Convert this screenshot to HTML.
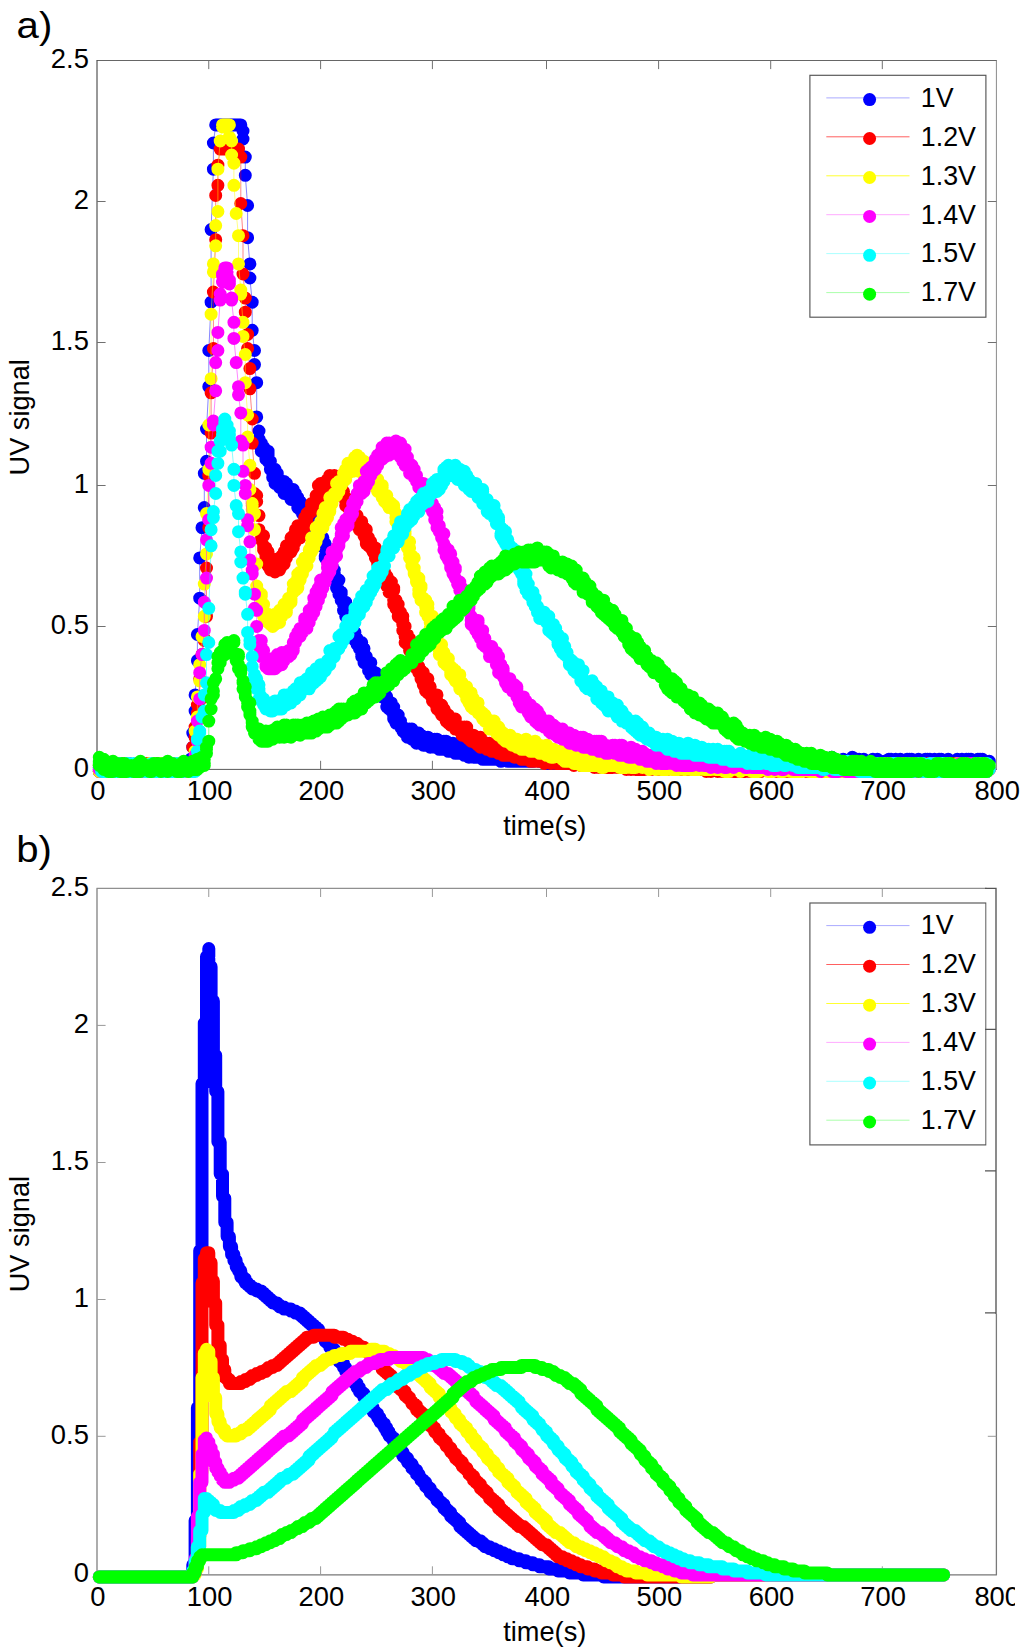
<!DOCTYPE html>
<html><head><meta charset="utf-8"><title>UV signal</title>
<style>html,body{margin:0;padding:0;background:#fff}body{width:1024px;height:1652px;overflow:hidden}svg{display:block}text{font-family:"Liberation Sans", sans-serif}.d{fill:none;stroke-linecap:round;stroke-linejoin:round;stroke-width:13.0}.l{fill:none;stroke-width:0.8;stroke-opacity:.6}</style></head><body>
<svg width="1024" height="1652" viewBox="0 0 1024 1652">
<rect width="1024" height="1652" fill="#fff"/>
<defs><clipPath id="c800"><rect x="0" y="1500" width="1015" height="152"/></clipPath></defs>
<g fill="none" stroke-width="1">
<path d="M96.5 60.5H996.9" stroke="#666"/>
<path d="M996.4 60.5V769.4" stroke="#8a8a8a"/>
<path d="M96.5 769.4H996.9" stroke="#5a5a5a"/>
<path d="M97.0 60.5V769.4" stroke="#333"/>
<path d="M208.75 769.4v-8.6M208.75 60.5v8.6M320.6 769.4v-8.6M320.6 60.5v8.6M432.4 769.4v-8.6M432.4 60.5v8.6M546.5 769.4v-8.6M546.5 60.5v8.6M658.6 769.4v-8.6M658.6 60.5v8.6M770.7 769.4v-8.6M770.7 60.5v8.6M882.3 769.4v-8.6M882.3 60.5v8.6M97.0 626.5h8.6M996.4 626.5h-8.6M97.0 485.5h8.6M996.4 485.5h-8.6M97.0 342.5h8.6M996.4 342.5h-8.6M97.0 201.5h8.6M996.4 201.5h-8.6" stroke="#707070" stroke-width="1"/>
</g>
<polyline class="l" stroke="#0000ff" points="99.3,771.4 99.3,769.4 99.3,767.4 101.6,771.4 101.6,771.4 101.6,763.4 103.8,771.4 103.8,771.4 103.8,763.4 103.8,767.4 106.1,769.4 106.1,769.4 106.1,767.4 106.1,771.4 108.4,771.4 108.4,765.4 108.4,767.4 108.4,769.4 110.7,765.4 110.7,767.4 110.7,763.4 110.7,771.4 113,767.4 113,769.4 113,769.4 113,767.4 115.3,771.4 115.3,765.4 115.3,765.4 115.3,771.4 117.5,769.4 117.5,771.4 117.5,771.4 119.8,765.4 119.8,769.4 119.8,771.4 119.8,767.4 122.1,771.4 122.1,765.4 122.1,771.4 122.1,771.4 124.4,771.4 124.4,769.4 124.4,769.4 124.4,765.4 126.7,767.4 126.7,769.4 126.7,771.4 126.7,771.4 128.9,763.4 128.9,769.4 128.9,767.4 128.9,771.4 131.2,771.4 131.2,765.4 131.2,767.4 131.2,769.4 133.5,769.4 133.5,771.4 133.5,771.4 133.5,771.4 135.8,765.4 135.8,769.4 135.8,771.4 138.1,767.4 138.1,771.4 138.1,771.4 138.1,767.4 140.4,765.4 140.4,771.4 140.4,765.4 140.4,771.4 142.6,771.4 142.6,771.4 142.6,771.4 142.6,767.4 144.9,769.4 144.9,765.4 144.9,771.4 144.9,769.4 147.2,771.4 147.2,763.4 147.2,763.4 147.2,769.4 149.5,769.4 149.5,769.4 149.5,765.4 149.5,771.4 151.8,771.4 151.8,769.4 151.8,771.4 154.1,765.4 154.1,765.4 154.1,767.4 154.1,767.4 156.3,767.4 156.3,765.4 156.3,763.4 156.3,771.4 158.6,767.4 158.6,771.4 158.6,769.4 158.6,765.4 160.9,765.4 160.9,765.4 160.9,771.4 160.9,769.4 163.2,771.4 163.2,763.4 163.2,771.4 163.2,771.4 165.5,769.4 165.5,771.4 165.5,765.4 165.5,767.4 167.7,771.4 167.7,769.4 167.7,771.4 170,767.4 170,771.4 170,771.4 170,771.4 172.3,767.4 172.3,767.4 172.3,769.4 172.3,767.4 174.6,769.4 174.6,771.4 174.6,769.4 174.6,769.4 176.9,763.4 176.9,771.4 176.9,771.4 176.9,767.4 179.2,763.4 179.2,765.4 179.2,767.4 179.2,771.4 181.4,765.4 181.4,767.4 181.4,771.4 181.4,769.4 183.7,771.4 183.7,765.4 183.7,767.4 183.7,765.4 186,765.4 186,771.4 186,765.4 188.3,771.4 188.3,771.4 188.3,767.4 188.3,765.4 190.6,765.4 190.6,761.3 190.6,759.3 190.6,759.3 192.8,747.2 192.8,733.1 195.1,711 195.1,694.9 197.4,660.6 197.4,634.5 199.7,598.2 199.7,557.9 202,527.7 204.3,507.6 204.3,473.3 206.5,461.3 206.5,429 208.8,386.7 208.8,350.5 211.1,302.2 211.1,229.6 213.4,169.2 213.4,143 215.7,124.9 215.7,124.9 215.7,124.9 215.7,124.9 217.9,124.9 217.9,124.9 217.9,124.9 217.9,124.9 220.2,124.9 220.2,124.9 220.2,124.9 222.5,124.9 222.5,124.9 222.5,124.9 222.5,124.9 224.8,124.9 224.8,124.9 224.8,124.9 224.8,124.9 227.1,124.9 227.1,124.9 227.1,124.9 227.1,124.9 229.4,124.9 229.4,124.9 229.4,124.9 229.4,124.9 231.6,124.9 231.6,124.9 231.6,124.9 231.6,124.9 233.9,124.9 233.9,124.9 233.9,124.9 233.9,124.9 236.2,124.9 236.2,124.9 236.2,124.9 238.5,124.9 238.5,124.9 238.5,124.9 238.5,124.9 240.8,124.9 240.8,124.9 240.8,124.9 240.8,124.9 243,131 243,139 245.3,157.1 245.3,175.3 247.6,205.5 247.6,237.7 249.9,263.9 249.9,278 252.2,302.2 252.2,330.3 254.5,350.5 254.5,364.6 256.7,382.7 256.7,416.9 259,431 259,439.1 261.3,443.1 261.3,449.2 261.3,451.2 263.6,451.2 263.6,451.2 263.6,447.2 263.6,449.2 265.9,457.2 265.9,459.2 265.9,457.2 265.9,451.2 268.1,451.2 268.1,461.3 268.1,453.2 268.1,455.2 270.4,465.3 270.4,461.3 270.4,469.3 272.7,473.3 272.7,469.3 272.7,477.4 272.7,471.3 275,471.3 275,469.3 275,479.4 275,483.4 277.3,473.3 277.3,473.3 277.3,473.3 277.3,481.4 279.6,479.4 279.6,485.4 279.6,487.4 279.6,487.4 281.8,481.4 281.8,487.4 281.8,483.4 281.8,487.4 284.1,489.5 284.1,481.4 284.1,493.5 284.1,489.5 286.4,493.5 286.4,483.4 286.4,491.5 286.4,493.5 288.7,495.5 288.7,491.5 288.7,495.5 291,497.5 291,499.5 291,497.5 291,495.5 293.3,495.5 293.3,489.5 293.3,489.5 293.3,491.5 295.5,493.5 295.5,499.5 295.5,499.5 295.5,501.5 297.8,503.6 297.8,507.6 297.8,497.5 297.8,505.6 300.1,509.6 300.1,505.6 300.1,501.5 300.1,507.6 302.4,509.6 302.4,505.6 302.4,513.6 302.4,513.6 304.7,509.6 304.7,511.6 304.7,505.6 306.9,513.6 306.9,509.6 306.9,519.7 306.9,519.7 309.2,515.6 309.2,521.7 309.2,523.7 309.2,523.7 311.5,521.7 311.5,523.7 311.5,521.7 311.5,517.6 313.8,527.7 313.8,529.7 313.8,525.7 313.8,533.8 316.1,531.7 316.1,533.8 316.1,533.8 316.1,537.8 318.4,533.8 318.4,533.8 318.4,531.7 318.4,529.7 320.6,541.8 320.6,537.8 320.6,541.8 320.6,545.8 322.9,537.8 322.9,541.8 322.9,539.8 325.2,543.8 325.2,543.8 325.2,555.9 325.2,557.9 327.5,557.9 327.5,557.9 327.5,553.9 327.5,559.9 329.8,559.9 329.8,557.9 329.8,568 329.8,562 332,572 332,572 332,566 332,568 334.3,574 334.3,576.1 334.3,570 334.3,580.1 336.6,584.1 336.6,584.1 336.6,588.1 336.6,580.1 338.9,590.2 338.9,580.1 338.9,594.2 341.2,594.2 341.2,592.2 341.2,598.2 341.2,600.2 343.5,604.3 343.5,604.3 343.5,610.3 343.5,610.3 345.7,602.2 345.7,614.3 345.7,616.3 345.7,612.3 348,610.3 348,620.4 348,620.4 348,618.4 350.3,618.4 350.3,622.4 350.3,630.4 350.3,632.4 352.6,624.4 352.6,628.4 352.6,626.4 352.6,628.4 354.9,636.5 354.9,640.5 354.9,632.4 354.9,636.5 357.1,640.5 357.1,638.5 357.1,644.5 359.4,646.5 359.4,644.5 359.4,648.6 359.4,646.5 361.7,642.5 361.7,646.5 361.7,654.6 361.7,656.6 364,648.6 364,658.6 364,652.6 364,662.7 366.3,660.6 366.3,660.6 366.3,656.6 366.3,656.6 368.6,668.7 368.6,662.7 368.6,664.7 368.6,670.7 370.8,662.7 370.8,668.7 370.8,662.7 370.8,674.7 373.1,672.7 373.1,674.7 373.1,672.7 375.4,672.7 375.4,676.8 375.4,678.8 375.4,678.8 377.7,680.8 377.7,674.7 377.7,682.8 377.7,682.8 380,686.8 380,688.8 380,678.8 380,690.9 382.2,682.8 382.2,688.8 382.2,684.8 382.2,696.9 384.5,686.8 384.5,690.9 384.5,696.9 384.5,694.9 386.8,696.9 386.8,700.9 386.8,700.9 386.8,707 389.1,709 389.1,702.9 389.1,707 389.1,702.9 391.4,711 391.4,705 391.4,702.9 393.7,707 393.7,707 393.7,717 393.7,719 395.9,719 395.9,719 395.9,721.1 395.9,723.1 398.2,723.1 398.2,715 398.2,723.1 398.2,721.1 400.5,723.1 400.5,721.1 400.5,721.1 400.5,727.1 402.8,727.1 402.8,731.1 402.8,731.1 402.8,731.1 405.1,731.1 405.1,731.1 405.1,729.1 405.1,733.1 407.4,733.1 407.4,729.1 407.4,737.2 409.6,737.2 409.6,737.2 409.6,729.1 409.6,733.1 411.9,733.1 411.9,729.1 411.9,739.2 411.9,731.1 414.2,739.2 414.2,737.2 414.2,735.2 414.2,733.1 416.5,741.2 416.5,739.2 416.5,743.2 416.5,741.2 418.8,733.1 418.8,735.2 418.8,739.2 418.8,737.2 421,735.2 421,743.2 421,735.2 421,741.2 423.3,745.2 423.3,741.2 423.3,741.2 425.6,739.2 425.6,739.2 425.6,745.2 425.6,741.2 427.9,737.2 427.9,741.2 427.9,737.2 427.9,743.2 430.2,739.2 430.2,747.2 430.2,739.2 430.2,745.2 432.5,739.2 432.5,745.2 432.5,743.2 432.5,739.2 434.7,741.2 434.7,743.2 434.7,739.2 434.7,747.2 437,747.2 437,745.2 437,739.2 437,743.2 439.3,747.2 439.3,749.3 439.3,745.2 439.3,745.2 441.6,747.2 441.6,745.2 441.6,749.3 443.9,741.2 443.9,749.3 443.9,749.3 443.9,749.3 446.1,741.2 446.1,749.3 446.1,749.3 446.1,741.2 448.4,749.3 448.4,743.2 448.4,751.3 448.4,743.2 450.7,751.3 450.7,751.3 450.7,745.2 450.7,743.2 453,743.2 453,745.2 453,743.2 453,743.2 455.3,749.3 455.3,753.3 455.3,745.2 455.3,751.3 457.6,751.3 457.6,749.3 457.6,753.3 459.8,753.3 459.8,753.3 459.8,749.3 459.8,747.2 462.1,745.2 462.1,747.2 462.1,745.2 462.1,749.3 464.4,749.3 464.4,751.3 464.4,755.3 464.4,755.3 466.7,749.3 466.7,755.3 466.7,749.3 466.7,753.3 469,755.3 469,753.3 469,753.3 469,757.3 471.2,755.3 471.2,755.3 471.2,755.3 471.2,751.3 473.5,757.3 473.5,755.3 473.5,753.3 473.5,749.3 475.8,757.3 475.8,757.3 475.8,757.3 478.1,757.3 478.1,757.3 478.1,757.3 478.1,757.3 480.4,757.3 480.4,755.3 480.4,753.3 480.4,757.3 482.7,757.3 482.7,759.3 482.7,757.3 482.7,757.3 484.9,755.3 484.9,751.3 484.9,753.3 484.9,757.3 487.2,759.3 487.2,759.3 487.2,757.3 487.2,757.3 489.5,753.3 489.5,759.3 489.5,759.3 489.5,755.3 491.8,755.3 491.8,755.3 491.8,751.3 494.1,759.3 494.1,759.3 494.1,755.3 494.1,755.3 496.4,751.3 496.4,751.3 496.4,755.3 496.4,753.3 498.6,755.3 498.6,759.3 498.6,755.3 498.6,759.3 500.9,759.3 500.9,759.3 500.9,761.3 500.9,753.3 503.2,755.3 503.2,755.3 503.2,759.3 503.2,759.3 505.5,759.3 505.5,757.3 505.5,753.3 505.5,755.3 507.8,753.3 507.8,759.3 507.8,755.3 507.8,761.3 510,757.3 510,761.3 510,757.3 512.3,757.3 512.3,759.3 512.3,759.3 512.3,755.3 514.6,759.3 514.6,759.3 514.6,761.3 514.6,759.3 516.9,755.3 516.9,753.3 516.9,759.3 516.9,753.3 519.2,753.3 519.2,761.3 519.2,761.3 519.2,757.3 521.5,759.3 521.5,753.3 521.5,759.3 521.5,755.3 523.7,757.3 523.7,761.3 523.7,755.3 523.7,759.3 526,761.3 526,761.3 526,759.3 528.3,757.3 528.3,761.3 528.3,755.3 528.3,761.3 530.6,755.3 530.6,761.3 530.6,761.3 530.6,761.3 532.9,759.3 532.9,761.3 532.9,759.3 532.9,755.3 535.1,759.3 535.1,757.3 535.1,759.3 535.1,755.3 537.4,759.3 537.4,757.3 537.4,755.3 537.4,757.3 539.7,759.3 539.7,761.3 539.7,755.3 539.7,757.3 542,755.3 542,761.3 542,759.3 542,755.3 544.3,761.3 544.3,755.3 544.3,759.3 546.6,761.3 546.6,761.3 546.6,763.4 546.6,757.3 548.8,757.3 548.8,763.4 548.8,761.3 548.8,757.3 551.1,761.3 551.1,759.3 551.1,757.3 551.1,759.3 553.4,763.4 553.4,755.3 553.4,757.3 553.4,759.3 555.7,761.3 555.7,759.3 555.7,761.3 555.7,763.4 558,763.4 558,763.4 558,763.4 558,761.3 560.2,759.3 560.2,759.3 560.2,759.3 562.5,757.3 562.5,763.4 562.5,761.3 562.5,763.4 564.8,761.3 564.8,763.4 564.8,763.4 564.8,763.4 567.1,761.3 567.1,757.3 567.1,761.3 567.1,757.3 569.4,763.4 569.4,761.3 569.4,761.3 569.4,763.4 571.7,761.3 571.7,759.3 571.7,757.3 571.7,763.4 573.9,757.3 573.9,759.3 573.9,759.3 573.9,763.4 576.2,757.3 576.2,763.4 576.2,761.3 576.2,761.3 578.5,755.3 578.5,759.3 578.5,755.3 580.8,763.4 580.8,759.3 580.8,759.3 580.8,761.3 583.1,759.3 583.1,761.3 583.1,763.4 583.1,759.3 585.3,763.4 585.3,761.3 585.3,761.3 585.3,763.4 587.6,761.3 587.6,759.3 587.6,763.4 587.6,763.4 589.9,763.4 589.9,759.3 589.9,763.4 589.9,763.4 592.2,761.3 592.2,761.3 592.2,765.4 592.2,755.3 594.5,763.4 594.5,759.3 594.5,763.4 596.8,761.3 596.8,763.4 596.8,763.4 596.8,761.3 599,761.3 599,761.3 599,759.3 599,763.4 601.3,765.4 601.3,763.4 601.3,763.4 601.3,761.3 603.6,761.3 603.6,763.4 603.6,765.4 603.6,761.3 605.9,763.4 605.9,761.3 605.9,759.3 605.9,759.3 608.2,763.4 608.2,763.4 608.2,757.3 608.2,765.4 610.5,759.3 610.5,761.3 610.5,761.3 610.5,763.4 612.7,765.4 612.7,761.3 612.7,765.4 615,757.3 615,759.3 615,763.4 615,761.3 617.3,761.3 617.3,755.3 617.3,765.4 617.3,763.4 619.6,763.4 619.6,759.3 619.6,759.3 619.6,763.4 621.9,765.4 621.9,759.3 621.9,763.4 621.9,765.4 624.1,761.3 624.1,761.3 624.1,763.4 624.1,763.4 626.4,761.3 626.4,763.4 626.4,763.4 626.4,757.3 628.7,761.3 628.7,763.4 628.7,761.3 631,757.3 631,757.3 631,759.3 631,757.3 633.3,759.3 633.3,759.3 633.3,763.4 633.3,765.4 635.6,759.3 635.6,761.3 635.6,757.3 635.6,763.4 637.8,757.3 637.8,763.4 637.8,757.3 637.8,755.3 640.1,765.4 640.1,763.4 640.1,755.3 640.1,757.3 642.4,759.3 642.4,765.4 642.4,765.4 642.4,763.4 644.7,757.3 644.7,759.3 644.7,763.4 644.7,759.3 647,757.3 647,763.4 647,757.3 649.2,763.4 649.2,763.4 649.2,765.4 649.2,765.4 651.5,761.3 651.5,765.4 651.5,761.3 651.5,765.4 653.8,759.3 653.8,765.4 653.8,765.4 653.8,763.4 656.1,761.3 656.1,759.3 656.1,759.3 656.1,759.3 658.4,759.3 658.4,761.3 658.4,763.4 658.4,765.4 660.7,757.3 660.7,763.4 660.7,761.3 660.7,765.4 662.9,763.4 662.9,765.4 662.9,763.4 665.2,759.3 665.2,763.4 665.2,759.3 665.2,765.4 667.5,763.4 667.5,763.4 667.5,761.3 667.5,765.4 669.8,759.3 669.8,757.3 669.8,759.3 669.8,765.4 672.1,761.3 672.1,763.4 672.1,761.3 672.1,765.4 674.3,759.3 674.3,763.4 674.3,757.3 674.3,765.4 676.6,763.4 676.6,763.4 676.6,759.3 676.6,759.3 678.9,765.4 678.9,763.4 678.9,759.3 678.9,763.4 681.2,763.4 681.2,757.3 681.2,759.3 683.5,763.4 683.5,761.3 683.5,757.3 683.5,765.4 685.8,757.3 685.8,757.3 685.8,759.3 685.8,761.3 688,761.3 688,761.3 688,761.3 688,765.4 690.3,761.3 690.3,761.3 690.3,763.4 690.3,761.3 692.6,763.4 692.6,759.3 692.6,759.3 692.6,765.4 694.9,759.3 694.9,763.4 694.9,765.4 694.9,765.4 697.2,763.4 697.2,761.3 697.2,763.4 699.4,765.4 699.4,759.3 699.4,763.4 699.4,757.3 701.7,765.4 701.7,761.3 701.7,763.4 701.7,759.3 704,761.3 704,761.3 704,765.4 704,759.3 706.3,763.4 706.3,759.3 706.3,759.3 706.3,765.4 708.6,765.4 708.6,759.3 708.6,757.3 708.6,757.3 710.9,763.4 710.9,759.3 710.9,765.4 710.9,765.4 713.1,761.3 713.1,761.3 713.1,759.3 715.4,765.4 715.4,763.4 715.4,757.3 715.4,763.4 717.7,763.4 717.7,761.3 717.7,757.3 717.7,765.4 720,761.3 720,763.4 720,763.4 720,765.4 722.3,763.4 722.3,761.3 722.3,763.4 722.3,763.4 724.5,761.3 724.5,759.3 724.5,761.3 724.5,763.4 726.8,757.3 726.8,765.4 726.8,765.4 726.8,757.3 729.1,765.4 729.1,765.4 729.1,763.4 729.1,763.4 731.4,763.4 731.4,759.3 731.4,765.4 733.7,765.4 733.7,765.4 733.7,757.3 733.7,763.4 736,763.4 736,759.3 736,757.3 736,763.4 738.2,759.3 738.2,765.4 738.2,763.4 738.2,761.3 740.5,765.4 740.5,765.4 740.5,765.4 740.5,765.4 742.8,759.3 742.8,759.3 742.8,765.4 742.8,763.4 745.1,761.3 745.1,759.3 745.1,761.3 745.1,761.3 747.4,765.4 747.4,759.3 747.4,759.3 749.7,763.4 749.7,765.4 749.7,765.4 749.7,761.3 751.9,761.3 751.9,765.4 751.9,763.4 751.9,757.3 754.2,765.4 754.2,765.4 754.2,765.4 754.2,763.4 756.5,763.4 756.5,759.3 756.5,765.4 756.5,765.4 758.8,757.3 758.8,765.4 758.8,765.4 758.8,763.4 761.1,765.4 761.1,765.4 761.1,761.3 761.1,761.3 763.3,761.3 763.3,761.3 763.3,761.3 763.3,765.4 765.6,761.3 765.6,761.3 765.6,765.4 767.9,763.4 767.9,765.4 767.9,759.3 767.9,765.4 770.2,765.4 770.2,759.3 770.2,759.3 770.2,759.3 772.5,761.3 772.5,763.4 772.5,763.4 772.5,763.4 774.8,761.3 774.8,757.3 774.8,765.4 774.8,759.3 777,765.4 777,765.4 777,757.3 777,765.4 779.3,763.4 779.3,759.3 779.3,761.3 779.3,763.4 781.6,761.3 781.6,757.3 781.6,757.3 783.9,765.4 783.9,765.4 783.9,765.4 783.9,765.4 786.2,759.3 786.2,759.3 786.2,765.4 786.2,765.4 788.4,765.4 788.4,761.3 788.4,759.3 788.4,763.4 790.7,761.3 790.7,759.3 790.7,759.3 790.7,765.4 793,761.3 793,759.3 793,759.3 793,763.4 795.3,765.4 795.3,763.4 795.3,763.4 795.3,763.4 797.6,759.3 797.6,761.3 797.6,761.3 797.6,761.3 799.9,765.4 799.9,765.4 799.9,763.4 802.1,759.3 802.1,761.3 802.1,759.3 802.1,761.3 804.4,759.3 804.4,757.3 804.4,761.3 804.4,759.3 806.7,757.3 806.7,761.3 806.7,759.3 806.7,765.4 809,767.4 809,759.3 809,765.4 809,765.4 811.3,765.4 811.3,761.3 811.3,767.4 811.3,759.3 813.5,765.4 813.5,761.3 813.5,759.3 813.5,761.3 815.8,763.4 815.8,761.3 815.8,759.3 818.1,761.3 818.1,765.4 818.1,767.4 818.1,759.3 820.4,761.3 820.4,767.4 820.4,763.4 820.4,763.4 822.7,765.4 822.7,759.3 822.7,765.4 822.7,765.4 825,765.4 825,765.4 825,759.3 825,761.3 827.2,767.4 827.2,765.4 827.2,767.4 827.2,761.3 829.5,759.3 829.5,767.4 829.5,763.4 829.5,765.4 831.8,765.4 831.8,761.3 831.8,757.3 831.8,765.4 834.1,763.4 834.1,765.4 834.1,767.4 836.4,763.4 836.4,767.4 836.4,761.3 836.4,761.3 838.6,767.4 838.6,763.4 838.6,765.4 838.6,761.3 840.9,765.4 840.9,761.3 840.9,763.4 840.9,763.4 843.2,765.4 843.2,759.3 843.2,765.4 843.2,761.3 845.5,763.4 845.5,765.4 845.5,761.3 845.5,765.4 847.8,761.3 847.8,765.4 847.8,761.3 847.8,761.3 850.1,759.3 850.1,765.4 850.1,765.4 852.3,757.3 852.3,763.4 852.3,765.4 852.3,761.3 854.6,765.4 854.6,759.3 854.6,761.3 854.6,763.4 856.9,765.4 856.9,761.3 856.9,759.3 856.9,761.3 859.2,759.3 859.2,767.4 859.2,761.3 859.2,759.3 861.5,763.4 861.5,767.4 861.5,763.4 861.5,765.4 863.8,767.4 863.8,759.3 863.8,761.3 863.8,763.4 866,761.3 866,761.3 866,763.4 866,767.4 868.3,765.4 868.3,763.4 868.3,763.4 870.6,765.4 870.6,767.4 870.6,765.4 870.6,767.4 872.9,759.3 872.9,765.4 872.9,765.4 872.9,763.4 875.2,765.4 875.2,763.4 875.2,763.4 875.2,767.4 877.4,759.3 877.4,763.4 877.4,767.4 877.4,759.3 879.7,767.4 879.7,761.3 879.7,763.4 879.7,765.4 882,765.4 882,763.4 882,765.4 882,765.4 884.3,765.4 884.3,765.4 884.3,761.3 886.6,765.4 886.6,767.4 886.6,761.3 886.6,767.4 888.9,763.4 888.9,763.4 888.9,759.3 888.9,767.4 891.1,759.3 891.1,767.4 891.1,767.4 891.1,763.4 893.4,767.4 893.4,763.4 893.4,761.3 893.4,767.4 895.7,761.3 895.7,765.4 895.7,759.3 895.7,767.4 898,767.4 898,763.4 898,765.4 898,765.4 900.3,759.3 900.3,765.4 900.3,767.4 900.3,767.4 902.5,763.4 902.5,761.3 902.5,761.3 904.8,763.4 904.8,765.4 904.8,767.4 904.8,765.4 907.1,765.4 907.1,759.3 907.1,765.4 907.1,767.4 909.4,763.4 909.4,765.4 909.4,767.4 909.4,759.3 911.7,759.3 911.7,765.4 911.7,761.3 911.7,765.4 914,761.3 914,763.4 914,761.3 914,765.4 916.2,767.4 916.2,761.3 916.2,765.4 916.2,765.4 918.5,761.3 918.5,761.3 918.5,759.3 920.8,765.4 920.8,763.4 920.8,767.4 920.8,767.4 923.1,765.4 923.1,765.4 923.1,765.4 923.1,765.4 925.4,759.3 925.4,765.4 925.4,765.4 925.4,759.3 927.6,761.3 927.6,761.3 927.6,759.3 927.6,761.3 929.9,765.4 929.9,759.3 929.9,767.4 929.9,759.3 932.2,765.4 932.2,765.4 932.2,763.4 932.2,765.4 934.5,759.3 934.5,761.3 934.5,761.3 934.5,765.4 936.8,765.4 936.8,767.4 936.8,761.3 939.1,767.4 939.1,765.4 939.1,767.4 939.1,759.3 941.3,759.3 941.3,765.4 941.3,759.3 941.3,767.4 943.6,761.3 943.6,765.4 943.6,765.4 943.6,763.4 945.9,765.4 945.9,765.4 945.9,763.4 945.9,761.3 948.2,759.3 948.2,765.4 948.2,765.4 948.2,767.4 950.5,765.4 950.5,767.4 950.5,765.4 950.5,761.3 952.8,767.4 952.8,763.4 952.8,765.4 955,765.4 955,763.4 955,765.4 955,765.4 957.3,767.4 957.3,763.4 957.3,759.3 957.3,767.4 959.6,767.4 959.6,763.4 959.6,765.4 959.6,765.4 961.9,759.3 961.9,765.4 961.9,759.3 961.9,763.4 964.2,767.4 964.2,765.4 964.2,767.4 964.2,763.4 966.4,759.3 966.4,767.4 966.4,767.4 966.4,767.4 968.7,765.4 968.7,767.4 968.7,759.3 971,761.3 971,759.3 971,763.4 971,761.3 973.3,761.3 973.3,765.4 973.3,763.4 973.3,765.4 975.6,763.4 975.6,761.3 975.6,765.4 975.6,767.4 977.9,759.3 977.9,763.4 977.9,767.4 977.9,765.4 980.1,765.4 980.1,759.3 980.1,763.4 980.1,759.3 982.4,763.4 982.4,759.3 982.4,759.3 982.4,763.4 984.7,761.3 984.7,765.4 984.7,767.4 984.7,763.4 987,767.4 987,763.4 987,763.4 989.3,761.3"/>
<path class="d" stroke="#0000ff" d="M99.3 771.4h0M99.3 769.4h0M99.3 767.4h0M101.6 771.4h0M101.6 771.4h0M101.6 763.4h0M103.8 771.4h0M103.8 771.4h0M103.8 763.4h0M103.8 767.4h0M106.1 769.4h0M106.1 769.4h0M106.1 767.4h0M106.1 771.4h0M108.4 771.4h0M108.4 765.4h0M108.4 767.4h0M108.4 769.4h0M110.7 765.4h0M110.7 767.4h0M110.7 763.4h0M110.7 771.4h0M113 767.4h0M113 769.4h0M113 769.4h0M113 767.4h0M115.3 771.4h0M115.3 765.4h0M115.3 765.4h0M115.3 771.4h0M117.5 769.4h0M117.5 771.4h0M117.5 771.4h0M119.8 765.4h0M119.8 769.4h0M119.8 771.4h0M119.8 767.4h0M122.1 771.4h0M122.1 765.4h0M122.1 771.4h0M122.1 771.4h0M124.4 771.4h0M124.4 769.4h0M124.4 769.4h0M124.4 765.4h0M126.7 767.4h0M126.7 769.4h0M126.7 771.4h0M126.7 771.4h0M128.9 763.4h0M128.9 769.4h0M128.9 767.4h0M128.9 771.4h0M131.2 771.4h0M131.2 765.4h0M131.2 767.4h0M131.2 769.4h0M133.5 769.4h0M133.5 771.4h0M133.5 771.4h0M133.5 771.4h0M135.8 765.4h0M135.8 769.4h0M135.8 771.4h0M138.1 767.4h0M138.1 771.4h0M138.1 771.4h0M138.1 767.4h0M140.4 765.4h0M140.4 771.4h0M140.4 765.4h0M140.4 771.4h0M142.6 771.4h0M142.6 771.4h0M142.6 771.4h0M142.6 767.4h0M144.9 769.4h0M144.9 765.4h0M144.9 771.4h0M144.9 769.4h0M147.2 771.4h0M147.2 763.4h0M147.2 763.4h0M147.2 769.4h0M149.5 769.4h0M149.5 769.4h0M149.5 765.4h0M149.5 771.4h0M151.8 771.4h0M151.8 769.4h0M151.8 771.4h0M154.1 765.4h0M154.1 765.4h0M154.1 767.4h0M154.1 767.4h0M156.3 767.4h0M156.3 765.4h0M156.3 763.4h0M156.3 771.4h0M158.6 767.4h0M158.6 771.4h0M158.6 769.4h0M158.6 765.4h0M160.9 765.4h0M160.9 765.4h0M160.9 771.4h0M160.9 769.4h0M163.2 771.4h0M163.2 763.4h0M163.2 771.4h0M163.2 771.4h0M165.5 769.4h0M165.5 771.4h0M165.5 765.4h0M165.5 767.4h0M167.7 771.4h0M167.7 769.4h0M167.7 771.4h0M170 767.4h0M170 771.4h0M170 771.4h0M170 771.4h0M172.3 767.4h0M172.3 767.4h0M172.3 769.4h0M172.3 767.4h0M174.6 769.4h0M174.6 771.4h0M174.6 769.4h0M174.6 769.4h0M176.9 763.4h0M176.9 771.4h0M176.9 771.4h0M176.9 767.4h0M179.2 763.4h0M179.2 765.4h0M179.2 767.4h0M179.2 771.4h0M181.4 765.4h0M181.4 767.4h0M181.4 771.4h0M181.4 769.4h0M183.7 771.4h0M183.7 765.4h0M183.7 767.4h0M183.7 765.4h0M186 765.4h0M186 771.4h0M186 765.4h0M188.3 771.4h0M188.3 771.4h0M188.3 767.4h0M188.3 765.4h0M190.6 765.4h0M190.6 761.3h0M190.6 759.3h0M190.6 759.3h0M192.8 747.2h0M192.8 733.1h0M195.1 711h0M195.1 694.9h0M197.4 660.6h0M197.4 634.5h0M199.7 598.2h0M199.7 557.9h0M202 527.7h0M204.3 507.6h0M204.3 473.3h0M206.5 461.3h0M206.5 429h0M208.8 386.7h0M208.8 350.5h0M211.1 302.2h0M211.1 229.6h0M213.4 169.2h0M213.4 143h0M215.7 124.9h0M215.7 124.9h0M215.7 124.9h0M215.7 124.9h0M217.9 124.9h0M217.9 124.9h0M217.9 124.9h0M217.9 124.9h0M220.2 124.9h0M220.2 124.9h0M220.2 124.9h0M222.5 124.9h0M222.5 124.9h0M222.5 124.9h0M222.5 124.9h0M224.8 124.9h0M224.8 124.9h0M224.8 124.9h0M224.8 124.9h0M227.1 124.9h0M227.1 124.9h0M227.1 124.9h0M227.1 124.9h0M229.4 124.9h0M229.4 124.9h0M229.4 124.9h0M229.4 124.9h0M231.6 124.9h0M231.6 124.9h0M231.6 124.9h0M231.6 124.9h0M233.9 124.9h0M233.9 124.9h0M233.9 124.9h0M233.9 124.9h0M236.2 124.9h0M236.2 124.9h0M236.2 124.9h0M238.5 124.9h0M238.5 124.9h0M238.5 124.9h0M238.5 124.9h0M240.8 124.9h0M240.8 124.9h0M240.8 124.9h0M240.8 124.9h0M243 131h0M243 139h0M245.3 157.1h0M245.3 175.3h0M247.6 205.5h0M247.6 237.7h0M249.9 263.9h0M249.9 278h0M252.2 302.2h0M252.2 330.3h0M254.5 350.5h0M254.5 364.6h0M256.7 382.7h0M256.7 416.9h0M259 431h0M259 439.1h0M261.3 443.1h0M261.3 449.2h0M261.3 451.2h0M263.6 451.2h0M263.6 451.2h0M263.6 447.2h0M263.6 449.2h0M265.9 457.2h0M265.9 459.2h0M265.9 457.2h0M265.9 451.2h0M268.1 451.2h0M268.1 461.3h0M268.1 453.2h0M268.1 455.2h0M270.4 465.3h0M270.4 461.3h0M270.4 469.3h0M272.7 473.3h0M272.7 469.3h0M272.7 477.4h0M272.7 471.3h0M275 471.3h0M275 469.3h0M275 479.4h0M275 483.4h0M277.3 473.3h0M277.3 473.3h0M277.3 473.3h0M277.3 481.4h0M279.6 479.4h0M279.6 485.4h0M279.6 487.4h0M279.6 487.4h0M281.8 481.4h0M281.8 487.4h0M281.8 483.4h0M281.8 487.4h0M284.1 489.5h0M284.1 481.4h0M284.1 493.5h0M284.1 489.5h0M286.4 493.5h0M286.4 483.4h0M286.4 491.5h0M286.4 493.5h0M288.7 495.5h0M288.7 491.5h0M288.7 495.5h0M291 497.5h0M291 499.5h0M291 497.5h0M291 495.5h0M293.3 495.5h0M293.3 489.5h0M293.3 489.5h0M293.3 491.5h0M295.5 493.5h0M295.5 499.5h0M295.5 499.5h0M295.5 501.5h0M297.8 503.6h0M297.8 507.6h0M297.8 497.5h0M297.8 505.6h0M300.1 509.6h0M300.1 505.6h0M300.1 501.5h0M300.1 507.6h0M302.4 509.6h0M302.4 505.6h0M302.4 513.6h0M302.4 513.6h0M304.7 509.6h0M304.7 511.6h0M304.7 505.6h0M306.9 513.6h0M306.9 509.6h0M306.9 519.7h0M306.9 519.7h0M309.2 515.6h0M309.2 521.7h0M309.2 523.7h0M309.2 523.7h0M311.5 521.7h0M311.5 523.7h0M311.5 521.7h0M311.5 517.6h0M313.8 527.7h0M313.8 529.7h0M313.8 525.7h0M313.8 533.8h0M316.1 531.7h0M316.1 533.8h0M316.1 533.8h0M316.1 537.8h0M318.4 533.8h0M318.4 533.8h0M318.4 531.7h0M318.4 529.7h0M320.6 541.8h0M320.6 537.8h0M320.6 541.8h0M320.6 545.8h0M322.9 537.8h0M322.9 541.8h0M322.9 539.8h0M325.2 543.8h0M325.2 543.8h0M325.2 555.9h0M325.2 557.9h0M327.5 557.9h0M327.5 557.9h0M327.5 553.9h0M327.5 559.9h0M329.8 559.9h0M329.8 557.9h0M329.8 568h0M329.8 562h0M332 572h0M332 572h0M332 566h0M332 568h0M334.3 574h0M334.3 576.1h0M334.3 570h0M334.3 580.1h0M336.6 584.1h0M336.6 584.1h0M336.6 588.1h0M336.6 580.1h0M338.9 590.2h0M338.9 580.1h0M338.9 594.2h0M341.2 594.2h0M341.2 592.2h0M341.2 598.2h0M341.2 600.2h0M343.5 604.3h0M343.5 604.3h0M343.5 610.3h0M343.5 610.3h0M345.7 602.2h0M345.7 614.3h0M345.7 616.3h0M345.7 612.3h0M348 610.3h0M348 620.4h0M348 620.4h0M348 618.4h0M350.3 618.4h0M350.3 622.4h0M350.3 630.4h0M350.3 632.4h0M352.6 624.4h0M352.6 628.4h0M352.6 626.4h0M352.6 628.4h0M354.9 636.5h0M354.9 640.5h0M354.9 632.4h0M354.9 636.5h0M357.1 640.5h0M357.1 638.5h0M357.1 644.5h0M359.4 646.5h0M359.4 644.5h0M359.4 648.6h0M359.4 646.5h0M361.7 642.5h0M361.7 646.5h0M361.7 654.6h0M361.7 656.6h0M364 648.6h0M364 658.6h0M364 652.6h0M364 662.7h0M366.3 660.6h0M366.3 660.6h0M366.3 656.6h0M366.3 656.6h0M368.6 668.7h0M368.6 662.7h0M368.6 664.7h0M368.6 670.7h0M370.8 662.7h0M370.8 668.7h0M370.8 662.7h0M370.8 674.7h0M373.1 672.7h0M373.1 674.7h0M373.1 672.7h0M375.4 672.7h0M375.4 676.8h0M375.4 678.8h0M375.4 678.8h0M377.7 680.8h0M377.7 674.7h0M377.7 682.8h0M377.7 682.8h0M380 686.8h0M380 688.8h0M380 678.8h0M380 690.9h0M382.2 682.8h0M382.2 688.8h0M382.2 684.8h0M382.2 696.9h0M384.5 686.8h0M384.5 690.9h0M384.5 696.9h0M384.5 694.9h0M386.8 696.9h0M386.8 700.9h0M386.8 700.9h0M386.8 707h0M389.1 709h0M389.1 702.9h0M389.1 707h0M389.1 702.9h0M391.4 711h0M391.4 705h0M391.4 702.9h0M393.7 707h0M393.7 707h0M393.7 717h0M393.7 719h0M395.9 719h0M395.9 719h0M395.9 721.1h0M395.9 723.1h0M398.2 723.1h0M398.2 715h0M398.2 723.1h0M398.2 721.1h0M400.5 723.1h0M400.5 721.1h0M400.5 721.1h0M400.5 727.1h0M402.8 727.1h0M402.8 731.1h0M402.8 731.1h0M402.8 731.1h0M405.1 731.1h0M405.1 731.1h0M405.1 729.1h0M405.1 733.1h0M407.4 733.1h0M407.4 729.1h0M407.4 737.2h0M409.6 737.2h0M409.6 737.2h0M409.6 729.1h0M409.6 733.1h0M411.9 733.1h0M411.9 729.1h0M411.9 739.2h0M411.9 731.1h0M414.2 739.2h0M414.2 737.2h0M414.2 735.2h0M414.2 733.1h0M416.5 741.2h0M416.5 739.2h0M416.5 743.2h0M416.5 741.2h0M418.8 733.1h0M418.8 735.2h0M418.8 739.2h0M418.8 737.2h0M421 735.2h0M421 743.2h0M421 735.2h0M421 741.2h0M423.3 745.2h0M423.3 741.2h0M423.3 741.2h0M425.6 739.2h0M425.6 739.2h0M425.6 745.2h0M425.6 741.2h0M427.9 737.2h0M427.9 741.2h0M427.9 737.2h0M427.9 743.2h0M430.2 739.2h0M430.2 747.2h0M430.2 739.2h0M430.2 745.2h0M432.5 739.2h0M432.5 745.2h0M432.5 743.2h0M432.5 739.2h0M434.7 741.2h0M434.7 743.2h0M434.7 739.2h0M434.7 747.2h0M437 747.2h0M437 745.2h0M437 739.2h0M437 743.2h0M439.3 747.2h0M439.3 749.3h0M439.3 745.2h0M439.3 745.2h0M441.6 747.2h0M441.6 745.2h0M441.6 749.3h0M443.9 741.2h0M443.9 749.3h0M443.9 749.3h0M443.9 749.3h0M446.1 741.2h0M446.1 749.3h0M446.1 749.3h0M446.1 741.2h0M448.4 749.3h0M448.4 743.2h0M448.4 751.3h0M448.4 743.2h0M450.7 751.3h0M450.7 751.3h0M450.7 745.2h0M450.7 743.2h0M453 743.2h0M453 745.2h0M453 743.2h0M453 743.2h0M455.3 749.3h0M455.3 753.3h0M455.3 745.2h0M455.3 751.3h0M457.6 751.3h0M457.6 749.3h0M457.6 753.3h0M459.8 753.3h0M459.8 753.3h0M459.8 749.3h0M459.8 747.2h0M462.1 745.2h0M462.1 747.2h0M462.1 745.2h0M462.1 749.3h0M464.4 749.3h0M464.4 751.3h0M464.4 755.3h0M464.4 755.3h0M466.7 749.3h0M466.7 755.3h0M466.7 749.3h0M466.7 753.3h0M469 755.3h0M469 753.3h0M469 753.3h0M469 757.3h0M471.2 755.3h0M471.2 755.3h0M471.2 755.3h0M471.2 751.3h0M473.5 757.3h0M473.5 755.3h0M473.5 753.3h0M473.5 749.3h0M475.8 757.3h0M475.8 757.3h0M475.8 757.3h0M478.1 757.3h0M478.1 757.3h0M478.1 757.3h0M478.1 757.3h0M480.4 757.3h0M480.4 755.3h0M480.4 753.3h0M480.4 757.3h0M482.7 757.3h0M482.7 759.3h0M482.7 757.3h0M482.7 757.3h0M484.9 755.3h0M484.9 751.3h0M484.9 753.3h0M484.9 757.3h0M487.2 759.3h0M487.2 759.3h0M487.2 757.3h0M487.2 757.3h0M489.5 753.3h0M489.5 759.3h0M489.5 759.3h0M489.5 755.3h0M491.8 755.3h0M491.8 755.3h0M491.8 751.3h0M494.1 759.3h0M494.1 759.3h0M494.1 755.3h0M494.1 755.3h0M496.4 751.3h0M496.4 751.3h0M496.4 755.3h0M496.4 753.3h0M498.6 755.3h0M498.6 759.3h0M498.6 755.3h0M498.6 759.3h0M500.9 759.3h0M500.9 759.3h0M500.9 761.3h0M500.9 753.3h0M503.2 755.3h0M503.2 755.3h0M503.2 759.3h0M503.2 759.3h0M505.5 759.3h0M505.5 757.3h0M505.5 753.3h0M505.5 755.3h0M507.8 753.3h0M507.8 759.3h0M507.8 755.3h0M507.8 761.3h0M510 757.3h0M510 761.3h0M510 757.3h0M512.3 757.3h0M512.3 759.3h0M512.3 759.3h0M512.3 755.3h0M514.6 759.3h0M514.6 759.3h0M514.6 761.3h0M514.6 759.3h0M516.9 755.3h0M516.9 753.3h0M516.9 759.3h0M516.9 753.3h0M519.2 753.3h0M519.2 761.3h0M519.2 761.3h0M519.2 757.3h0M521.5 759.3h0M521.5 753.3h0M521.5 759.3h0M521.5 755.3h0M523.7 757.3h0M523.7 761.3h0M523.7 755.3h0M523.7 759.3h0M526 761.3h0M526 761.3h0M526 759.3h0M528.3 757.3h0M528.3 761.3h0M528.3 755.3h0M528.3 761.3h0M530.6 755.3h0M530.6 761.3h0M530.6 761.3h0M530.6 761.3h0M532.9 759.3h0M532.9 761.3h0M532.9 759.3h0M532.9 755.3h0M535.1 759.3h0M535.1 757.3h0M535.1 759.3h0M535.1 755.3h0M537.4 759.3h0M537.4 757.3h0M537.4 755.3h0M537.4 757.3h0M539.7 759.3h0M539.7 761.3h0M539.7 755.3h0M539.7 757.3h0M542 755.3h0M542 761.3h0M542 759.3h0M542 755.3h0M544.3 761.3h0M544.3 755.3h0M544.3 759.3h0M546.6 761.3h0M546.6 761.3h0M546.6 763.4h0M546.6 757.3h0M548.8 757.3h0M548.8 763.4h0M548.8 761.3h0M548.8 757.3h0M551.1 761.3h0M551.1 759.3h0M551.1 757.3h0M551.1 759.3h0M553.4 763.4h0M553.4 755.3h0M553.4 757.3h0M553.4 759.3h0M555.7 761.3h0M555.7 759.3h0M555.7 761.3h0M555.7 763.4h0M558 763.4h0M558 763.4h0M558 763.4h0M558 761.3h0M560.2 759.3h0M560.2 759.3h0M560.2 759.3h0M562.5 757.3h0M562.5 763.4h0M562.5 761.3h0M562.5 763.4h0M564.8 761.3h0M564.8 763.4h0M564.8 763.4h0M564.8 763.4h0M567.1 761.3h0M567.1 757.3h0M567.1 761.3h0M567.1 757.3h0M569.4 763.4h0M569.4 761.3h0M569.4 761.3h0M569.4 763.4h0M571.7 761.3h0M571.7 759.3h0M571.7 757.3h0M571.7 763.4h0M573.9 757.3h0M573.9 759.3h0M573.9 759.3h0M573.9 763.4h0M576.2 757.3h0M576.2 763.4h0M576.2 761.3h0M576.2 761.3h0M578.5 755.3h0M578.5 759.3h0M578.5 755.3h0M580.8 763.4h0M580.8 759.3h0M580.8 759.3h0M580.8 761.3h0M583.1 759.3h0M583.1 761.3h0M583.1 763.4h0M583.1 759.3h0M585.3 763.4h0M585.3 761.3h0M585.3 761.3h0M585.3 763.4h0M587.6 761.3h0M587.6 759.3h0M587.6 763.4h0M587.6 763.4h0M589.9 763.4h0M589.9 759.3h0M589.9 763.4h0M589.9 763.4h0M592.2 761.3h0M592.2 761.3h0M592.2 765.4h0M592.2 755.3h0M594.5 763.4h0M594.5 759.3h0M594.5 763.4h0M596.8 761.3h0M596.8 763.4h0M596.8 763.4h0M596.8 761.3h0M599 761.3h0M599 761.3h0M599 759.3h0M599 763.4h0M601.3 765.4h0M601.3 763.4h0M601.3 763.4h0M601.3 761.3h0M603.6 761.3h0M603.6 763.4h0M603.6 765.4h0M603.6 761.3h0M605.9 763.4h0M605.9 761.3h0M605.9 759.3h0M605.9 759.3h0M608.2 763.4h0M608.2 763.4h0M608.2 757.3h0M608.2 765.4h0M610.5 759.3h0M610.5 761.3h0M610.5 761.3h0M610.5 763.4h0M612.7 765.4h0M612.7 761.3h0M612.7 765.4h0M615 757.3h0M615 759.3h0M615 763.4h0M615 761.3h0M617.3 761.3h0M617.3 755.3h0M617.3 765.4h0M617.3 763.4h0M619.6 763.4h0M619.6 759.3h0M619.6 759.3h0M619.6 763.4h0M621.9 765.4h0M621.9 759.3h0M621.9 763.4h0M621.9 765.4h0M624.1 761.3h0M624.1 761.3h0M624.1 763.4h0M624.1 763.4h0M626.4 761.3h0M626.4 763.4h0M626.4 763.4h0M626.4 757.3h0M628.7 761.3h0M628.7 763.4h0M628.7 761.3h0M631 757.3h0M631 757.3h0M631 759.3h0M631 757.3h0M633.3 759.3h0M633.3 759.3h0M633.3 763.4h0M633.3 765.4h0M635.6 759.3h0M635.6 761.3h0M635.6 757.3h0M635.6 763.4h0M637.8 757.3h0M637.8 763.4h0M637.8 757.3h0M637.8 755.3h0M640.1 765.4h0M640.1 763.4h0M640.1 755.3h0M640.1 757.3h0M642.4 759.3h0M642.4 765.4h0M642.4 765.4h0M642.4 763.4h0M644.7 757.3h0M644.7 759.3h0M644.7 763.4h0M644.7 759.3h0M647 757.3h0M647 763.4h0M647 757.3h0M649.2 763.4h0M649.2 763.4h0M649.2 765.4h0M649.2 765.4h0M651.5 761.3h0M651.5 765.4h0M651.5 761.3h0M651.5 765.4h0M653.8 759.3h0M653.8 765.4h0M653.8 765.4h0M653.8 763.4h0M656.1 761.3h0M656.1 759.3h0M656.1 759.3h0M656.1 759.3h0M658.4 759.3h0M658.4 761.3h0M658.4 763.4h0M658.4 765.4h0M660.7 757.3h0M660.7 763.4h0M660.7 761.3h0M660.7 765.4h0M662.9 763.4h0M662.9 765.4h0M662.9 763.4h0M665.2 759.3h0M665.2 763.4h0M665.2 759.3h0M665.2 765.4h0M667.5 763.4h0M667.5 763.4h0M667.5 761.3h0M667.5 765.4h0M669.8 759.3h0M669.8 757.3h0M669.8 759.3h0M669.8 765.4h0M672.1 761.3h0M672.1 763.4h0M672.1 761.3h0M672.1 765.4h0M674.3 759.3h0M674.3 763.4h0M674.3 757.3h0M674.3 765.4h0M676.6 763.4h0M676.6 763.4h0M676.6 759.3h0M676.6 759.3h0M678.9 765.4h0M678.9 763.4h0M678.9 759.3h0M678.9 763.4h0M681.2 763.4h0M681.2 757.3h0M681.2 759.3h0M683.5 763.4h0M683.5 761.3h0M683.5 757.3h0M683.5 765.4h0M685.8 757.3h0M685.8 757.3h0M685.8 759.3h0M685.8 761.3h0M688 761.3h0M688 761.3h0M688 761.3h0M688 765.4h0M690.3 761.3h0M690.3 761.3h0M690.3 763.4h0M690.3 761.3h0M692.6 763.4h0M692.6 759.3h0M692.6 759.3h0M692.6 765.4h0M694.9 759.3h0M694.9 763.4h0M694.9 765.4h0M694.9 765.4h0M697.2 763.4h0M697.2 761.3h0M697.2 763.4h0M699.4 765.4h0M699.4 759.3h0M699.4 763.4h0M699.4 757.3h0M701.7 765.4h0M701.7 761.3h0M701.7 763.4h0M701.7 759.3h0M704 761.3h0M704 761.3h0M704 765.4h0M704 759.3h0M706.3 763.4h0M706.3 759.3h0M706.3 759.3h0M706.3 765.4h0M708.6 765.4h0M708.6 759.3h0M708.6 757.3h0M708.6 757.3h0M710.9 763.4h0M710.9 759.3h0M710.9 765.4h0M710.9 765.4h0M713.1 761.3h0M713.1 761.3h0M713.1 759.3h0M715.4 765.4h0M715.4 763.4h0M715.4 757.3h0M715.4 763.4h0M717.7 763.4h0M717.7 761.3h0M717.7 757.3h0M717.7 765.4h0M720 761.3h0M720 763.4h0M720 763.4h0M720 765.4h0M722.3 763.4h0M722.3 761.3h0M722.3 763.4h0M722.3 763.4h0M724.5 761.3h0M724.5 759.3h0M724.5 761.3h0M724.5 763.4h0M726.8 757.3h0M726.8 765.4h0M726.8 765.4h0M726.8 757.3h0M729.1 765.4h0M729.1 765.4h0M729.1 763.4h0M729.1 763.4h0M731.4 763.4h0M731.4 759.3h0M731.4 765.4h0M733.7 765.4h0M733.7 765.4h0M733.7 757.3h0M733.7 763.4h0M736 763.4h0M736 759.3h0M736 757.3h0M736 763.4h0M738.2 759.3h0M738.2 765.4h0M738.2 763.4h0M738.2 761.3h0M740.5 765.4h0M740.5 765.4h0M740.5 765.4h0M740.5 765.4h0M742.8 759.3h0M742.8 759.3h0M742.8 765.4h0M742.8 763.4h0M745.1 761.3h0M745.1 759.3h0M745.1 761.3h0M745.1 761.3h0M747.4 765.4h0M747.4 759.3h0M747.4 759.3h0M749.7 763.4h0M749.7 765.4h0M749.7 765.4h0M749.7 761.3h0M751.9 761.3h0M751.9 765.4h0M751.9 763.4h0M751.9 757.3h0M754.2 765.4h0M754.2 765.4h0M754.2 765.4h0M754.2 763.4h0M756.5 763.4h0M756.5 759.3h0M756.5 765.4h0M756.5 765.4h0M758.8 757.3h0M758.8 765.4h0M758.8 765.4h0M758.8 763.4h0M761.1 765.4h0M761.1 765.4h0M761.1 761.3h0M761.1 761.3h0M763.3 761.3h0M763.3 761.3h0M763.3 761.3h0M763.3 765.4h0M765.6 761.3h0M765.6 761.3h0M765.6 765.4h0M767.9 763.4h0M767.9 765.4h0M767.9 759.3h0M767.9 765.4h0M770.2 765.4h0M770.2 759.3h0M770.2 759.3h0M770.2 759.3h0M772.5 761.3h0M772.5 763.4h0M772.5 763.4h0M772.5 763.4h0M774.8 761.3h0M774.8 757.3h0M774.8 765.4h0M774.8 759.3h0M777 765.4h0M777 765.4h0M777 757.3h0M777 765.4h0M779.3 763.4h0M779.3 759.3h0M779.3 761.3h0M779.3 763.4h0M781.6 761.3h0M781.6 757.3h0M781.6 757.3h0M783.9 765.4h0M783.9 765.4h0M783.9 765.4h0M783.9 765.4h0M786.2 759.3h0M786.2 759.3h0M786.2 765.4h0M786.2 765.4h0M788.4 765.4h0M788.4 761.3h0M788.4 759.3h0M788.4 763.4h0M790.7 761.3h0M790.7 759.3h0M790.7 759.3h0M790.7 765.4h0M793 761.3h0M793 759.3h0M793 759.3h0M793 763.4h0M795.3 765.4h0M795.3 763.4h0M795.3 763.4h0M795.3 763.4h0M797.6 759.3h0M797.6 761.3h0M797.6 761.3h0M797.6 761.3h0M799.9 765.4h0M799.9 765.4h0M799.9 763.4h0M802.1 759.3h0M802.1 761.3h0M802.1 759.3h0M802.1 761.3h0M804.4 759.3h0M804.4 757.3h0M804.4 761.3h0M804.4 759.3h0M806.7 757.3h0M806.7 761.3h0M806.7 759.3h0M806.7 765.4h0M809 767.4h0M809 759.3h0M809 765.4h0M809 765.4h0M811.3 765.4h0M811.3 761.3h0M811.3 767.4h0M811.3 759.3h0M813.5 765.4h0M813.5 761.3h0M813.5 759.3h0M813.5 761.3h0M815.8 763.4h0M815.8 761.3h0M815.8 759.3h0M818.1 761.3h0M818.1 765.4h0M818.1 767.4h0M818.1 759.3h0M820.4 761.3h0M820.4 767.4h0M820.4 763.4h0M820.4 763.4h0M822.7 765.4h0M822.7 759.3h0M822.7 765.4h0M822.7 765.4h0M825 765.4h0M825 765.4h0M825 759.3h0M825 761.3h0M827.2 767.4h0M827.2 765.4h0M827.2 767.4h0M827.2 761.3h0M829.5 759.3h0M829.5 767.4h0M829.5 763.4h0M829.5 765.4h0M831.8 765.4h0M831.8 761.3h0M831.8 757.3h0M831.8 765.4h0M834.1 763.4h0M834.1 765.4h0M834.1 767.4h0M836.4 763.4h0M836.4 767.4h0M836.4 761.3h0M836.4 761.3h0M838.6 767.4h0M838.6 763.4h0M838.6 765.4h0M838.6 761.3h0M840.9 765.4h0M840.9 761.3h0M840.9 763.4h0M840.9 763.4h0M843.2 765.4h0M843.2 759.3h0M843.2 765.4h0M843.2 761.3h0M845.5 763.4h0M845.5 765.4h0M845.5 761.3h0M845.5 765.4h0M847.8 761.3h0M847.8 765.4h0M847.8 761.3h0M847.8 761.3h0M850.1 759.3h0M850.1 765.4h0M850.1 765.4h0M852.3 757.3h0M852.3 763.4h0M852.3 765.4h0M852.3 761.3h0M854.6 765.4h0M854.6 759.3h0M854.6 761.3h0M854.6 763.4h0M856.9 765.4h0M856.9 761.3h0M856.9 759.3h0M856.9 761.3h0M859.2 759.3h0M859.2 767.4h0M859.2 761.3h0M859.2 759.3h0M861.5 763.4h0M861.5 767.4h0M861.5 763.4h0M861.5 765.4h0M863.8 767.4h0M863.8 759.3h0M863.8 761.3h0M863.8 763.4h0M866 761.3h0M866 761.3h0M866 763.4h0M866 767.4h0M868.3 765.4h0M868.3 763.4h0M868.3 763.4h0M870.6 765.4h0M870.6 767.4h0M870.6 765.4h0M870.6 767.4h0M872.9 759.3h0M872.9 765.4h0M872.9 765.4h0M872.9 763.4h0M875.2 765.4h0M875.2 763.4h0M875.2 763.4h0M875.2 767.4h0M877.4 759.3h0M877.4 763.4h0M877.4 767.4h0M877.4 759.3h0M879.7 767.4h0M879.7 761.3h0M879.7 763.4h0M879.7 765.4h0M882 765.4h0M882 763.4h0M882 765.4h0M882 765.4h0M884.3 765.4h0M884.3 765.4h0M884.3 761.3h0M886.6 765.4h0M886.6 767.4h0M886.6 761.3h0M886.6 767.4h0M888.9 763.4h0M888.9 763.4h0M888.9 759.3h0M888.9 767.4h0M891.1 759.3h0M891.1 767.4h0M891.1 767.4h0M891.1 763.4h0M893.4 767.4h0M893.4 763.4h0M893.4 761.3h0M893.4 767.4h0M895.7 761.3h0M895.7 765.4h0M895.7 759.3h0M895.7 767.4h0M898 767.4h0M898 763.4h0M898 765.4h0M898 765.4h0M900.3 759.3h0M900.3 765.4h0M900.3 767.4h0M900.3 767.4h0M902.5 763.4h0M902.5 761.3h0M902.5 761.3h0M904.8 763.4h0M904.8 765.4h0M904.8 767.4h0M904.8 765.4h0M907.1 765.4h0M907.1 759.3h0M907.1 765.4h0M907.1 767.4h0M909.4 763.4h0M909.4 765.4h0M909.4 767.4h0M909.4 759.3h0M911.7 759.3h0M911.7 765.4h0M911.7 761.3h0M911.7 765.4h0M914 761.3h0M914 763.4h0M914 761.3h0M914 765.4h0M916.2 767.4h0M916.2 761.3h0M916.2 765.4h0M916.2 765.4h0M918.5 761.3h0M918.5 761.3h0M918.5 759.3h0M920.8 765.4h0M920.8 763.4h0M920.8 767.4h0M920.8 767.4h0M923.1 765.4h0M923.1 765.4h0M923.1 765.4h0M923.1 765.4h0M925.4 759.3h0M925.4 765.4h0M925.4 765.4h0M925.4 759.3h0M927.6 761.3h0M927.6 761.3h0M927.6 759.3h0M927.6 761.3h0M929.9 765.4h0M929.9 759.3h0M929.9 767.4h0M929.9 759.3h0M932.2 765.4h0M932.2 765.4h0M932.2 763.4h0M932.2 765.4h0M934.5 759.3h0M934.5 761.3h0M934.5 761.3h0M934.5 765.4h0M936.8 765.4h0M936.8 767.4h0M936.8 761.3h0M939.1 767.4h0M939.1 765.4h0M939.1 767.4h0M939.1 759.3h0M941.3 759.3h0M941.3 765.4h0M941.3 759.3h0M941.3 767.4h0M943.6 761.3h0M943.6 765.4h0M943.6 765.4h0M943.6 763.4h0M945.9 765.4h0M945.9 765.4h0M945.9 763.4h0M945.9 761.3h0M948.2 759.3h0M948.2 765.4h0M948.2 765.4h0M948.2 767.4h0M950.5 765.4h0M950.5 767.4h0M950.5 765.4h0M950.5 761.3h0M952.8 767.4h0M952.8 763.4h0M952.8 765.4h0M955 765.4h0M955 763.4h0M955 765.4h0M955 765.4h0M957.3 767.4h0M957.3 763.4h0M957.3 759.3h0M957.3 767.4h0M959.6 767.4h0M959.6 763.4h0M959.6 765.4h0M959.6 765.4h0M961.9 759.3h0M961.9 765.4h0M961.9 759.3h0M961.9 763.4h0M964.2 767.4h0M964.2 765.4h0M964.2 767.4h0M964.2 763.4h0M966.4 759.3h0M966.4 767.4h0M966.4 767.4h0M966.4 767.4h0M968.7 765.4h0M968.7 767.4h0M968.7 759.3h0M971 761.3h0M971 759.3h0M971 763.4h0M971 761.3h0M973.3 761.3h0M973.3 765.4h0M973.3 763.4h0M973.3 765.4h0M975.6 763.4h0M975.6 761.3h0M975.6 765.4h0M975.6 767.4h0M977.9 759.3h0M977.9 763.4h0M977.9 767.4h0M977.9 765.4h0M980.1 765.4h0M980.1 759.3h0M980.1 763.4h0M980.1 759.3h0M982.4 763.4h0M982.4 759.3h0M982.4 759.3h0M982.4 763.4h0M984.7 761.3h0M984.7 765.4h0M984.7 767.4h0M984.7 763.4h0M987 767.4h0M987 763.4h0M987 763.4h0M989.3 761.3h0"/>
<polyline class="l" stroke="#ff0000" points="99.3,765.4 99.3,771.4 99.3,765.4 101.6,769.4 101.6,767.4 101.6,769.4 103.8,765.4 103.8,771.4 103.8,771.4 103.8,765.4 106.1,767.4 106.1,767.4 106.1,771.4 106.1,771.4 108.4,767.4 108.4,765.4 108.4,767.4 108.4,767.4 110.7,767.4 110.7,771.4 110.7,769.4 110.7,769.4 113,767.4 113,769.4 113,767.4 113,767.4 115.3,765.4 115.3,765.4 115.3,771.4 115.3,767.4 117.5,769.4 117.5,771.4 117.5,769.4 119.8,765.4 119.8,765.4 119.8,771.4 119.8,771.4 122.1,767.4 122.1,763.4 122.1,771.4 122.1,771.4 124.4,767.4 124.4,767.4 124.4,765.4 124.4,771.4 126.7,769.4 126.7,765.4 126.7,769.4 126.7,769.4 128.9,771.4 128.9,765.4 128.9,769.4 128.9,769.4 131.2,767.4 131.2,765.4 131.2,765.4 131.2,769.4 133.5,767.4 133.5,769.4 133.5,765.4 133.5,765.4 135.8,767.4 135.8,765.4 135.8,769.4 138.1,767.4 138.1,771.4 138.1,767.4 138.1,771.4 140.4,767.4 140.4,771.4 140.4,769.4 140.4,767.4 142.6,767.4 142.6,767.4 142.6,771.4 142.6,767.4 144.9,767.4 144.9,767.4 144.9,769.4 144.9,771.4 147.2,767.4 147.2,771.4 147.2,763.4 147.2,769.4 149.5,771.4 149.5,769.4 149.5,771.4 149.5,765.4 151.8,763.4 151.8,765.4 151.8,767.4 154.1,763.4 154.1,769.4 154.1,769.4 154.1,771.4 156.3,769.4 156.3,763.4 156.3,767.4 156.3,767.4 158.6,769.4 158.6,767.4 158.6,767.4 158.6,769.4 160.9,769.4 160.9,771.4 160.9,769.4 160.9,767.4 163.2,771.4 163.2,771.4 163.2,765.4 163.2,771.4 165.5,771.4 165.5,765.4 165.5,771.4 165.5,771.4 167.7,765.4 167.7,769.4 167.7,765.4 170,765.4 170,771.4 170,771.4 170,765.4 172.3,769.4 172.3,769.4 172.3,763.4 172.3,771.4 174.6,763.4 174.6,767.4 174.6,767.4 174.6,771.4 176.9,767.4 176.9,765.4 176.9,769.4 176.9,771.4 179.2,771.4 179.2,771.4 179.2,769.4 179.2,765.4 181.4,771.4 181.4,769.4 181.4,769.4 181.4,769.4 183.7,769.4 183.7,769.4 183.7,771.4 183.7,765.4 186,769.4 186,769.4 186,763.4 188.3,767.4 188.3,771.4 188.3,763.4 188.3,767.4 190.6,769.4 190.6,771.4 190.6,771.4 190.6,771.4 192.8,769.4 192.8,765.4 192.8,747.2 195.1,737.2 195.1,727.1 197.4,713 197.4,705 199.7,700.9 199.7,678.8 202,654.6 204.3,638.5 204.3,640.5 206.5,616.3 206.5,568 208.8,527.7 208.8,475.4 211.1,433.1 211.1,392.8 213.4,348.5 213.4,292.1 215.7,239.7 215.7,195.4 217.9,185.3 217.9,165.2 220.2,149.1 220.2,149.1 220.2,149.1 222.5,149.1 222.5,149.1 222.5,149.1 222.5,149.1 224.8,149.1 224.8,149.1 224.8,149.1 224.8,149.1 227.1,149.1 227.1,149.1 227.1,149.1 227.1,149.1 229.4,149.1 229.4,149.1 229.4,149.1 229.4,149.1 231.6,149.1 231.6,149.1 231.6,149.1 231.6,149.1 233.9,149.1 233.9,149.1 233.9,149.1 233.9,149.1 236.2,149.1 236.2,149.1 236.2,149.1 238.5,149.1 238.5,149.1 238.5,149.1 240.8,157.1 240.8,203.5 243,235.7 243,274 245.3,298.1 245.3,312.2 247.6,334.4 247.6,348.5 249.9,368.6 249.9,388.8 252.2,419 252.2,443.1 254.5,473.3 254.5,493.5 256.7,495.5 256.7,501.5 259,515.6 259,529.7 261.3,537.8 261.3,537.8 261.3,537.8 261.3,539.8 263.6,535.8 263.6,547.9 263.6,549.9 263.6,545.8 265.9,555.9 265.9,557.9 265.9,547.9 265.9,562 268.1,551.9 268.1,553.9 268.1,566 268.1,559.9 270.4,568 270.4,570 270.4,557.9 272.7,562 272.7,564 272.7,570 272.7,559.9 275,568 275,559.9 275,564 275,572 277.3,562 277.3,559.9 277.3,559.9 277.3,564 279.6,570 279.6,557.9 279.6,566 279.6,568 281.8,566 281.8,566 281.8,555.9 281.8,566 284.1,551.9 284.1,564 284.1,553.9 284.1,559.9 286.4,555.9 286.4,557.9 286.4,545.8 286.4,555.9 288.7,551.9 288.7,547.9 288.7,549.9 291,551.9 291,549.9 291,537.8 291,549.9 293.3,547.9 293.3,535.8 293.3,535.8 293.3,537.8 295.5,539.8 295.5,529.7 295.5,537.8 295.5,541.8 297.8,535.8 297.8,533.8 297.8,533.8 297.8,525.7 300.1,537.8 300.1,525.7 300.1,529.7 300.1,525.7 302.4,529.7 302.4,531.7 302.4,529.7 302.4,529.7 304.7,525.7 304.7,523.7 304.7,517.6 306.9,525.7 306.9,521.7 306.9,519.7 306.9,513.6 309.2,513.6 309.2,513.6 309.2,511.6 309.2,513.6 311.5,505.6 311.5,503.6 311.5,507.6 311.5,511.6 313.8,507.6 313.8,507.6 313.8,507.6 313.8,503.6 316.1,495.5 316.1,501.5 316.1,499.5 316.1,499.5 318.4,499.5 318.4,493.5 318.4,495.5 318.4,485.4 320.6,491.5 320.6,483.4 320.6,485.4 320.6,489.5 322.9,493.5 322.9,491.5 322.9,491.5 325.2,483.4 325.2,489.5 325.2,483.4 325.2,487.4 327.5,483.4 327.5,479.4 327.5,485.4 327.5,487.4 329.8,485.4 329.8,475.4 329.8,481.4 329.8,485.4 332,487.4 332,487.4 332,485.4 332,481.4 334.3,483.4 334.3,479.4 334.3,475.4 334.3,483.4 336.6,487.4 336.6,479.4 336.6,489.5 336.6,481.4 338.9,479.4 338.9,481.4 338.9,491.5 341.2,487.4 341.2,483.4 341.2,491.5 341.2,485.4 343.5,495.5 343.5,493.5 343.5,493.5 343.5,491.5 345.7,499.5 345.7,501.5 345.7,497.5 345.7,505.6 348,505.6 348,503.6 348,499.5 348,507.6 350.3,505.6 350.3,505.6 350.3,505.6 350.3,501.5 352.6,511.6 352.6,511.6 352.6,517.6 352.6,517.6 354.9,519.7 354.9,519.7 354.9,517.6 354.9,521.7 357.1,519.7 357.1,515.6 357.1,525.7 359.4,525.7 359.4,523.7 359.4,529.7 359.4,529.7 361.7,525.7 361.7,529.7 361.7,521.7 361.7,529.7 364,527.7 364,533.8 364,535.8 364,529.7 366.3,533.8 366.3,529.7 366.3,541.8 366.3,543.8 368.6,537.8 368.6,545.8 368.6,545.8 368.6,545.8 370.8,541.8 370.8,547.9 370.8,541.8 370.8,547.9 373.1,551.9 373.1,549.9 373.1,549.9 375.4,555.9 375.4,551.9 375.4,557.9 375.4,547.9 377.7,555.9 377.7,562 377.7,564 377.7,564 380,564 380,562 380,562 380,562 382.2,568 382.2,566 382.2,570 382.2,574 384.5,576.1 384.5,576.1 384.5,572 384.5,582.1 386.8,576.1 386.8,584.1 386.8,586.1 386.8,580.1 389.1,580.1 389.1,582.1 389.1,584.1 389.1,592.2 391.4,582.1 391.4,590.2 391.4,586.1 393.7,588.1 393.7,600.2 393.7,590.2 393.7,604.3 395.9,600.2 395.9,606.3 395.9,608.3 395.9,604.3 398.2,610.3 398.2,604.3 398.2,612.3 398.2,616.3 400.5,618.4 400.5,612.3 400.5,616.3 400.5,614.3 402.8,624.4 402.8,616.3 402.8,630.4 402.8,620.4 405.1,626.4 405.1,636.5 405.1,626.4 405.1,642.5 407.4,634.5 407.4,644.5 407.4,640.5 409.6,638.5 409.6,650.6 409.6,650.6 409.6,642.5 411.9,652.6 411.9,656.6 411.9,658.6 411.9,660.6 414.2,662.7 414.2,660.6 414.2,656.6 414.2,662.7 416.5,668.7 416.5,666.7 416.5,666.7 416.5,668.7 418.8,666.7 418.8,666.7 418.8,666.7 418.8,672.7 421,678.8 421,670.7 421,672.7 421,674.7 423.3,680.8 423.3,672.7 423.3,684.8 425.6,678.8 425.6,682.8 425.6,680.8 425.6,690.9 427.9,678.8 427.9,692.9 427.9,692.9 427.9,690.9 430.2,690.9 430.2,694.9 430.2,694.9 430.2,686.8 432.5,696.9 432.5,696.9 432.5,700.9 432.5,696.9 434.7,696.9 434.7,696.9 434.7,702.9 434.7,702.9 437,700.9 437,694.9 437,700.9 437,709 439.3,709 439.3,709 439.3,707 439.3,711 441.6,705 441.6,713 441.6,715 443.9,709 443.9,709 443.9,715 443.9,715 446.1,717 446.1,719 446.1,713 446.1,721.1 448.4,715 448.4,715 448.4,717 448.4,723.1 450.7,723.1 450.7,719 450.7,721.1 450.7,725.1 453,725.1 453,719 453,725.1 453,721.1 455.3,727.1 455.3,727.1 455.3,719 455.3,729.1 457.6,727.1 457.6,727.1 457.6,725.1 459.8,729.1 459.8,727.1 459.8,731.1 459.8,727.1 462.1,733.1 462.1,733.1 462.1,735.2 462.1,735.2 464.4,729.1 464.4,733.1 464.4,729.1 464.4,727.1 466.7,737.2 466.7,731.1 466.7,727.1 466.7,737.2 469,739.2 469,737.2 469,735.2 469,735.2 471.2,735.2 471.2,739.2 471.2,741.2 471.2,739.2 473.5,739.2 473.5,741.2 473.5,741.2 473.5,735.2 475.8,741.2 475.8,743.2 475.8,739.2 478.1,743.2 478.1,741.2 478.1,743.2 478.1,745.2 480.4,739.2 480.4,741.2 480.4,737.2 480.4,747.2 482.7,743.2 482.7,745.2 482.7,745.2 482.7,741.2 484.9,747.2 484.9,745.2 484.9,747.2 484.9,745.2 487.2,747.2 487.2,749.3 487.2,749.3 487.2,747.2 489.5,745.2 489.5,749.3 489.5,745.2 489.5,743.2 491.8,749.3 491.8,751.3 491.8,751.3 494.1,745.2 494.1,747.2 494.1,751.3 494.1,751.3 496.4,745.2 496.4,747.2 496.4,747.2 496.4,751.3 498.6,743.2 498.6,751.3 498.6,751.3 498.6,753.3 500.9,745.2 500.9,749.3 500.9,749.3 500.9,751.3 503.2,749.3 503.2,751.3 503.2,751.3 503.2,755.3 505.5,747.2 505.5,755.3 505.5,747.2 505.5,747.2 507.8,751.3 507.8,755.3 507.8,755.3 507.8,755.3 510,751.3 510,755.3 510,747.2 512.3,755.3 512.3,755.3 512.3,751.3 512.3,749.3 514.6,753.3 514.6,757.3 514.6,757.3 514.6,751.3 516.9,751.3 516.9,749.3 516.9,755.3 516.9,751.3 519.2,753.3 519.2,755.3 519.2,751.3 519.2,757.3 521.5,759.3 521.5,757.3 521.5,757.3 521.5,751.3 523.7,753.3 523.7,753.3 523.7,751.3 523.7,757.3 526,751.3 526,753.3 526,759.3 528.3,759.3 528.3,759.3 528.3,759.3 528.3,753.3 530.6,759.3 530.6,753.3 530.6,757.3 530.6,761.3 532.9,759.3 532.9,755.3 532.9,759.3 532.9,759.3 535.1,761.3 535.1,759.3 535.1,753.3 535.1,761.3 537.4,755.3 537.4,757.3 537.4,761.3 537.4,755.3 539.7,753.3 539.7,753.3 539.7,759.3 539.7,759.3 542,757.3 542,755.3 542,761.3 542,761.3 544.3,761.3 544.3,763.4 544.3,755.3 546.6,759.3 546.6,759.3 546.6,759.3 546.6,757.3 548.8,757.3 548.8,761.3 548.8,761.3 548.8,761.3 551.1,759.3 551.1,757.3 551.1,763.4 551.1,759.3 553.4,757.3 553.4,759.3 553.4,761.3 553.4,761.3 555.7,761.3 555.7,759.3 555.7,763.4 555.7,757.3 558,759.3 558,763.4 558,755.3 558,761.3 560.2,757.3 560.2,763.4 560.2,761.3 562.5,763.4 562.5,763.4 562.5,763.4 562.5,763.4 564.8,759.3 564.8,761.3 564.8,763.4 564.8,761.3 567.1,763.4 567.1,761.3 567.1,761.3 567.1,761.3 569.4,763.4 569.4,759.3 569.4,757.3 569.4,757.3 571.7,761.3 571.7,757.3 571.7,757.3 571.7,761.3 573.9,765.4 573.9,761.3 573.9,761.3 573.9,759.3 576.2,763.4 576.2,757.3 576.2,763.4 576.2,757.3 578.5,763.4 578.5,763.4 578.5,761.3 580.8,765.4 580.8,763.4 580.8,761.3 580.8,759.3 583.1,757.3 583.1,761.3 583.1,757.3 583.1,765.4 585.3,761.3 585.3,759.3 585.3,765.4 585.3,759.3 587.6,759.3 587.6,763.4 587.6,759.3 587.6,761.3 589.9,765.4 589.9,759.3 589.9,763.4 589.9,761.3 592.2,757.3 592.2,761.3 592.2,761.3 592.2,759.3 594.5,765.4 594.5,767.4 594.5,767.4 596.8,763.4 596.8,759.3 596.8,763.4 596.8,759.3 599,765.4 599,767.4 599,765.4 599,759.3 601.3,759.3 601.3,763.4 601.3,765.4 601.3,761.3 603.6,765.4 603.6,765.4 603.6,761.3 603.6,767.4 605.9,761.3 605.9,759.3 605.9,767.4 605.9,761.3 608.2,767.4 608.2,767.4 608.2,765.4 608.2,759.3 610.5,767.4 610.5,765.4 610.5,765.4 610.5,767.4 612.7,759.3 612.7,767.4 612.7,759.3 615,763.4 615,763.4 615,761.3 615,763.4 617.3,761.3 617.3,761.3 617.3,767.4 617.3,767.4 619.6,765.4 619.6,767.4 619.6,763.4 619.6,759.3 621.9,765.4 621.9,767.4 621.9,767.4 621.9,765.4 624.1,763.4 624.1,761.3 624.1,763.4 624.1,765.4 626.4,761.3 626.4,765.4 626.4,763.4 626.4,769.4 628.7,765.4 628.7,767.4 628.7,767.4 631,767.4 631,765.4 631,769.4 631,763.4 633.3,767.4 633.3,767.4 633.3,761.3 633.3,763.4 635.6,767.4 635.6,769.4 635.6,765.4 635.6,763.4 637.8,765.4 637.8,767.4 637.8,769.4 637.8,767.4 640.1,763.4 640.1,769.4 640.1,761.3 640.1,763.4 642.4,767.4 642.4,769.4 642.4,765.4 642.4,761.3 644.7,769.4 644.7,767.4 644.7,769.4 644.7,763.4 647,761.3 647,765.4 647,767.4 649.2,761.3 649.2,765.4 649.2,761.3 649.2,767.4 651.5,769.4 651.5,769.4 651.5,767.4 651.5,767.4 653.8,763.4 653.8,767.4 653.8,767.4 653.8,761.3 656.1,765.4 656.1,765.4 656.1,763.4 656.1,765.4 658.4,769.4 658.4,761.3 658.4,769.4 658.4,769.4 660.7,765.4 660.7,765.4 660.7,769.4 660.7,765.4 662.9,769.4 662.9,767.4 662.9,761.3 665.2,763.4 665.2,765.4 665.2,763.4 665.2,765.4 667.5,769.4 667.5,763.4 667.5,765.4 667.5,765.4 669.8,761.3 669.8,765.4 669.8,767.4 669.8,767.4 672.1,765.4 672.1,763.4 672.1,763.4 672.1,767.4 674.3,767.4 674.3,769.4 674.3,765.4 674.3,763.4 676.6,769.4 676.6,765.4 676.6,769.4 676.6,763.4 678.9,765.4 678.9,761.3 678.9,769.4 678.9,769.4 681.2,765.4 681.2,769.4 681.2,763.4 683.5,769.4 683.5,769.4 683.5,769.4 683.5,765.4 685.8,769.4 685.8,767.4 685.8,769.4 685.8,763.4 688,769.4 688,769.4 688,765.4 688,767.4 690.3,769.4 690.3,761.3 690.3,767.4 690.3,767.4 692.6,765.4 692.6,767.4 692.6,763.4 692.6,767.4 694.9,769.4 694.9,767.4 694.9,763.4 694.9,769.4 697.2,765.4 697.2,767.4 697.2,765.4 699.4,769.4 699.4,769.4 699.4,765.4 699.4,763.4 701.7,767.4 701.7,769.4 701.7,763.4 701.7,767.4 704,765.4 704,769.4 704,765.4 704,769.4 706.3,763.4 706.3,769.4 706.3,771.4 706.3,769.4 708.6,765.4 708.6,765.4 708.6,763.4 708.6,769.4 710.9,767.4 710.9,771.4 710.9,769.4 710.9,771.4 713.1,765.4 713.1,763.4 713.1,767.4 715.4,767.4 715.4,763.4 715.4,769.4 715.4,767.4 717.7,763.4 717.7,769.4 717.7,765.4 717.7,771.4 720,769.4 720,769.4 720,767.4 720,769.4 722.3,771.4 722.3,767.4 722.3,769.4 722.3,765.4 724.5,771.4 724.5,765.4 724.5,771.4 724.5,767.4 726.8,771.4 726.8,763.4 726.8,767.4 726.8,767.4 729.1,771.4 729.1,765.4 729.1,769.4 729.1,767.4 731.4,765.4 731.4,765.4 731.4,769.4 733.7,771.4 733.7,761.3 733.7,769.4 733.7,771.4 736,767.4 736,763.4 736,771.4 736,771.4 738.2,765.4 738.2,767.4 738.2,769.4 738.2,769.4 740.5,765.4 740.5,771.4 740.5,769.4 740.5,769.4 742.8,765.4 742.8,769.4 742.8,771.4 742.8,765.4 745.1,765.4 745.1,771.4 745.1,765.4 745.1,767.4 747.4,769.4 747.4,767.4 747.4,767.4 749.7,765.4 749.7,763.4 749.7,769.4 749.7,771.4 751.9,769.4 751.9,767.4 751.9,769.4 751.9,769.4 754.2,769.4 754.2,763.4 754.2,765.4 754.2,771.4 756.5,769.4 756.5,769.4 756.5,771.4 756.5,763.4 758.8,769.4 758.8,767.4 758.8,769.4 758.8,771.4 761.1,771.4 761.1,765.4 761.1,767.4 761.1,767.4 763.3,769.4 763.3,769.4 763.3,767.4 763.3,769.4 765.6,767.4 765.6,763.4 765.6,769.4 767.9,763.4 767.9,767.4 767.9,763.4 767.9,763.4 770.2,771.4 770.2,765.4 770.2,769.4 770.2,767.4 772.5,763.4 772.5,767.4 772.5,767.4 772.5,765.4 774.8,769.4 774.8,769.4 774.8,769.4 774.8,767.4 777,765.4 777,771.4 777,767.4 777,767.4 779.3,769.4 779.3,763.4 779.3,769.4 779.3,765.4 781.6,771.4 781.6,769.4 781.6,771.4 783.9,763.4 783.9,765.4 783.9,769.4 783.9,769.4 786.2,771.4 786.2,763.4 786.2,763.4 786.2,763.4 788.4,767.4 788.4,769.4 788.4,769.4 788.4,767.4 790.7,769.4 790.7,771.4 790.7,767.4 790.7,771.4 793,769.4 793,765.4 793,767.4 793,765.4 795.3,765.4 795.3,767.4 795.3,769.4 795.3,765.4 797.6,771.4 797.6,771.4 797.6,769.4 797.6,771.4 799.9,765.4 799.9,769.4 799.9,771.4 802.1,765.4 802.1,763.4 802.1,765.4 802.1,763.4 804.4,765.4 804.4,763.4 804.4,767.4 804.4,765.4 806.7,765.4 806.7,771.4 806.7,769.4 806.7,767.4 809,769.4 809,763.4 809,771.4 809,771.4 811.3,769.4 811.3,769.4 811.3,765.4 811.3,771.4 813.5,765.4 813.5,763.4 813.5,771.4 813.5,763.4 815.8,767.4 815.8,771.4 815.8,765.4 818.1,771.4 818.1,769.4 818.1,769.4 818.1,769.4 820.4,771.4 820.4,769.4 820.4,767.4 820.4,769.4 822.7,767.4 822.7,763.4 822.7,765.4 822.7,771.4 825,765.4 825,765.4 825,763.4 825,769.4 827.2,763.4 827.2,767.4 827.2,769.4 827.2,767.4 829.5,769.4 829.5,765.4 829.5,767.4 829.5,763.4 831.8,769.4 831.8,771.4 831.8,771.4 831.8,769.4 834.1,769.4 834.1,765.4 834.1,767.4 836.4,771.4 836.4,769.4 836.4,767.4 836.4,765.4 838.6,765.4 838.6,767.4 838.6,769.4 838.6,767.4 840.9,769.4 840.9,771.4 840.9,765.4 840.9,767.4 843.2,763.4 843.2,765.4 843.2,769.4 843.2,771.4 845.5,769.4 845.5,769.4 845.5,767.4 845.5,769.4 847.8,771.4 847.8,771.4 847.8,769.4 847.8,767.4 850.1,771.4 850.1,771.4 850.1,769.4 852.3,765.4 852.3,765.4 852.3,769.4 852.3,771.4 854.6,763.4 854.6,763.4 854.6,769.4 854.6,771.4 856.9,767.4 856.9,771.4 856.9,769.4 856.9,769.4 859.2,769.4 859.2,763.4 859.2,769.4 859.2,771.4 861.5,767.4 861.5,763.4 861.5,769.4 861.5,767.4 863.8,769.4 863.8,767.4 863.8,769.4 863.8,769.4 866,763.4 866,765.4 866,765.4 866,767.4 868.3,763.4 868.3,771.4 868.3,769.4 870.6,767.4 870.6,771.4 870.6,763.4 870.6,767.4 872.9,765.4 872.9,763.4 872.9,767.4 872.9,763.4 875.2,769.4 875.2,763.4 875.2,767.4 875.2,765.4 877.4,769.4 877.4,769.4 877.4,767.4 877.4,767.4 879.7,763.4 879.7,769.4 879.7,763.4 879.7,771.4 882,771.4 882,771.4 882,771.4 882,767.4 884.3,771.4 884.3,767.4 884.3,765.4 886.6,763.4 886.6,771.4 886.6,769.4 886.6,769.4 888.9,771.4 888.9,767.4 888.9,769.4 888.9,769.4 891.1,771.4 891.1,771.4 891.1,763.4 891.1,767.4 893.4,769.4 893.4,763.4 893.4,771.4 893.4,769.4 895.7,771.4 895.7,765.4 895.7,763.4 895.7,769.4 898,765.4 898,763.4 898,771.4 898,763.4 900.3,769.4 900.3,765.4 900.3,767.4 900.3,769.4 902.5,767.4 902.5,771.4 902.5,769.4 904.8,769.4 904.8,767.4 904.8,765.4 904.8,765.4 907.1,765.4 907.1,765.4 907.1,769.4 907.1,771.4 909.4,767.4 909.4,771.4 909.4,763.4 909.4,769.4 911.7,769.4 911.7,771.4 911.7,765.4 911.7,765.4 914,771.4 914,765.4 914,771.4 914,767.4 916.2,767.4 916.2,767.4 916.2,771.4 916.2,765.4 918.5,765.4 918.5,765.4 918.5,769.4 920.8,769.4 920.8,767.4 920.8,767.4 920.8,765.4 923.1,769.4 923.1,767.4 923.1,767.4 923.1,767.4 925.4,765.4 925.4,769.4 925.4,771.4 925.4,769.4 927.6,765.4 927.6,763.4 927.6,769.4 927.6,767.4 929.9,767.4 929.9,765.4 929.9,771.4 929.9,767.4 932.2,765.4 932.2,763.4 932.2,769.4 932.2,769.4 934.5,765.4 934.5,763.4 934.5,771.4 934.5,763.4 936.8,771.4 936.8,771.4 936.8,771.4 939.1,771.4 939.1,771.4 939.1,771.4 939.1,769.4 941.3,763.4 941.3,765.4 941.3,771.4 941.3,771.4 943.6,767.4 943.6,767.4 943.6,769.4 943.6,769.4 945.9,765.4 945.9,769.4 945.9,765.4 945.9,771.4 948.2,771.4 948.2,771.4 948.2,767.4 948.2,767.4 950.5,765.4 950.5,763.4 950.5,765.4 950.5,769.4 952.8,771.4 952.8,765.4 952.8,763.4 955,771.4 955,771.4 955,771.4 955,769.4 957.3,767.4 957.3,769.4 957.3,767.4 957.3,765.4 959.6,771.4 959.6,769.4 959.6,763.4 959.6,767.4 961.9,769.4 961.9,767.4 961.9,767.4 961.9,765.4 964.2,765.4 964.2,767.4 964.2,767.4 964.2,767.4 966.4,771.4 966.4,765.4 966.4,771.4 966.4,771.4 968.7,769.4 968.7,767.4 968.7,765.4 971,769.4 971,767.4 971,769.4 971,769.4 973.3,763.4 973.3,767.4 973.3,771.4 973.3,765.4 975.6,769.4 975.6,763.4 975.6,771.4 975.6,763.4 977.9,767.4 977.9,767.4 977.9,769.4 977.9,763.4 980.1,765.4 980.1,767.4 980.1,769.4 980.1,769.4 982.4,769.4 982.4,771.4 982.4,771.4 982.4,767.4 984.7,765.4 984.7,763.4 984.7,771.4 984.7,769.4 987,771.4 987,767.4 987,769.4 989.3,769.4"/>
<path class="d" stroke="#ff0000" d="M99.3 765.4h0M99.3 771.4h0M99.3 765.4h0M101.6 769.4h0M101.6 767.4h0M101.6 769.4h0M103.8 765.4h0M103.8 771.4h0M103.8 771.4h0M103.8 765.4h0M106.1 767.4h0M106.1 767.4h0M106.1 771.4h0M106.1 771.4h0M108.4 767.4h0M108.4 765.4h0M108.4 767.4h0M108.4 767.4h0M110.7 767.4h0M110.7 771.4h0M110.7 769.4h0M110.7 769.4h0M113 767.4h0M113 769.4h0M113 767.4h0M113 767.4h0M115.3 765.4h0M115.3 765.4h0M115.3 771.4h0M115.3 767.4h0M117.5 769.4h0M117.5 771.4h0M117.5 769.4h0M119.8 765.4h0M119.8 765.4h0M119.8 771.4h0M119.8 771.4h0M122.1 767.4h0M122.1 763.4h0M122.1 771.4h0M122.1 771.4h0M124.4 767.4h0M124.4 767.4h0M124.4 765.4h0M124.4 771.4h0M126.7 769.4h0M126.7 765.4h0M126.7 769.4h0M126.7 769.4h0M128.9 771.4h0M128.9 765.4h0M128.9 769.4h0M128.9 769.4h0M131.2 767.4h0M131.2 765.4h0M131.2 765.4h0M131.2 769.4h0M133.5 767.4h0M133.5 769.4h0M133.5 765.4h0M133.5 765.4h0M135.8 767.4h0M135.8 765.4h0M135.8 769.4h0M138.1 767.4h0M138.1 771.4h0M138.1 767.4h0M138.1 771.4h0M140.4 767.4h0M140.4 771.4h0M140.4 769.4h0M140.4 767.4h0M142.6 767.4h0M142.6 767.4h0M142.6 771.4h0M142.6 767.4h0M144.9 767.4h0M144.9 767.4h0M144.9 769.4h0M144.9 771.4h0M147.2 767.4h0M147.2 771.4h0M147.2 763.4h0M147.2 769.4h0M149.5 771.4h0M149.5 769.4h0M149.5 771.4h0M149.5 765.4h0M151.8 763.4h0M151.8 765.4h0M151.8 767.4h0M154.1 763.4h0M154.1 769.4h0M154.1 769.4h0M154.1 771.4h0M156.3 769.4h0M156.3 763.4h0M156.3 767.4h0M156.3 767.4h0M158.6 769.4h0M158.6 767.4h0M158.6 767.4h0M158.6 769.4h0M160.9 769.4h0M160.9 771.4h0M160.9 769.4h0M160.9 767.4h0M163.2 771.4h0M163.2 771.4h0M163.2 765.4h0M163.2 771.4h0M165.5 771.4h0M165.5 765.4h0M165.5 771.4h0M165.5 771.4h0M167.7 765.4h0M167.7 769.4h0M167.7 765.4h0M170 765.4h0M170 771.4h0M170 771.4h0M170 765.4h0M172.3 769.4h0M172.3 769.4h0M172.3 763.4h0M172.3 771.4h0M174.6 763.4h0M174.6 767.4h0M174.6 767.4h0M174.6 771.4h0M176.9 767.4h0M176.9 765.4h0M176.9 769.4h0M176.9 771.4h0M179.2 771.4h0M179.2 771.4h0M179.2 769.4h0M179.2 765.4h0M181.4 771.4h0M181.4 769.4h0M181.4 769.4h0M181.4 769.4h0M183.7 769.4h0M183.7 769.4h0M183.7 771.4h0M183.7 765.4h0M186 769.4h0M186 769.4h0M186 763.4h0M188.3 767.4h0M188.3 771.4h0M188.3 763.4h0M188.3 767.4h0M190.6 769.4h0M190.6 771.4h0M190.6 771.4h0M190.6 771.4h0M192.8 769.4h0M192.8 765.4h0M192.8 747.2h0M195.1 737.2h0M195.1 727.1h0M197.4 713h0M197.4 705h0M199.7 700.9h0M199.7 678.8h0M202 654.6h0M204.3 638.5h0M204.3 640.5h0M206.5 616.3h0M206.5 568h0M208.8 527.7h0M208.8 475.4h0M211.1 433.1h0M211.1 392.8h0M213.4 348.5h0M213.4 292.1h0M215.7 239.7h0M215.7 195.4h0M217.9 185.3h0M217.9 165.2h0M220.2 149.1h0M220.2 149.1h0M220.2 149.1h0M222.5 149.1h0M222.5 149.1h0M222.5 149.1h0M222.5 149.1h0M224.8 149.1h0M224.8 149.1h0M224.8 149.1h0M224.8 149.1h0M227.1 149.1h0M227.1 149.1h0M227.1 149.1h0M227.1 149.1h0M229.4 149.1h0M229.4 149.1h0M229.4 149.1h0M229.4 149.1h0M231.6 149.1h0M231.6 149.1h0M231.6 149.1h0M231.6 149.1h0M233.9 149.1h0M233.9 149.1h0M233.9 149.1h0M233.9 149.1h0M236.2 149.1h0M236.2 149.1h0M236.2 149.1h0M238.5 149.1h0M238.5 149.1h0M238.5 149.1h0M240.8 157.1h0M240.8 203.5h0M243 235.7h0M243 274h0M245.3 298.1h0M245.3 312.2h0M247.6 334.4h0M247.6 348.5h0M249.9 368.6h0M249.9 388.8h0M252.2 419h0M252.2 443.1h0M254.5 473.3h0M254.5 493.5h0M256.7 495.5h0M256.7 501.5h0M259 515.6h0M259 529.7h0M261.3 537.8h0M261.3 537.8h0M261.3 537.8h0M261.3 539.8h0M263.6 535.8h0M263.6 547.9h0M263.6 549.9h0M263.6 545.8h0M265.9 555.9h0M265.9 557.9h0M265.9 547.9h0M265.9 562h0M268.1 551.9h0M268.1 553.9h0M268.1 566h0M268.1 559.9h0M270.4 568h0M270.4 570h0M270.4 557.9h0M272.7 562h0M272.7 564h0M272.7 570h0M272.7 559.9h0M275 568h0M275 559.9h0M275 564h0M275 572h0M277.3 562h0M277.3 559.9h0M277.3 559.9h0M277.3 564h0M279.6 570h0M279.6 557.9h0M279.6 566h0M279.6 568h0M281.8 566h0M281.8 566h0M281.8 555.9h0M281.8 566h0M284.1 551.9h0M284.1 564h0M284.1 553.9h0M284.1 559.9h0M286.4 555.9h0M286.4 557.9h0M286.4 545.8h0M286.4 555.9h0M288.7 551.9h0M288.7 547.9h0M288.7 549.9h0M291 551.9h0M291 549.9h0M291 537.8h0M291 549.9h0M293.3 547.9h0M293.3 535.8h0M293.3 535.8h0M293.3 537.8h0M295.5 539.8h0M295.5 529.7h0M295.5 537.8h0M295.5 541.8h0M297.8 535.8h0M297.8 533.8h0M297.8 533.8h0M297.8 525.7h0M300.1 537.8h0M300.1 525.7h0M300.1 529.7h0M300.1 525.7h0M302.4 529.7h0M302.4 531.7h0M302.4 529.7h0M302.4 529.7h0M304.7 525.7h0M304.7 523.7h0M304.7 517.6h0M306.9 525.7h0M306.9 521.7h0M306.9 519.7h0M306.9 513.6h0M309.2 513.6h0M309.2 513.6h0M309.2 511.6h0M309.2 513.6h0M311.5 505.6h0M311.5 503.6h0M311.5 507.6h0M311.5 511.6h0M313.8 507.6h0M313.8 507.6h0M313.8 507.6h0M313.8 503.6h0M316.1 495.5h0M316.1 501.5h0M316.1 499.5h0M316.1 499.5h0M318.4 499.5h0M318.4 493.5h0M318.4 495.5h0M318.4 485.4h0M320.6 491.5h0M320.6 483.4h0M320.6 485.4h0M320.6 489.5h0M322.9 493.5h0M322.9 491.5h0M322.9 491.5h0M325.2 483.4h0M325.2 489.5h0M325.2 483.4h0M325.2 487.4h0M327.5 483.4h0M327.5 479.4h0M327.5 485.4h0M327.5 487.4h0M329.8 485.4h0M329.8 475.4h0M329.8 481.4h0M329.8 485.4h0M332 487.4h0M332 487.4h0M332 485.4h0M332 481.4h0M334.3 483.4h0M334.3 479.4h0M334.3 475.4h0M334.3 483.4h0M336.6 487.4h0M336.6 479.4h0M336.6 489.5h0M336.6 481.4h0M338.9 479.4h0M338.9 481.4h0M338.9 491.5h0M341.2 487.4h0M341.2 483.4h0M341.2 491.5h0M341.2 485.4h0M343.5 495.5h0M343.5 493.5h0M343.5 493.5h0M343.5 491.5h0M345.7 499.5h0M345.7 501.5h0M345.7 497.5h0M345.7 505.6h0M348 505.6h0M348 503.6h0M348 499.5h0M348 507.6h0M350.3 505.6h0M350.3 505.6h0M350.3 505.6h0M350.3 501.5h0M352.6 511.6h0M352.6 511.6h0M352.6 517.6h0M352.6 517.6h0M354.9 519.7h0M354.9 519.7h0M354.9 517.6h0M354.9 521.7h0M357.1 519.7h0M357.1 515.6h0M357.1 525.7h0M359.4 525.7h0M359.4 523.7h0M359.4 529.7h0M359.4 529.7h0M361.7 525.7h0M361.7 529.7h0M361.7 521.7h0M361.7 529.7h0M364 527.7h0M364 533.8h0M364 535.8h0M364 529.7h0M366.3 533.8h0M366.3 529.7h0M366.3 541.8h0M366.3 543.8h0M368.6 537.8h0M368.6 545.8h0M368.6 545.8h0M368.6 545.8h0M370.8 541.8h0M370.8 547.9h0M370.8 541.8h0M370.8 547.9h0M373.1 551.9h0M373.1 549.9h0M373.1 549.9h0M375.4 555.9h0M375.4 551.9h0M375.4 557.9h0M375.4 547.9h0M377.7 555.9h0M377.7 562h0M377.7 564h0M377.7 564h0M380 564h0M380 562h0M380 562h0M380 562h0M382.2 568h0M382.2 566h0M382.2 570h0M382.2 574h0M384.5 576.1h0M384.5 576.1h0M384.5 572h0M384.5 582.1h0M386.8 576.1h0M386.8 584.1h0M386.8 586.1h0M386.8 580.1h0M389.1 580.1h0M389.1 582.1h0M389.1 584.1h0M389.1 592.2h0M391.4 582.1h0M391.4 590.2h0M391.4 586.1h0M393.7 588.1h0M393.7 600.2h0M393.7 590.2h0M393.7 604.3h0M395.9 600.2h0M395.9 606.3h0M395.9 608.3h0M395.9 604.3h0M398.2 610.3h0M398.2 604.3h0M398.2 612.3h0M398.2 616.3h0M400.5 618.4h0M400.5 612.3h0M400.5 616.3h0M400.5 614.3h0M402.8 624.4h0M402.8 616.3h0M402.8 630.4h0M402.8 620.4h0M405.1 626.4h0M405.1 636.5h0M405.1 626.4h0M405.1 642.5h0M407.4 634.5h0M407.4 644.5h0M407.4 640.5h0M409.6 638.5h0M409.6 650.6h0M409.6 650.6h0M409.6 642.5h0M411.9 652.6h0M411.9 656.6h0M411.9 658.6h0M411.9 660.6h0M414.2 662.7h0M414.2 660.6h0M414.2 656.6h0M414.2 662.7h0M416.5 668.7h0M416.5 666.7h0M416.5 666.7h0M416.5 668.7h0M418.8 666.7h0M418.8 666.7h0M418.8 666.7h0M418.8 672.7h0M421 678.8h0M421 670.7h0M421 672.7h0M421 674.7h0M423.3 680.8h0M423.3 672.7h0M423.3 684.8h0M425.6 678.8h0M425.6 682.8h0M425.6 680.8h0M425.6 690.9h0M427.9 678.8h0M427.9 692.9h0M427.9 692.9h0M427.9 690.9h0M430.2 690.9h0M430.2 694.9h0M430.2 694.9h0M430.2 686.8h0M432.5 696.9h0M432.5 696.9h0M432.5 700.9h0M432.5 696.9h0M434.7 696.9h0M434.7 696.9h0M434.7 702.9h0M434.7 702.9h0M437 700.9h0M437 694.9h0M437 700.9h0M437 709h0M439.3 709h0M439.3 709h0M439.3 707h0M439.3 711h0M441.6 705h0M441.6 713h0M441.6 715h0M443.9 709h0M443.9 709h0M443.9 715h0M443.9 715h0M446.1 717h0M446.1 719h0M446.1 713h0M446.1 721.1h0M448.4 715h0M448.4 715h0M448.4 717h0M448.4 723.1h0M450.7 723.1h0M450.7 719h0M450.7 721.1h0M450.7 725.1h0M453 725.1h0M453 719h0M453 725.1h0M453 721.1h0M455.3 727.1h0M455.3 727.1h0M455.3 719h0M455.3 729.1h0M457.6 727.1h0M457.6 727.1h0M457.6 725.1h0M459.8 729.1h0M459.8 727.1h0M459.8 731.1h0M459.8 727.1h0M462.1 733.1h0M462.1 733.1h0M462.1 735.2h0M462.1 735.2h0M464.4 729.1h0M464.4 733.1h0M464.4 729.1h0M464.4 727.1h0M466.7 737.2h0M466.7 731.1h0M466.7 727.1h0M466.7 737.2h0M469 739.2h0M469 737.2h0M469 735.2h0M469 735.2h0M471.2 735.2h0M471.2 739.2h0M471.2 741.2h0M471.2 739.2h0M473.5 739.2h0M473.5 741.2h0M473.5 741.2h0M473.5 735.2h0M475.8 741.2h0M475.8 743.2h0M475.8 739.2h0M478.1 743.2h0M478.1 741.2h0M478.1 743.2h0M478.1 745.2h0M480.4 739.2h0M480.4 741.2h0M480.4 737.2h0M480.4 747.2h0M482.7 743.2h0M482.7 745.2h0M482.7 745.2h0M482.7 741.2h0M484.9 747.2h0M484.9 745.2h0M484.9 747.2h0M484.9 745.2h0M487.2 747.2h0M487.2 749.3h0M487.2 749.3h0M487.2 747.2h0M489.5 745.2h0M489.5 749.3h0M489.5 745.2h0M489.5 743.2h0M491.8 749.3h0M491.8 751.3h0M491.8 751.3h0M494.1 745.2h0M494.1 747.2h0M494.1 751.3h0M494.1 751.3h0M496.4 745.2h0M496.4 747.2h0M496.4 747.2h0M496.4 751.3h0M498.6 743.2h0M498.6 751.3h0M498.6 751.3h0M498.6 753.3h0M500.9 745.2h0M500.9 749.3h0M500.9 749.3h0M500.9 751.3h0M503.2 749.3h0M503.2 751.3h0M503.2 751.3h0M503.2 755.3h0M505.5 747.2h0M505.5 755.3h0M505.5 747.2h0M505.5 747.2h0M507.8 751.3h0M507.8 755.3h0M507.8 755.3h0M507.8 755.3h0M510 751.3h0M510 755.3h0M510 747.2h0M512.3 755.3h0M512.3 755.3h0M512.3 751.3h0M512.3 749.3h0M514.6 753.3h0M514.6 757.3h0M514.6 757.3h0M514.6 751.3h0M516.9 751.3h0M516.9 749.3h0M516.9 755.3h0M516.9 751.3h0M519.2 753.3h0M519.2 755.3h0M519.2 751.3h0M519.2 757.3h0M521.5 759.3h0M521.5 757.3h0M521.5 757.3h0M521.5 751.3h0M523.7 753.3h0M523.7 753.3h0M523.7 751.3h0M523.7 757.3h0M526 751.3h0M526 753.3h0M526 759.3h0M528.3 759.3h0M528.3 759.3h0M528.3 759.3h0M528.3 753.3h0M530.6 759.3h0M530.6 753.3h0M530.6 757.3h0M530.6 761.3h0M532.9 759.3h0M532.9 755.3h0M532.9 759.3h0M532.9 759.3h0M535.1 761.3h0M535.1 759.3h0M535.1 753.3h0M535.1 761.3h0M537.4 755.3h0M537.4 757.3h0M537.4 761.3h0M537.4 755.3h0M539.7 753.3h0M539.7 753.3h0M539.7 759.3h0M539.7 759.3h0M542 757.3h0M542 755.3h0M542 761.3h0M542 761.3h0M544.3 761.3h0M544.3 763.4h0M544.3 755.3h0M546.6 759.3h0M546.6 759.3h0M546.6 759.3h0M546.6 757.3h0M548.8 757.3h0M548.8 761.3h0M548.8 761.3h0M548.8 761.3h0M551.1 759.3h0M551.1 757.3h0M551.1 763.4h0M551.1 759.3h0M553.4 757.3h0M553.4 759.3h0M553.4 761.3h0M553.4 761.3h0M555.7 761.3h0M555.7 759.3h0M555.7 763.4h0M555.7 757.3h0M558 759.3h0M558 763.4h0M558 755.3h0M558 761.3h0M560.2 757.3h0M560.2 763.4h0M560.2 761.3h0M562.5 763.4h0M562.5 763.4h0M562.5 763.4h0M562.5 763.4h0M564.8 759.3h0M564.8 761.3h0M564.8 763.4h0M564.8 761.3h0M567.1 763.4h0M567.1 761.3h0M567.1 761.3h0M567.1 761.3h0M569.4 763.4h0M569.4 759.3h0M569.4 757.3h0M569.4 757.3h0M571.7 761.3h0M571.7 757.3h0M571.7 757.3h0M571.7 761.3h0M573.9 765.4h0M573.9 761.3h0M573.9 761.3h0M573.9 759.3h0M576.2 763.4h0M576.2 757.3h0M576.2 763.4h0M576.2 757.3h0M578.5 763.4h0M578.5 763.4h0M578.5 761.3h0M580.8 765.4h0M580.8 763.4h0M580.8 761.3h0M580.8 759.3h0M583.1 757.3h0M583.1 761.3h0M583.1 757.3h0M583.1 765.4h0M585.3 761.3h0M585.3 759.3h0M585.3 765.4h0M585.3 759.3h0M587.6 759.3h0M587.6 763.4h0M587.6 759.3h0M587.6 761.3h0M589.9 765.4h0M589.9 759.3h0M589.9 763.4h0M589.9 761.3h0M592.2 757.3h0M592.2 761.3h0M592.2 761.3h0M592.2 759.3h0M594.5 765.4h0M594.5 767.4h0M594.5 767.4h0M596.8 763.4h0M596.8 759.3h0M596.8 763.4h0M596.8 759.3h0M599 765.4h0M599 767.4h0M599 765.4h0M599 759.3h0M601.3 759.3h0M601.3 763.4h0M601.3 765.4h0M601.3 761.3h0M603.6 765.4h0M603.6 765.4h0M603.6 761.3h0M603.6 767.4h0M605.9 761.3h0M605.9 759.3h0M605.9 767.4h0M605.9 761.3h0M608.2 767.4h0M608.2 767.4h0M608.2 765.4h0M608.2 759.3h0M610.5 767.4h0M610.5 765.4h0M610.5 765.4h0M610.5 767.4h0M612.7 759.3h0M612.7 767.4h0M612.7 759.3h0M615 763.4h0M615 763.4h0M615 761.3h0M615 763.4h0M617.3 761.3h0M617.3 761.3h0M617.3 767.4h0M617.3 767.4h0M619.6 765.4h0M619.6 767.4h0M619.6 763.4h0M619.6 759.3h0M621.9 765.4h0M621.9 767.4h0M621.9 767.4h0M621.9 765.4h0M624.1 763.4h0M624.1 761.3h0M624.1 763.4h0M624.1 765.4h0M626.4 761.3h0M626.4 765.4h0M626.4 763.4h0M626.4 769.4h0M628.7 765.4h0M628.7 767.4h0M628.7 767.4h0M631 767.4h0M631 765.4h0M631 769.4h0M631 763.4h0M633.3 767.4h0M633.3 767.4h0M633.3 761.3h0M633.3 763.4h0M635.6 767.4h0M635.6 769.4h0M635.6 765.4h0M635.6 763.4h0M637.8 765.4h0M637.8 767.4h0M637.8 769.4h0M637.8 767.4h0M640.1 763.4h0M640.1 769.4h0M640.1 761.3h0M640.1 763.4h0M642.4 767.4h0M642.4 769.4h0M642.4 765.4h0M642.4 761.3h0M644.7 769.4h0M644.7 767.4h0M644.7 769.4h0M644.7 763.4h0M647 761.3h0M647 765.4h0M647 767.4h0M649.2 761.3h0M649.2 765.4h0M649.2 761.3h0M649.2 767.4h0M651.5 769.4h0M651.5 769.4h0M651.5 767.4h0M651.5 767.4h0M653.8 763.4h0M653.8 767.4h0M653.8 767.4h0M653.8 761.3h0M656.1 765.4h0M656.1 765.4h0M656.1 763.4h0M656.1 765.4h0M658.4 769.4h0M658.4 761.3h0M658.4 769.4h0M658.4 769.4h0M660.7 765.4h0M660.7 765.4h0M660.7 769.4h0M660.7 765.4h0M662.9 769.4h0M662.9 767.4h0M662.9 761.3h0M665.2 763.4h0M665.2 765.4h0M665.2 763.4h0M665.2 765.4h0M667.5 769.4h0M667.5 763.4h0M667.5 765.4h0M667.5 765.4h0M669.8 761.3h0M669.8 765.4h0M669.8 767.4h0M669.8 767.4h0M672.1 765.4h0M672.1 763.4h0M672.1 763.4h0M672.1 767.4h0M674.3 767.4h0M674.3 769.4h0M674.3 765.4h0M674.3 763.4h0M676.6 769.4h0M676.6 765.4h0M676.6 769.4h0M676.6 763.4h0M678.9 765.4h0M678.9 761.3h0M678.9 769.4h0M678.9 769.4h0M681.2 765.4h0M681.2 769.4h0M681.2 763.4h0M683.5 769.4h0M683.5 769.4h0M683.5 769.4h0M683.5 765.4h0M685.8 769.4h0M685.8 767.4h0M685.8 769.4h0M685.8 763.4h0M688 769.4h0M688 769.4h0M688 765.4h0M688 767.4h0M690.3 769.4h0M690.3 761.3h0M690.3 767.4h0M690.3 767.4h0M692.6 765.4h0M692.6 767.4h0M692.6 763.4h0M692.6 767.4h0M694.9 769.4h0M694.9 767.4h0M694.9 763.4h0M694.9 769.4h0M697.2 765.4h0M697.2 767.4h0M697.2 765.4h0M699.4 769.4h0M699.4 769.4h0M699.4 765.4h0M699.4 763.4h0M701.7 767.4h0M701.7 769.4h0M701.7 763.4h0M701.7 767.4h0M704 765.4h0M704 769.4h0M704 765.4h0M704 769.4h0M706.3 763.4h0M706.3 769.4h0M706.3 771.4h0M706.3 769.4h0M708.6 765.4h0M708.6 765.4h0M708.6 763.4h0M708.6 769.4h0M710.9 767.4h0M710.9 771.4h0M710.9 769.4h0M710.9 771.4h0M713.1 765.4h0M713.1 763.4h0M713.1 767.4h0M715.4 767.4h0M715.4 763.4h0M715.4 769.4h0M715.4 767.4h0M717.7 763.4h0M717.7 769.4h0M717.7 765.4h0M717.7 771.4h0M720 769.4h0M720 769.4h0M720 767.4h0M720 769.4h0M722.3 771.4h0M722.3 767.4h0M722.3 769.4h0M722.3 765.4h0M724.5 771.4h0M724.5 765.4h0M724.5 771.4h0M724.5 767.4h0M726.8 771.4h0M726.8 763.4h0M726.8 767.4h0M726.8 767.4h0M729.1 771.4h0M729.1 765.4h0M729.1 769.4h0M729.1 767.4h0M731.4 765.4h0M731.4 765.4h0M731.4 769.4h0M733.7 771.4h0M733.7 761.3h0M733.7 769.4h0M733.7 771.4h0M736 767.4h0M736 763.4h0M736 771.4h0M736 771.4h0M738.2 765.4h0M738.2 767.4h0M738.2 769.4h0M738.2 769.4h0M740.5 765.4h0M740.5 771.4h0M740.5 769.4h0M740.5 769.4h0M742.8 765.4h0M742.8 769.4h0M742.8 771.4h0M742.8 765.4h0M745.1 765.4h0M745.1 771.4h0M745.1 765.4h0M745.1 767.4h0M747.4 769.4h0M747.4 767.4h0M747.4 767.4h0M749.7 765.4h0M749.7 763.4h0M749.7 769.4h0M749.7 771.4h0M751.9 769.4h0M751.9 767.4h0M751.9 769.4h0M751.9 769.4h0M754.2 769.4h0M754.2 763.4h0M754.2 765.4h0M754.2 771.4h0M756.5 769.4h0M756.5 769.4h0M756.5 771.4h0M756.5 763.4h0M758.8 769.4h0M758.8 767.4h0M758.8 769.4h0M758.8 771.4h0M761.1 771.4h0M761.1 765.4h0M761.1 767.4h0M761.1 767.4h0M763.3 769.4h0M763.3 769.4h0M763.3 767.4h0M763.3 769.4h0M765.6 767.4h0M765.6 763.4h0M765.6 769.4h0M767.9 763.4h0M767.9 767.4h0M767.9 763.4h0M767.9 763.4h0M770.2 771.4h0M770.2 765.4h0M770.2 769.4h0M770.2 767.4h0M772.5 763.4h0M772.5 767.4h0M772.5 767.4h0M772.5 765.4h0M774.8 769.4h0M774.8 769.4h0M774.8 769.4h0M774.8 767.4h0M777 765.4h0M777 771.4h0M777 767.4h0M777 767.4h0M779.3 769.4h0M779.3 763.4h0M779.3 769.4h0M779.3 765.4h0M781.6 771.4h0M781.6 769.4h0M781.6 771.4h0M783.9 763.4h0M783.9 765.4h0M783.9 769.4h0M783.9 769.4h0M786.2 771.4h0M786.2 763.4h0M786.2 763.4h0M786.2 763.4h0M788.4 767.4h0M788.4 769.4h0M788.4 769.4h0M788.4 767.4h0M790.7 769.4h0M790.7 771.4h0M790.7 767.4h0M790.7 771.4h0M793 769.4h0M793 765.4h0M793 767.4h0M793 765.4h0M795.3 765.4h0M795.3 767.4h0M795.3 769.4h0M795.3 765.4h0M797.6 771.4h0M797.6 771.4h0M797.6 769.4h0M797.6 771.4h0M799.9 765.4h0M799.9 769.4h0M799.9 771.4h0M802.1 765.4h0M802.1 763.4h0M802.1 765.4h0M802.1 763.4h0M804.4 765.4h0M804.4 763.4h0M804.4 767.4h0M804.4 765.4h0M806.7 765.4h0M806.7 771.4h0M806.7 769.4h0M806.7 767.4h0M809 769.4h0M809 763.4h0M809 771.4h0M809 771.4h0M811.3 769.4h0M811.3 769.4h0M811.3 765.4h0M811.3 771.4h0M813.5 765.4h0M813.5 763.4h0M813.5 771.4h0M813.5 763.4h0M815.8 767.4h0M815.8 771.4h0M815.8 765.4h0M818.1 771.4h0M818.1 769.4h0M818.1 769.4h0M818.1 769.4h0M820.4 771.4h0M820.4 769.4h0M820.4 767.4h0M820.4 769.4h0M822.7 767.4h0M822.7 763.4h0M822.7 765.4h0M822.7 771.4h0M825 765.4h0M825 765.4h0M825 763.4h0M825 769.4h0M827.2 763.4h0M827.2 767.4h0M827.2 769.4h0M827.2 767.4h0M829.5 769.4h0M829.5 765.4h0M829.5 767.4h0M829.5 763.4h0M831.8 769.4h0M831.8 771.4h0M831.8 771.4h0M831.8 769.4h0M834.1 769.4h0M834.1 765.4h0M834.1 767.4h0M836.4 771.4h0M836.4 769.4h0M836.4 767.4h0M836.4 765.4h0M838.6 765.4h0M838.6 767.4h0M838.6 769.4h0M838.6 767.4h0M840.9 769.4h0M840.9 771.4h0M840.9 765.4h0M840.9 767.4h0M843.2 763.4h0M843.2 765.4h0M843.2 769.4h0M843.2 771.4h0M845.5 769.4h0M845.5 769.4h0M845.5 767.4h0M845.5 769.4h0M847.8 771.4h0M847.8 771.4h0M847.8 769.4h0M847.8 767.4h0M850.1 771.4h0M850.1 771.4h0M850.1 769.4h0M852.3 765.4h0M852.3 765.4h0M852.3 769.4h0M852.3 771.4h0M854.6 763.4h0M854.6 763.4h0M854.6 769.4h0M854.6 771.4h0M856.9 767.4h0M856.9 771.4h0M856.9 769.4h0M856.9 769.4h0M859.2 769.4h0M859.2 763.4h0M859.2 769.4h0M859.2 771.4h0M861.5 767.4h0M861.5 763.4h0M861.5 769.4h0M861.5 767.4h0M863.8 769.4h0M863.8 767.4h0M863.8 769.4h0M863.8 769.4h0M866 763.4h0M866 765.4h0M866 765.4h0M866 767.4h0M868.3 763.4h0M868.3 771.4h0M868.3 769.4h0M870.6 767.4h0M870.6 771.4h0M870.6 763.4h0M870.6 767.4h0M872.9 765.4h0M872.9 763.4h0M872.9 767.4h0M872.9 763.4h0M875.2 769.4h0M875.2 763.4h0M875.2 767.4h0M875.2 765.4h0M877.4 769.4h0M877.4 769.4h0M877.4 767.4h0M877.4 767.4h0M879.7 763.4h0M879.7 769.4h0M879.7 763.4h0M879.7 771.4h0M882 771.4h0M882 771.4h0M882 771.4h0M882 767.4h0M884.3 771.4h0M884.3 767.4h0M884.3 765.4h0M886.6 763.4h0M886.6 771.4h0M886.6 769.4h0M886.6 769.4h0M888.9 771.4h0M888.9 767.4h0M888.9 769.4h0M888.9 769.4h0M891.1 771.4h0M891.1 771.4h0M891.1 763.4h0M891.1 767.4h0M893.4 769.4h0M893.4 763.4h0M893.4 771.4h0M893.4 769.4h0M895.7 771.4h0M895.7 765.4h0M895.7 763.4h0M895.7 769.4h0M898 765.4h0M898 763.4h0M898 771.4h0M898 763.4h0M900.3 769.4h0M900.3 765.4h0M900.3 767.4h0M900.3 769.4h0M902.5 767.4h0M902.5 771.4h0M902.5 769.4h0M904.8 769.4h0M904.8 767.4h0M904.8 765.4h0M904.8 765.4h0M907.1 765.4h0M907.1 765.4h0M907.1 769.4h0M907.1 771.4h0M909.4 767.4h0M909.4 771.4h0M909.4 763.4h0M909.4 769.4h0M911.7 769.4h0M911.7 771.4h0M911.7 765.4h0M911.7 765.4h0M914 771.4h0M914 765.4h0M914 771.4h0M914 767.4h0M916.2 767.4h0M916.2 767.4h0M916.2 771.4h0M916.2 765.4h0M918.5 765.4h0M918.5 765.4h0M918.5 769.4h0M920.8 769.4h0M920.8 767.4h0M920.8 767.4h0M920.8 765.4h0M923.1 769.4h0M923.1 767.4h0M923.1 767.4h0M923.1 767.4h0M925.4 765.4h0M925.4 769.4h0M925.4 771.4h0M925.4 769.4h0M927.6 765.4h0M927.6 763.4h0M927.6 769.4h0M927.6 767.4h0M929.9 767.4h0M929.9 765.4h0M929.9 771.4h0M929.9 767.4h0M932.2 765.4h0M932.2 763.4h0M932.2 769.4h0M932.2 769.4h0M934.5 765.4h0M934.5 763.4h0M934.5 771.4h0M934.5 763.4h0M936.8 771.4h0M936.8 771.4h0M936.8 771.4h0M939.1 771.4h0M939.1 771.4h0M939.1 771.4h0M939.1 769.4h0M941.3 763.4h0M941.3 765.4h0M941.3 771.4h0M941.3 771.4h0M943.6 767.4h0M943.6 767.4h0M943.6 769.4h0M943.6 769.4h0M945.9 765.4h0M945.9 769.4h0M945.9 765.4h0M945.9 771.4h0M948.2 771.4h0M948.2 771.4h0M948.2 767.4h0M948.2 767.4h0M950.5 765.4h0M950.5 763.4h0M950.5 765.4h0M950.5 769.4h0M952.8 771.4h0M952.8 765.4h0M952.8 763.4h0M955 771.4h0M955 771.4h0M955 771.4h0M955 769.4h0M957.3 767.4h0M957.3 769.4h0M957.3 767.4h0M957.3 765.4h0M959.6 771.4h0M959.6 769.4h0M959.6 763.4h0M959.6 767.4h0M961.9 769.4h0M961.9 767.4h0M961.9 767.4h0M961.9 765.4h0M964.2 765.4h0M964.2 767.4h0M964.2 767.4h0M964.2 767.4h0M966.4 771.4h0M966.4 765.4h0M966.4 771.4h0M966.4 771.4h0M968.7 769.4h0M968.7 767.4h0M968.7 765.4h0M971 769.4h0M971 767.4h0M971 769.4h0M971 769.4h0M973.3 763.4h0M973.3 767.4h0M973.3 771.4h0M973.3 765.4h0M975.6 769.4h0M975.6 763.4h0M975.6 771.4h0M975.6 763.4h0M977.9 767.4h0M977.9 767.4h0M977.9 769.4h0M977.9 763.4h0M980.1 765.4h0M980.1 767.4h0M980.1 769.4h0M980.1 769.4h0M982.4 769.4h0M982.4 771.4h0M982.4 771.4h0M982.4 767.4h0M984.7 765.4h0M984.7 763.4h0M984.7 771.4h0M984.7 769.4h0M987 771.4h0M987 767.4h0M987 769.4h0M989.3 769.4h0"/>
<polyline class="l" stroke="#ffff00" points="99.3,771.4 99.3,765.4 99.3,763.4 101.6,771.4 101.6,769.4 101.6,765.4 103.8,765.4 103.8,769.4 103.8,771.4 103.8,765.4 106.1,767.4 106.1,769.4 106.1,763.4 106.1,767.4 108.4,767.4 108.4,767.4 108.4,771.4 108.4,763.4 110.7,763.4 110.7,771.4 110.7,765.4 110.7,767.4 113,769.4 113,767.4 113,771.4 113,769.4 115.3,769.4 115.3,767.4 115.3,769.4 115.3,771.4 117.5,771.4 117.5,769.4 117.5,769.4 119.8,765.4 119.8,765.4 119.8,763.4 119.8,763.4 122.1,769.4 122.1,767.4 122.1,767.4 122.1,769.4 124.4,771.4 124.4,771.4 124.4,765.4 124.4,765.4 126.7,769.4 126.7,771.4 126.7,767.4 126.7,765.4 128.9,771.4 128.9,767.4 128.9,771.4 128.9,771.4 131.2,769.4 131.2,771.4 131.2,765.4 131.2,771.4 133.5,769.4 133.5,767.4 133.5,765.4 133.5,767.4 135.8,771.4 135.8,765.4 135.8,763.4 138.1,771.4 138.1,763.4 138.1,767.4 138.1,767.4 140.4,769.4 140.4,771.4 140.4,767.4 140.4,765.4 142.6,771.4 142.6,767.4 142.6,767.4 142.6,763.4 144.9,771.4 144.9,769.4 144.9,771.4 144.9,769.4 147.2,765.4 147.2,771.4 147.2,769.4 147.2,765.4 149.5,765.4 149.5,763.4 149.5,771.4 149.5,771.4 151.8,771.4 151.8,769.4 151.8,767.4 154.1,771.4 154.1,767.4 154.1,771.4 154.1,763.4 156.3,767.4 156.3,771.4 156.3,765.4 156.3,769.4 158.6,765.4 158.6,769.4 158.6,765.4 158.6,771.4 160.9,763.4 160.9,771.4 160.9,769.4 160.9,771.4 163.2,763.4 163.2,771.4 163.2,771.4 163.2,769.4 165.5,771.4 165.5,763.4 165.5,765.4 165.5,769.4 167.7,769.4 167.7,771.4 167.7,771.4 170,769.4 170,767.4 170,765.4 170,771.4 172.3,765.4 172.3,767.4 172.3,771.4 172.3,771.4 174.6,771.4 174.6,763.4 174.6,771.4 174.6,771.4 176.9,767.4 176.9,771.4 176.9,763.4 176.9,767.4 179.2,765.4 179.2,767.4 179.2,767.4 179.2,769.4 181.4,769.4 181.4,765.4 181.4,771.4 181.4,771.4 183.7,765.4 183.7,769.4 183.7,767.4 183.7,769.4 186,765.4 186,765.4 186,771.4 188.3,765.4 188.3,769.4 188.3,767.4 188.3,769.4 190.6,765.4 190.6,769.4 190.6,765.4 190.6,763.4 192.8,767.4 192.8,765.4 192.8,763.4 192.8,767.4 195.1,751.3 195.1,731.1 197.4,717 197.4,696.9 199.7,680.8 199.7,664.7 202,636.5 204.3,616.3 204.3,584.1 206.5,553.9 206.5,513.6 208.8,469.3 208.8,425 211.1,378.7 211.1,314.2 213.4,271.9 213.4,263.9 215.7,245.8 215.7,225.6 217.9,211.5 217.9,169.2 220.2,141 220.2,141 222.5,124.9 222.5,126.9 222.5,124.9 224.8,124.9 224.8,124.9 224.8,124.9 224.8,124.9 227.1,124.9 227.1,124.9 227.1,124.9 227.1,124.9 229.4,124.9 229.4,124.9 229.4,137 231.6,141 231.6,155.1 233.9,163.2 233.9,185.3 236.2,213.5 238.5,235.7 238.5,263.9 240.8,290.1 240.8,294.1 243,322.3 243,336.4 245.3,354.5 245.3,382.7 247.6,414.9 247.6,437.1 249.9,465.3 249.9,489.5 252.2,503.6 252.2,505.6 252.2,509.6 252.2,515.6 254.5,513.6 254.5,529.7 256.7,564 256.7,586.1 259,592.2 259,596.2 259,596.2 261.3,596.2 261.3,604.3 261.3,594.2 261.3,606.3 263.6,610.3 263.6,604.3 263.6,614.3 263.6,616.3 265.9,614.3 265.9,614.3 265.9,618.4 265.9,618.4 268.1,620.4 268.1,620.4 268.1,614.3 268.1,622.4 270.4,618.4 270.4,624.4 270.4,624.4 272.7,622.4 272.7,626.4 272.7,622.4 272.7,618.4 275,622.4 275,624.4 275,622.4 275,614.3 277.3,622.4 277.3,622.4 277.3,616.3 277.3,622.4 279.6,610.3 279.6,622.4 279.6,622.4 279.6,618.4 281.8,616.3 281.8,614.3 281.8,616.3 281.8,610.3 284.1,606.3 284.1,612.3 284.1,606.3 284.1,604.3 286.4,612.3 286.4,610.3 286.4,610.3 286.4,608.3 288.7,598.2 288.7,604.3 288.7,604.3 291,600.2 291,602.2 291,602.2 291,598.2 293.3,590.2 293.3,590.2 293.3,584.1 293.3,592.2 295.5,582.1 295.5,590.2 295.5,588.1 295.5,582.1 297.8,586.1 297.8,588.1 297.8,578.1 297.8,574 300.1,580.1 300.1,578.1 300.1,578.1 300.1,572 302.4,572 302.4,574 302.4,562 302.4,572 304.7,559.9 304.7,557.9 304.7,568 306.9,566 306.9,557.9 306.9,557.9 306.9,559.9 309.2,555.9 309.2,557.9 309.2,553.9 309.2,549.9 311.5,543.8 311.5,549.9 311.5,551.9 311.5,537.8 313.8,541.8 313.8,547.9 313.8,545.8 313.8,541.8 316.1,541.8 316.1,539.8 316.1,539.8 316.1,527.7 318.4,527.7 318.4,529.7 318.4,535.8 318.4,525.7 320.6,529.7 320.6,521.7 320.6,529.7 320.6,527.7 322.9,527.7 322.9,517.6 322.9,513.6 325.2,515.6 325.2,519.7 325.2,521.7 325.2,507.6 327.5,517.6 327.5,507.6 327.5,511.6 327.5,511.6 329.8,509.6 329.8,511.6 329.8,509.6 329.8,497.5 332,503.6 332,499.5 332,503.6 332,499.5 334.3,493.5 334.3,495.5 334.3,497.5 334.3,495.5 336.6,483.4 336.6,495.5 336.6,491.5 336.6,493.5 338.9,491.5 338.9,491.5 338.9,481.4 341.2,485.4 341.2,483.4 341.2,485.4 341.2,481.4 343.5,481.4 343.5,473.3 343.5,481.4 343.5,481.4 345.7,479.4 345.7,475.4 345.7,473.3 345.7,469.3 348,463.3 348,463.3 348,473.3 348,471.3 350.3,469.3 350.3,463.3 350.3,467.3 350.3,471.3 352.6,471.3 352.6,469.3 352.6,463.3 352.6,469.3 354.9,465.3 354.9,467.3 354.9,457.2 354.9,461.3 357.1,455.2 357.1,465.3 357.1,465.3 359.4,457.2 359.4,467.3 359.4,465.3 359.4,471.3 361.7,471.3 361.7,469.3 361.7,471.3 361.7,469.3 364,461.3 364,473.3 364,475.4 364,469.3 366.3,473.3 366.3,477.4 366.3,467.3 366.3,465.3 368.6,469.3 368.6,469.3 368.6,471.3 368.6,467.3 370.8,479.4 370.8,471.3 370.8,473.3 370.8,471.3 373.1,473.3 373.1,479.4 373.1,477.4 375.4,485.4 375.4,483.4 375.4,487.4 375.4,485.4 377.7,479.4 377.7,487.4 377.7,479.4 377.7,491.5 380,485.4 380,491.5 380,487.4 380,485.4 382.2,485.4 382.2,487.4 382.2,497.5 382.2,491.5 384.5,497.5 384.5,495.5 384.5,501.5 384.5,497.5 386.8,495.5 386.8,503.6 386.8,499.5 386.8,495.5 389.1,501.5 389.1,505.6 389.1,507.6 389.1,505.6 391.4,507.6 391.4,503.6 391.4,505.6 393.7,505.6 393.7,505.6 393.7,507.6 393.7,509.6 395.9,517.6 395.9,513.6 395.9,517.6 395.9,521.7 398.2,517.6 398.2,523.7 398.2,517.6 398.2,521.7 400.5,527.7 400.5,525.7 400.5,525.7 400.5,531.7 402.8,521.7 402.8,523.7 402.8,537.8 402.8,531.7 405.1,537.8 405.1,533.8 405.1,531.7 405.1,541.8 407.4,541.8 407.4,547.9 407.4,545.8 409.6,541.8 409.6,553.9 409.6,557.9 409.6,547.9 411.9,562 411.9,555.9 411.9,559.9 411.9,566 414.2,557.9 414.2,572 414.2,574 414.2,568 416.5,580.1 416.5,580.1 416.5,582.1 416.5,582.1 418.8,580.1 418.8,578.1 418.8,590.2 418.8,594.2 421,588.1 421,586.1 421,600.2 421,596.2 423.3,598.2 423.3,600.2 423.3,600.2 425.6,606.3 425.6,600.2 425.6,612.3 425.6,602.2 427.9,604.3 427.9,608.3 427.9,616.3 427.9,608.3 430.2,622.4 430.2,620.4 430.2,622.4 430.2,628.4 432.5,616.3 432.5,630.4 432.5,630.4 432.5,636.5 434.7,636.5 434.7,628.4 434.7,632.4 434.7,640.5 437,636.5 437,644.5 437,640.5 437,638.5 439.3,650.6 439.3,650.6 439.3,650.6 439.3,654.6 441.6,644.5 441.6,648.6 441.6,652.6 443.9,652.6 443.9,652.6 443.9,660.6 443.9,662.7 446.1,664.7 446.1,664.7 446.1,664.7 446.1,658.6 448.4,666.7 448.4,666.7 448.4,662.7 448.4,658.6 450.7,672.7 450.7,666.7 450.7,670.7 450.7,674.7 453,674.7 453,668.7 453,676.8 453,674.7 455.3,676.8 455.3,680.8 455.3,670.7 455.3,672.7 457.6,674.7 457.6,680.8 457.6,682.8 459.8,680.8 459.8,674.7 459.8,684.8 459.8,688.8 462.1,686.8 462.1,686.8 462.1,686.8 462.1,682.8 464.4,688.8 464.4,686.8 464.4,692.9 464.4,692.9 466.7,686.8 466.7,696.9 466.7,698.9 466.7,696.9 469,700.9 469,702.9 469,698.9 469,698.9 471.2,692.9 471.2,707 471.2,707 471.2,700.9 473.5,698.9 473.5,709 473.5,709 473.5,705 475.8,705 475.8,702.9 475.8,707 478.1,702.9 478.1,713 478.1,709 478.1,711 480.4,715 480.4,711 480.4,711 480.4,715 482.7,713 482.7,719 482.7,713 482.7,719 484.9,717 484.9,719 484.9,721.1 484.9,715 487.2,719 487.2,721.1 487.2,719 487.2,721.1 489.5,725.1 489.5,727.1 489.5,723.1 489.5,729.1 491.8,721.1 491.8,723.1 491.8,725.1 494.1,729.1 494.1,721.1 494.1,725.1 494.1,723.1 496.4,727.1 496.4,729.1 496.4,731.1 496.4,733.1 498.6,727.1 498.6,729.1 498.6,735.2 498.6,735.2 500.9,733.1 500.9,731.1 500.9,731.1 500.9,735.2 503.2,737.2 503.2,733.1 503.2,739.2 503.2,739.2 505.5,739.2 505.5,737.2 505.5,741.2 505.5,741.2 507.8,737.2 507.8,741.2 507.8,741.2 507.8,741.2 510,743.2 510,735.2 510,735.2 512.3,739.2 512.3,745.2 512.3,739.2 512.3,739.2 514.6,745.2 514.6,745.2 514.6,741.2 514.6,741.2 516.9,745.2 516.9,745.2 516.9,739.2 516.9,747.2 519.2,745.2 519.2,745.2 519.2,743.2 519.2,747.2 521.5,743.2 521.5,747.2 521.5,745.2 521.5,749.3 523.7,747.2 523.7,743.2 523.7,749.3 523.7,749.3 526,739.2 526,747.2 526,749.3 528.3,747.2 528.3,749.3 528.3,743.2 528.3,741.2 530.6,743.2 530.6,745.2 530.6,747.2 530.6,751.3 532.9,745.2 532.9,749.3 532.9,749.3 532.9,747.2 535.1,751.3 535.1,741.2 535.1,747.2 535.1,745.2 537.4,751.3 537.4,751.3 537.4,751.3 537.4,751.3 539.7,749.3 539.7,747.2 539.7,745.2 539.7,753.3 542,749.3 542,747.2 542,751.3 542,753.3 544.3,753.3 544.3,753.3 544.3,753.3 546.6,753.3 546.6,745.2 546.6,749.3 546.6,755.3 548.8,749.3 548.8,751.3 548.8,749.3 548.8,755.3 551.1,753.3 551.1,753.3 551.1,753.3 551.1,757.3 553.4,749.3 553.4,757.3 553.4,755.3 553.4,753.3 555.7,755.3 555.7,755.3 555.7,753.3 555.7,755.3 558,753.3 558,753.3 558,751.3 558,755.3 560.2,757.3 560.2,751.3 560.2,751.3 562.5,753.3 562.5,759.3 562.5,753.3 562.5,755.3 564.8,757.3 564.8,761.3 564.8,761.3 564.8,753.3 567.1,759.3 567.1,759.3 567.1,759.3 567.1,759.3 569.4,759.3 569.4,761.3 569.4,755.3 569.4,759.3 571.7,761.3 571.7,761.3 571.7,757.3 571.7,757.3 573.9,757.3 573.9,759.3 573.9,761.3 573.9,763.4 576.2,761.3 576.2,763.4 576.2,763.4 576.2,761.3 578.5,763.4 578.5,763.4 578.5,763.4 580.8,761.3 580.8,757.3 580.8,755.3 580.8,765.4 583.1,761.3 583.1,765.4 583.1,759.3 583.1,761.3 585.3,761.3 585.3,763.4 585.3,763.4 585.3,765.4 587.6,761.3 587.6,759.3 587.6,765.4 587.6,757.3 589.9,765.4 589.9,757.3 589.9,757.3 589.9,763.4 592.2,759.3 592.2,761.3 592.2,765.4 592.2,761.3 594.5,763.4 594.5,765.4 594.5,759.3 596.8,765.4 596.8,757.3 596.8,765.4 596.8,765.4 599,759.3 599,759.3 599,763.4 599,761.3 601.3,759.3 601.3,765.4 601.3,765.4 601.3,767.4 603.6,761.3 603.6,761.3 603.6,767.4 603.6,761.3 605.9,765.4 605.9,763.4 605.9,763.4 605.9,763.4 608.2,763.4 608.2,765.4 608.2,761.3 608.2,765.4 610.5,759.3 610.5,765.4 610.5,761.3 610.5,763.4 612.7,765.4 612.7,765.4 612.7,763.4 615,765.4 615,763.4 615,765.4 615,761.3 617.3,765.4 617.3,761.3 617.3,765.4 617.3,761.3 619.6,761.3 619.6,767.4 619.6,759.3 619.6,761.3 621.9,763.4 621.9,767.4 621.9,761.3 621.9,763.4 624.1,767.4 624.1,763.4 624.1,767.4 624.1,763.4 626.4,767.4 626.4,767.4 626.4,767.4 626.4,765.4 628.7,763.4 628.7,763.4 628.7,765.4 631,767.4 631,767.4 631,765.4 631,761.3 633.3,759.3 633.3,761.3 633.3,767.4 633.3,767.4 635.6,765.4 635.6,765.4 635.6,767.4 635.6,767.4 637.8,761.3 637.8,759.3 637.8,765.4 637.8,761.3 640.1,763.4 640.1,763.4 640.1,765.4 640.1,761.3 642.4,767.4 642.4,767.4 642.4,763.4 642.4,767.4 644.7,761.3 644.7,761.3 644.7,763.4 644.7,761.3 647,763.4 647,767.4 647,767.4 649.2,769.4 649.2,767.4 649.2,763.4 649.2,763.4 651.5,763.4 651.5,767.4 651.5,761.3 651.5,765.4 653.8,767.4 653.8,761.3 653.8,763.4 653.8,763.4 656.1,765.4 656.1,769.4 656.1,765.4 656.1,763.4 658.4,763.4 658.4,767.4 658.4,765.4 658.4,763.4 660.7,761.3 660.7,767.4 660.7,765.4 660.7,769.4 662.9,769.4 662.9,767.4 662.9,769.4 665.2,767.4 665.2,761.3 665.2,767.4 665.2,769.4 667.5,769.4 667.5,765.4 667.5,767.4 667.5,765.4 669.8,767.4 669.8,765.4 669.8,767.4 669.8,767.4 672.1,769.4 672.1,767.4 672.1,763.4 672.1,767.4 674.3,763.4 674.3,769.4 674.3,765.4 674.3,763.4 676.6,769.4 676.6,767.4 676.6,769.4 676.6,767.4 678.9,761.3 678.9,765.4 678.9,769.4 678.9,761.3 681.2,765.4 681.2,763.4 681.2,763.4 683.5,761.3 683.5,763.4 683.5,769.4 683.5,763.4 685.8,765.4 685.8,767.4 685.8,763.4 685.8,769.4 688,767.4 688,763.4 688,767.4 688,767.4 690.3,769.4 690.3,769.4 690.3,769.4 690.3,761.3 692.6,767.4 692.6,769.4 692.6,763.4 692.6,765.4 694.9,769.4 694.9,765.4 694.9,769.4 694.9,767.4 697.2,767.4 697.2,769.4 697.2,765.4 699.4,769.4 699.4,769.4 699.4,765.4 699.4,767.4 701.7,765.4 701.7,767.4 701.7,767.4 701.7,765.4 704,769.4 704,769.4 704,763.4 704,765.4 706.3,769.4 706.3,765.4 706.3,763.4 706.3,763.4 708.6,765.4 708.6,767.4 708.6,765.4 708.6,769.4 710.9,767.4 710.9,763.4 710.9,769.4 710.9,769.4 713.1,767.4 713.1,763.4 713.1,763.4 715.4,761.3 715.4,761.3 715.4,769.4 715.4,767.4 717.7,767.4 717.7,765.4 717.7,769.4 717.7,769.4 720,769.4 720,767.4 720,769.4 720,769.4 722.3,769.4 722.3,765.4 722.3,769.4 722.3,769.4 724.5,763.4 724.5,769.4 724.5,769.4 724.5,771.4 726.8,767.4 726.8,769.4 726.8,767.4 726.8,769.4 729.1,767.4 729.1,769.4 729.1,771.4 729.1,763.4 731.4,765.4 731.4,769.4 731.4,769.4 733.7,765.4 733.7,767.4 733.7,767.4 733.7,763.4 736,769.4 736,763.4 736,769.4 736,763.4 738.2,763.4 738.2,769.4 738.2,767.4 738.2,763.4 740.5,763.4 740.5,771.4 740.5,767.4 740.5,771.4 742.8,763.4 742.8,769.4 742.8,769.4 742.8,769.4 745.1,765.4 745.1,769.4 745.1,769.4 745.1,763.4 747.4,769.4 747.4,763.4 747.4,763.4 749.7,769.4 749.7,769.4 749.7,763.4 749.7,767.4 751.9,769.4 751.9,771.4 751.9,769.4 751.9,771.4 754.2,767.4 754.2,769.4 754.2,769.4 754.2,769.4 756.5,765.4 756.5,763.4 756.5,771.4 756.5,767.4 758.8,771.4 758.8,771.4 758.8,763.4 758.8,769.4 761.1,767.4 761.1,763.4 761.1,767.4 761.1,769.4 763.3,765.4 763.3,765.4 763.3,767.4 763.3,769.4 765.6,765.4 765.6,769.4 765.6,769.4 767.9,769.4 767.9,763.4 767.9,771.4 767.9,771.4 770.2,769.4 770.2,771.4 770.2,769.4 770.2,763.4 772.5,763.4 772.5,771.4 772.5,769.4 772.5,769.4 774.8,763.4 774.8,769.4 774.8,765.4 774.8,767.4 777,765.4 777,769.4 777,763.4 777,763.4 779.3,769.4 779.3,763.4 779.3,765.4 779.3,771.4 781.6,769.4 781.6,771.4 781.6,763.4 783.9,771.4 783.9,765.4 783.9,769.4 783.9,763.4 786.2,765.4 786.2,765.4 786.2,769.4 786.2,765.4 788.4,767.4 788.4,769.4 788.4,763.4 788.4,763.4 790.7,767.4 790.7,763.4 790.7,769.4 790.7,771.4 793,769.4 793,767.4 793,763.4 793,765.4 795.3,771.4 795.3,765.4 795.3,765.4 795.3,767.4 797.6,769.4 797.6,769.4 797.6,771.4 797.6,771.4 799.9,769.4 799.9,769.4 799.9,767.4 802.1,769.4 802.1,765.4 802.1,771.4 802.1,771.4 804.4,763.4 804.4,767.4 804.4,767.4 804.4,769.4 806.7,769.4 806.7,769.4 806.7,767.4 806.7,765.4 809,771.4 809,763.4 809,771.4 809,769.4 811.3,765.4 811.3,771.4 811.3,767.4 811.3,767.4 813.5,767.4 813.5,765.4 813.5,771.4 813.5,771.4 815.8,763.4 815.8,763.4 815.8,771.4 818.1,767.4 818.1,771.4 818.1,763.4 818.1,763.4 820.4,767.4 820.4,769.4 820.4,767.4 820.4,767.4 822.7,765.4 822.7,765.4 822.7,765.4 822.7,765.4 825,771.4 825,771.4 825,767.4 825,767.4 827.2,763.4 827.2,771.4 827.2,769.4 827.2,765.4 829.5,769.4 829.5,771.4 829.5,769.4 829.5,763.4 831.8,765.4 831.8,765.4 831.8,771.4 831.8,765.4 834.1,771.4 834.1,771.4 834.1,767.4 836.4,767.4 836.4,769.4 836.4,763.4 836.4,769.4 838.6,769.4 838.6,771.4 838.6,765.4 838.6,765.4 840.9,765.4 840.9,767.4 840.9,771.4 840.9,769.4 843.2,771.4 843.2,769.4 843.2,771.4 843.2,767.4 845.5,771.4 845.5,767.4 845.5,763.4 845.5,771.4 847.8,769.4 847.8,771.4 847.8,771.4 847.8,767.4 850.1,767.4 850.1,767.4 850.1,763.4 852.3,767.4 852.3,767.4 852.3,763.4 852.3,765.4 854.6,767.4 854.6,767.4 854.6,769.4 854.6,769.4 856.9,769.4 856.9,767.4 856.9,771.4 856.9,767.4 859.2,769.4 859.2,769.4 859.2,769.4 859.2,765.4 861.5,771.4 861.5,763.4 861.5,771.4 861.5,767.4 863.8,771.4 863.8,767.4 863.8,765.4 863.8,769.4 866,769.4 866,763.4 866,767.4 866,769.4 868.3,771.4 868.3,765.4 868.3,767.4 870.6,769.4 870.6,769.4 870.6,771.4 870.6,765.4 872.9,763.4 872.9,765.4 872.9,767.4 872.9,771.4 875.2,763.4 875.2,767.4 875.2,763.4 875.2,765.4 877.4,765.4 877.4,765.4 877.4,765.4 877.4,767.4 879.7,769.4 879.7,771.4 879.7,763.4 879.7,765.4 882,771.4 882,771.4 882,765.4 882,771.4 884.3,767.4 884.3,767.4 884.3,769.4 886.6,763.4 886.6,767.4 886.6,763.4 886.6,767.4 888.9,767.4 888.9,771.4 888.9,765.4 888.9,771.4 891.1,769.4 891.1,767.4 891.1,767.4 891.1,763.4 893.4,763.4 893.4,763.4 893.4,765.4 893.4,769.4 895.7,765.4 895.7,771.4 895.7,769.4 895.7,763.4 898,767.4 898,763.4 898,771.4 898,767.4 900.3,771.4 900.3,767.4 900.3,763.4 900.3,769.4 902.5,771.4 902.5,769.4 902.5,771.4 904.8,769.4 904.8,765.4 904.8,763.4 904.8,769.4 907.1,771.4 907.1,771.4 907.1,769.4 907.1,771.4 909.4,771.4 909.4,765.4 909.4,769.4 909.4,771.4 911.7,771.4 911.7,765.4 911.7,769.4 911.7,769.4 914,767.4 914,767.4 914,769.4 914,767.4 916.2,769.4 916.2,769.4 916.2,767.4 916.2,771.4 918.5,769.4 918.5,769.4 918.5,769.4 920.8,769.4 920.8,767.4 920.8,765.4 920.8,765.4 923.1,767.4 923.1,771.4 923.1,771.4 923.1,767.4 925.4,771.4 925.4,767.4 925.4,771.4 925.4,765.4 927.6,771.4 927.6,769.4 927.6,771.4 927.6,771.4 929.9,769.4 929.9,767.4 929.9,765.4 929.9,771.4 932.2,765.4 932.2,771.4 932.2,769.4 932.2,763.4 934.5,769.4 934.5,771.4 934.5,769.4 934.5,765.4 936.8,765.4 936.8,771.4 936.8,767.4 939.1,769.4 939.1,771.4 939.1,769.4 939.1,769.4 941.3,765.4 941.3,771.4 941.3,769.4 941.3,769.4 943.6,769.4 943.6,769.4 943.6,763.4 943.6,767.4 945.9,769.4 945.9,769.4 945.9,769.4 945.9,763.4 948.2,767.4 948.2,763.4 948.2,771.4 948.2,767.4 950.5,765.4 950.5,765.4 950.5,771.4 950.5,769.4 952.8,765.4 952.8,767.4 952.8,771.4 955,769.4 955,769.4 955,771.4 955,769.4 957.3,769.4 957.3,763.4 957.3,767.4 957.3,767.4 959.6,771.4 959.6,771.4 959.6,769.4 959.6,767.4 961.9,771.4 961.9,767.4 961.9,771.4 961.9,769.4 964.2,767.4 964.2,769.4 964.2,769.4 964.2,767.4 966.4,771.4 966.4,767.4 966.4,763.4 966.4,765.4 968.7,769.4 968.7,767.4 968.7,771.4 971,765.4 971,765.4 971,771.4 971,769.4 973.3,767.4 973.3,767.4 973.3,767.4 973.3,765.4 975.6,765.4 975.6,769.4 975.6,771.4 975.6,765.4 977.9,771.4 977.9,767.4 977.9,767.4 977.9,765.4 980.1,767.4 980.1,767.4 980.1,763.4 980.1,765.4 982.4,769.4 982.4,763.4 982.4,767.4 982.4,769.4 984.7,769.4 984.7,769.4 984.7,769.4 984.7,765.4 987,769.4 987,767.4 987,769.4 989.3,769.4"/>
<path class="d" stroke="#ffff00" d="M99.3 771.4h0M99.3 765.4h0M99.3 763.4h0M101.6 771.4h0M101.6 769.4h0M101.6 765.4h0M103.8 765.4h0M103.8 769.4h0M103.8 771.4h0M103.8 765.4h0M106.1 767.4h0M106.1 769.4h0M106.1 763.4h0M106.1 767.4h0M108.4 767.4h0M108.4 767.4h0M108.4 771.4h0M108.4 763.4h0M110.7 763.4h0M110.7 771.4h0M110.7 765.4h0M110.7 767.4h0M113 769.4h0M113 767.4h0M113 771.4h0M113 769.4h0M115.3 769.4h0M115.3 767.4h0M115.3 769.4h0M115.3 771.4h0M117.5 771.4h0M117.5 769.4h0M117.5 769.4h0M119.8 765.4h0M119.8 765.4h0M119.8 763.4h0M119.8 763.4h0M122.1 769.4h0M122.1 767.4h0M122.1 767.4h0M122.1 769.4h0M124.4 771.4h0M124.4 771.4h0M124.4 765.4h0M124.4 765.4h0M126.7 769.4h0M126.7 771.4h0M126.7 767.4h0M126.7 765.4h0M128.9 771.4h0M128.9 767.4h0M128.9 771.4h0M128.9 771.4h0M131.2 769.4h0M131.2 771.4h0M131.2 765.4h0M131.2 771.4h0M133.5 769.4h0M133.5 767.4h0M133.5 765.4h0M133.5 767.4h0M135.8 771.4h0M135.8 765.4h0M135.8 763.4h0M138.1 771.4h0M138.1 763.4h0M138.1 767.4h0M138.1 767.4h0M140.4 769.4h0M140.4 771.4h0M140.4 767.4h0M140.4 765.4h0M142.6 771.4h0M142.6 767.4h0M142.6 767.4h0M142.6 763.4h0M144.9 771.4h0M144.9 769.4h0M144.9 771.4h0M144.9 769.4h0M147.2 765.4h0M147.2 771.4h0M147.2 769.4h0M147.2 765.4h0M149.5 765.4h0M149.5 763.4h0M149.5 771.4h0M149.5 771.4h0M151.8 771.4h0M151.8 769.4h0M151.8 767.4h0M154.1 771.4h0M154.1 767.4h0M154.1 771.4h0M154.1 763.4h0M156.3 767.4h0M156.3 771.4h0M156.3 765.4h0M156.3 769.4h0M158.6 765.4h0M158.6 769.4h0M158.6 765.4h0M158.6 771.4h0M160.9 763.4h0M160.9 771.4h0M160.9 769.4h0M160.9 771.4h0M163.2 763.4h0M163.2 771.4h0M163.2 771.4h0M163.2 769.4h0M165.5 771.4h0M165.5 763.4h0M165.5 765.4h0M165.5 769.4h0M167.7 769.4h0M167.7 771.4h0M167.7 771.4h0M170 769.4h0M170 767.4h0M170 765.4h0M170 771.4h0M172.3 765.4h0M172.3 767.4h0M172.3 771.4h0M172.3 771.4h0M174.6 771.4h0M174.6 763.4h0M174.6 771.4h0M174.6 771.4h0M176.9 767.4h0M176.9 771.4h0M176.9 763.4h0M176.9 767.4h0M179.2 765.4h0M179.2 767.4h0M179.2 767.4h0M179.2 769.4h0M181.4 769.4h0M181.4 765.4h0M181.4 771.4h0M181.4 771.4h0M183.7 765.4h0M183.7 769.4h0M183.7 767.4h0M183.7 769.4h0M186 765.4h0M186 765.4h0M186 771.4h0M188.3 765.4h0M188.3 769.4h0M188.3 767.4h0M188.3 769.4h0M190.6 765.4h0M190.6 769.4h0M190.6 765.4h0M190.6 763.4h0M192.8 767.4h0M192.8 765.4h0M192.8 763.4h0M192.8 767.4h0M195.1 751.3h0M195.1 731.1h0M197.4 717h0M197.4 696.9h0M199.7 680.8h0M199.7 664.7h0M202 636.5h0M204.3 616.3h0M204.3 584.1h0M206.5 553.9h0M206.5 513.6h0M208.8 469.3h0M208.8 425h0M211.1 378.7h0M211.1 314.2h0M213.4 271.9h0M213.4 263.9h0M215.7 245.8h0M215.7 225.6h0M217.9 211.5h0M217.9 169.2h0M220.2 141h0M220.2 141h0M222.5 124.9h0M222.5 126.9h0M222.5 124.9h0M224.8 124.9h0M224.8 124.9h0M224.8 124.9h0M224.8 124.9h0M227.1 124.9h0M227.1 124.9h0M227.1 124.9h0M227.1 124.9h0M229.4 124.9h0M229.4 124.9h0M229.4 137h0M231.6 141h0M231.6 155.1h0M233.9 163.2h0M233.9 185.3h0M236.2 213.5h0M238.5 235.7h0M238.5 263.9h0M240.8 290.1h0M240.8 294.1h0M243 322.3h0M243 336.4h0M245.3 354.5h0M245.3 382.7h0M247.6 414.9h0M247.6 437.1h0M249.9 465.3h0M249.9 489.5h0M252.2 503.6h0M252.2 505.6h0M252.2 509.6h0M252.2 515.6h0M254.5 513.6h0M254.5 529.7h0M256.7 564h0M256.7 586.1h0M259 592.2h0M259 596.2h0M259 596.2h0M261.3 596.2h0M261.3 604.3h0M261.3 594.2h0M261.3 606.3h0M263.6 610.3h0M263.6 604.3h0M263.6 614.3h0M263.6 616.3h0M265.9 614.3h0M265.9 614.3h0M265.9 618.4h0M265.9 618.4h0M268.1 620.4h0M268.1 620.4h0M268.1 614.3h0M268.1 622.4h0M270.4 618.4h0M270.4 624.4h0M270.4 624.4h0M272.7 622.4h0M272.7 626.4h0M272.7 622.4h0M272.7 618.4h0M275 622.4h0M275 624.4h0M275 622.4h0M275 614.3h0M277.3 622.4h0M277.3 622.4h0M277.3 616.3h0M277.3 622.4h0M279.6 610.3h0M279.6 622.4h0M279.6 622.4h0M279.6 618.4h0M281.8 616.3h0M281.8 614.3h0M281.8 616.3h0M281.8 610.3h0M284.1 606.3h0M284.1 612.3h0M284.1 606.3h0M284.1 604.3h0M286.4 612.3h0M286.4 610.3h0M286.4 610.3h0M286.4 608.3h0M288.7 598.2h0M288.7 604.3h0M288.7 604.3h0M291 600.2h0M291 602.2h0M291 602.2h0M291 598.2h0M293.3 590.2h0M293.3 590.2h0M293.3 584.1h0M293.3 592.2h0M295.5 582.1h0M295.5 590.2h0M295.5 588.1h0M295.5 582.1h0M297.8 586.1h0M297.8 588.1h0M297.8 578.1h0M297.8 574h0M300.1 580.1h0M300.1 578.1h0M300.1 578.1h0M300.1 572h0M302.4 572h0M302.4 574h0M302.4 562h0M302.4 572h0M304.7 559.9h0M304.7 557.9h0M304.7 568h0M306.9 566h0M306.9 557.9h0M306.9 557.9h0M306.9 559.9h0M309.2 555.9h0M309.2 557.9h0M309.2 553.9h0M309.2 549.9h0M311.5 543.8h0M311.5 549.9h0M311.5 551.9h0M311.5 537.8h0M313.8 541.8h0M313.8 547.9h0M313.8 545.8h0M313.8 541.8h0M316.1 541.8h0M316.1 539.8h0M316.1 539.8h0M316.1 527.7h0M318.4 527.7h0M318.4 529.7h0M318.4 535.8h0M318.4 525.7h0M320.6 529.7h0M320.6 521.7h0M320.6 529.7h0M320.6 527.7h0M322.9 527.7h0M322.9 517.6h0M322.9 513.6h0M325.2 515.6h0M325.2 519.7h0M325.2 521.7h0M325.2 507.6h0M327.5 517.6h0M327.5 507.6h0M327.5 511.6h0M327.5 511.6h0M329.8 509.6h0M329.8 511.6h0M329.8 509.6h0M329.8 497.5h0M332 503.6h0M332 499.5h0M332 503.6h0M332 499.5h0M334.3 493.5h0M334.3 495.5h0M334.3 497.5h0M334.3 495.5h0M336.6 483.4h0M336.6 495.5h0M336.6 491.5h0M336.6 493.5h0M338.9 491.5h0M338.9 491.5h0M338.9 481.4h0M341.2 485.4h0M341.2 483.4h0M341.2 485.4h0M341.2 481.4h0M343.5 481.4h0M343.5 473.3h0M343.5 481.4h0M343.5 481.4h0M345.7 479.4h0M345.7 475.4h0M345.7 473.3h0M345.7 469.3h0M348 463.3h0M348 463.3h0M348 473.3h0M348 471.3h0M350.3 469.3h0M350.3 463.3h0M350.3 467.3h0M350.3 471.3h0M352.6 471.3h0M352.6 469.3h0M352.6 463.3h0M352.6 469.3h0M354.9 465.3h0M354.9 467.3h0M354.9 457.2h0M354.9 461.3h0M357.1 455.2h0M357.1 465.3h0M357.1 465.3h0M359.4 457.2h0M359.4 467.3h0M359.4 465.3h0M359.4 471.3h0M361.7 471.3h0M361.7 469.3h0M361.7 471.3h0M361.7 469.3h0M364 461.3h0M364 473.3h0M364 475.4h0M364 469.3h0M366.3 473.3h0M366.3 477.4h0M366.3 467.3h0M366.3 465.3h0M368.6 469.3h0M368.6 469.3h0M368.6 471.3h0M368.6 467.3h0M370.8 479.4h0M370.8 471.3h0M370.8 473.3h0M370.8 471.3h0M373.1 473.3h0M373.1 479.4h0M373.1 477.4h0M375.4 485.4h0M375.4 483.4h0M375.4 487.4h0M375.4 485.4h0M377.7 479.4h0M377.7 487.4h0M377.7 479.4h0M377.7 491.5h0M380 485.4h0M380 491.5h0M380 487.4h0M380 485.4h0M382.2 485.4h0M382.2 487.4h0M382.2 497.5h0M382.2 491.5h0M384.5 497.5h0M384.5 495.5h0M384.5 501.5h0M384.5 497.5h0M386.8 495.5h0M386.8 503.6h0M386.8 499.5h0M386.8 495.5h0M389.1 501.5h0M389.1 505.6h0M389.1 507.6h0M389.1 505.6h0M391.4 507.6h0M391.4 503.6h0M391.4 505.6h0M393.7 505.6h0M393.7 505.6h0M393.7 507.6h0M393.7 509.6h0M395.9 517.6h0M395.9 513.6h0M395.9 517.6h0M395.9 521.7h0M398.2 517.6h0M398.2 523.7h0M398.2 517.6h0M398.2 521.7h0M400.5 527.7h0M400.5 525.7h0M400.5 525.7h0M400.5 531.7h0M402.8 521.7h0M402.8 523.7h0M402.8 537.8h0M402.8 531.7h0M405.1 537.8h0M405.1 533.8h0M405.1 531.7h0M405.1 541.8h0M407.4 541.8h0M407.4 547.9h0M407.4 545.8h0M409.6 541.8h0M409.6 553.9h0M409.6 557.9h0M409.6 547.9h0M411.9 562h0M411.9 555.9h0M411.9 559.9h0M411.9 566h0M414.2 557.9h0M414.2 572h0M414.2 574h0M414.2 568h0M416.5 580.1h0M416.5 580.1h0M416.5 582.1h0M416.5 582.1h0M418.8 580.1h0M418.8 578.1h0M418.8 590.2h0M418.8 594.2h0M421 588.1h0M421 586.1h0M421 600.2h0M421 596.2h0M423.3 598.2h0M423.3 600.2h0M423.3 600.2h0M425.6 606.3h0M425.6 600.2h0M425.6 612.3h0M425.6 602.2h0M427.9 604.3h0M427.9 608.3h0M427.9 616.3h0M427.9 608.3h0M430.2 622.4h0M430.2 620.4h0M430.2 622.4h0M430.2 628.4h0M432.5 616.3h0M432.5 630.4h0M432.5 630.4h0M432.5 636.5h0M434.7 636.5h0M434.7 628.4h0M434.7 632.4h0M434.7 640.5h0M437 636.5h0M437 644.5h0M437 640.5h0M437 638.5h0M439.3 650.6h0M439.3 650.6h0M439.3 650.6h0M439.3 654.6h0M441.6 644.5h0M441.6 648.6h0M441.6 652.6h0M443.9 652.6h0M443.9 652.6h0M443.9 660.6h0M443.9 662.7h0M446.1 664.7h0M446.1 664.7h0M446.1 664.7h0M446.1 658.6h0M448.4 666.7h0M448.4 666.7h0M448.4 662.7h0M448.4 658.6h0M450.7 672.7h0M450.7 666.7h0M450.7 670.7h0M450.7 674.7h0M453 674.7h0M453 668.7h0M453 676.8h0M453 674.7h0M455.3 676.8h0M455.3 680.8h0M455.3 670.7h0M455.3 672.7h0M457.6 674.7h0M457.6 680.8h0M457.6 682.8h0M459.8 680.8h0M459.8 674.7h0M459.8 684.8h0M459.8 688.8h0M462.1 686.8h0M462.1 686.8h0M462.1 686.8h0M462.1 682.8h0M464.4 688.8h0M464.4 686.8h0M464.4 692.9h0M464.4 692.9h0M466.7 686.8h0M466.7 696.9h0M466.7 698.9h0M466.7 696.9h0M469 700.9h0M469 702.9h0M469 698.9h0M469 698.9h0M471.2 692.9h0M471.2 707h0M471.2 707h0M471.2 700.9h0M473.5 698.9h0M473.5 709h0M473.5 709h0M473.5 705h0M475.8 705h0M475.8 702.9h0M475.8 707h0M478.1 702.9h0M478.1 713h0M478.1 709h0M478.1 711h0M480.4 715h0M480.4 711h0M480.4 711h0M480.4 715h0M482.7 713h0M482.7 719h0M482.7 713h0M482.7 719h0M484.9 717h0M484.9 719h0M484.9 721.1h0M484.9 715h0M487.2 719h0M487.2 721.1h0M487.2 719h0M487.2 721.1h0M489.5 725.1h0M489.5 727.1h0M489.5 723.1h0M489.5 729.1h0M491.8 721.1h0M491.8 723.1h0M491.8 725.1h0M494.1 729.1h0M494.1 721.1h0M494.1 725.1h0M494.1 723.1h0M496.4 727.1h0M496.4 729.1h0M496.4 731.1h0M496.4 733.1h0M498.6 727.1h0M498.6 729.1h0M498.6 735.2h0M498.6 735.2h0M500.9 733.1h0M500.9 731.1h0M500.9 731.1h0M500.9 735.2h0M503.2 737.2h0M503.2 733.1h0M503.2 739.2h0M503.2 739.2h0M505.5 739.2h0M505.5 737.2h0M505.5 741.2h0M505.5 741.2h0M507.8 737.2h0M507.8 741.2h0M507.8 741.2h0M507.8 741.2h0M510 743.2h0M510 735.2h0M510 735.2h0M512.3 739.2h0M512.3 745.2h0M512.3 739.2h0M512.3 739.2h0M514.6 745.2h0M514.6 745.2h0M514.6 741.2h0M514.6 741.2h0M516.9 745.2h0M516.9 745.2h0M516.9 739.2h0M516.9 747.2h0M519.2 745.2h0M519.2 745.2h0M519.2 743.2h0M519.2 747.2h0M521.5 743.2h0M521.5 747.2h0M521.5 745.2h0M521.5 749.3h0M523.7 747.2h0M523.7 743.2h0M523.7 749.3h0M523.7 749.3h0M526 739.2h0M526 747.2h0M526 749.3h0M528.3 747.2h0M528.3 749.3h0M528.3 743.2h0M528.3 741.2h0M530.6 743.2h0M530.6 745.2h0M530.6 747.2h0M530.6 751.3h0M532.9 745.2h0M532.9 749.3h0M532.9 749.3h0M532.9 747.2h0M535.1 751.3h0M535.1 741.2h0M535.1 747.2h0M535.1 745.2h0M537.4 751.3h0M537.4 751.3h0M537.4 751.3h0M537.4 751.3h0M539.7 749.3h0M539.7 747.2h0M539.7 745.2h0M539.7 753.3h0M542 749.3h0M542 747.2h0M542 751.3h0M542 753.3h0M544.3 753.3h0M544.3 753.3h0M544.3 753.3h0M546.6 753.3h0M546.6 745.2h0M546.6 749.3h0M546.6 755.3h0M548.8 749.3h0M548.8 751.3h0M548.8 749.3h0M548.8 755.3h0M551.1 753.3h0M551.1 753.3h0M551.1 753.3h0M551.1 757.3h0M553.4 749.3h0M553.4 757.3h0M553.4 755.3h0M553.4 753.3h0M555.7 755.3h0M555.7 755.3h0M555.7 753.3h0M555.7 755.3h0M558 753.3h0M558 753.3h0M558 751.3h0M558 755.3h0M560.2 757.3h0M560.2 751.3h0M560.2 751.3h0M562.5 753.3h0M562.5 759.3h0M562.5 753.3h0M562.5 755.3h0M564.8 757.3h0M564.8 761.3h0M564.8 761.3h0M564.8 753.3h0M567.1 759.3h0M567.1 759.3h0M567.1 759.3h0M567.1 759.3h0M569.4 759.3h0M569.4 761.3h0M569.4 755.3h0M569.4 759.3h0M571.7 761.3h0M571.7 761.3h0M571.7 757.3h0M571.7 757.3h0M573.9 757.3h0M573.9 759.3h0M573.9 761.3h0M573.9 763.4h0M576.2 761.3h0M576.2 763.4h0M576.2 763.4h0M576.2 761.3h0M578.5 763.4h0M578.5 763.4h0M578.5 763.4h0M580.8 761.3h0M580.8 757.3h0M580.8 755.3h0M580.8 765.4h0M583.1 761.3h0M583.1 765.4h0M583.1 759.3h0M583.1 761.3h0M585.3 761.3h0M585.3 763.4h0M585.3 763.4h0M585.3 765.4h0M587.6 761.3h0M587.6 759.3h0M587.6 765.4h0M587.6 757.3h0M589.9 765.4h0M589.9 757.3h0M589.9 757.3h0M589.9 763.4h0M592.2 759.3h0M592.2 761.3h0M592.2 765.4h0M592.2 761.3h0M594.5 763.4h0M594.5 765.4h0M594.5 759.3h0M596.8 765.4h0M596.8 757.3h0M596.8 765.4h0M596.8 765.4h0M599 759.3h0M599 759.3h0M599 763.4h0M599 761.3h0M601.3 759.3h0M601.3 765.4h0M601.3 765.4h0M601.3 767.4h0M603.6 761.3h0M603.6 761.3h0M603.6 767.4h0M603.6 761.3h0M605.9 765.4h0M605.9 763.4h0M605.9 763.4h0M605.9 763.4h0M608.2 763.4h0M608.2 765.4h0M608.2 761.3h0M608.2 765.4h0M610.5 759.3h0M610.5 765.4h0M610.5 761.3h0M610.5 763.4h0M612.7 765.4h0M612.7 765.4h0M612.7 763.4h0M615 765.4h0M615 763.4h0M615 765.4h0M615 761.3h0M617.3 765.4h0M617.3 761.3h0M617.3 765.4h0M617.3 761.3h0M619.6 761.3h0M619.6 767.4h0M619.6 759.3h0M619.6 761.3h0M621.9 763.4h0M621.9 767.4h0M621.9 761.3h0M621.9 763.4h0M624.1 767.4h0M624.1 763.4h0M624.1 767.4h0M624.1 763.4h0M626.4 767.4h0M626.4 767.4h0M626.4 767.4h0M626.4 765.4h0M628.7 763.4h0M628.7 763.4h0M628.7 765.4h0M631 767.4h0M631 767.4h0M631 765.4h0M631 761.3h0M633.3 759.3h0M633.3 761.3h0M633.3 767.4h0M633.3 767.4h0M635.6 765.4h0M635.6 765.4h0M635.6 767.4h0M635.6 767.4h0M637.8 761.3h0M637.8 759.3h0M637.8 765.4h0M637.8 761.3h0M640.1 763.4h0M640.1 763.4h0M640.1 765.4h0M640.1 761.3h0M642.4 767.4h0M642.4 767.4h0M642.4 763.4h0M642.4 767.4h0M644.7 761.3h0M644.7 761.3h0M644.7 763.4h0M644.7 761.3h0M647 763.4h0M647 767.4h0M647 767.4h0M649.2 769.4h0M649.2 767.4h0M649.2 763.4h0M649.2 763.4h0M651.5 763.4h0M651.5 767.4h0M651.5 761.3h0M651.5 765.4h0M653.8 767.4h0M653.8 761.3h0M653.8 763.4h0M653.8 763.4h0M656.1 765.4h0M656.1 769.4h0M656.1 765.4h0M656.1 763.4h0M658.4 763.4h0M658.4 767.4h0M658.4 765.4h0M658.4 763.4h0M660.7 761.3h0M660.7 767.4h0M660.7 765.4h0M660.7 769.4h0M662.9 769.4h0M662.9 767.4h0M662.9 769.4h0M665.2 767.4h0M665.2 761.3h0M665.2 767.4h0M665.2 769.4h0M667.5 769.4h0M667.5 765.4h0M667.5 767.4h0M667.5 765.4h0M669.8 767.4h0M669.8 765.4h0M669.8 767.4h0M669.8 767.4h0M672.1 769.4h0M672.1 767.4h0M672.1 763.4h0M672.1 767.4h0M674.3 763.4h0M674.3 769.4h0M674.3 765.4h0M674.3 763.4h0M676.6 769.4h0M676.6 767.4h0M676.6 769.4h0M676.6 767.4h0M678.9 761.3h0M678.9 765.4h0M678.9 769.4h0M678.9 761.3h0M681.2 765.4h0M681.2 763.4h0M681.2 763.4h0M683.5 761.3h0M683.5 763.4h0M683.5 769.4h0M683.5 763.4h0M685.8 765.4h0M685.8 767.4h0M685.8 763.4h0M685.8 769.4h0M688 767.4h0M688 763.4h0M688 767.4h0M688 767.4h0M690.3 769.4h0M690.3 769.4h0M690.3 769.4h0M690.3 761.3h0M692.6 767.4h0M692.6 769.4h0M692.6 763.4h0M692.6 765.4h0M694.9 769.4h0M694.9 765.4h0M694.9 769.4h0M694.9 767.4h0M697.2 767.4h0M697.2 769.4h0M697.2 765.4h0M699.4 769.4h0M699.4 769.4h0M699.4 765.4h0M699.4 767.4h0M701.7 765.4h0M701.7 767.4h0M701.7 767.4h0M701.7 765.4h0M704 769.4h0M704 769.4h0M704 763.4h0M704 765.4h0M706.3 769.4h0M706.3 765.4h0M706.3 763.4h0M706.3 763.4h0M708.6 765.4h0M708.6 767.4h0M708.6 765.4h0M708.6 769.4h0M710.9 767.4h0M710.9 763.4h0M710.9 769.4h0M710.9 769.4h0M713.1 767.4h0M713.1 763.4h0M713.1 763.4h0M715.4 761.3h0M715.4 761.3h0M715.4 769.4h0M715.4 767.4h0M717.7 767.4h0M717.7 765.4h0M717.7 769.4h0M717.7 769.4h0M720 769.4h0M720 767.4h0M720 769.4h0M720 769.4h0M722.3 769.4h0M722.3 765.4h0M722.3 769.4h0M722.3 769.4h0M724.5 763.4h0M724.5 769.4h0M724.5 769.4h0M724.5 771.4h0M726.8 767.4h0M726.8 769.4h0M726.8 767.4h0M726.8 769.4h0M729.1 767.4h0M729.1 769.4h0M729.1 771.4h0M729.1 763.4h0M731.4 765.4h0M731.4 769.4h0M731.4 769.4h0M733.7 765.4h0M733.7 767.4h0M733.7 767.4h0M733.7 763.4h0M736 769.4h0M736 763.4h0M736 769.4h0M736 763.4h0M738.2 763.4h0M738.2 769.4h0M738.2 767.4h0M738.2 763.4h0M740.5 763.4h0M740.5 771.4h0M740.5 767.4h0M740.5 771.4h0M742.8 763.4h0M742.8 769.4h0M742.8 769.4h0M742.8 769.4h0M745.1 765.4h0M745.1 769.4h0M745.1 769.4h0M745.1 763.4h0M747.4 769.4h0M747.4 763.4h0M747.4 763.4h0M749.7 769.4h0M749.7 769.4h0M749.7 763.4h0M749.7 767.4h0M751.9 769.4h0M751.9 771.4h0M751.9 769.4h0M751.9 771.4h0M754.2 767.4h0M754.2 769.4h0M754.2 769.4h0M754.2 769.4h0M756.5 765.4h0M756.5 763.4h0M756.5 771.4h0M756.5 767.4h0M758.8 771.4h0M758.8 771.4h0M758.8 763.4h0M758.8 769.4h0M761.1 767.4h0M761.1 763.4h0M761.1 767.4h0M761.1 769.4h0M763.3 765.4h0M763.3 765.4h0M763.3 767.4h0M763.3 769.4h0M765.6 765.4h0M765.6 769.4h0M765.6 769.4h0M767.9 769.4h0M767.9 763.4h0M767.9 771.4h0M767.9 771.4h0M770.2 769.4h0M770.2 771.4h0M770.2 769.4h0M770.2 763.4h0M772.5 763.4h0M772.5 771.4h0M772.5 769.4h0M772.5 769.4h0M774.8 763.4h0M774.8 769.4h0M774.8 765.4h0M774.8 767.4h0M777 765.4h0M777 769.4h0M777 763.4h0M777 763.4h0M779.3 769.4h0M779.3 763.4h0M779.3 765.4h0M779.3 771.4h0M781.6 769.4h0M781.6 771.4h0M781.6 763.4h0M783.9 771.4h0M783.9 765.4h0M783.9 769.4h0M783.9 763.4h0M786.2 765.4h0M786.2 765.4h0M786.2 769.4h0M786.2 765.4h0M788.4 767.4h0M788.4 769.4h0M788.4 763.4h0M788.4 763.4h0M790.7 767.4h0M790.7 763.4h0M790.7 769.4h0M790.7 771.4h0M793 769.4h0M793 767.4h0M793 763.4h0M793 765.4h0M795.3 771.4h0M795.3 765.4h0M795.3 765.4h0M795.3 767.4h0M797.6 769.4h0M797.6 769.4h0M797.6 771.4h0M797.6 771.4h0M799.9 769.4h0M799.9 769.4h0M799.9 767.4h0M802.1 769.4h0M802.1 765.4h0M802.1 771.4h0M802.1 771.4h0M804.4 763.4h0M804.4 767.4h0M804.4 767.4h0M804.4 769.4h0M806.7 769.4h0M806.7 769.4h0M806.7 767.4h0M806.7 765.4h0M809 771.4h0M809 763.4h0M809 771.4h0M809 769.4h0M811.3 765.4h0M811.3 771.4h0M811.3 767.4h0M811.3 767.4h0M813.5 767.4h0M813.5 765.4h0M813.5 771.4h0M813.5 771.4h0M815.8 763.4h0M815.8 763.4h0M815.8 771.4h0M818.1 767.4h0M818.1 771.4h0M818.1 763.4h0M818.1 763.4h0M820.4 767.4h0M820.4 769.4h0M820.4 767.4h0M820.4 767.4h0M822.7 765.4h0M822.7 765.4h0M822.7 765.4h0M822.7 765.4h0M825 771.4h0M825 771.4h0M825 767.4h0M825 767.4h0M827.2 763.4h0M827.2 771.4h0M827.2 769.4h0M827.2 765.4h0M829.5 769.4h0M829.5 771.4h0M829.5 769.4h0M829.5 763.4h0M831.8 765.4h0M831.8 765.4h0M831.8 771.4h0M831.8 765.4h0M834.1 771.4h0M834.1 771.4h0M834.1 767.4h0M836.4 767.4h0M836.4 769.4h0M836.4 763.4h0M836.4 769.4h0M838.6 769.4h0M838.6 771.4h0M838.6 765.4h0M838.6 765.4h0M840.9 765.4h0M840.9 767.4h0M840.9 771.4h0M840.9 769.4h0M843.2 771.4h0M843.2 769.4h0M843.2 771.4h0M843.2 767.4h0M845.5 771.4h0M845.5 767.4h0M845.5 763.4h0M845.5 771.4h0M847.8 769.4h0M847.8 771.4h0M847.8 771.4h0M847.8 767.4h0M850.1 767.4h0M850.1 767.4h0M850.1 763.4h0M852.3 767.4h0M852.3 767.4h0M852.3 763.4h0M852.3 765.4h0M854.6 767.4h0M854.6 767.4h0M854.6 769.4h0M854.6 769.4h0M856.9 769.4h0M856.9 767.4h0M856.9 771.4h0M856.9 767.4h0M859.2 769.4h0M859.2 769.4h0M859.2 769.4h0M859.2 765.4h0M861.5 771.4h0M861.5 763.4h0M861.5 771.4h0M861.5 767.4h0M863.8 771.4h0M863.8 767.4h0M863.8 765.4h0M863.8 769.4h0M866 769.4h0M866 763.4h0M866 767.4h0M866 769.4h0M868.3 771.4h0M868.3 765.4h0M868.3 767.4h0M870.6 769.4h0M870.6 769.4h0M870.6 771.4h0M870.6 765.4h0M872.9 763.4h0M872.9 765.4h0M872.9 767.4h0M872.9 771.4h0M875.2 763.4h0M875.2 767.4h0M875.2 763.4h0M875.2 765.4h0M877.4 765.4h0M877.4 765.4h0M877.4 765.4h0M877.4 767.4h0M879.7 769.4h0M879.7 771.4h0M879.7 763.4h0M879.7 765.4h0M882 771.4h0M882 771.4h0M882 765.4h0M882 771.4h0M884.3 767.4h0M884.3 767.4h0M884.3 769.4h0M886.6 763.4h0M886.6 767.4h0M886.6 763.4h0M886.6 767.4h0M888.9 767.4h0M888.9 771.4h0M888.9 765.4h0M888.9 771.4h0M891.1 769.4h0M891.1 767.4h0M891.1 767.4h0M891.1 763.4h0M893.4 763.4h0M893.4 763.4h0M893.4 765.4h0M893.4 769.4h0M895.7 765.4h0M895.7 771.4h0M895.7 769.4h0M895.7 763.4h0M898 767.4h0M898 763.4h0M898 771.4h0M898 767.4h0M900.3 771.4h0M900.3 767.4h0M900.3 763.4h0M900.3 769.4h0M902.5 771.4h0M902.5 769.4h0M902.5 771.4h0M904.8 769.4h0M904.8 765.4h0M904.8 763.4h0M904.8 769.4h0M907.1 771.4h0M907.1 771.4h0M907.1 769.4h0M907.1 771.4h0M909.4 771.4h0M909.4 765.4h0M909.4 769.4h0M909.4 771.4h0M911.7 771.4h0M911.7 765.4h0M911.7 769.4h0M911.7 769.4h0M914 767.4h0M914 767.4h0M914 769.4h0M914 767.4h0M916.2 769.4h0M916.2 769.4h0M916.2 767.4h0M916.2 771.4h0M918.5 769.4h0M918.5 769.4h0M918.5 769.4h0M920.8 769.4h0M920.8 767.4h0M920.8 765.4h0M920.8 765.4h0M923.1 767.4h0M923.1 771.4h0M923.1 771.4h0M923.1 767.4h0M925.4 771.4h0M925.4 767.4h0M925.4 771.4h0M925.4 765.4h0M927.6 771.4h0M927.6 769.4h0M927.6 771.4h0M927.6 771.4h0M929.9 769.4h0M929.9 767.4h0M929.9 765.4h0M929.9 771.4h0M932.2 765.4h0M932.2 771.4h0M932.2 769.4h0M932.2 763.4h0M934.5 769.4h0M934.5 771.4h0M934.5 769.4h0M934.5 765.4h0M936.8 765.4h0M936.8 771.4h0M936.8 767.4h0M939.1 769.4h0M939.1 771.4h0M939.1 769.4h0M939.1 769.4h0M941.3 765.4h0M941.3 771.4h0M941.3 769.4h0M941.3 769.4h0M943.6 769.4h0M943.6 769.4h0M943.6 763.4h0M943.6 767.4h0M945.9 769.4h0M945.9 769.4h0M945.9 769.4h0M945.9 763.4h0M948.2 767.4h0M948.2 763.4h0M948.2 771.4h0M948.2 767.4h0M950.5 765.4h0M950.5 765.4h0M950.5 771.4h0M950.5 769.4h0M952.8 765.4h0M952.8 767.4h0M952.8 771.4h0M955 769.4h0M955 769.4h0M955 771.4h0M955 769.4h0M957.3 769.4h0M957.3 763.4h0M957.3 767.4h0M957.3 767.4h0M959.6 771.4h0M959.6 771.4h0M959.6 769.4h0M959.6 767.4h0M961.9 771.4h0M961.9 767.4h0M961.9 771.4h0M961.9 769.4h0M964.2 767.4h0M964.2 769.4h0M964.2 769.4h0M964.2 767.4h0M966.4 771.4h0M966.4 767.4h0M966.4 763.4h0M966.4 765.4h0M968.7 769.4h0M968.7 767.4h0M968.7 771.4h0M971 765.4h0M971 765.4h0M971 771.4h0M971 769.4h0M973.3 767.4h0M973.3 767.4h0M973.3 767.4h0M973.3 765.4h0M975.6 765.4h0M975.6 769.4h0M975.6 771.4h0M975.6 765.4h0M977.9 771.4h0M977.9 767.4h0M977.9 767.4h0M977.9 765.4h0M980.1 767.4h0M980.1 767.4h0M980.1 763.4h0M980.1 765.4h0M982.4 769.4h0M982.4 763.4h0M982.4 767.4h0M982.4 769.4h0M984.7 769.4h0M984.7 769.4h0M984.7 769.4h0M984.7 765.4h0M987 769.4h0M987 767.4h0M987 769.4h0M989.3 769.4h0"/>
<polyline class="l" stroke="#ff00ff" points="99.3,769.4 99.3,769.4 99.3,767.4 101.6,771.4 101.6,769.4 101.6,765.4 103.8,771.4 103.8,769.4 103.8,765.4 103.8,767.4 106.1,765.4 106.1,771.4 106.1,767.4 106.1,769.4 108.4,771.4 108.4,765.4 108.4,771.4 108.4,767.4 110.7,765.4 110.7,765.4 110.7,771.4 110.7,765.4 113,771.4 113,767.4 113,771.4 113,765.4 115.3,771.4 115.3,767.4 115.3,767.4 115.3,771.4 117.5,767.4 117.5,767.4 117.5,765.4 119.8,763.4 119.8,771.4 119.8,769.4 119.8,769.4 122.1,767.4 122.1,771.4 122.1,767.4 122.1,771.4 124.4,771.4 124.4,765.4 124.4,767.4 124.4,765.4 126.7,767.4 126.7,765.4 126.7,769.4 126.7,771.4 128.9,763.4 128.9,771.4 128.9,765.4 128.9,771.4 131.2,769.4 131.2,771.4 131.2,767.4 131.2,771.4 133.5,771.4 133.5,769.4 133.5,765.4 133.5,769.4 135.8,771.4 135.8,763.4 135.8,771.4 138.1,769.4 138.1,767.4 138.1,771.4 138.1,767.4 140.4,769.4 140.4,765.4 140.4,771.4 140.4,765.4 142.6,765.4 142.6,771.4 142.6,771.4 142.6,765.4 144.9,769.4 144.9,769.4 144.9,767.4 144.9,767.4 147.2,765.4 147.2,767.4 147.2,767.4 147.2,769.4 149.5,769.4 149.5,765.4 149.5,765.4 149.5,767.4 151.8,767.4 151.8,771.4 151.8,769.4 154.1,771.4 154.1,769.4 154.1,771.4 154.1,771.4 156.3,771.4 156.3,769.4 156.3,767.4 156.3,771.4 158.6,767.4 158.6,765.4 158.6,771.4 158.6,771.4 160.9,771.4 160.9,767.4 160.9,769.4 160.9,771.4 163.2,771.4 163.2,769.4 163.2,771.4 163.2,765.4 165.5,771.4 165.5,765.4 165.5,771.4 165.5,769.4 167.7,763.4 167.7,771.4 167.7,771.4 170,765.4 170,765.4 170,769.4 170,771.4 172.3,771.4 172.3,769.4 172.3,763.4 172.3,771.4 174.6,767.4 174.6,767.4 174.6,765.4 174.6,767.4 176.9,769.4 176.9,769.4 176.9,769.4 176.9,767.4 179.2,769.4 179.2,771.4 179.2,765.4 179.2,769.4 181.4,767.4 181.4,769.4 181.4,769.4 181.4,763.4 183.7,771.4 183.7,767.4 183.7,771.4 183.7,763.4 186,765.4 186,765.4 186,765.4 188.3,769.4 188.3,769.4 188.3,763.4 188.3,769.4 190.6,763.4 190.6,765.4 190.6,769.4 190.6,769.4 192.8,769.4 192.8,771.4 192.8,769.4 192.8,769.4 195.1,767.4 195.1,761.3 195.1,755.3 197.4,741.2 197.4,721.1 199.7,698.9 199.7,672.7 202,654.6 204.3,630.4 204.3,602.2 206.5,578.1 206.5,539.8 208.8,519.7 208.8,485.4 211.1,463.3 211.1,447.2 213.4,425 213.4,421 215.7,390.8 215.7,362.6 217.9,350.5 217.9,332.4 220.2,300.1 220.2,294.1 222.5,276 222.5,282 222.5,274 224.8,280 224.8,271.9 224.8,267.9 224.8,269.9 227.1,271.9 227.1,267.9 227.1,276 227.1,271.9 229.4,280 229.4,284 229.4,284 229.4,282 231.6,298.1 231.6,300.1 233.9,322.3 233.9,338.4 236.2,362.6 238.5,386.7 238.5,394.8 240.8,412.9 240.8,441.1 243,445.1 243,471.3 245.3,485.4 245.3,493.5 247.6,519.7 247.6,525.7 249.9,541.8 249.9,559.9 252.2,570 252.2,574 254.5,594.2 254.5,608.3 256.7,610.3 256.7,626.4 259,640.5 259,644.5 259,646.5 261.3,650.6 261.3,640.5 261.3,646.5 261.3,656.6 263.6,654.6 263.6,656.6 263.6,650.6 263.6,650.6 265.9,664.7 265.9,664.7 265.9,660.6 265.9,666.7 268.1,664.7 268.1,660.6 268.1,662.7 268.1,668.7 270.4,666.7 270.4,664.7 270.4,668.7 272.7,658.6 272.7,668.7 272.7,658.6 272.7,668.7 275,664.7 275,658.6 275,662.7 275,668.7 277.3,666.7 277.3,664.7 277.3,662.7 277.3,654.6 279.6,664.7 279.6,664.7 279.6,660.6 279.6,664.7 281.8,654.6 281.8,664.7 281.8,654.6 281.8,652.6 284.1,660.6 284.1,652.6 284.1,652.6 284.1,652.6 286.4,652.6 286.4,654.6 286.4,656.6 286.4,654.6 288.7,656.6 288.7,650.6 288.7,650.6 291,654.6 291,654.6 291,650.6 291,652.6 293.3,650.6 293.3,642.5 293.3,648.6 293.3,650.6 295.5,636.5 295.5,636.5 295.5,638.5 295.5,642.5 297.8,632.4 297.8,632.4 297.8,636.5 297.8,634.5 300.1,634.5 300.1,636.5 300.1,628.4 300.1,628.4 302.4,628.4 302.4,628.4 302.4,630.4 302.4,632.4 304.7,620.4 304.7,626.4 304.7,618.4 306.9,628.4 306.9,628.4 306.9,618.4 306.9,618.4 309.2,622.4 309.2,618.4 309.2,610.3 309.2,614.3 311.5,614.3 311.5,616.3 311.5,616.3 311.5,612.3 313.8,612.3 313.8,604.3 313.8,598.2 313.8,598.2 316.1,606.3 316.1,604.3 316.1,598.2 316.1,592.2 318.4,600.2 318.4,598.2 318.4,594.2 318.4,588.1 320.6,592.2 320.6,594.2 320.6,584.1 320.6,580.1 322.9,582.1 322.9,588.1 322.9,584.1 325.2,580.1 325.2,578.1 325.2,582.1 325.2,578.1 327.5,576.1 327.5,574 327.5,564 327.5,568 329.8,568 329.8,572 329.8,570 329.8,559.9 332,562 332,559.9 332,566 332,551.9 334.3,557.9 334.3,555.9 334.3,553.9 334.3,551.9 336.6,547.9 336.6,555.9 336.6,555.9 336.6,549.9 338.9,543.8 338.9,541.8 338.9,545.8 341.2,537.8 341.2,535.8 341.2,533.8 341.2,527.7 343.5,535.8 343.5,529.7 343.5,523.7 343.5,531.7 345.7,519.7 345.7,527.7 345.7,521.7 345.7,527.7 348,525.7 348,525.7 348,517.6 348,523.7 350.3,517.6 350.3,511.6 350.3,517.6 350.3,515.6 352.6,503.6 352.6,513.6 352.6,507.6 352.6,507.6 354.9,499.5 354.9,501.5 354.9,503.6 354.9,505.6 357.1,495.5 357.1,501.5 357.1,493.5 359.4,493.5 359.4,493.5 359.4,485.4 359.4,489.5 361.7,489.5 361.7,487.4 361.7,493.5 361.7,489.5 364,491.5 364,489.5 364,489.5 364,481.4 366.3,483.4 366.3,485.4 366.3,481.4 366.3,471.3 368.6,481.4 368.6,479.4 368.6,469.3 368.6,477.4 370.8,469.3 370.8,475.4 370.8,475.4 370.8,467.3 373.1,465.3 373.1,471.3 373.1,467.3 375.4,469.3 375.4,459.2 375.4,467.3 375.4,461.3 377.7,455.2 377.7,465.3 377.7,457.2 377.7,459.2 380,453.2 380,453.2 380,457.2 380,457.2 382.2,453.2 382.2,453.2 382.2,459.2 382.2,447.2 384.5,455.2 384.5,457.2 384.5,455.2 384.5,455.2 386.8,453.2 386.8,455.2 386.8,453.2 386.8,443.1 389.1,443.1 389.1,455.2 389.1,453.2 389.1,453.2 391.4,453.2 391.4,453.2 391.4,449.2 393.7,451.2 393.7,453.2 393.7,449.2 393.7,449.2 395.9,441.1 395.9,443.1 395.9,447.2 395.9,449.2 398.2,453.2 398.2,447.2 398.2,443.1 398.2,443.1 400.5,443.1 400.5,449.2 400.5,455.2 400.5,457.2 402.8,457.2 402.8,457.2 402.8,461.3 402.8,459.2 405.1,449.2 405.1,455.2 405.1,457.2 405.1,465.3 407.4,463.3 407.4,463.3 407.4,457.2 409.6,463.3 409.6,469.3 409.6,471.3 409.6,473.3 411.9,471.3 411.9,469.3 411.9,473.3 411.9,465.3 414.2,469.3 414.2,473.3 414.2,477.4 414.2,473.3 416.5,475.4 416.5,475.4 416.5,481.4 416.5,481.4 418.8,483.4 418.8,485.4 418.8,485.4 418.8,487.4 421,487.4 421,485.4 421,487.4 421,483.4 423.3,491.5 423.3,485.4 423.3,483.4 425.6,491.5 425.6,487.4 425.6,497.5 425.6,497.5 427.9,499.5 427.9,497.5 427.9,499.5 427.9,499.5 430.2,503.6 430.2,507.6 430.2,499.5 430.2,497.5 432.5,509.6 432.5,503.6 432.5,511.6 432.5,507.6 434.7,511.6 434.7,509.6 434.7,507.6 434.7,519.7 437,511.6 437,523.7 437,517.6 437,527.7 439.3,527.7 439.3,527.7 439.3,531.7 439.3,525.7 441.6,537.8 441.6,535.8 441.6,535.8 443.9,533.8 443.9,533.8 443.9,543.8 443.9,549.9 446.1,551.9 446.1,547.9 446.1,555.9 446.1,547.9 448.4,549.9 448.4,553.9 448.4,549.9 448.4,559.9 450.7,553.9 450.7,566 450.7,568 450.7,566 453,562 453,574 453,566 453,574 455.3,568 455.3,570 455.3,570 455.3,578.1 457.6,584.1 457.6,584.1 457.6,584.1 459.8,582.1 459.8,588.1 459.8,588.1 459.8,590.2 462.1,588.1 462.1,596.2 462.1,594.2 462.1,588.1 464.4,600.2 464.4,598.2 464.4,596.2 464.4,600.2 466.7,604.3 466.7,610.3 466.7,602.2 466.7,602.2 469,606.3 469,608.3 469,608.3 469,608.3 471.2,616.3 471.2,620.4 471.2,620.4 471.2,624.4 473.5,626.4 473.5,620.4 473.5,620.4 473.5,622.4 475.8,624.4 475.8,630.4 475.8,630.4 478.1,620.4 478.1,622.4 478.1,634.5 478.1,634.5 480.4,636.5 480.4,636.5 480.4,636.5 480.4,638.5 482.7,630.4 482.7,642.5 482.7,640.5 482.7,644.5 484.9,642.5 484.9,638.5 484.9,646.5 484.9,642.5 487.2,644.5 487.2,644.5 487.2,646.5 487.2,646.5 489.5,652.6 489.5,652.6 489.5,646.5 489.5,656.6 491.8,648.6 491.8,646.5 491.8,654.6 494.1,658.6 494.1,658.6 494.1,658.6 494.1,656.6 496.4,652.6 496.4,662.7 496.4,664.7 496.4,664.7 498.6,656.6 498.6,668.7 498.6,668.7 498.6,672.7 500.9,666.7 500.9,668.7 500.9,664.7 500.9,668.7 503.2,668.7 503.2,670.7 503.2,674.7 503.2,676.8 505.5,680.8 505.5,678.8 505.5,682.8 505.5,682.8 507.8,680.8 507.8,680.8 507.8,682.8 507.8,686.8 510,678.8 510,686.8 510,686.8 512.3,688.8 512.3,690.9 512.3,684.8 512.3,688.8 514.6,688.8 514.6,684.8 514.6,684.8 514.6,690.9 516.9,686.8 516.9,692.9 516.9,688.8 516.9,696.9 519.2,698.9 519.2,696.9 519.2,702.9 519.2,700.9 521.5,702.9 521.5,700.9 521.5,707 521.5,702.9 523.7,702.9 523.7,696.9 523.7,696.9 523.7,702.9 526,707 526,702.9 526,700.9 528.3,705 528.3,713 528.3,709 528.3,711 530.6,705 530.6,709 530.6,705 530.6,717 532.9,711 532.9,717 532.9,715 532.9,711 535.1,709 535.1,719 535.1,711 535.1,721.1 537.4,721.1 537.4,721.1 537.4,711 537.4,723.1 539.7,715 539.7,721.1 539.7,719 539.7,725.1 542,723.1 542,721.1 542,725.1 542,721.1 544.3,727.1 544.3,727.1 544.3,723.1 546.6,727.1 546.6,721.1 546.6,725.1 546.6,721.1 548.8,723.1 548.8,725.1 548.8,721.1 548.8,731.1 551.1,727.1 551.1,733.1 551.1,727.1 551.1,725.1 553.4,725.1 553.4,729.1 553.4,725.1 553.4,733.1 555.7,733.1 555.7,729.1 555.7,727.1 555.7,735.2 558,733.1 558,733.1 558,737.2 558,737.2 560.2,729.1 560.2,729.1 560.2,733.1 562.5,737.2 562.5,729.1 562.5,737.2 562.5,739.2 564.8,733.1 564.8,733.1 564.8,735.2 564.8,737.2 567.1,739.2 567.1,739.2 567.1,737.2 567.1,739.2 569.4,735.2 569.4,733.1 569.4,735.2 569.4,743.2 571.7,737.2 571.7,743.2 571.7,741.2 571.7,741.2 573.9,739.2 573.9,743.2 573.9,743.2 573.9,735.2 576.2,745.2 576.2,743.2 576.2,741.2 576.2,745.2 578.5,743.2 578.5,741.2 578.5,743.2 580.8,741.2 580.8,737.2 580.8,745.2 580.8,741.2 583.1,747.2 583.1,743.2 583.1,741.2 583.1,737.2 585.3,743.2 585.3,741.2 585.3,743.2 585.3,747.2 587.6,747.2 587.6,743.2 587.6,739.2 587.6,747.2 589.9,741.2 589.9,743.2 589.9,747.2 589.9,743.2 592.2,749.3 592.2,747.2 592.2,747.2 592.2,745.2 594.5,749.3 594.5,749.3 594.5,741.2 596.8,747.2 596.8,741.2 596.8,741.2 596.8,749.3 599,749.3 599,741.2 599,751.3 599,741.2 601.3,741.2 601.3,745.2 601.3,749.3 601.3,747.2 603.6,751.3 603.6,749.3 603.6,751.3 603.6,749.3 605.9,747.2 605.9,753.3 605.9,745.2 605.9,753.3 608.2,751.3 608.2,751.3 608.2,753.3 608.2,747.2 610.5,747.2 610.5,749.3 610.5,751.3 610.5,749.3 612.7,751.3 612.7,749.3 612.7,745.2 615,747.2 615,751.3 615,745.2 615,753.3 617.3,749.3 617.3,749.3 617.3,751.3 617.3,747.2 619.6,745.2 619.6,755.3 619.6,755.3 619.6,753.3 621.9,755.3 621.9,745.2 621.9,753.3 621.9,755.3 624.1,751.3 624.1,747.2 624.1,747.2 624.1,747.2 626.4,755.3 626.4,755.3 626.4,755.3 626.4,751.3 628.7,755.3 628.7,751.3 628.7,757.3 631,751.3 631,757.3 631,747.2 631,755.3 633.3,753.3 633.3,751.3 633.3,753.3 633.3,757.3 635.6,749.3 635.6,751.3 635.6,751.3 635.6,755.3 637.8,757.3 637.8,753.3 637.8,757.3 637.8,751.3 640.1,757.3 640.1,753.3 640.1,755.3 640.1,759.3 642.4,755.3 642.4,751.3 642.4,759.3 642.4,757.3 644.7,755.3 644.7,753.3 644.7,759.3 644.7,753.3 647,755.3 647,761.3 647,755.3 649.2,759.3 649.2,761.3 649.2,761.3 649.2,759.3 651.5,755.3 651.5,761.3 651.5,757.3 651.5,755.3 653.8,759.3 653.8,755.3 653.8,757.3 653.8,759.3 656.1,753.3 656.1,759.3 656.1,763.4 656.1,761.3 658.4,755.3 658.4,755.3 658.4,761.3 658.4,761.3 660.7,763.4 660.7,757.3 660.7,755.3 660.7,755.3 662.9,761.3 662.9,755.3 662.9,763.4 665.2,763.4 665.2,759.3 665.2,761.3 665.2,761.3 667.5,763.4 667.5,763.4 667.5,761.3 667.5,761.3 669.8,759.3 669.8,759.3 669.8,761.3 669.8,761.3 672.1,763.4 672.1,763.4 672.1,763.4 672.1,761.3 674.3,755.3 674.3,759.3 674.3,757.3 674.3,757.3 676.6,757.3 676.6,757.3 676.6,765.4 676.6,763.4 678.9,763.4 678.9,759.3 678.9,761.3 678.9,757.3 681.2,761.3 681.2,765.4 681.2,763.4 683.5,763.4 683.5,765.4 683.5,761.3 683.5,765.4 685.8,765.4 685.8,765.4 685.8,765.4 685.8,759.3 688,763.4 688,757.3 688,765.4 688,765.4 690.3,765.4 690.3,765.4 690.3,765.4 690.3,763.4 692.6,765.4 692.6,765.4 692.6,763.4 692.6,765.4 694.9,759.3 694.9,761.3 694.9,763.4 694.9,763.4 697.2,763.4 697.2,757.3 697.2,763.4 699.4,763.4 699.4,765.4 699.4,763.4 699.4,765.4 701.7,759.3 701.7,761.3 701.7,761.3 701.7,761.3 704,765.4 704,761.3 704,765.4 704,761.3 706.3,765.4 706.3,765.4 706.3,765.4 706.3,763.4 708.6,765.4 708.6,765.4 708.6,763.4 708.6,757.3 710.9,761.3 710.9,763.4 710.9,761.3 710.9,767.4 713.1,765.4 713.1,765.4 713.1,761.3 715.4,765.4 715.4,759.3 715.4,765.4 715.4,759.3 717.7,759.3 717.7,763.4 717.7,767.4 717.7,767.4 720,765.4 720,761.3 720,763.4 720,759.3 722.3,759.3 722.3,765.4 722.3,757.3 722.3,763.4 724.5,767.4 724.5,767.4 724.5,765.4 724.5,765.4 726.8,767.4 726.8,759.3 726.8,765.4 726.8,761.3 729.1,765.4 729.1,765.4 729.1,765.4 729.1,761.3 731.4,765.4 731.4,765.4 731.4,761.3 733.7,763.4 733.7,767.4 733.7,765.4 733.7,767.4 736,761.3 736,765.4 736,761.3 736,763.4 738.2,761.3 738.2,761.3 738.2,765.4 738.2,765.4 740.5,765.4 740.5,763.4 740.5,759.3 740.5,765.4 742.8,761.3 742.8,765.4 742.8,763.4 742.8,761.3 745.1,767.4 745.1,761.3 745.1,761.3 745.1,759.3 747.4,761.3 747.4,765.4 747.4,767.4 749.7,765.4 749.7,761.3 749.7,763.4 749.7,765.4 751.9,767.4 751.9,767.4 751.9,763.4 751.9,761.3 754.2,763.4 754.2,765.4 754.2,767.4 754.2,767.4 756.5,763.4 756.5,767.4 756.5,765.4 756.5,767.4 758.8,765.4 758.8,765.4 758.8,767.4 758.8,761.3 761.1,761.3 761.1,767.4 761.1,763.4 761.1,761.3 763.3,765.4 763.3,763.4 763.3,767.4 763.3,767.4 765.6,767.4 765.6,763.4 765.6,767.4 767.9,761.3 767.9,769.4 767.9,765.4 767.9,765.4 770.2,761.3 770.2,763.4 770.2,763.4 770.2,765.4 772.5,767.4 772.5,763.4 772.5,763.4 772.5,763.4 774.8,765.4 774.8,767.4 774.8,769.4 774.8,763.4 777,767.4 777,761.3 777,767.4 777,765.4 779.3,767.4 779.3,765.4 779.3,761.3 779.3,767.4 781.6,767.4 781.6,767.4 781.6,769.4 783.9,769.4 783.9,761.3 783.9,767.4 783.9,763.4 786.2,763.4 786.2,765.4 786.2,767.4 786.2,765.4 788.4,761.3 788.4,767.4 788.4,761.3 788.4,763.4 790.7,763.4 790.7,765.4 790.7,761.3 790.7,767.4 793,761.3 793,769.4 793,765.4 793,769.4 795.3,767.4 795.3,765.4 795.3,765.4 795.3,765.4 797.6,769.4 797.6,769.4 797.6,769.4 797.6,765.4 799.9,769.4 799.9,761.3 799.9,765.4 802.1,769.4 802.1,765.4 802.1,769.4 802.1,765.4 804.4,769.4 804.4,765.4 804.4,769.4 804.4,767.4 806.7,765.4 806.7,769.4 806.7,769.4 806.7,769.4 809,763.4 809,761.3 809,765.4 809,769.4 811.3,765.4 811.3,769.4 811.3,769.4 811.3,765.4 813.5,763.4 813.5,767.4 813.5,767.4 813.5,761.3 815.8,769.4 815.8,763.4 815.8,763.4 818.1,763.4 818.1,767.4 818.1,763.4 818.1,767.4 820.4,769.4 820.4,767.4 820.4,769.4 820.4,771.4 822.7,767.4 822.7,767.4 822.7,769.4 822.7,765.4 825,769.4 825,769.4 825,767.4 825,765.4 827.2,767.4 827.2,763.4 827.2,765.4 827.2,767.4 829.5,763.4 829.5,769.4 829.5,767.4 829.5,765.4 831.8,771.4 831.8,769.4 831.8,763.4 831.8,769.4 834.1,763.4 834.1,771.4 834.1,769.4 836.4,769.4 836.4,771.4 836.4,765.4 836.4,769.4 838.6,767.4 838.6,771.4 838.6,767.4 838.6,767.4 840.9,767.4 840.9,765.4 840.9,769.4 840.9,765.4 843.2,765.4 843.2,769.4 843.2,769.4 843.2,767.4 845.5,769.4 845.5,771.4 845.5,767.4 845.5,765.4 847.8,771.4 847.8,767.4 847.8,767.4 847.8,767.4 850.1,763.4 850.1,771.4 850.1,771.4 852.3,771.4 852.3,767.4 852.3,763.4 852.3,767.4 854.6,771.4 854.6,767.4 854.6,771.4 854.6,771.4 856.9,769.4 856.9,765.4 856.9,765.4 856.9,763.4 859.2,767.4 859.2,771.4 859.2,769.4 859.2,771.4 861.5,769.4 861.5,767.4 861.5,767.4 861.5,763.4 863.8,769.4 863.8,771.4 863.8,765.4 863.8,771.4 866,769.4 866,771.4 866,765.4 866,763.4 868.3,771.4 868.3,767.4 868.3,771.4 870.6,767.4 870.6,771.4 870.6,769.4 870.6,767.4 872.9,769.4 872.9,765.4 872.9,771.4 872.9,771.4 875.2,771.4 875.2,769.4 875.2,765.4 875.2,763.4 877.4,763.4 877.4,771.4 877.4,771.4 877.4,769.4 879.7,767.4 879.7,765.4 879.7,767.4 879.7,771.4 882,767.4 882,767.4 882,769.4 882,767.4 884.3,771.4 884.3,769.4 884.3,767.4 886.6,769.4 886.6,769.4 886.6,771.4 886.6,765.4 888.9,767.4 888.9,765.4 888.9,767.4 888.9,771.4 891.1,771.4 891.1,771.4 891.1,769.4 891.1,771.4 893.4,769.4 893.4,763.4 893.4,771.4 893.4,771.4 895.7,765.4 895.7,765.4 895.7,769.4 895.7,771.4 898,769.4 898,767.4 898,769.4 898,769.4 900.3,769.4 900.3,763.4 900.3,767.4 900.3,769.4 902.5,769.4 902.5,771.4 902.5,765.4 904.8,771.4 904.8,771.4 904.8,769.4 904.8,767.4 907.1,767.4 907.1,771.4 907.1,767.4 907.1,765.4 909.4,765.4 909.4,771.4 909.4,771.4 909.4,769.4 911.7,771.4 911.7,763.4 911.7,767.4 911.7,769.4 914,765.4 914,767.4 914,771.4 914,771.4 916.2,771.4 916.2,763.4 916.2,767.4 916.2,771.4 918.5,765.4 918.5,769.4 918.5,763.4 920.8,767.4 920.8,771.4 920.8,769.4 920.8,767.4 923.1,769.4 923.1,767.4 923.1,771.4 923.1,771.4 925.4,771.4 925.4,767.4 925.4,771.4 925.4,765.4 927.6,765.4 927.6,771.4 927.6,771.4 927.6,767.4 929.9,767.4 929.9,765.4 929.9,769.4 929.9,771.4 932.2,765.4 932.2,767.4 932.2,763.4 932.2,769.4 934.5,771.4 934.5,771.4 934.5,765.4 934.5,769.4 936.8,771.4 936.8,771.4 936.8,767.4 939.1,769.4 939.1,765.4 939.1,767.4 939.1,771.4 941.3,767.4 941.3,769.4 941.3,767.4 941.3,771.4 943.6,769.4 943.6,771.4 943.6,771.4 943.6,769.4 945.9,767.4 945.9,767.4 945.9,771.4 945.9,769.4 948.2,769.4 948.2,771.4 948.2,767.4 948.2,769.4 950.5,771.4 950.5,767.4 950.5,771.4 950.5,769.4 952.8,765.4 952.8,771.4 952.8,767.4 955,767.4 955,771.4 955,771.4 955,769.4 957.3,771.4 957.3,769.4 957.3,771.4 957.3,769.4 959.6,763.4 959.6,771.4 959.6,767.4 959.6,769.4 961.9,765.4 961.9,765.4 961.9,769.4 961.9,771.4 964.2,763.4 964.2,765.4 964.2,765.4 964.2,771.4 966.4,769.4 966.4,769.4 966.4,771.4 966.4,771.4 968.7,769.4 968.7,771.4 968.7,763.4 971,765.4 971,767.4 971,767.4 971,763.4 973.3,769.4 973.3,765.4 973.3,771.4 973.3,769.4 975.6,771.4 975.6,771.4 975.6,765.4 975.6,767.4 977.9,769.4 977.9,771.4 977.9,765.4 977.9,769.4 980.1,765.4 980.1,767.4 980.1,767.4 980.1,767.4 982.4,763.4 982.4,771.4 982.4,765.4 982.4,767.4 984.7,767.4 984.7,763.4 984.7,771.4 984.7,771.4 987,767.4 987,765.4 987,771.4 989.3,769.4"/>
<path class="d" stroke="#ff00ff" d="M99.3 769.4h0M99.3 769.4h0M99.3 767.4h0M101.6 771.4h0M101.6 769.4h0M101.6 765.4h0M103.8 771.4h0M103.8 769.4h0M103.8 765.4h0M103.8 767.4h0M106.1 765.4h0M106.1 771.4h0M106.1 767.4h0M106.1 769.4h0M108.4 771.4h0M108.4 765.4h0M108.4 771.4h0M108.4 767.4h0M110.7 765.4h0M110.7 765.4h0M110.7 771.4h0M110.7 765.4h0M113 771.4h0M113 767.4h0M113 771.4h0M113 765.4h0M115.3 771.4h0M115.3 767.4h0M115.3 767.4h0M115.3 771.4h0M117.5 767.4h0M117.5 767.4h0M117.5 765.4h0M119.8 763.4h0M119.8 771.4h0M119.8 769.4h0M119.8 769.4h0M122.1 767.4h0M122.1 771.4h0M122.1 767.4h0M122.1 771.4h0M124.4 771.4h0M124.4 765.4h0M124.4 767.4h0M124.4 765.4h0M126.7 767.4h0M126.7 765.4h0M126.7 769.4h0M126.7 771.4h0M128.9 763.4h0M128.9 771.4h0M128.9 765.4h0M128.9 771.4h0M131.2 769.4h0M131.2 771.4h0M131.2 767.4h0M131.2 771.4h0M133.5 771.4h0M133.5 769.4h0M133.5 765.4h0M133.5 769.4h0M135.8 771.4h0M135.8 763.4h0M135.8 771.4h0M138.1 769.4h0M138.1 767.4h0M138.1 771.4h0M138.1 767.4h0M140.4 769.4h0M140.4 765.4h0M140.4 771.4h0M140.4 765.4h0M142.6 765.4h0M142.6 771.4h0M142.6 771.4h0M142.6 765.4h0M144.9 769.4h0M144.9 769.4h0M144.9 767.4h0M144.9 767.4h0M147.2 765.4h0M147.2 767.4h0M147.2 767.4h0M147.2 769.4h0M149.5 769.4h0M149.5 765.4h0M149.5 765.4h0M149.5 767.4h0M151.8 767.4h0M151.8 771.4h0M151.8 769.4h0M154.1 771.4h0M154.1 769.4h0M154.1 771.4h0M154.1 771.4h0M156.3 771.4h0M156.3 769.4h0M156.3 767.4h0M156.3 771.4h0M158.6 767.4h0M158.6 765.4h0M158.6 771.4h0M158.6 771.4h0M160.9 771.4h0M160.9 767.4h0M160.9 769.4h0M160.9 771.4h0M163.2 771.4h0M163.2 769.4h0M163.2 771.4h0M163.2 765.4h0M165.5 771.4h0M165.5 765.4h0M165.5 771.4h0M165.5 769.4h0M167.7 763.4h0M167.7 771.4h0M167.7 771.4h0M170 765.4h0M170 765.4h0M170 769.4h0M170 771.4h0M172.3 771.4h0M172.3 769.4h0M172.3 763.4h0M172.3 771.4h0M174.6 767.4h0M174.6 767.4h0M174.6 765.4h0M174.6 767.4h0M176.9 769.4h0M176.9 769.4h0M176.9 769.4h0M176.9 767.4h0M179.2 769.4h0M179.2 771.4h0M179.2 765.4h0M179.2 769.4h0M181.4 767.4h0M181.4 769.4h0M181.4 769.4h0M181.4 763.4h0M183.7 771.4h0M183.7 767.4h0M183.7 771.4h0M183.7 763.4h0M186 765.4h0M186 765.4h0M186 765.4h0M188.3 769.4h0M188.3 769.4h0M188.3 763.4h0M188.3 769.4h0M190.6 763.4h0M190.6 765.4h0M190.6 769.4h0M190.6 769.4h0M192.8 769.4h0M192.8 771.4h0M192.8 769.4h0M192.8 769.4h0M195.1 767.4h0M195.1 761.3h0M195.1 755.3h0M197.4 741.2h0M197.4 721.1h0M199.7 698.9h0M199.7 672.7h0M202 654.6h0M204.3 630.4h0M204.3 602.2h0M206.5 578.1h0M206.5 539.8h0M208.8 519.7h0M208.8 485.4h0M211.1 463.3h0M211.1 447.2h0M213.4 425h0M213.4 421h0M215.7 390.8h0M215.7 362.6h0M217.9 350.5h0M217.9 332.4h0M220.2 300.1h0M220.2 294.1h0M222.5 276h0M222.5 282h0M222.5 274h0M224.8 280h0M224.8 271.9h0M224.8 267.9h0M224.8 269.9h0M227.1 271.9h0M227.1 267.9h0M227.1 276h0M227.1 271.9h0M229.4 280h0M229.4 284h0M229.4 284h0M229.4 282h0M231.6 298.1h0M231.6 300.1h0M233.9 322.3h0M233.9 338.4h0M236.2 362.6h0M238.5 386.7h0M238.5 394.8h0M240.8 412.9h0M240.8 441.1h0M243 445.1h0M243 471.3h0M245.3 485.4h0M245.3 493.5h0M247.6 519.7h0M247.6 525.7h0M249.9 541.8h0M249.9 559.9h0M252.2 570h0M252.2 574h0M254.5 594.2h0M254.5 608.3h0M256.7 610.3h0M256.7 626.4h0M259 640.5h0M259 644.5h0M259 646.5h0M261.3 650.6h0M261.3 640.5h0M261.3 646.5h0M261.3 656.6h0M263.6 654.6h0M263.6 656.6h0M263.6 650.6h0M263.6 650.6h0M265.9 664.7h0M265.9 664.7h0M265.9 660.6h0M265.9 666.7h0M268.1 664.7h0M268.1 660.6h0M268.1 662.7h0M268.1 668.7h0M270.4 666.7h0M270.4 664.7h0M270.4 668.7h0M272.7 658.6h0M272.7 668.7h0M272.7 658.6h0M272.7 668.7h0M275 664.7h0M275 658.6h0M275 662.7h0M275 668.7h0M277.3 666.7h0M277.3 664.7h0M277.3 662.7h0M277.3 654.6h0M279.6 664.7h0M279.6 664.7h0M279.6 660.6h0M279.6 664.7h0M281.8 654.6h0M281.8 664.7h0M281.8 654.6h0M281.8 652.6h0M284.1 660.6h0M284.1 652.6h0M284.1 652.6h0M284.1 652.6h0M286.4 652.6h0M286.4 654.6h0M286.4 656.6h0M286.4 654.6h0M288.7 656.6h0M288.7 650.6h0M288.7 650.6h0M291 654.6h0M291 654.6h0M291 650.6h0M291 652.6h0M293.3 650.6h0M293.3 642.5h0M293.3 648.6h0M293.3 650.6h0M295.5 636.5h0M295.5 636.5h0M295.5 638.5h0M295.5 642.5h0M297.8 632.4h0M297.8 632.4h0M297.8 636.5h0M297.8 634.5h0M300.1 634.5h0M300.1 636.5h0M300.1 628.4h0M300.1 628.4h0M302.4 628.4h0M302.4 628.4h0M302.4 630.4h0M302.4 632.4h0M304.7 620.4h0M304.7 626.4h0M304.7 618.4h0M306.9 628.4h0M306.9 628.4h0M306.9 618.4h0M306.9 618.4h0M309.2 622.4h0M309.2 618.4h0M309.2 610.3h0M309.2 614.3h0M311.5 614.3h0M311.5 616.3h0M311.5 616.3h0M311.5 612.3h0M313.8 612.3h0M313.8 604.3h0M313.8 598.2h0M313.8 598.2h0M316.1 606.3h0M316.1 604.3h0M316.1 598.2h0M316.1 592.2h0M318.4 600.2h0M318.4 598.2h0M318.4 594.2h0M318.4 588.1h0M320.6 592.2h0M320.6 594.2h0M320.6 584.1h0M320.6 580.1h0M322.9 582.1h0M322.9 588.1h0M322.9 584.1h0M325.2 580.1h0M325.2 578.1h0M325.2 582.1h0M325.2 578.1h0M327.5 576.1h0M327.5 574h0M327.5 564h0M327.5 568h0M329.8 568h0M329.8 572h0M329.8 570h0M329.8 559.9h0M332 562h0M332 559.9h0M332 566h0M332 551.9h0M334.3 557.9h0M334.3 555.9h0M334.3 553.9h0M334.3 551.9h0M336.6 547.9h0M336.6 555.9h0M336.6 555.9h0M336.6 549.9h0M338.9 543.8h0M338.9 541.8h0M338.9 545.8h0M341.2 537.8h0M341.2 535.8h0M341.2 533.8h0M341.2 527.7h0M343.5 535.8h0M343.5 529.7h0M343.5 523.7h0M343.5 531.7h0M345.7 519.7h0M345.7 527.7h0M345.7 521.7h0M345.7 527.7h0M348 525.7h0M348 525.7h0M348 517.6h0M348 523.7h0M350.3 517.6h0M350.3 511.6h0M350.3 517.6h0M350.3 515.6h0M352.6 503.6h0M352.6 513.6h0M352.6 507.6h0M352.6 507.6h0M354.9 499.5h0M354.9 501.5h0M354.9 503.6h0M354.9 505.6h0M357.1 495.5h0M357.1 501.5h0M357.1 493.5h0M359.4 493.5h0M359.4 493.5h0M359.4 485.4h0M359.4 489.5h0M361.7 489.5h0M361.7 487.4h0M361.7 493.5h0M361.7 489.5h0M364 491.5h0M364 489.5h0M364 489.5h0M364 481.4h0M366.3 483.4h0M366.3 485.4h0M366.3 481.4h0M366.3 471.3h0M368.6 481.4h0M368.6 479.4h0M368.6 469.3h0M368.6 477.4h0M370.8 469.3h0M370.8 475.4h0M370.8 475.4h0M370.8 467.3h0M373.1 465.3h0M373.1 471.3h0M373.1 467.3h0M375.4 469.3h0M375.4 459.2h0M375.4 467.3h0M375.4 461.3h0M377.7 455.2h0M377.7 465.3h0M377.7 457.2h0M377.7 459.2h0M380 453.2h0M380 453.2h0M380 457.2h0M380 457.2h0M382.2 453.2h0M382.2 453.2h0M382.2 459.2h0M382.2 447.2h0M384.5 455.2h0M384.5 457.2h0M384.5 455.2h0M384.5 455.2h0M386.8 453.2h0M386.8 455.2h0M386.8 453.2h0M386.8 443.1h0M389.1 443.1h0M389.1 455.2h0M389.1 453.2h0M389.1 453.2h0M391.4 453.2h0M391.4 453.2h0M391.4 449.2h0M393.7 451.2h0M393.7 453.2h0M393.7 449.2h0M393.7 449.2h0M395.9 441.1h0M395.9 443.1h0M395.9 447.2h0M395.9 449.2h0M398.2 453.2h0M398.2 447.2h0M398.2 443.1h0M398.2 443.1h0M400.5 443.1h0M400.5 449.2h0M400.5 455.2h0M400.5 457.2h0M402.8 457.2h0M402.8 457.2h0M402.8 461.3h0M402.8 459.2h0M405.1 449.2h0M405.1 455.2h0M405.1 457.2h0M405.1 465.3h0M407.4 463.3h0M407.4 463.3h0M407.4 457.2h0M409.6 463.3h0M409.6 469.3h0M409.6 471.3h0M409.6 473.3h0M411.9 471.3h0M411.9 469.3h0M411.9 473.3h0M411.9 465.3h0M414.2 469.3h0M414.2 473.3h0M414.2 477.4h0M414.2 473.3h0M416.5 475.4h0M416.5 475.4h0M416.5 481.4h0M416.5 481.4h0M418.8 483.4h0M418.8 485.4h0M418.8 485.4h0M418.8 487.4h0M421 487.4h0M421 485.4h0M421 487.4h0M421 483.4h0M423.3 491.5h0M423.3 485.4h0M423.3 483.4h0M425.6 491.5h0M425.6 487.4h0M425.6 497.5h0M425.6 497.5h0M427.9 499.5h0M427.9 497.5h0M427.9 499.5h0M427.9 499.5h0M430.2 503.6h0M430.2 507.6h0M430.2 499.5h0M430.2 497.5h0M432.5 509.6h0M432.5 503.6h0M432.5 511.6h0M432.5 507.6h0M434.7 511.6h0M434.7 509.6h0M434.7 507.6h0M434.7 519.7h0M437 511.6h0M437 523.7h0M437 517.6h0M437 527.7h0M439.3 527.7h0M439.3 527.7h0M439.3 531.7h0M439.3 525.7h0M441.6 537.8h0M441.6 535.8h0M441.6 535.8h0M443.9 533.8h0M443.9 533.8h0M443.9 543.8h0M443.9 549.9h0M446.1 551.9h0M446.1 547.9h0M446.1 555.9h0M446.1 547.9h0M448.4 549.9h0M448.4 553.9h0M448.4 549.9h0M448.4 559.9h0M450.7 553.9h0M450.7 566h0M450.7 568h0M450.7 566h0M453 562h0M453 574h0M453 566h0M453 574h0M455.3 568h0M455.3 570h0M455.3 570h0M455.3 578.1h0M457.6 584.1h0M457.6 584.1h0M457.6 584.1h0M459.8 582.1h0M459.8 588.1h0M459.8 588.1h0M459.8 590.2h0M462.1 588.1h0M462.1 596.2h0M462.1 594.2h0M462.1 588.1h0M464.4 600.2h0M464.4 598.2h0M464.4 596.2h0M464.4 600.2h0M466.7 604.3h0M466.7 610.3h0M466.7 602.2h0M466.7 602.2h0M469 606.3h0M469 608.3h0M469 608.3h0M469 608.3h0M471.2 616.3h0M471.2 620.4h0M471.2 620.4h0M471.2 624.4h0M473.5 626.4h0M473.5 620.4h0M473.5 620.4h0M473.5 622.4h0M475.8 624.4h0M475.8 630.4h0M475.8 630.4h0M478.1 620.4h0M478.1 622.4h0M478.1 634.5h0M478.1 634.5h0M480.4 636.5h0M480.4 636.5h0M480.4 636.5h0M480.4 638.5h0M482.7 630.4h0M482.7 642.5h0M482.7 640.5h0M482.7 644.5h0M484.9 642.5h0M484.9 638.5h0M484.9 646.5h0M484.9 642.5h0M487.2 644.5h0M487.2 644.5h0M487.2 646.5h0M487.2 646.5h0M489.5 652.6h0M489.5 652.6h0M489.5 646.5h0M489.5 656.6h0M491.8 648.6h0M491.8 646.5h0M491.8 654.6h0M494.1 658.6h0M494.1 658.6h0M494.1 658.6h0M494.1 656.6h0M496.4 652.6h0M496.4 662.7h0M496.4 664.7h0M496.4 664.7h0M498.6 656.6h0M498.6 668.7h0M498.6 668.7h0M498.6 672.7h0M500.9 666.7h0M500.9 668.7h0M500.9 664.7h0M500.9 668.7h0M503.2 668.7h0M503.2 670.7h0M503.2 674.7h0M503.2 676.8h0M505.5 680.8h0M505.5 678.8h0M505.5 682.8h0M505.5 682.8h0M507.8 680.8h0M507.8 680.8h0M507.8 682.8h0M507.8 686.8h0M510 678.8h0M510 686.8h0M510 686.8h0M512.3 688.8h0M512.3 690.9h0M512.3 684.8h0M512.3 688.8h0M514.6 688.8h0M514.6 684.8h0M514.6 684.8h0M514.6 690.9h0M516.9 686.8h0M516.9 692.9h0M516.9 688.8h0M516.9 696.9h0M519.2 698.9h0M519.2 696.9h0M519.2 702.9h0M519.2 700.9h0M521.5 702.9h0M521.5 700.9h0M521.5 707h0M521.5 702.9h0M523.7 702.9h0M523.7 696.9h0M523.7 696.9h0M523.7 702.9h0M526 707h0M526 702.9h0M526 700.9h0M528.3 705h0M528.3 713h0M528.3 709h0M528.3 711h0M530.6 705h0M530.6 709h0M530.6 705h0M530.6 717h0M532.9 711h0M532.9 717h0M532.9 715h0M532.9 711h0M535.1 709h0M535.1 719h0M535.1 711h0M535.1 721.1h0M537.4 721.1h0M537.4 721.1h0M537.4 711h0M537.4 723.1h0M539.7 715h0M539.7 721.1h0M539.7 719h0M539.7 725.1h0M542 723.1h0M542 721.1h0M542 725.1h0M542 721.1h0M544.3 727.1h0M544.3 727.1h0M544.3 723.1h0M546.6 727.1h0M546.6 721.1h0M546.6 725.1h0M546.6 721.1h0M548.8 723.1h0M548.8 725.1h0M548.8 721.1h0M548.8 731.1h0M551.1 727.1h0M551.1 733.1h0M551.1 727.1h0M551.1 725.1h0M553.4 725.1h0M553.4 729.1h0M553.4 725.1h0M553.4 733.1h0M555.7 733.1h0M555.7 729.1h0M555.7 727.1h0M555.7 735.2h0M558 733.1h0M558 733.1h0M558 737.2h0M558 737.2h0M560.2 729.1h0M560.2 729.1h0M560.2 733.1h0M562.5 737.2h0M562.5 729.1h0M562.5 737.2h0M562.5 739.2h0M564.8 733.1h0M564.8 733.1h0M564.8 735.2h0M564.8 737.2h0M567.1 739.2h0M567.1 739.2h0M567.1 737.2h0M567.1 739.2h0M569.4 735.2h0M569.4 733.1h0M569.4 735.2h0M569.4 743.2h0M571.7 737.2h0M571.7 743.2h0M571.7 741.2h0M571.7 741.2h0M573.9 739.2h0M573.9 743.2h0M573.9 743.2h0M573.9 735.2h0M576.2 745.2h0M576.2 743.2h0M576.2 741.2h0M576.2 745.2h0M578.5 743.2h0M578.5 741.2h0M578.5 743.2h0M580.8 741.2h0M580.8 737.2h0M580.8 745.2h0M580.8 741.2h0M583.1 747.2h0M583.1 743.2h0M583.1 741.2h0M583.1 737.2h0M585.3 743.2h0M585.3 741.2h0M585.3 743.2h0M585.3 747.2h0M587.6 747.2h0M587.6 743.2h0M587.6 739.2h0M587.6 747.2h0M589.9 741.2h0M589.9 743.2h0M589.9 747.2h0M589.9 743.2h0M592.2 749.3h0M592.2 747.2h0M592.2 747.2h0M592.2 745.2h0M594.5 749.3h0M594.5 749.3h0M594.5 741.2h0M596.8 747.2h0M596.8 741.2h0M596.8 741.2h0M596.8 749.3h0M599 749.3h0M599 741.2h0M599 751.3h0M599 741.2h0M601.3 741.2h0M601.3 745.2h0M601.3 749.3h0M601.3 747.2h0M603.6 751.3h0M603.6 749.3h0M603.6 751.3h0M603.6 749.3h0M605.9 747.2h0M605.9 753.3h0M605.9 745.2h0M605.9 753.3h0M608.2 751.3h0M608.2 751.3h0M608.2 753.3h0M608.2 747.2h0M610.5 747.2h0M610.5 749.3h0M610.5 751.3h0M610.5 749.3h0M612.7 751.3h0M612.7 749.3h0M612.7 745.2h0M615 747.2h0M615 751.3h0M615 745.2h0M615 753.3h0M617.3 749.3h0M617.3 749.3h0M617.3 751.3h0M617.3 747.2h0M619.6 745.2h0M619.6 755.3h0M619.6 755.3h0M619.6 753.3h0M621.9 755.3h0M621.9 745.2h0M621.9 753.3h0M621.9 755.3h0M624.1 751.3h0M624.1 747.2h0M624.1 747.2h0M624.1 747.2h0M626.4 755.3h0M626.4 755.3h0M626.4 755.3h0M626.4 751.3h0M628.7 755.3h0M628.7 751.3h0M628.7 757.3h0M631 751.3h0M631 757.3h0M631 747.2h0M631 755.3h0M633.3 753.3h0M633.3 751.3h0M633.3 753.3h0M633.3 757.3h0M635.6 749.3h0M635.6 751.3h0M635.6 751.3h0M635.6 755.3h0M637.8 757.3h0M637.8 753.3h0M637.8 757.3h0M637.8 751.3h0M640.1 757.3h0M640.1 753.3h0M640.1 755.3h0M640.1 759.3h0M642.4 755.3h0M642.4 751.3h0M642.4 759.3h0M642.4 757.3h0M644.7 755.3h0M644.7 753.3h0M644.7 759.3h0M644.7 753.3h0M647 755.3h0M647 761.3h0M647 755.3h0M649.2 759.3h0M649.2 761.3h0M649.2 761.3h0M649.2 759.3h0M651.5 755.3h0M651.5 761.3h0M651.5 757.3h0M651.5 755.3h0M653.8 759.3h0M653.8 755.3h0M653.8 757.3h0M653.8 759.3h0M656.1 753.3h0M656.1 759.3h0M656.1 763.4h0M656.1 761.3h0M658.4 755.3h0M658.4 755.3h0M658.4 761.3h0M658.4 761.3h0M660.7 763.4h0M660.7 757.3h0M660.7 755.3h0M660.7 755.3h0M662.9 761.3h0M662.9 755.3h0M662.9 763.4h0M665.2 763.4h0M665.2 759.3h0M665.2 761.3h0M665.2 761.3h0M667.5 763.4h0M667.5 763.4h0M667.5 761.3h0M667.5 761.3h0M669.8 759.3h0M669.8 759.3h0M669.8 761.3h0M669.8 761.3h0M672.1 763.4h0M672.1 763.4h0M672.1 763.4h0M672.1 761.3h0M674.3 755.3h0M674.3 759.3h0M674.3 757.3h0M674.3 757.3h0M676.6 757.3h0M676.6 757.3h0M676.6 765.4h0M676.6 763.4h0M678.9 763.4h0M678.9 759.3h0M678.9 761.3h0M678.9 757.3h0M681.2 761.3h0M681.2 765.4h0M681.2 763.4h0M683.5 763.4h0M683.5 765.4h0M683.5 761.3h0M683.5 765.4h0M685.8 765.4h0M685.8 765.4h0M685.8 765.4h0M685.8 759.3h0M688 763.4h0M688 757.3h0M688 765.4h0M688 765.4h0M690.3 765.4h0M690.3 765.4h0M690.3 765.4h0M690.3 763.4h0M692.6 765.4h0M692.6 765.4h0M692.6 763.4h0M692.6 765.4h0M694.9 759.3h0M694.9 761.3h0M694.9 763.4h0M694.9 763.4h0M697.2 763.4h0M697.2 757.3h0M697.2 763.4h0M699.4 763.4h0M699.4 765.4h0M699.4 763.4h0M699.4 765.4h0M701.7 759.3h0M701.7 761.3h0M701.7 761.3h0M701.7 761.3h0M704 765.4h0M704 761.3h0M704 765.4h0M704 761.3h0M706.3 765.4h0M706.3 765.4h0M706.3 765.4h0M706.3 763.4h0M708.6 765.4h0M708.6 765.4h0M708.6 763.4h0M708.6 757.3h0M710.9 761.3h0M710.9 763.4h0M710.9 761.3h0M710.9 767.4h0M713.1 765.4h0M713.1 765.4h0M713.1 761.3h0M715.4 765.4h0M715.4 759.3h0M715.4 765.4h0M715.4 759.3h0M717.7 759.3h0M717.7 763.4h0M717.7 767.4h0M717.7 767.4h0M720 765.4h0M720 761.3h0M720 763.4h0M720 759.3h0M722.3 759.3h0M722.3 765.4h0M722.3 757.3h0M722.3 763.4h0M724.5 767.4h0M724.5 767.4h0M724.5 765.4h0M724.5 765.4h0M726.8 767.4h0M726.8 759.3h0M726.8 765.4h0M726.8 761.3h0M729.1 765.4h0M729.1 765.4h0M729.1 765.4h0M729.1 761.3h0M731.4 765.4h0M731.4 765.4h0M731.4 761.3h0M733.7 763.4h0M733.7 767.4h0M733.7 765.4h0M733.7 767.4h0M736 761.3h0M736 765.4h0M736 761.3h0M736 763.4h0M738.2 761.3h0M738.2 761.3h0M738.2 765.4h0M738.2 765.4h0M740.5 765.4h0M740.5 763.4h0M740.5 759.3h0M740.5 765.4h0M742.8 761.3h0M742.8 765.4h0M742.8 763.4h0M742.8 761.3h0M745.1 767.4h0M745.1 761.3h0M745.1 761.3h0M745.1 759.3h0M747.4 761.3h0M747.4 765.4h0M747.4 767.4h0M749.7 765.4h0M749.7 761.3h0M749.7 763.4h0M749.7 765.4h0M751.9 767.4h0M751.9 767.4h0M751.9 763.4h0M751.9 761.3h0M754.2 763.4h0M754.2 765.4h0M754.2 767.4h0M754.2 767.4h0M756.5 763.4h0M756.5 767.4h0M756.5 765.4h0M756.5 767.4h0M758.8 765.4h0M758.8 765.4h0M758.8 767.4h0M758.8 761.3h0M761.1 761.3h0M761.1 767.4h0M761.1 763.4h0M761.1 761.3h0M763.3 765.4h0M763.3 763.4h0M763.3 767.4h0M763.3 767.4h0M765.6 767.4h0M765.6 763.4h0M765.6 767.4h0M767.9 761.3h0M767.9 769.4h0M767.9 765.4h0M767.9 765.4h0M770.2 761.3h0M770.2 763.4h0M770.2 763.4h0M770.2 765.4h0M772.5 767.4h0M772.5 763.4h0M772.5 763.4h0M772.5 763.4h0M774.8 765.4h0M774.8 767.4h0M774.8 769.4h0M774.8 763.4h0M777 767.4h0M777 761.3h0M777 767.4h0M777 765.4h0M779.3 767.4h0M779.3 765.4h0M779.3 761.3h0M779.3 767.4h0M781.6 767.4h0M781.6 767.4h0M781.6 769.4h0M783.9 769.4h0M783.9 761.3h0M783.9 767.4h0M783.9 763.4h0M786.2 763.4h0M786.2 765.4h0M786.2 767.4h0M786.2 765.4h0M788.4 761.3h0M788.4 767.4h0M788.4 761.3h0M788.4 763.4h0M790.7 763.4h0M790.7 765.4h0M790.7 761.3h0M790.7 767.4h0M793 761.3h0M793 769.4h0M793 765.4h0M793 769.4h0M795.3 767.4h0M795.3 765.4h0M795.3 765.4h0M795.3 765.4h0M797.6 769.4h0M797.6 769.4h0M797.6 769.4h0M797.6 765.4h0M799.9 769.4h0M799.9 761.3h0M799.9 765.4h0M802.1 769.4h0M802.1 765.4h0M802.1 769.4h0M802.1 765.4h0M804.4 769.4h0M804.4 765.4h0M804.4 769.4h0M804.4 767.4h0M806.7 765.4h0M806.7 769.4h0M806.7 769.4h0M806.7 769.4h0M809 763.4h0M809 761.3h0M809 765.4h0M809 769.4h0M811.3 765.4h0M811.3 769.4h0M811.3 769.4h0M811.3 765.4h0M813.5 763.4h0M813.5 767.4h0M813.5 767.4h0M813.5 761.3h0M815.8 769.4h0M815.8 763.4h0M815.8 763.4h0M818.1 763.4h0M818.1 767.4h0M818.1 763.4h0M818.1 767.4h0M820.4 769.4h0M820.4 767.4h0M820.4 769.4h0M820.4 771.4h0M822.7 767.4h0M822.7 767.4h0M822.7 769.4h0M822.7 765.4h0M825 769.4h0M825 769.4h0M825 767.4h0M825 765.4h0M827.2 767.4h0M827.2 763.4h0M827.2 765.4h0M827.2 767.4h0M829.5 763.4h0M829.5 769.4h0M829.5 767.4h0M829.5 765.4h0M831.8 771.4h0M831.8 769.4h0M831.8 763.4h0M831.8 769.4h0M834.1 763.4h0M834.1 771.4h0M834.1 769.4h0M836.4 769.4h0M836.4 771.4h0M836.4 765.4h0M836.4 769.4h0M838.6 767.4h0M838.6 771.4h0M838.6 767.4h0M838.6 767.4h0M840.9 767.4h0M840.9 765.4h0M840.9 769.4h0M840.9 765.4h0M843.2 765.4h0M843.2 769.4h0M843.2 769.4h0M843.2 767.4h0M845.5 769.4h0M845.5 771.4h0M845.5 767.4h0M845.5 765.4h0M847.8 771.4h0M847.8 767.4h0M847.8 767.4h0M847.8 767.4h0M850.1 763.4h0M850.1 771.4h0M850.1 771.4h0M852.3 771.4h0M852.3 767.4h0M852.3 763.4h0M852.3 767.4h0M854.6 771.4h0M854.6 767.4h0M854.6 771.4h0M854.6 771.4h0M856.9 769.4h0M856.9 765.4h0M856.9 765.4h0M856.9 763.4h0M859.2 767.4h0M859.2 771.4h0M859.2 769.4h0M859.2 771.4h0M861.5 769.4h0M861.5 767.4h0M861.5 767.4h0M861.5 763.4h0M863.8 769.4h0M863.8 771.4h0M863.8 765.4h0M863.8 771.4h0M866 769.4h0M866 771.4h0M866 765.4h0M866 763.4h0M868.3 771.4h0M868.3 767.4h0M868.3 771.4h0M870.6 767.4h0M870.6 771.4h0M870.6 769.4h0M870.6 767.4h0M872.9 769.4h0M872.9 765.4h0M872.9 771.4h0M872.9 771.4h0M875.2 771.4h0M875.2 769.4h0M875.2 765.4h0M875.2 763.4h0M877.4 763.4h0M877.4 771.4h0M877.4 771.4h0M877.4 769.4h0M879.7 767.4h0M879.7 765.4h0M879.7 767.4h0M879.7 771.4h0M882 767.4h0M882 767.4h0M882 769.4h0M882 767.4h0M884.3 771.4h0M884.3 769.4h0M884.3 767.4h0M886.6 769.4h0M886.6 769.4h0M886.6 771.4h0M886.6 765.4h0M888.9 767.4h0M888.9 765.4h0M888.9 767.4h0M888.9 771.4h0M891.1 771.4h0M891.1 771.4h0M891.1 769.4h0M891.1 771.4h0M893.4 769.4h0M893.4 763.4h0M893.4 771.4h0M893.4 771.4h0M895.7 765.4h0M895.7 765.4h0M895.7 769.4h0M895.7 771.4h0M898 769.4h0M898 767.4h0M898 769.4h0M898 769.4h0M900.3 769.4h0M900.3 763.4h0M900.3 767.4h0M900.3 769.4h0M902.5 769.4h0M902.5 771.4h0M902.5 765.4h0M904.8 771.4h0M904.8 771.4h0M904.8 769.4h0M904.8 767.4h0M907.1 767.4h0M907.1 771.4h0M907.1 767.4h0M907.1 765.4h0M909.4 765.4h0M909.4 771.4h0M909.4 771.4h0M909.4 769.4h0M911.7 771.4h0M911.7 763.4h0M911.7 767.4h0M911.7 769.4h0M914 765.4h0M914 767.4h0M914 771.4h0M914 771.4h0M916.2 771.4h0M916.2 763.4h0M916.2 767.4h0M916.2 771.4h0M918.5 765.4h0M918.5 769.4h0M918.5 763.4h0M920.8 767.4h0M920.8 771.4h0M920.8 769.4h0M920.8 767.4h0M923.1 769.4h0M923.1 767.4h0M923.1 771.4h0M923.1 771.4h0M925.4 771.4h0M925.4 767.4h0M925.4 771.4h0M925.4 765.4h0M927.6 765.4h0M927.6 771.4h0M927.6 771.4h0M927.6 767.4h0M929.9 767.4h0M929.9 765.4h0M929.9 769.4h0M929.9 771.4h0M932.2 765.4h0M932.2 767.4h0M932.2 763.4h0M932.2 769.4h0M934.5 771.4h0M934.5 771.4h0M934.5 765.4h0M934.5 769.4h0M936.8 771.4h0M936.8 771.4h0M936.8 767.4h0M939.1 769.4h0M939.1 765.4h0M939.1 767.4h0M939.1 771.4h0M941.3 767.4h0M941.3 769.4h0M941.3 767.4h0M941.3 771.4h0M943.6 769.4h0M943.6 771.4h0M943.6 771.4h0M943.6 769.4h0M945.9 767.4h0M945.9 767.4h0M945.9 771.4h0M945.9 769.4h0M948.2 769.4h0M948.2 771.4h0M948.2 767.4h0M948.2 769.4h0M950.5 771.4h0M950.5 767.4h0M950.5 771.4h0M950.5 769.4h0M952.8 765.4h0M952.8 771.4h0M952.8 767.4h0M955 767.4h0M955 771.4h0M955 771.4h0M955 769.4h0M957.3 771.4h0M957.3 769.4h0M957.3 771.4h0M957.3 769.4h0M959.6 763.4h0M959.6 771.4h0M959.6 767.4h0M959.6 769.4h0M961.9 765.4h0M961.9 765.4h0M961.9 769.4h0M961.9 771.4h0M964.2 763.4h0M964.2 765.4h0M964.2 765.4h0M964.2 771.4h0M966.4 769.4h0M966.4 769.4h0M966.4 771.4h0M966.4 771.4h0M968.7 769.4h0M968.7 771.4h0M968.7 763.4h0M971 765.4h0M971 767.4h0M971 767.4h0M971 763.4h0M973.3 769.4h0M973.3 765.4h0M973.3 771.4h0M973.3 769.4h0M975.6 771.4h0M975.6 771.4h0M975.6 765.4h0M975.6 767.4h0M977.9 769.4h0M977.9 771.4h0M977.9 765.4h0M977.9 769.4h0M980.1 765.4h0M980.1 767.4h0M980.1 767.4h0M980.1 767.4h0M982.4 763.4h0M982.4 771.4h0M982.4 765.4h0M982.4 767.4h0M984.7 767.4h0M984.7 763.4h0M984.7 771.4h0M984.7 771.4h0M987 767.4h0M987 765.4h0M987 771.4h0M989.3 769.4h0"/>
<polyline class="l" stroke="#00ffff" points="99.3,765.4 99.3,763.4 99.3,763.4 101.6,771.4 101.6,769.4 101.6,769.4 103.8,769.4 103.8,765.4 103.8,769.4 103.8,771.4 106.1,767.4 106.1,765.4 106.1,767.4 106.1,763.4 108.4,763.4 108.4,765.4 108.4,765.4 108.4,771.4 110.7,767.4 110.7,771.4 110.7,771.4 110.7,767.4 113,767.4 113,765.4 113,765.4 113,771.4 115.3,769.4 115.3,765.4 115.3,771.4 115.3,765.4 117.5,771.4 117.5,769.4 117.5,771.4 119.8,771.4 119.8,765.4 119.8,763.4 119.8,769.4 122.1,771.4 122.1,769.4 122.1,765.4 122.1,771.4 124.4,765.4 124.4,769.4 124.4,771.4 124.4,765.4 126.7,771.4 126.7,763.4 126.7,769.4 126.7,763.4 128.9,767.4 128.9,765.4 128.9,769.4 128.9,763.4 131.2,767.4 131.2,769.4 131.2,771.4 131.2,771.4 133.5,765.4 133.5,763.4 133.5,771.4 133.5,769.4 135.8,769.4 135.8,771.4 135.8,771.4 138.1,765.4 138.1,765.4 138.1,765.4 138.1,771.4 140.4,765.4 140.4,763.4 140.4,765.4 140.4,769.4 142.6,769.4 142.6,769.4 142.6,763.4 142.6,769.4 144.9,769.4 144.9,771.4 144.9,769.4 144.9,771.4 147.2,769.4 147.2,769.4 147.2,771.4 147.2,771.4 149.5,767.4 149.5,771.4 149.5,767.4 149.5,767.4 151.8,765.4 151.8,771.4 151.8,763.4 154.1,765.4 154.1,769.4 154.1,769.4 154.1,771.4 156.3,767.4 156.3,771.4 156.3,769.4 156.3,771.4 158.6,767.4 158.6,767.4 158.6,767.4 158.6,765.4 160.9,767.4 160.9,769.4 160.9,771.4 160.9,769.4 163.2,769.4 163.2,769.4 163.2,771.4 163.2,771.4 165.5,765.4 165.5,763.4 165.5,767.4 165.5,767.4 167.7,771.4 167.7,769.4 167.7,763.4 170,763.4 170,771.4 170,765.4 170,771.4 172.3,763.4 172.3,771.4 172.3,765.4 172.3,763.4 174.6,771.4 174.6,771.4 174.6,769.4 174.6,769.4 176.9,763.4 176.9,771.4 176.9,771.4 176.9,765.4 179.2,767.4 179.2,769.4 179.2,767.4 179.2,765.4 181.4,771.4 181.4,771.4 181.4,763.4 181.4,769.4 183.7,771.4 183.7,765.4 183.7,767.4 183.7,771.4 186,769.4 186,767.4 186,765.4 188.3,767.4 188.3,767.4 188.3,765.4 188.3,769.4 190.6,765.4 190.6,767.4 190.6,771.4 190.6,767.4 192.8,765.4 192.8,763.4 192.8,769.4 192.8,771.4 195.1,767.4 195.1,771.4 195.1,767.4 195.1,761.3 197.4,751.3 197.4,739.2 199.7,731.1 199.7,733.1 199.7,731.1 202,717 204.3,711 204.3,694.9 206.5,682.8 206.5,654.6 208.8,642.5 208.8,608.3 211.1,545.8 211.1,529.7 213.4,517.6 213.4,511.6 215.7,493.5 215.7,475.4 217.9,463.3 217.9,451.2 220.2,451.2 220.2,441.1 222.5,435.1 222.5,439.1 222.5,431 222.5,429 224.8,433.1 224.8,423 224.8,419 224.8,419 227.1,431 227.1,431 227.1,429 227.1,425 229.4,435.1 229.4,435.1 229.4,431 229.4,439.1 231.6,445.1 231.6,445.1 233.9,469.3 233.9,485.4 236.2,505.6 238.5,513.6 238.5,531.7 240.8,551.9 240.8,562 243,578.1 243,578.1 245.3,592.2 245.3,594.2 247.6,614.3 247.6,632.4 249.9,640.5 249.9,644.5 252.2,656.6 252.2,666.7 254.5,676.8 254.5,678.8 254.5,674.7 256.7,682.8 256.7,678.8 256.7,684.8 256.7,688.8 259,684.8 259,688.8 259,690.9 259,698.9 261.3,696.9 261.3,696.9 261.3,698.9 261.3,700.9 263.6,705 263.6,700.9 263.6,698.9 263.6,702.9 265.9,707 265.9,709 265.9,707 265.9,709 268.1,709 268.1,709 268.1,709 268.1,707 270.4,702.9 270.4,711 270.4,707 272.7,711 272.7,711 272.7,702.9 272.7,705 275,705 275,702.9 275,700.9 275,700.9 277.3,702.9 277.3,700.9 277.3,709 277.3,707 279.6,709 279.6,709 279.6,707 279.6,707 281.8,702.9 281.8,705 281.8,709 281.8,705 284.1,705 284.1,698.9 284.1,700.9 284.1,694.9 286.4,694.9 286.4,700.9 286.4,705 286.4,700.9 288.7,702.9 288.7,698.9 288.7,694.9 291,694.9 291,698.9 291,700.9 291,702.9 293.3,690.9 293.3,690.9 293.3,694.9 293.3,690.9 295.5,698.9 295.5,692.9 295.5,696.9 295.5,688.8 297.8,694.9 297.8,692.9 297.8,694.9 297.8,692.9 300.1,686.8 300.1,682.8 300.1,694.9 300.1,684.8 302.4,682.8 302.4,688.8 302.4,686.8 302.4,682.8 304.7,686.8 304.7,686.8 304.7,680.8 306.9,686.8 306.9,680.8 306.9,678.8 306.9,686.8 309.2,678.8 309.2,688.8 309.2,682.8 309.2,680.8 311.5,676.8 311.5,684.8 311.5,672.7 311.5,676.8 313.8,672.7 313.8,682.8 313.8,678.8 313.8,678.8 316.1,670.7 316.1,672.7 316.1,680.8 316.1,668.7 318.4,676.8 318.4,674.7 318.4,678.8 318.4,672.7 320.6,666.7 320.6,672.7 320.6,676.8 320.6,664.7 322.9,670.7 322.9,672.7 322.9,664.7 325.2,670.7 325.2,664.7 325.2,666.7 325.2,668.7 327.5,664.7 327.5,666.7 327.5,662.7 327.5,660.6 329.8,660.6 329.8,664.7 329.8,658.6 329.8,650.6 332,650.6 332,656.6 332,650.6 332,658.6 334.3,650.6 334.3,656.6 334.3,656.6 334.3,648.6 336.6,650.6 336.6,648.6 336.6,650.6 336.6,648.6 338.9,648.6 338.9,636.5 338.9,646.5 341.2,634.5 341.2,644.5 341.2,642.5 341.2,634.5 343.5,634.5 343.5,640.5 343.5,636.5 343.5,638.5 345.7,634.5 345.7,634.5 345.7,630.4 345.7,626.4 348,634.5 348,624.4 348,620.4 348,628.4 350.3,622.4 350.3,624.4 350.3,626.4 350.3,622.4 352.6,626.4 352.6,618.4 352.6,618.4 352.6,620.4 354.9,622.4 354.9,608.3 354.9,612.3 354.9,618.4 357.1,608.3 357.1,616.3 357.1,612.3 359.4,614.3 359.4,602.2 359.4,606.3 359.4,604.3 361.7,608.3 361.7,608.3 361.7,608.3 361.7,596.2 364,606.3 364,600.2 364,604.3 364,604.3 366.3,602.2 366.3,600.2 366.3,600.2 366.3,590.2 368.6,592.2 368.6,596.2 368.6,596.2 368.6,590.2 370.8,584.1 370.8,592.2 370.8,586.1 370.8,590.2 373.1,576.1 373.1,588.1 373.1,586.1 375.4,580.1 375.4,584.1 375.4,574 375.4,574 377.7,574 377.7,568 377.7,576.1 377.7,578.1 380,576.1 380,574 380,574 380,570 382.2,572 382.2,572 382.2,566 382.2,568 384.5,557.9 384.5,566 384.5,566 384.5,557.9 386.8,553.9 386.8,551.9 386.8,549.9 386.8,555.9 389.1,555.9 389.1,555.9 389.1,543.8 389.1,547.9 391.4,541.8 391.4,541.8 391.4,543.8 393.7,541.8 393.7,547.9 393.7,535.8 393.7,535.8 395.9,541.8 395.9,541.8 395.9,539.8 395.9,537.8 398.2,541.8 398.2,527.7 398.2,537.8 398.2,537.8 400.5,531.7 400.5,535.8 400.5,521.7 400.5,523.7 402.8,525.7 402.8,533.8 402.8,521.7 402.8,529.7 405.1,523.7 405.1,527.7 405.1,519.7 405.1,519.7 407.4,523.7 407.4,523.7 407.4,513.6 409.6,511.6 409.6,521.7 409.6,509.6 409.6,515.6 411.9,517.6 411.9,515.6 411.9,519.7 411.9,513.6 414.2,511.6 414.2,511.6 414.2,515.6 414.2,505.6 416.5,509.6 416.5,511.6 416.5,501.5 416.5,505.6 418.8,511.6 418.8,505.6 418.8,499.5 418.8,501.5 421,505.6 421,497.5 421,501.5 421,505.6 423.3,503.6 423.3,493.5 423.3,501.5 425.6,497.5 425.6,501.5 425.6,499.5 425.6,499.5 427.9,501.5 427.9,499.5 427.9,499.5 427.9,491.5 430.2,495.5 430.2,493.5 430.2,491.5 430.2,491.5 432.5,485.4 432.5,485.4 432.5,483.4 432.5,491.5 434.7,481.4 434.7,481.4 434.7,485.4 434.7,483.4 437,491.5 437,479.4 437,489.5 437,481.4 439.3,489.5 439.3,479.4 439.3,483.4 439.3,483.4 441.6,485.4 441.6,481.4 441.6,483.4 443.9,481.4 443.9,469.3 443.9,479.4 443.9,471.3 446.1,477.4 446.1,469.3 446.1,471.3 446.1,467.3 448.4,469.3 448.4,471.3 448.4,465.3 448.4,469.3 450.7,467.3 450.7,469.3 450.7,473.3 450.7,475.4 453,475.4 453,467.3 453,475.4 453,475.4 455.3,465.3 455.3,471.3 455.3,475.4 455.3,471.3 457.6,475.4 457.6,479.4 457.6,469.3 459.8,479.4 459.8,469.3 459.8,477.4 459.8,475.4 462.1,477.4 462.1,477.4 462.1,473.3 462.1,481.4 464.4,471.3 464.4,479.4 464.4,475.4 464.4,485.4 466.7,485.4 466.7,485.4 466.7,475.4 466.7,485.4 469,479.4 469,481.4 469,489.5 469,485.4 471.2,489.5 471.2,487.4 471.2,491.5 471.2,485.4 473.5,489.5 473.5,487.4 473.5,489.5 473.5,489.5 475.8,491.5 475.8,493.5 475.8,483.4 478.1,491.5 478.1,497.5 478.1,495.5 478.1,489.5 480.4,493.5 480.4,495.5 480.4,495.5 480.4,493.5 482.7,489.5 482.7,503.6 482.7,491.5 482.7,499.5 484.9,499.5 484.9,501.5 484.9,503.6 484.9,503.6 487.2,499.5 487.2,505.6 487.2,501.5 487.2,511.6 489.5,511.6 489.5,511.6 489.5,511.6 489.5,513.6 491.8,511.6 491.8,509.6 491.8,507.6 494.1,505.6 494.1,513.6 494.1,509.6 494.1,517.6 496.4,515.6 496.4,513.6 496.4,517.6 496.4,523.7 498.6,517.6 498.6,519.7 498.6,517.6 498.6,521.7 500.9,527.7 500.9,533.8 500.9,535.8 500.9,535.8 503.2,529.7 503.2,537.8 503.2,531.7 503.2,539.8 505.5,541.8 505.5,531.7 505.5,543.8 505.5,535.8 507.8,539.8 507.8,545.8 507.8,547.9 507.8,543.8 510,549.9 510,545.8 510,545.8 512.3,553.9 512.3,553.9 512.3,547.9 512.3,555.9 514.6,549.9 514.6,549.9 514.6,549.9 514.6,549.9 516.9,559.9 516.9,551.9 516.9,566 516.9,566 519.2,562 519.2,570 519.2,566 519.2,570 521.5,566 521.5,572 521.5,574 521.5,572 523.7,566 523.7,580.1 523.7,582.1 523.7,584.1 526,574 526,580.1 526,590.2 528.3,590.2 528.3,584.1 528.3,594.2 528.3,592.2 530.6,596.2 530.6,596.2 530.6,596.2 530.6,596.2 532.9,592.2 532.9,600.2 532.9,592.2 532.9,602.2 535.1,604.3 535.1,606.3 535.1,606.3 535.1,598.2 537.4,606.3 537.4,612.3 537.4,612.3 537.4,608.3 539.7,610.3 539.7,612.3 539.7,610.3 539.7,618.4 542,618.4 542,618.4 542,618.4 542,612.3 544.3,612.3 544.3,618.4 544.3,614.3 546.6,616.3 546.6,622.4 546.6,620.4 546.6,618.4 548.8,616.3 548.8,620.4 548.8,626.4 548.8,630.4 551.1,630.4 551.1,628.4 551.1,632.4 551.1,626.4 553.4,634.5 553.4,632.4 553.4,634.5 553.4,624.4 555.7,636.5 555.7,632.4 555.7,628.4 555.7,634.5 558,634.5 558,634.5 558,642.5 558,644.5 560.2,646.5 560.2,648.6 560.2,648.6 562.5,638.5 562.5,638.5 562.5,642.5 562.5,652.6 564.8,654.6 564.8,646.5 564.8,650.6 564.8,650.6 567.1,654.6 567.1,652.6 567.1,652.6 567.1,656.6 569.4,658.6 569.4,660.6 569.4,664.7 569.4,662.7 571.7,662.7 571.7,666.7 571.7,660.6 571.7,660.6 573.9,666.7 573.9,662.7 573.9,666.7 573.9,670.7 576.2,672.7 576.2,672.7 576.2,664.7 576.2,664.7 578.5,664.7 578.5,668.7 578.5,670.7 580.8,678.8 580.8,678.8 580.8,670.7 580.8,680.8 583.1,680.8 583.1,670.7 583.1,678.8 583.1,682.8 585.3,682.8 585.3,682.8 585.3,680.8 585.3,686.8 587.6,682.8 587.6,684.8 587.6,688.8 587.6,684.8 589.9,682.8 589.9,688.8 589.9,688.8 589.9,688.8 592.2,680.8 592.2,682.8 592.2,690.9 592.2,686.8 594.5,684.8 594.5,688.8 594.5,688.8 596.8,696.9 596.8,688.8 596.8,698.9 596.8,686.8 599,698.9 599,698.9 599,696.9 599,698.9 601.3,700.9 601.3,700.9 601.3,690.9 601.3,702.9 603.6,705 603.6,702.9 603.6,700.9 603.6,705 605.9,698.9 605.9,702.9 605.9,698.9 605.9,707 608.2,709 608.2,705 608.2,696.9 608.2,711 610.5,702.9 610.5,707 610.5,705 610.5,709 612.7,702.9 612.7,709 612.7,711 615,711 615,709 615,713 615,713 617.3,705 617.3,715 617.3,711 617.3,717 619.6,717 619.6,711 619.6,717 619.6,715 621.9,719 621.9,711 621.9,713 621.9,721.1 624.1,719 624.1,721.1 624.1,715 624.1,717 626.4,721.1 626.4,719 626.4,717 626.4,723.1 628.7,723.1 628.7,723.1 628.7,721.1 631,727.1 631,725.1 631,727.1 631,727.1 633.3,727.1 633.3,727.1 633.3,723.1 633.3,729.1 635.6,723.1 635.6,723.1 635.6,721.1 635.6,731.1 637.8,733.1 637.8,723.1 637.8,733.1 637.8,733.1 640.1,733.1 640.1,729.1 640.1,727.1 640.1,735.2 642.4,733.1 642.4,733.1 642.4,727.1 642.4,731.1 644.7,733.1 644.7,735.2 644.7,735.2 644.7,737.2 647,733.1 647,739.2 647,735.2 649.2,733.1 649.2,737.2 649.2,737.2 649.2,735.2 651.5,741.2 651.5,741.2 651.5,741.2 651.5,741.2 653.8,739.2 653.8,741.2 653.8,741.2 653.8,737.2 656.1,737.2 656.1,737.2 656.1,739.2 656.1,745.2 658.4,743.2 658.4,743.2 658.4,741.2 658.4,743.2 660.7,741.2 660.7,739.2 660.7,743.2 660.7,745.2 662.9,739.2 662.9,739.2 662.9,745.2 665.2,741.2 665.2,747.2 665.2,743.2 665.2,743.2 667.5,739.2 667.5,743.2 667.5,749.3 667.5,745.2 669.8,741.2 669.8,749.3 669.8,745.2 669.8,747.2 672.1,747.2 672.1,741.2 672.1,743.2 672.1,749.3 674.3,745.2 674.3,749.3 674.3,747.2 674.3,751.3 676.6,745.2 676.6,751.3 676.6,751.3 676.6,751.3 678.9,745.2 678.9,747.2 678.9,747.2 678.9,743.2 681.2,747.2 681.2,753.3 681.2,753.3 683.5,753.3 683.5,753.3 683.5,753.3 683.5,751.3 685.8,751.3 685.8,749.3 685.8,751.3 685.8,747.2 688,751.3 688,743.2 688,747.2 688,753.3 690.3,751.3 690.3,753.3 690.3,747.2 690.3,753.3 692.6,747.2 692.6,749.3 692.6,747.2 692.6,753.3 694.9,745.2 694.9,755.3 694.9,749.3 694.9,755.3 697.2,747.2 697.2,753.3 697.2,751.3 699.4,753.3 699.4,751.3 699.4,753.3 699.4,755.3 701.7,755.3 701.7,747.2 701.7,753.3 701.7,753.3 704,749.3 704,751.3 704,749.3 704,749.3 706.3,749.3 706.3,749.3 706.3,751.3 706.3,751.3 708.6,749.3 708.6,757.3 708.6,755.3 708.6,753.3 710.9,751.3 710.9,757.3 710.9,753.3 710.9,755.3 713.1,757.3 713.1,757.3 713.1,749.3 715.4,757.3 715.4,757.3 715.4,755.3 715.4,757.3 717.7,757.3 717.7,749.3 717.7,755.3 717.7,755.3 720,755.3 720,751.3 720,753.3 720,753.3 722.3,757.3 722.3,755.3 722.3,759.3 722.3,759.3 724.5,755.3 724.5,751.3 724.5,757.3 724.5,759.3 726.8,753.3 726.8,757.3 726.8,757.3 726.8,751.3 729.1,757.3 729.1,751.3 729.1,751.3 729.1,759.3 731.4,755.3 731.4,757.3 731.4,761.3 733.7,755.3 733.7,759.3 733.7,757.3 733.7,761.3 736,761.3 736,755.3 736,757.3 736,761.3 738.2,757.3 738.2,757.3 738.2,757.3 738.2,757.3 740.5,761.3 740.5,753.3 740.5,761.3 740.5,761.3 742.8,757.3 742.8,755.3 742.8,755.3 742.8,759.3 745.1,761.3 745.1,757.3 745.1,761.3 745.1,757.3 747.4,763.4 747.4,763.4 747.4,759.3 749.7,759.3 749.7,761.3 749.7,761.3 749.7,755.3 751.9,759.3 751.9,761.3 751.9,763.4 751.9,757.3 754.2,755.3 754.2,757.3 754.2,763.4 754.2,763.4 756.5,759.3 756.5,763.4 756.5,757.3 756.5,763.4 758.8,761.3 758.8,763.4 758.8,763.4 758.8,763.4 761.1,763.4 761.1,759.3 761.1,761.3 761.1,757.3 763.3,761.3 763.3,761.3 763.3,759.3 763.3,761.3 765.6,763.4 765.6,759.3 765.6,757.3 767.9,757.3 767.9,763.4 767.9,761.3 767.9,761.3 770.2,757.3 770.2,763.4 770.2,763.4 770.2,759.3 772.5,757.3 772.5,759.3 772.5,765.4 772.5,763.4 774.8,763.4 774.8,759.3 774.8,763.4 774.8,765.4 777,765.4 777,757.3 777,757.3 777,761.3 779.3,761.3 779.3,761.3 779.3,763.4 779.3,763.4 781.6,763.4 781.6,763.4 781.6,761.3 783.9,763.4 783.9,763.4 783.9,765.4 783.9,759.3 786.2,761.3 786.2,759.3 786.2,765.4 786.2,763.4 788.4,761.3 788.4,761.3 788.4,763.4 788.4,763.4 790.7,757.3 790.7,763.4 790.7,757.3 790.7,763.4 793,765.4 793,765.4 793,761.3 793,763.4 795.3,761.3 795.3,761.3 795.3,763.4 795.3,761.3 797.6,765.4 797.6,765.4 797.6,761.3 797.6,767.4 799.9,767.4 799.9,767.4 799.9,765.4 802.1,767.4 802.1,767.4 802.1,761.3 802.1,767.4 804.4,765.4 804.4,763.4 804.4,759.3 804.4,765.4 806.7,767.4 806.7,761.3 806.7,767.4 806.7,761.3 809,767.4 809,767.4 809,761.3 809,763.4 811.3,767.4 811.3,767.4 811.3,761.3 811.3,767.4 813.5,761.3 813.5,767.4 813.5,765.4 813.5,767.4 815.8,765.4 815.8,767.4 815.8,767.4 818.1,765.4 818.1,763.4 818.1,765.4 818.1,765.4 820.4,765.4 820.4,765.4 820.4,767.4 820.4,765.4 822.7,767.4 822.7,767.4 822.7,767.4 822.7,769.4 825,767.4 825,767.4 825,769.4 825,759.3 827.2,761.3 827.2,763.4 827.2,767.4 827.2,765.4 829.5,767.4 829.5,759.3 829.5,763.4 829.5,767.4 831.8,765.4 831.8,767.4 831.8,761.3 831.8,765.4 834.1,769.4 834.1,769.4 834.1,763.4 836.4,767.4 836.4,767.4 836.4,765.4 836.4,767.4 838.6,763.4 838.6,763.4 838.6,769.4 838.6,765.4 840.9,761.3 840.9,765.4 840.9,769.4 840.9,767.4 843.2,763.4 843.2,763.4 843.2,769.4 843.2,767.4 845.5,767.4 845.5,763.4 845.5,769.4 845.5,769.4 847.8,761.3 847.8,769.4 847.8,769.4 847.8,763.4 850.1,763.4 850.1,765.4 850.1,769.4 852.3,769.4 852.3,769.4 852.3,769.4 852.3,769.4 854.6,767.4 854.6,767.4 854.6,769.4 854.6,769.4 856.9,769.4 856.9,769.4 856.9,769.4 856.9,769.4 859.2,769.4 859.2,769.4 859.2,769.4 859.2,771.4 861.5,767.4 861.5,771.4 861.5,765.4 861.5,763.4 863.8,769.4 863.8,769.4 863.8,765.4 863.8,767.4 866,771.4 866,763.4 866,771.4 866,767.4 868.3,769.4 868.3,765.4 868.3,771.4 870.6,767.4 870.6,767.4 870.6,769.4 870.6,767.4 872.9,769.4 872.9,769.4 872.9,767.4 872.9,771.4 875.2,771.4 875.2,767.4 875.2,767.4 875.2,767.4 877.4,767.4 877.4,767.4 877.4,769.4 877.4,763.4 879.7,769.4 879.7,769.4 879.7,769.4 879.7,771.4 882,763.4 882,765.4 882,763.4 882,769.4 884.3,765.4 884.3,765.4 884.3,771.4 886.6,767.4 886.6,771.4 886.6,765.4 886.6,769.4 888.9,765.4 888.9,767.4 888.9,767.4 888.9,769.4 891.1,765.4 891.1,771.4 891.1,771.4 891.1,769.4 893.4,767.4 893.4,765.4 893.4,771.4 893.4,763.4 895.7,771.4 895.7,763.4 895.7,767.4 895.7,763.4 898,771.4 898,767.4 898,769.4 898,771.4 900.3,765.4 900.3,769.4 900.3,765.4 900.3,765.4 902.5,771.4 902.5,769.4 902.5,769.4 904.8,765.4 904.8,765.4 904.8,765.4 904.8,771.4 907.1,767.4 907.1,771.4 907.1,763.4 907.1,763.4 909.4,769.4 909.4,769.4 909.4,771.4 909.4,767.4 911.7,767.4 911.7,765.4 911.7,771.4 911.7,767.4 914,767.4 914,765.4 914,771.4 914,769.4 916.2,769.4 916.2,767.4 916.2,767.4 916.2,769.4 918.5,763.4 918.5,767.4 918.5,769.4 920.8,763.4 920.8,769.4 920.8,765.4 920.8,765.4 923.1,771.4 923.1,769.4 923.1,771.4 923.1,763.4 925.4,769.4 925.4,765.4 925.4,767.4 925.4,765.4 927.6,771.4 927.6,769.4 927.6,765.4 927.6,767.4 929.9,763.4 929.9,765.4 929.9,767.4 929.9,767.4 932.2,771.4 932.2,771.4 932.2,767.4 932.2,767.4 934.5,765.4 934.5,771.4 934.5,771.4 934.5,763.4 936.8,769.4 936.8,769.4 936.8,767.4 939.1,771.4 939.1,771.4 939.1,763.4 939.1,771.4 941.3,763.4 941.3,763.4 941.3,771.4 941.3,769.4 943.6,769.4 943.6,767.4 943.6,763.4 943.6,769.4 945.9,771.4 945.9,763.4 945.9,765.4 945.9,769.4 948.2,765.4 948.2,769.4 948.2,771.4 948.2,769.4 950.5,765.4 950.5,769.4 950.5,767.4 950.5,771.4 952.8,765.4 952.8,771.4 952.8,769.4 955,765.4 955,771.4 955,769.4 955,765.4 957.3,767.4 957.3,771.4 957.3,771.4 957.3,765.4 959.6,771.4 959.6,771.4 959.6,771.4 959.6,771.4 961.9,767.4 961.9,769.4 961.9,771.4 961.9,767.4 964.2,767.4 964.2,767.4 964.2,767.4 964.2,767.4 966.4,771.4 966.4,771.4 966.4,769.4 966.4,771.4 968.7,769.4 968.7,765.4 968.7,771.4 971,767.4 971,767.4 971,765.4 971,769.4 973.3,767.4 973.3,765.4 973.3,767.4 973.3,771.4 975.6,763.4 975.6,769.4 975.6,771.4 975.6,765.4 977.9,767.4 977.9,769.4 977.9,765.4 977.9,769.4 980.1,767.4 980.1,765.4 980.1,771.4 980.1,765.4 982.4,763.4 982.4,765.4 982.4,763.4 982.4,769.4 984.7,771.4 984.7,769.4 984.7,771.4 984.7,767.4 987,771.4 987,765.4 987,763.4 989.3,769.4"/>
<path class="d" stroke="#00ffff" d="M99.3 765.4h0M99.3 763.4h0M99.3 763.4h0M101.6 771.4h0M101.6 769.4h0M101.6 769.4h0M103.8 769.4h0M103.8 765.4h0M103.8 769.4h0M103.8 771.4h0M106.1 767.4h0M106.1 765.4h0M106.1 767.4h0M106.1 763.4h0M108.4 763.4h0M108.4 765.4h0M108.4 765.4h0M108.4 771.4h0M110.7 767.4h0M110.7 771.4h0M110.7 771.4h0M110.7 767.4h0M113 767.4h0M113 765.4h0M113 765.4h0M113 771.4h0M115.3 769.4h0M115.3 765.4h0M115.3 771.4h0M115.3 765.4h0M117.5 771.4h0M117.5 769.4h0M117.5 771.4h0M119.8 771.4h0M119.8 765.4h0M119.8 763.4h0M119.8 769.4h0M122.1 771.4h0M122.1 769.4h0M122.1 765.4h0M122.1 771.4h0M124.4 765.4h0M124.4 769.4h0M124.4 771.4h0M124.4 765.4h0M126.7 771.4h0M126.7 763.4h0M126.7 769.4h0M126.7 763.4h0M128.9 767.4h0M128.9 765.4h0M128.9 769.4h0M128.9 763.4h0M131.2 767.4h0M131.2 769.4h0M131.2 771.4h0M131.2 771.4h0M133.5 765.4h0M133.5 763.4h0M133.5 771.4h0M133.5 769.4h0M135.8 769.4h0M135.8 771.4h0M135.8 771.4h0M138.1 765.4h0M138.1 765.4h0M138.1 765.4h0M138.1 771.4h0M140.4 765.4h0M140.4 763.4h0M140.4 765.4h0M140.4 769.4h0M142.6 769.4h0M142.6 769.4h0M142.6 763.4h0M142.6 769.4h0M144.9 769.4h0M144.9 771.4h0M144.9 769.4h0M144.9 771.4h0M147.2 769.4h0M147.2 769.4h0M147.2 771.4h0M147.2 771.4h0M149.5 767.4h0M149.5 771.4h0M149.5 767.4h0M149.5 767.4h0M151.8 765.4h0M151.8 771.4h0M151.8 763.4h0M154.1 765.4h0M154.1 769.4h0M154.1 769.4h0M154.1 771.4h0M156.3 767.4h0M156.3 771.4h0M156.3 769.4h0M156.3 771.4h0M158.6 767.4h0M158.6 767.4h0M158.6 767.4h0M158.6 765.4h0M160.9 767.4h0M160.9 769.4h0M160.9 771.4h0M160.9 769.4h0M163.2 769.4h0M163.2 769.4h0M163.2 771.4h0M163.2 771.4h0M165.5 765.4h0M165.5 763.4h0M165.5 767.4h0M165.5 767.4h0M167.7 771.4h0M167.7 769.4h0M167.7 763.4h0M170 763.4h0M170 771.4h0M170 765.4h0M170 771.4h0M172.3 763.4h0M172.3 771.4h0M172.3 765.4h0M172.3 763.4h0M174.6 771.4h0M174.6 771.4h0M174.6 769.4h0M174.6 769.4h0M176.9 763.4h0M176.9 771.4h0M176.9 771.4h0M176.9 765.4h0M179.2 767.4h0M179.2 769.4h0M179.2 767.4h0M179.2 765.4h0M181.4 771.4h0M181.4 771.4h0M181.4 763.4h0M181.4 769.4h0M183.7 771.4h0M183.7 765.4h0M183.7 767.4h0M183.7 771.4h0M186 769.4h0M186 767.4h0M186 765.4h0M188.3 767.4h0M188.3 767.4h0M188.3 765.4h0M188.3 769.4h0M190.6 765.4h0M190.6 767.4h0M190.6 771.4h0M190.6 767.4h0M192.8 765.4h0M192.8 763.4h0M192.8 769.4h0M192.8 771.4h0M195.1 767.4h0M195.1 771.4h0M195.1 767.4h0M195.1 761.3h0M197.4 751.3h0M197.4 739.2h0M199.7 731.1h0M199.7 733.1h0M199.7 731.1h0M202 717h0M204.3 711h0M204.3 694.9h0M206.5 682.8h0M206.5 654.6h0M208.8 642.5h0M208.8 608.3h0M211.1 545.8h0M211.1 529.7h0M213.4 517.6h0M213.4 511.6h0M215.7 493.5h0M215.7 475.4h0M217.9 463.3h0M217.9 451.2h0M220.2 451.2h0M220.2 441.1h0M222.5 435.1h0M222.5 439.1h0M222.5 431h0M222.5 429h0M224.8 433.1h0M224.8 423h0M224.8 419h0M224.8 419h0M227.1 431h0M227.1 431h0M227.1 429h0M227.1 425h0M229.4 435.1h0M229.4 435.1h0M229.4 431h0M229.4 439.1h0M231.6 445.1h0M231.6 445.1h0M233.9 469.3h0M233.9 485.4h0M236.2 505.6h0M238.5 513.6h0M238.5 531.7h0M240.8 551.9h0M240.8 562h0M243 578.1h0M243 578.1h0M245.3 592.2h0M245.3 594.2h0M247.6 614.3h0M247.6 632.4h0M249.9 640.5h0M249.9 644.5h0M252.2 656.6h0M252.2 666.7h0M254.5 676.8h0M254.5 678.8h0M254.5 674.7h0M256.7 682.8h0M256.7 678.8h0M256.7 684.8h0M256.7 688.8h0M259 684.8h0M259 688.8h0M259 690.9h0M259 698.9h0M261.3 696.9h0M261.3 696.9h0M261.3 698.9h0M261.3 700.9h0M263.6 705h0M263.6 700.9h0M263.6 698.9h0M263.6 702.9h0M265.9 707h0M265.9 709h0M265.9 707h0M265.9 709h0M268.1 709h0M268.1 709h0M268.1 709h0M268.1 707h0M270.4 702.9h0M270.4 711h0M270.4 707h0M272.7 711h0M272.7 711h0M272.7 702.9h0M272.7 705h0M275 705h0M275 702.9h0M275 700.9h0M275 700.9h0M277.3 702.9h0M277.3 700.9h0M277.3 709h0M277.3 707h0M279.6 709h0M279.6 709h0M279.6 707h0M279.6 707h0M281.8 702.9h0M281.8 705h0M281.8 709h0M281.8 705h0M284.1 705h0M284.1 698.9h0M284.1 700.9h0M284.1 694.9h0M286.4 694.9h0M286.4 700.9h0M286.4 705h0M286.4 700.9h0M288.7 702.9h0M288.7 698.9h0M288.7 694.9h0M291 694.9h0M291 698.9h0M291 700.9h0M291 702.9h0M293.3 690.9h0M293.3 690.9h0M293.3 694.9h0M293.3 690.9h0M295.5 698.9h0M295.5 692.9h0M295.5 696.9h0M295.5 688.8h0M297.8 694.9h0M297.8 692.9h0M297.8 694.9h0M297.8 692.9h0M300.1 686.8h0M300.1 682.8h0M300.1 694.9h0M300.1 684.8h0M302.4 682.8h0M302.4 688.8h0M302.4 686.8h0M302.4 682.8h0M304.7 686.8h0M304.7 686.8h0M304.7 680.8h0M306.9 686.8h0M306.9 680.8h0M306.9 678.8h0M306.9 686.8h0M309.2 678.8h0M309.2 688.8h0M309.2 682.8h0M309.2 680.8h0M311.5 676.8h0M311.5 684.8h0M311.5 672.7h0M311.5 676.8h0M313.8 672.7h0M313.8 682.8h0M313.8 678.8h0M313.8 678.8h0M316.1 670.7h0M316.1 672.7h0M316.1 680.8h0M316.1 668.7h0M318.4 676.8h0M318.4 674.7h0M318.4 678.8h0M318.4 672.7h0M320.6 666.7h0M320.6 672.7h0M320.6 676.8h0M320.6 664.7h0M322.9 670.7h0M322.9 672.7h0M322.9 664.7h0M325.2 670.7h0M325.2 664.7h0M325.2 666.7h0M325.2 668.7h0M327.5 664.7h0M327.5 666.7h0M327.5 662.7h0M327.5 660.6h0M329.8 660.6h0M329.8 664.7h0M329.8 658.6h0M329.8 650.6h0M332 650.6h0M332 656.6h0M332 650.6h0M332 658.6h0M334.3 650.6h0M334.3 656.6h0M334.3 656.6h0M334.3 648.6h0M336.6 650.6h0M336.6 648.6h0M336.6 650.6h0M336.6 648.6h0M338.9 648.6h0M338.9 636.5h0M338.9 646.5h0M341.2 634.5h0M341.2 644.5h0M341.2 642.5h0M341.2 634.5h0M343.5 634.5h0M343.5 640.5h0M343.5 636.5h0M343.5 638.5h0M345.7 634.5h0M345.7 634.5h0M345.7 630.4h0M345.7 626.4h0M348 634.5h0M348 624.4h0M348 620.4h0M348 628.4h0M350.3 622.4h0M350.3 624.4h0M350.3 626.4h0M350.3 622.4h0M352.6 626.4h0M352.6 618.4h0M352.6 618.4h0M352.6 620.4h0M354.9 622.4h0M354.9 608.3h0M354.9 612.3h0M354.9 618.4h0M357.1 608.3h0M357.1 616.3h0M357.1 612.3h0M359.4 614.3h0M359.4 602.2h0M359.4 606.3h0M359.4 604.3h0M361.7 608.3h0M361.7 608.3h0M361.7 608.3h0M361.7 596.2h0M364 606.3h0M364 600.2h0M364 604.3h0M364 604.3h0M366.3 602.2h0M366.3 600.2h0M366.3 600.2h0M366.3 590.2h0M368.6 592.2h0M368.6 596.2h0M368.6 596.2h0M368.6 590.2h0M370.8 584.1h0M370.8 592.2h0M370.8 586.1h0M370.8 590.2h0M373.1 576.1h0M373.1 588.1h0M373.1 586.1h0M375.4 580.1h0M375.4 584.1h0M375.4 574h0M375.4 574h0M377.7 574h0M377.7 568h0M377.7 576.1h0M377.7 578.1h0M380 576.1h0M380 574h0M380 574h0M380 570h0M382.2 572h0M382.2 572h0M382.2 566h0M382.2 568h0M384.5 557.9h0M384.5 566h0M384.5 566h0M384.5 557.9h0M386.8 553.9h0M386.8 551.9h0M386.8 549.9h0M386.8 555.9h0M389.1 555.9h0M389.1 555.9h0M389.1 543.8h0M389.1 547.9h0M391.4 541.8h0M391.4 541.8h0M391.4 543.8h0M393.7 541.8h0M393.7 547.9h0M393.7 535.8h0M393.7 535.8h0M395.9 541.8h0M395.9 541.8h0M395.9 539.8h0M395.9 537.8h0M398.2 541.8h0M398.2 527.7h0M398.2 537.8h0M398.2 537.8h0M400.5 531.7h0M400.5 535.8h0M400.5 521.7h0M400.5 523.7h0M402.8 525.7h0M402.8 533.8h0M402.8 521.7h0M402.8 529.7h0M405.1 523.7h0M405.1 527.7h0M405.1 519.7h0M405.1 519.7h0M407.4 523.7h0M407.4 523.7h0M407.4 513.6h0M409.6 511.6h0M409.6 521.7h0M409.6 509.6h0M409.6 515.6h0M411.9 517.6h0M411.9 515.6h0M411.9 519.7h0M411.9 513.6h0M414.2 511.6h0M414.2 511.6h0M414.2 515.6h0M414.2 505.6h0M416.5 509.6h0M416.5 511.6h0M416.5 501.5h0M416.5 505.6h0M418.8 511.6h0M418.8 505.6h0M418.8 499.5h0M418.8 501.5h0M421 505.6h0M421 497.5h0M421 501.5h0M421 505.6h0M423.3 503.6h0M423.3 493.5h0M423.3 501.5h0M425.6 497.5h0M425.6 501.5h0M425.6 499.5h0M425.6 499.5h0M427.9 501.5h0M427.9 499.5h0M427.9 499.5h0M427.9 491.5h0M430.2 495.5h0M430.2 493.5h0M430.2 491.5h0M430.2 491.5h0M432.5 485.4h0M432.5 485.4h0M432.5 483.4h0M432.5 491.5h0M434.7 481.4h0M434.7 481.4h0M434.7 485.4h0M434.7 483.4h0M437 491.5h0M437 479.4h0M437 489.5h0M437 481.4h0M439.3 489.5h0M439.3 479.4h0M439.3 483.4h0M439.3 483.4h0M441.6 485.4h0M441.6 481.4h0M441.6 483.4h0M443.9 481.4h0M443.9 469.3h0M443.9 479.4h0M443.9 471.3h0M446.1 477.4h0M446.1 469.3h0M446.1 471.3h0M446.1 467.3h0M448.4 469.3h0M448.4 471.3h0M448.4 465.3h0M448.4 469.3h0M450.7 467.3h0M450.7 469.3h0M450.7 473.3h0M450.7 475.4h0M453 475.4h0M453 467.3h0M453 475.4h0M453 475.4h0M455.3 465.3h0M455.3 471.3h0M455.3 475.4h0M455.3 471.3h0M457.6 475.4h0M457.6 479.4h0M457.6 469.3h0M459.8 479.4h0M459.8 469.3h0M459.8 477.4h0M459.8 475.4h0M462.1 477.4h0M462.1 477.4h0M462.1 473.3h0M462.1 481.4h0M464.4 471.3h0M464.4 479.4h0M464.4 475.4h0M464.4 485.4h0M466.7 485.4h0M466.7 485.4h0M466.7 475.4h0M466.7 485.4h0M469 479.4h0M469 481.4h0M469 489.5h0M469 485.4h0M471.2 489.5h0M471.2 487.4h0M471.2 491.5h0M471.2 485.4h0M473.5 489.5h0M473.5 487.4h0M473.5 489.5h0M473.5 489.5h0M475.8 491.5h0M475.8 493.5h0M475.8 483.4h0M478.1 491.5h0M478.1 497.5h0M478.1 495.5h0M478.1 489.5h0M480.4 493.5h0M480.4 495.5h0M480.4 495.5h0M480.4 493.5h0M482.7 489.5h0M482.7 503.6h0M482.7 491.5h0M482.7 499.5h0M484.9 499.5h0M484.9 501.5h0M484.9 503.6h0M484.9 503.6h0M487.2 499.5h0M487.2 505.6h0M487.2 501.5h0M487.2 511.6h0M489.5 511.6h0M489.5 511.6h0M489.5 511.6h0M489.5 513.6h0M491.8 511.6h0M491.8 509.6h0M491.8 507.6h0M494.1 505.6h0M494.1 513.6h0M494.1 509.6h0M494.1 517.6h0M496.4 515.6h0M496.4 513.6h0M496.4 517.6h0M496.4 523.7h0M498.6 517.6h0M498.6 519.7h0M498.6 517.6h0M498.6 521.7h0M500.9 527.7h0M500.9 533.8h0M500.9 535.8h0M500.9 535.8h0M503.2 529.7h0M503.2 537.8h0M503.2 531.7h0M503.2 539.8h0M505.5 541.8h0M505.5 531.7h0M505.5 543.8h0M505.5 535.8h0M507.8 539.8h0M507.8 545.8h0M507.8 547.9h0M507.8 543.8h0M510 549.9h0M510 545.8h0M510 545.8h0M512.3 553.9h0M512.3 553.9h0M512.3 547.9h0M512.3 555.9h0M514.6 549.9h0M514.6 549.9h0M514.6 549.9h0M514.6 549.9h0M516.9 559.9h0M516.9 551.9h0M516.9 566h0M516.9 566h0M519.2 562h0M519.2 570h0M519.2 566h0M519.2 570h0M521.5 566h0M521.5 572h0M521.5 574h0M521.5 572h0M523.7 566h0M523.7 580.1h0M523.7 582.1h0M523.7 584.1h0M526 574h0M526 580.1h0M526 590.2h0M528.3 590.2h0M528.3 584.1h0M528.3 594.2h0M528.3 592.2h0M530.6 596.2h0M530.6 596.2h0M530.6 596.2h0M530.6 596.2h0M532.9 592.2h0M532.9 600.2h0M532.9 592.2h0M532.9 602.2h0M535.1 604.3h0M535.1 606.3h0M535.1 606.3h0M535.1 598.2h0M537.4 606.3h0M537.4 612.3h0M537.4 612.3h0M537.4 608.3h0M539.7 610.3h0M539.7 612.3h0M539.7 610.3h0M539.7 618.4h0M542 618.4h0M542 618.4h0M542 618.4h0M542 612.3h0M544.3 612.3h0M544.3 618.4h0M544.3 614.3h0M546.6 616.3h0M546.6 622.4h0M546.6 620.4h0M546.6 618.4h0M548.8 616.3h0M548.8 620.4h0M548.8 626.4h0M548.8 630.4h0M551.1 630.4h0M551.1 628.4h0M551.1 632.4h0M551.1 626.4h0M553.4 634.5h0M553.4 632.4h0M553.4 634.5h0M553.4 624.4h0M555.7 636.5h0M555.7 632.4h0M555.7 628.4h0M555.7 634.5h0M558 634.5h0M558 634.5h0M558 642.5h0M558 644.5h0M560.2 646.5h0M560.2 648.6h0M560.2 648.6h0M562.5 638.5h0M562.5 638.5h0M562.5 642.5h0M562.5 652.6h0M564.8 654.6h0M564.8 646.5h0M564.8 650.6h0M564.8 650.6h0M567.1 654.6h0M567.1 652.6h0M567.1 652.6h0M567.1 656.6h0M569.4 658.6h0M569.4 660.6h0M569.4 664.7h0M569.4 662.7h0M571.7 662.7h0M571.7 666.7h0M571.7 660.6h0M571.7 660.6h0M573.9 666.7h0M573.9 662.7h0M573.9 666.7h0M573.9 670.7h0M576.2 672.7h0M576.2 672.7h0M576.2 664.7h0M576.2 664.7h0M578.5 664.7h0M578.5 668.7h0M578.5 670.7h0M580.8 678.8h0M580.8 678.8h0M580.8 670.7h0M580.8 680.8h0M583.1 680.8h0M583.1 670.7h0M583.1 678.8h0M583.1 682.8h0M585.3 682.8h0M585.3 682.8h0M585.3 680.8h0M585.3 686.8h0M587.6 682.8h0M587.6 684.8h0M587.6 688.8h0M587.6 684.8h0M589.9 682.8h0M589.9 688.8h0M589.9 688.8h0M589.9 688.8h0M592.2 680.8h0M592.2 682.8h0M592.2 690.9h0M592.2 686.8h0M594.5 684.8h0M594.5 688.8h0M594.5 688.8h0M596.8 696.9h0M596.8 688.8h0M596.8 698.9h0M596.8 686.8h0M599 698.9h0M599 698.9h0M599 696.9h0M599 698.9h0M601.3 700.9h0M601.3 700.9h0M601.3 690.9h0M601.3 702.9h0M603.6 705h0M603.6 702.9h0M603.6 700.9h0M603.6 705h0M605.9 698.9h0M605.9 702.9h0M605.9 698.9h0M605.9 707h0M608.2 709h0M608.2 705h0M608.2 696.9h0M608.2 711h0M610.5 702.9h0M610.5 707h0M610.5 705h0M610.5 709h0M612.7 702.9h0M612.7 709h0M612.7 711h0M615 711h0M615 709h0M615 713h0M615 713h0M617.3 705h0M617.3 715h0M617.3 711h0M617.3 717h0M619.6 717h0M619.6 711h0M619.6 717h0M619.6 715h0M621.9 719h0M621.9 711h0M621.9 713h0M621.9 721.1h0M624.1 719h0M624.1 721.1h0M624.1 715h0M624.1 717h0M626.4 721.1h0M626.4 719h0M626.4 717h0M626.4 723.1h0M628.7 723.1h0M628.7 723.1h0M628.7 721.1h0M631 727.1h0M631 725.1h0M631 727.1h0M631 727.1h0M633.3 727.1h0M633.3 727.1h0M633.3 723.1h0M633.3 729.1h0M635.6 723.1h0M635.6 723.1h0M635.6 721.1h0M635.6 731.1h0M637.8 733.1h0M637.8 723.1h0M637.8 733.1h0M637.8 733.1h0M640.1 733.1h0M640.1 729.1h0M640.1 727.1h0M640.1 735.2h0M642.4 733.1h0M642.4 733.1h0M642.4 727.1h0M642.4 731.1h0M644.7 733.1h0M644.7 735.2h0M644.7 735.2h0M644.7 737.2h0M647 733.1h0M647 739.2h0M647 735.2h0M649.2 733.1h0M649.2 737.2h0M649.2 737.2h0M649.2 735.2h0M651.5 741.2h0M651.5 741.2h0M651.5 741.2h0M651.5 741.2h0M653.8 739.2h0M653.8 741.2h0M653.8 741.2h0M653.8 737.2h0M656.1 737.2h0M656.1 737.2h0M656.1 739.2h0M656.1 745.2h0M658.4 743.2h0M658.4 743.2h0M658.4 741.2h0M658.4 743.2h0M660.7 741.2h0M660.7 739.2h0M660.7 743.2h0M660.7 745.2h0M662.9 739.2h0M662.9 739.2h0M662.9 745.2h0M665.2 741.2h0M665.2 747.2h0M665.2 743.2h0M665.2 743.2h0M667.5 739.2h0M667.5 743.2h0M667.5 749.3h0M667.5 745.2h0M669.8 741.2h0M669.8 749.3h0M669.8 745.2h0M669.8 747.2h0M672.1 747.2h0M672.1 741.2h0M672.1 743.2h0M672.1 749.3h0M674.3 745.2h0M674.3 749.3h0M674.3 747.2h0M674.3 751.3h0M676.6 745.2h0M676.6 751.3h0M676.6 751.3h0M676.6 751.3h0M678.9 745.2h0M678.9 747.2h0M678.9 747.2h0M678.9 743.2h0M681.2 747.2h0M681.2 753.3h0M681.2 753.3h0M683.5 753.3h0M683.5 753.3h0M683.5 753.3h0M683.5 751.3h0M685.8 751.3h0M685.8 749.3h0M685.8 751.3h0M685.8 747.2h0M688 751.3h0M688 743.2h0M688 747.2h0M688 753.3h0M690.3 751.3h0M690.3 753.3h0M690.3 747.2h0M690.3 753.3h0M692.6 747.2h0M692.6 749.3h0M692.6 747.2h0M692.6 753.3h0M694.9 745.2h0M694.9 755.3h0M694.9 749.3h0M694.9 755.3h0M697.2 747.2h0M697.2 753.3h0M697.2 751.3h0M699.4 753.3h0M699.4 751.3h0M699.4 753.3h0M699.4 755.3h0M701.7 755.3h0M701.7 747.2h0M701.7 753.3h0M701.7 753.3h0M704 749.3h0M704 751.3h0M704 749.3h0M704 749.3h0M706.3 749.3h0M706.3 749.3h0M706.3 751.3h0M706.3 751.3h0M708.6 749.3h0M708.6 757.3h0M708.6 755.3h0M708.6 753.3h0M710.9 751.3h0M710.9 757.3h0M710.9 753.3h0M710.9 755.3h0M713.1 757.3h0M713.1 757.3h0M713.1 749.3h0M715.4 757.3h0M715.4 757.3h0M715.4 755.3h0M715.4 757.3h0M717.7 757.3h0M717.7 749.3h0M717.7 755.3h0M717.7 755.3h0M720 755.3h0M720 751.3h0M720 753.3h0M720 753.3h0M722.3 757.3h0M722.3 755.3h0M722.3 759.3h0M722.3 759.3h0M724.5 755.3h0M724.5 751.3h0M724.5 757.3h0M724.5 759.3h0M726.8 753.3h0M726.8 757.3h0M726.8 757.3h0M726.8 751.3h0M729.1 757.3h0M729.1 751.3h0M729.1 751.3h0M729.1 759.3h0M731.4 755.3h0M731.4 757.3h0M731.4 761.3h0M733.7 755.3h0M733.7 759.3h0M733.7 757.3h0M733.7 761.3h0M736 761.3h0M736 755.3h0M736 757.3h0M736 761.3h0M738.2 757.3h0M738.2 757.3h0M738.2 757.3h0M738.2 757.3h0M740.5 761.3h0M740.5 753.3h0M740.5 761.3h0M740.5 761.3h0M742.8 757.3h0M742.8 755.3h0M742.8 755.3h0M742.8 759.3h0M745.1 761.3h0M745.1 757.3h0M745.1 761.3h0M745.1 757.3h0M747.4 763.4h0M747.4 763.4h0M747.4 759.3h0M749.7 759.3h0M749.7 761.3h0M749.7 761.3h0M749.7 755.3h0M751.9 759.3h0M751.9 761.3h0M751.9 763.4h0M751.9 757.3h0M754.2 755.3h0M754.2 757.3h0M754.2 763.4h0M754.2 763.4h0M756.5 759.3h0M756.5 763.4h0M756.5 757.3h0M756.5 763.4h0M758.8 761.3h0M758.8 763.4h0M758.8 763.4h0M758.8 763.4h0M761.1 763.4h0M761.1 759.3h0M761.1 761.3h0M761.1 757.3h0M763.3 761.3h0M763.3 761.3h0M763.3 759.3h0M763.3 761.3h0M765.6 763.4h0M765.6 759.3h0M765.6 757.3h0M767.9 757.3h0M767.9 763.4h0M767.9 761.3h0M767.9 761.3h0M770.2 757.3h0M770.2 763.4h0M770.2 763.4h0M770.2 759.3h0M772.5 757.3h0M772.5 759.3h0M772.5 765.4h0M772.5 763.4h0M774.8 763.4h0M774.8 759.3h0M774.8 763.4h0M774.8 765.4h0M777 765.4h0M777 757.3h0M777 757.3h0M777 761.3h0M779.3 761.3h0M779.3 761.3h0M779.3 763.4h0M779.3 763.4h0M781.6 763.4h0M781.6 763.4h0M781.6 761.3h0M783.9 763.4h0M783.9 763.4h0M783.9 765.4h0M783.9 759.3h0M786.2 761.3h0M786.2 759.3h0M786.2 765.4h0M786.2 763.4h0M788.4 761.3h0M788.4 761.3h0M788.4 763.4h0M788.4 763.4h0M790.7 757.3h0M790.7 763.4h0M790.7 757.3h0M790.7 763.4h0M793 765.4h0M793 765.4h0M793 761.3h0M793 763.4h0M795.3 761.3h0M795.3 761.3h0M795.3 763.4h0M795.3 761.3h0M797.6 765.4h0M797.6 765.4h0M797.6 761.3h0M797.6 767.4h0M799.9 767.4h0M799.9 767.4h0M799.9 765.4h0M802.1 767.4h0M802.1 767.4h0M802.1 761.3h0M802.1 767.4h0M804.4 765.4h0M804.4 763.4h0M804.4 759.3h0M804.4 765.4h0M806.7 767.4h0M806.7 761.3h0M806.7 767.4h0M806.7 761.3h0M809 767.4h0M809 767.4h0M809 761.3h0M809 763.4h0M811.3 767.4h0M811.3 767.4h0M811.3 761.3h0M811.3 767.4h0M813.5 761.3h0M813.5 767.4h0M813.5 765.4h0M813.5 767.4h0M815.8 765.4h0M815.8 767.4h0M815.8 767.4h0M818.1 765.4h0M818.1 763.4h0M818.1 765.4h0M818.1 765.4h0M820.4 765.4h0M820.4 765.4h0M820.4 767.4h0M820.4 765.4h0M822.7 767.4h0M822.7 767.4h0M822.7 767.4h0M822.7 769.4h0M825 767.4h0M825 767.4h0M825 769.4h0M825 759.3h0M827.2 761.3h0M827.2 763.4h0M827.2 767.4h0M827.2 765.4h0M829.5 767.4h0M829.5 759.3h0M829.5 763.4h0M829.5 767.4h0M831.8 765.4h0M831.8 767.4h0M831.8 761.3h0M831.8 765.4h0M834.1 769.4h0M834.1 769.4h0M834.1 763.4h0M836.4 767.4h0M836.4 767.4h0M836.4 765.4h0M836.4 767.4h0M838.6 763.4h0M838.6 763.4h0M838.6 769.4h0M838.6 765.4h0M840.9 761.3h0M840.9 765.4h0M840.9 769.4h0M840.9 767.4h0M843.2 763.4h0M843.2 763.4h0M843.2 769.4h0M843.2 767.4h0M845.5 767.4h0M845.5 763.4h0M845.5 769.4h0M845.5 769.4h0M847.8 761.3h0M847.8 769.4h0M847.8 769.4h0M847.8 763.4h0M850.1 763.4h0M850.1 765.4h0M850.1 769.4h0M852.3 769.4h0M852.3 769.4h0M852.3 769.4h0M852.3 769.4h0M854.6 767.4h0M854.6 767.4h0M854.6 769.4h0M854.6 769.4h0M856.9 769.4h0M856.9 769.4h0M856.9 769.4h0M856.9 769.4h0M859.2 769.4h0M859.2 769.4h0M859.2 769.4h0M859.2 771.4h0M861.5 767.4h0M861.5 771.4h0M861.5 765.4h0M861.5 763.4h0M863.8 769.4h0M863.8 769.4h0M863.8 765.4h0M863.8 767.4h0M866 771.4h0M866 763.4h0M866 771.4h0M866 767.4h0M868.3 769.4h0M868.3 765.4h0M868.3 771.4h0M870.6 767.4h0M870.6 767.4h0M870.6 769.4h0M870.6 767.4h0M872.9 769.4h0M872.9 769.4h0M872.9 767.4h0M872.9 771.4h0M875.2 771.4h0M875.2 767.4h0M875.2 767.4h0M875.2 767.4h0M877.4 767.4h0M877.4 767.4h0M877.4 769.4h0M877.4 763.4h0M879.7 769.4h0M879.7 769.4h0M879.7 769.4h0M879.7 771.4h0M882 763.4h0M882 765.4h0M882 763.4h0M882 769.4h0M884.3 765.4h0M884.3 765.4h0M884.3 771.4h0M886.6 767.4h0M886.6 771.4h0M886.6 765.4h0M886.6 769.4h0M888.9 765.4h0M888.9 767.4h0M888.9 767.4h0M888.9 769.4h0M891.1 765.4h0M891.1 771.4h0M891.1 771.4h0M891.1 769.4h0M893.4 767.4h0M893.4 765.4h0M893.4 771.4h0M893.4 763.4h0M895.7 771.4h0M895.7 763.4h0M895.7 767.4h0M895.7 763.4h0M898 771.4h0M898 767.4h0M898 769.4h0M898 771.4h0M900.3 765.4h0M900.3 769.4h0M900.3 765.4h0M900.3 765.4h0M902.5 771.4h0M902.5 769.4h0M902.5 769.4h0M904.8 765.4h0M904.8 765.4h0M904.8 765.4h0M904.8 771.4h0M907.1 767.4h0M907.1 771.4h0M907.1 763.4h0M907.1 763.4h0M909.4 769.4h0M909.4 769.4h0M909.4 771.4h0M909.4 767.4h0M911.7 767.4h0M911.7 765.4h0M911.7 771.4h0M911.7 767.4h0M914 767.4h0M914 765.4h0M914 771.4h0M914 769.4h0M916.2 769.4h0M916.2 767.4h0M916.2 767.4h0M916.2 769.4h0M918.5 763.4h0M918.5 767.4h0M918.5 769.4h0M920.8 763.4h0M920.8 769.4h0M920.8 765.4h0M920.8 765.4h0M923.1 771.4h0M923.1 769.4h0M923.1 771.4h0M923.1 763.4h0M925.4 769.4h0M925.4 765.4h0M925.4 767.4h0M925.4 765.4h0M927.6 771.4h0M927.6 769.4h0M927.6 765.4h0M927.6 767.4h0M929.9 763.4h0M929.9 765.4h0M929.9 767.4h0M929.9 767.4h0M932.2 771.4h0M932.2 771.4h0M932.2 767.4h0M932.2 767.4h0M934.5 765.4h0M934.5 771.4h0M934.5 771.4h0M934.5 763.4h0M936.8 769.4h0M936.8 769.4h0M936.8 767.4h0M939.1 771.4h0M939.1 771.4h0M939.1 763.4h0M939.1 771.4h0M941.3 763.4h0M941.3 763.4h0M941.3 771.4h0M941.3 769.4h0M943.6 769.4h0M943.6 767.4h0M943.6 763.4h0M943.6 769.4h0M945.9 771.4h0M945.9 763.4h0M945.9 765.4h0M945.9 769.4h0M948.2 765.4h0M948.2 769.4h0M948.2 771.4h0M948.2 769.4h0M950.5 765.4h0M950.5 769.4h0M950.5 767.4h0M950.5 771.4h0M952.8 765.4h0M952.8 771.4h0M952.8 769.4h0M955 765.4h0M955 771.4h0M955 769.4h0M955 765.4h0M957.3 767.4h0M957.3 771.4h0M957.3 771.4h0M957.3 765.4h0M959.6 771.4h0M959.6 771.4h0M959.6 771.4h0M959.6 771.4h0M961.9 767.4h0M961.9 769.4h0M961.9 771.4h0M961.9 767.4h0M964.2 767.4h0M964.2 767.4h0M964.2 767.4h0M964.2 767.4h0M966.4 771.4h0M966.4 771.4h0M966.4 769.4h0M966.4 771.4h0M968.7 769.4h0M968.7 765.4h0M968.7 771.4h0M971 767.4h0M971 767.4h0M971 765.4h0M971 769.4h0M973.3 767.4h0M973.3 765.4h0M973.3 767.4h0M973.3 771.4h0M975.6 763.4h0M975.6 769.4h0M975.6 771.4h0M975.6 765.4h0M977.9 767.4h0M977.9 769.4h0M977.9 765.4h0M977.9 769.4h0M980.1 767.4h0M980.1 765.4h0M980.1 771.4h0M980.1 765.4h0M982.4 763.4h0M982.4 765.4h0M982.4 763.4h0M982.4 769.4h0M984.7 771.4h0M984.7 769.4h0M984.7 771.4h0M984.7 767.4h0M987 771.4h0M987 765.4h0M987 763.4h0M989.3 769.4h0"/>
<polyline class="l" stroke="#00ff00" points="99.3,761.3 99.3,765.4 99.3,757.3 101.6,759.3 101.6,763.4 101.6,765.4 103.8,769.4 103.8,759.3 103.8,769.4 103.8,761.3 106.1,767.4 106.1,761.3 106.1,767.4 106.1,769.4 108.4,765.4 108.4,765.4 108.4,767.4 108.4,771.4 110.7,769.4 110.7,769.4 110.7,769.4 110.7,765.4 113,761.3 113,767.4 113,767.4 113,771.4 115.3,769.4 115.3,763.4 115.3,763.4 115.3,769.4 117.5,765.4 117.5,763.4 117.5,763.4 119.8,767.4 119.8,769.4 119.8,771.4 119.8,769.4 122.1,771.4 122.1,767.4 122.1,769.4 122.1,763.4 124.4,769.4 124.4,771.4 124.4,763.4 124.4,767.4 126.7,767.4 126.7,765.4 126.7,771.4 126.7,771.4 128.9,769.4 128.9,767.4 128.9,767.4 128.9,765.4 131.2,767.4 131.2,767.4 131.2,765.4 131.2,767.4 133.5,771.4 133.5,767.4 133.5,769.4 133.5,769.4 135.8,769.4 135.8,765.4 135.8,769.4 138.1,771.4 138.1,765.4 138.1,765.4 138.1,763.4 140.4,769.4 140.4,771.4 140.4,767.4 140.4,761.3 142.6,769.4 142.6,769.4 142.6,763.4 142.6,765.4 144.9,767.4 144.9,765.4 144.9,769.4 144.9,767.4 147.2,769.4 147.2,767.4 147.2,765.4 147.2,767.4 149.5,765.4 149.5,771.4 149.5,767.4 149.5,771.4 151.8,769.4 151.8,771.4 151.8,769.4 154.1,763.4 154.1,763.4 154.1,769.4 154.1,767.4 156.3,769.4 156.3,769.4 156.3,767.4 156.3,763.4 158.6,763.4 158.6,763.4 158.6,763.4 158.6,763.4 160.9,771.4 160.9,771.4 160.9,769.4 160.9,771.4 163.2,769.4 163.2,769.4 163.2,767.4 163.2,763.4 165.5,765.4 165.5,765.4 165.5,767.4 165.5,763.4 167.7,765.4 167.7,761.3 167.7,771.4 170,769.4 170,765.4 170,769.4 170,769.4 172.3,769.4 172.3,763.4 172.3,769.4 172.3,765.4 174.6,769.4 174.6,767.4 174.6,767.4 174.6,769.4 176.9,767.4 176.9,771.4 176.9,767.4 176.9,765.4 179.2,769.4 179.2,769.4 179.2,769.4 179.2,771.4 181.4,767.4 181.4,767.4 181.4,763.4 181.4,771.4 183.7,769.4 183.7,761.3 183.7,767.4 183.7,767.4 186,767.4 186,767.4 186,765.4 188.3,771.4 188.3,767.4 188.3,771.4 188.3,771.4 190.6,769.4 190.6,769.4 190.6,769.4 190.6,767.4 192.8,763.4 192.8,761.3 192.8,767.4 192.8,769.4 195.1,767.4 195.1,767.4 195.1,763.4 195.1,761.3 197.4,769.4 197.4,769.4 197.4,763.4 197.4,759.3 199.7,767.4 199.7,763.4 199.7,767.4 199.7,761.3 202,765.4 202,759.3 202,757.3 204.3,765.4 204.3,763.4 204.3,757.3 204.3,759.3 206.5,753.3 206.5,749.3 206.5,747.2 208.8,741.2 208.8,721.1 211.1,709 211.1,698.9 213.4,690.9 213.4,694.9 213.4,690.9 213.4,682.8 215.7,678.8 215.7,678.8 217.9,668.7 217.9,668.7 217.9,656.6 217.9,662.7 220.2,662.7 220.2,652.6 220.2,656.6 222.5,650.6 222.5,656.6 222.5,650.6 222.5,652.6 224.8,654.6 224.8,646.5 224.8,644.5 224.8,646.5 227.1,648.6 227.1,642.5 227.1,650.6 227.1,650.6 229.4,648.6 229.4,642.5 229.4,644.5 229.4,648.6 231.6,644.5 231.6,650.6 231.6,650.6 231.6,644.5 233.9,640.5 233.9,642.5 233.9,654.6 233.9,652.6 236.2,658.6 236.2,660.6 236.2,660.6 238.5,654.6 238.5,656.6 238.5,664.7 238.5,668.7 240.8,670.7 240.8,672.7 240.8,668.7 243,680.8 243,688.8 243,682.8 245.3,694.9 245.3,686.8 245.3,696.9 245.3,692.9 247.6,700.9 247.6,700.9 247.6,702.9 247.6,707 249.9,702.9 249.9,711 249.9,715 249.9,713 252.2,721.1 252.2,723.1 252.2,723.1 252.2,727.1 254.5,731.1 254.5,729.1 254.5,733.1 256.7,733.1 256.7,729.1 256.7,729.1 256.7,729.1 259,739.2 259,731.1 259,729.1 259,737.2 261.3,737.2 261.3,737.2 261.3,741.2 261.3,735.2 263.6,739.2 263.6,739.2 263.6,737.2 263.6,733.1 265.9,741.2 265.9,737.2 265.9,731.1 265.9,731.1 268.1,739.2 268.1,739.2 268.1,741.2 268.1,733.1 270.4,739.2 270.4,735.2 270.4,731.1 272.7,733.1 272.7,731.1 272.7,733.1 272.7,739.2 275,737.2 275,729.1 275,737.2 275,735.2 277.3,735.2 277.3,731.1 277.3,727.1 277.3,729.1 279.6,737.2 279.6,737.2 279.6,733.1 279.6,737.2 281.8,735.2 281.8,731.1 281.8,733.1 281.8,735.2 284.1,733.1 284.1,725.1 284.1,729.1 284.1,737.2 286.4,733.1 286.4,729.1 286.4,725.1 286.4,735.2 288.7,729.1 288.7,729.1 288.7,735.2 291,737.2 291,735.2 291,735.2 291,729.1 293.3,735.2 293.3,729.1 293.3,731.1 293.3,725.1 295.5,733.1 295.5,727.1 295.5,725.1 295.5,731.1 297.8,733.1 297.8,731.1 297.8,727.1 297.8,725.1 300.1,729.1 300.1,733.1 300.1,735.2 300.1,727.1 302.4,727.1 302.4,733.1 302.4,733.1 302.4,725.1 304.7,731.1 304.7,733.1 304.7,727.1 306.9,723.1 306.9,729.1 306.9,733.1 306.9,733.1 309.2,731.1 309.2,723.1 309.2,731.1 309.2,731.1 311.5,733.1 311.5,731.1 311.5,723.1 311.5,731.1 313.8,725.1 313.8,721.1 313.8,731.1 313.8,731.1 316.1,729.1 316.1,731.1 316.1,731.1 316.1,721.1 318.4,719 318.4,727.1 318.4,721.1 318.4,729.1 320.6,727.1 320.6,723.1 320.6,727.1 320.6,723.1 322.9,723.1 322.9,717 322.9,721.1 325.2,727.1 325.2,723.1 325.2,725.1 325.2,723.1 327.5,723.1 327.5,723.1 327.5,727.1 327.5,727.1 329.8,725.1 329.8,715 329.8,715 329.8,719 332,715 332,717 332,719 332,723.1 334.3,723.1 334.3,723.1 334.3,713 334.3,721.1 336.6,711 336.6,723.1 336.6,717 336.6,711 338.9,721.1 338.9,709 338.9,713 341.2,719 341.2,709 341.2,711 341.2,717 343.5,709 343.5,717 343.5,709 343.5,709 345.7,711 345.7,713 345.7,715 345.7,715 348,713 348,715 348,711 348,709 350.3,707 350.3,711 350.3,711 350.3,707 352.6,711 352.6,713 352.6,702.9 352.6,713 354.9,713 354.9,711 354.9,700.9 354.9,702.9 357.1,711 357.1,705 357.1,700.9 359.4,698.9 359.4,705 359.4,698.9 359.4,707 361.7,709 361.7,707 361.7,705 361.7,707 364,694.9 364,692.9 364,694.9 364,700.9 366.3,700.9 366.3,702.9 366.3,698.9 366.3,702.9 368.6,694.9 368.6,700.9 368.6,692.9 368.6,700.9 370.8,698.9 370.8,690.9 370.8,690.9 370.8,692.9 373.1,692.9 373.1,684.8 373.1,690.9 375.4,694.9 375.4,696.9 375.4,692.9 375.4,682.8 377.7,694.9 377.7,682.8 377.7,684.8 377.7,692.9 380,692.9 380,692.9 380,686.8 380,690.9 382.2,682.8 382.2,684.8 382.2,686.8 382.2,682.8 384.5,680.8 384.5,680.8 384.5,686.8 384.5,684.8 386.8,684.8 386.8,678.8 386.8,672.7 386.8,680.8 389.1,684.8 389.1,680.8 389.1,680.8 389.1,678.8 391.4,668.7 391.4,668.7 391.4,674.7 393.7,670.7 393.7,680.8 393.7,672.7 393.7,672.7 395.9,666.7 395.9,672.7 395.9,672.7 395.9,664.7 398.2,674.7 398.2,662.7 398.2,666.7 398.2,662.7 400.5,662.7 400.5,668.7 400.5,660.6 400.5,662.7 402.8,664.7 402.8,670.7 402.8,664.7 402.8,664.7 405.1,668.7 405.1,666.7 405.1,662.7 405.1,666.7 407.4,664.7 407.4,662.7 407.4,664.7 409.6,662.7 409.6,660.6 409.6,662.7 409.6,662.7 411.9,658.6 411.9,654.6 411.9,662.7 411.9,658.6 414.2,658.6 414.2,654.6 414.2,658.6 414.2,658.6 416.5,644.5 416.5,652.6 416.5,650.6 416.5,656.6 418.8,656.6 418.8,654.6 418.8,654.6 418.8,650.6 421,652.6 421,640.5 421,652.6 421,652.6 423.3,650.6 423.3,650.6 423.3,644.5 425.6,646.5 425.6,646.5 425.6,634.5 425.6,638.5 427.9,646.5 427.9,646.5 427.9,634.5 427.9,634.5 430.2,644.5 430.2,632.4 430.2,636.5 430.2,632.4 432.5,632.4 432.5,638.5 432.5,628.4 432.5,640.5 434.7,626.4 434.7,638.5 434.7,630.4 434.7,632.4 437,630.4 437,624.4 437,626.4 437,630.4 439.3,626.4 439.3,630.4 439.3,632.4 439.3,632.4 441.6,630.4 441.6,620.4 441.6,626.4 443.9,622.4 443.9,626.4 443.9,618.4 443.9,622.4 446.1,626.4 446.1,628.4 446.1,618.4 446.1,626.4 448.4,616.3 448.4,624.4 448.4,614.3 448.4,616.3 450.7,622.4 450.7,618.4 450.7,616.3 450.7,622.4 453,620.4 453,620.4 453,620.4 453,606.3 455.3,618.4 455.3,612.3 455.3,618.4 455.3,616.3 457.6,606.3 457.6,616.3 457.6,616.3 459.8,604.3 459.8,610.3 459.8,610.3 459.8,600.2 462.1,610.3 462.1,602.2 462.1,608.3 462.1,606.3 464.4,600.2 464.4,606.3 464.4,608.3 464.4,606.3 466.7,596.2 466.7,604.3 466.7,598.2 466.7,598.2 469,594.2 469,600.2 469,596.2 469,600.2 471.2,600.2 471.2,600.2 471.2,590.2 471.2,600.2 473.5,596.2 473.5,590.2 473.5,596.2 473.5,592.2 475.8,586.1 475.8,586.1 475.8,592.2 478.1,582.1 478.1,582.1 478.1,582.1 478.1,590.2 480.4,588.1 480.4,576.1 480.4,582.1 480.4,586.1 482.7,584.1 482.7,584.1 482.7,580.1 482.7,584.1 484.9,572 484.9,580.1 484.9,580.1 484.9,584.1 487.2,582.1 487.2,582.1 487.2,578.1 487.2,582.1 489.5,578.1 489.5,570 489.5,574 489.5,568 491.8,576.1 491.8,572 491.8,566 494.1,574 494.1,572 494.1,572 494.1,570 496.4,574 496.4,566 496.4,574 496.4,574 498.6,574 498.6,572 498.6,568 498.6,564 500.9,568 500.9,572 500.9,572 500.9,562 503.2,568 503.2,570 503.2,562 503.2,559.9 505.5,555.9 505.5,557.9 505.5,570 505.5,559.9 507.8,562 507.8,564 507.8,568 507.8,566 510,557.9 510,564 510,559.9 512.3,559.9 512.3,555.9 512.3,555.9 512.3,562 514.6,564 514.6,559.9 514.6,562 514.6,553.9 516.9,557.9 516.9,557.9 516.9,553.9 516.9,553.9 519.2,557.9 519.2,551.9 519.2,553.9 519.2,553.9 521.5,562 521.5,553.9 521.5,557.9 521.5,557.9 523.7,553.9 523.7,551.9 523.7,551.9 523.7,562 526,551.9 526,562 526,557.9 528.3,549.9 528.3,562 528.3,555.9 528.3,559.9 530.6,562 530.6,551.9 530.6,551.9 530.6,549.9 532.9,562 532.9,562 532.9,562 532.9,562 535.1,557.9 535.1,551.9 535.1,551.9 535.1,562 537.4,559.9 537.4,559.9 537.4,547.9 537.4,559.9 539.7,551.9 539.7,559.9 539.7,559.9 539.7,553.9 542,555.9 542,555.9 542,559.9 542,551.9 544.3,551.9 544.3,559.9 544.3,555.9 546.6,559.9 546.6,562 546.6,551.9 546.6,559.9 548.8,566 548.8,562 548.8,564 548.8,553.9 551.1,564 551.1,562 551.1,564 551.1,568 553.4,555.9 553.4,559.9 553.4,555.9 553.4,557.9 555.7,562 555.7,564 555.7,562 555.7,566 558,562 558,570 558,564 558,562 560.2,570 560.2,570 560.2,568 562.5,562 562.5,570 562.5,572 562.5,564 564.8,564 564.8,572 564.8,572 564.8,570 567.1,574 567.1,574 567.1,564 567.1,570 569.4,574 569.4,574 569.4,574 569.4,574 571.7,566 571.7,568 571.7,578.1 571.7,572 573.9,576.1 573.9,580.1 573.9,582.1 573.9,576.1 576.2,570 576.2,584.1 576.2,572 576.2,574 578.5,582.1 578.5,578.1 578.5,578.1 580.8,580.1 580.8,580.1 580.8,578.1 580.8,578.1 583.1,588.1 583.1,586.1 583.1,578.1 583.1,592.2 585.3,586.1 585.3,584.1 585.3,582.1 585.3,588.1 587.6,590.2 587.6,592.2 587.6,594.2 587.6,594.2 589.9,590.2 589.9,588.1 589.9,586.1 589.9,588.1 592.2,600.2 592.2,600.2 592.2,602.2 592.2,592.2 594.5,598.2 594.5,602.2 594.5,598.2 596.8,596.2 596.8,598.2 596.8,606.3 596.8,602.2 599,608.3 599,606.3 599,604.3 599,602.2 601.3,610.3 601.3,604.3 601.3,610.3 601.3,612.3 603.6,600.2 603.6,608.3 603.6,608.3 603.6,614.3 605.9,606.3 605.9,616.3 605.9,616.3 605.9,606.3 608.2,608.3 608.2,614.3 608.2,618.4 608.2,614.3 610.5,618.4 610.5,618.4 610.5,620.4 610.5,610.3 612.7,612.3 612.7,610.3 612.7,622.4 615,620.4 615,618.4 615,614.3 615,626.4 617.3,626.4 617.3,628.4 617.3,628.4 617.3,628.4 619.6,628.4 619.6,626.4 619.6,622.4 619.6,622.4 621.9,620.4 621.9,624.4 621.9,632.4 621.9,620.4 624.1,632.4 624.1,636.5 624.1,626.4 624.1,626.4 626.4,634.5 626.4,638.5 626.4,638.5 626.4,628.4 628.7,642.5 628.7,634.5 628.7,644.5 631,638.5 631,636.5 631,640.5 631,648.6 633.3,648.6 633.3,644.5 633.3,640.5 633.3,650.6 635.6,648.6 635.6,638.5 635.6,652.6 635.6,640.5 637.8,652.6 637.8,654.6 637.8,644.5 637.8,642.5 640.1,648.6 640.1,658.6 640.1,658.6 640.1,646.5 642.4,654.6 642.4,650.6 642.4,650.6 642.4,656.6 644.7,660.6 644.7,660.6 644.7,652.6 644.7,650.6 647,664.7 647,658.6 647,656.6 649.2,666.7 649.2,662.7 649.2,660.6 649.2,666.7 651.5,666.7 651.5,668.7 651.5,662.7 651.5,660.6 653.8,666.7 653.8,672.7 653.8,664.7 653.8,670.7 656.1,662.7 656.1,670.7 656.1,668.7 656.1,670.7 658.4,664.7 658.4,668.7 658.4,672.7 658.4,672.7 660.7,672.7 660.7,670.7 660.7,668.7 660.7,676.8 662.9,676.8 662.9,672.7 662.9,670.7 665.2,672.7 665.2,674.7 665.2,678.8 665.2,684.8 667.5,686.8 667.5,686.8 667.5,678.8 667.5,688.8 669.8,686.8 669.8,682.8 669.8,686.8 669.8,690.9 672.1,678.8 672.1,680.8 672.1,692.9 672.1,686.8 674.3,680.8 674.3,692.9 674.3,690.9 674.3,692.9 676.6,682.8 676.6,696.9 676.6,696.9 676.6,692.9 678.9,692.9 678.9,694.9 678.9,692.9 678.9,696.9 681.2,690.9 681.2,696.9 681.2,688.8 683.5,700.9 683.5,694.9 683.5,700.9 683.5,696.9 685.8,698.9 685.8,702.9 685.8,702.9 685.8,700.9 688,698.9 688,694.9 688,700.9 688,696.9 690.3,702.9 690.3,702.9 690.3,709 690.3,702.9 692.6,696.9 692.6,709 692.6,700.9 692.6,705 694.9,711 694.9,711 694.9,709 694.9,713 697.2,713 697.2,711 697.2,702.9 699.4,713 699.4,702.9 699.4,715 699.4,713 701.7,705 701.7,713 701.7,707 701.7,711 704,711 704,709 704,709 704,717 706.3,713 706.3,709 706.3,717 706.3,719 708.6,709 708.6,715 708.6,713 708.6,715 710.9,721.1 710.9,711 710.9,721.1 710.9,713 713.1,719 713.1,721.1 713.1,723.1 715.4,713 715.4,715 715.4,723.1 715.4,713 717.7,723.1 717.7,713 717.7,719 717.7,721.1 720,719 720,717 720,723.1 720,717 722.3,717 722.3,725.1 722.3,721.1 722.3,723.1 724.5,723.1 724.5,723.1 724.5,729.1 724.5,721.1 726.8,723.1 726.8,731.1 726.8,727.1 726.8,731.1 729.1,729.1 729.1,725.1 729.1,733.1 729.1,725.1 731.4,731.1 731.4,733.1 731.4,733.1 733.7,723.1 733.7,731.1 733.7,733.1 733.7,727.1 736,735.2 736,725.1 736,733.1 736,737.2 738.2,733.1 738.2,729.1 738.2,733.1 738.2,739.2 740.5,737.2 740.5,739.2 740.5,739.2 740.5,733.1 742.8,733.1 742.8,739.2 742.8,737.2 742.8,735.2 745.1,741.2 745.1,737.2 745.1,741.2 745.1,741.2 747.4,735.2 747.4,741.2 747.4,737.2 749.7,737.2 749.7,735.2 749.7,743.2 749.7,741.2 751.9,743.2 751.9,737.2 751.9,741.2 751.9,739.2 754.2,735.2 754.2,739.2 754.2,745.2 754.2,743.2 756.5,737.2 756.5,743.2 756.5,741.2 756.5,743.2 758.8,741.2 758.8,739.2 758.8,741.2 758.8,739.2 761.1,745.2 761.1,739.2 761.1,747.2 761.1,743.2 763.3,739.2 763.3,741.2 763.3,747.2 763.3,739.2 765.6,745.2 765.6,747.2 765.6,737.2 767.9,745.2 767.9,747.2 767.9,741.2 767.9,743.2 770.2,749.3 770.2,749.3 770.2,739.2 770.2,739.2 772.5,741.2 772.5,741.2 772.5,749.3 772.5,741.2 774.8,749.3 774.8,747.2 774.8,749.3 774.8,749.3 777,751.3 777,741.2 777,751.3 777,741.2 779.3,751.3 779.3,751.3 779.3,751.3 779.3,743.2 781.6,751.3 781.6,747.2 781.6,747.2 783.9,747.2 783.9,753.3 783.9,745.2 783.9,753.3 786.2,745.2 786.2,755.3 786.2,755.3 786.2,755.3 788.4,753.3 788.4,747.2 788.4,753.3 788.4,755.3 790.7,751.3 790.7,753.3 790.7,755.3 790.7,751.3 793,753.3 793,757.3 793,755.3 793,755.3 795.3,757.3 795.3,757.3 795.3,755.3 795.3,749.3 797.6,757.3 797.6,751.3 797.6,759.3 797.6,755.3 799.9,759.3 799.9,755.3 799.9,759.3 802.1,755.3 802.1,753.3 802.1,759.3 802.1,753.3 804.4,759.3 804.4,757.3 804.4,761.3 804.4,759.3 806.7,753.3 806.7,761.3 806.7,759.3 806.7,761.3 809,757.3 809,761.3 809,757.3 809,757.3 811.3,753.3 811.3,763.4 811.3,757.3 811.3,759.3 813.5,763.4 813.5,759.3 813.5,755.3 813.5,757.3 815.8,761.3 815.8,759.3 815.8,763.4 818.1,757.3 818.1,759.3 818.1,763.4 818.1,759.3 820.4,755.3 820.4,761.3 820.4,757.3 820.4,763.4 822.7,765.4 822.7,759.3 822.7,759.3 822.7,761.3 825,757.3 825,765.4 825,763.4 825,765.4 827.2,759.3 827.2,765.4 827.2,765.4 827.2,759.3 829.5,763.4 829.5,761.3 829.5,759.3 829.5,761.3 831.8,757.3 831.8,759.3 831.8,759.3 831.8,767.4 834.1,767.4 834.1,759.3 834.1,765.4 836.4,761.3 836.4,759.3 836.4,761.3 836.4,765.4 838.6,763.4 838.6,763.4 838.6,763.4 838.6,767.4 840.9,767.4 840.9,765.4 840.9,763.4 840.9,767.4 843.2,767.4 843.2,769.4 843.2,761.3 843.2,761.3 845.5,767.4 845.5,767.4 845.5,769.4 845.5,763.4 847.8,765.4 847.8,767.4 847.8,763.4 847.8,763.4 850.1,769.4 850.1,769.4 850.1,765.4 852.3,767.4 852.3,761.3 852.3,769.4 852.3,767.4 854.6,769.4 854.6,763.4 854.6,761.3 854.6,765.4 856.9,761.3 856.9,765.4 856.9,769.4 856.9,767.4 859.2,763.4 859.2,769.4 859.2,769.4 859.2,765.4 861.5,763.4 861.5,761.3 861.5,765.4 861.5,769.4 863.8,769.4 863.8,763.4 863.8,769.4 863.8,765.4 866,769.4 866,767.4 866,765.4 866,765.4 868.3,763.4 868.3,765.4 868.3,765.4 870.6,761.3 870.6,765.4 870.6,769.4 870.6,765.4 872.9,767.4 872.9,769.4 872.9,765.4 872.9,765.4 875.2,771.4 875.2,763.4 875.2,771.4 875.2,765.4 877.4,769.4 877.4,767.4 877.4,767.4 877.4,769.4 879.7,765.4 879.7,763.4 879.7,767.4 879.7,771.4 882,767.4 882,763.4 882,769.4 882,771.4 884.3,769.4 884.3,769.4 884.3,767.4 886.6,771.4 886.6,763.4 886.6,763.4 886.6,771.4 888.9,763.4 888.9,771.4 888.9,771.4 888.9,765.4 891.1,771.4 891.1,765.4 891.1,769.4 891.1,769.4 893.4,769.4 893.4,771.4 893.4,771.4 893.4,769.4 895.7,769.4 895.7,771.4 895.7,771.4 895.7,771.4 898,765.4 898,763.4 898,763.4 898,771.4 900.3,769.4 900.3,763.4 900.3,771.4 900.3,763.4 902.5,771.4 902.5,769.4 902.5,769.4 904.8,765.4 904.8,763.4 904.8,767.4 904.8,763.4 907.1,763.4 907.1,765.4 907.1,769.4 907.1,771.4 909.4,765.4 909.4,771.4 909.4,769.4 909.4,767.4 911.7,771.4 911.7,767.4 911.7,763.4 911.7,767.4 914,763.4 914,765.4 914,769.4 914,769.4 916.2,767.4 916.2,769.4 916.2,763.4 916.2,763.4 918.5,771.4 918.5,771.4 918.5,767.4 920.8,767.4 920.8,765.4 920.8,769.4 920.8,763.4 923.1,769.4 923.1,765.4 923.1,765.4 923.1,765.4 925.4,767.4 925.4,767.4 925.4,765.4 925.4,769.4 927.6,769.4 927.6,771.4 927.6,771.4 927.6,765.4 929.9,767.4 929.9,771.4 929.9,769.4 929.9,767.4 932.2,769.4 932.2,769.4 932.2,769.4 932.2,769.4 934.5,771.4 934.5,769.4 934.5,765.4 934.5,765.4 936.8,763.4 936.8,765.4 936.8,763.4 939.1,763.4 939.1,763.4 939.1,769.4 939.1,765.4 941.3,767.4 941.3,769.4 941.3,769.4 941.3,769.4 943.6,767.4 943.6,765.4 943.6,769.4 943.6,771.4 945.9,769.4 945.9,769.4 945.9,769.4 945.9,763.4 948.2,763.4 948.2,771.4 948.2,769.4 948.2,771.4 950.5,763.4 950.5,763.4 950.5,767.4 950.5,771.4 952.8,771.4 952.8,769.4 952.8,767.4 955,771.4 955,767.4 955,771.4 955,765.4 957.3,771.4 957.3,765.4 957.3,765.4 957.3,771.4 959.6,771.4 959.6,769.4 959.6,771.4 959.6,769.4 961.9,765.4 961.9,763.4 961.9,769.4 961.9,771.4 964.2,771.4 964.2,771.4 964.2,771.4 964.2,763.4 966.4,763.4 966.4,769.4 966.4,763.4 966.4,763.4 968.7,771.4 968.7,771.4 968.7,765.4 971,771.4 971,769.4 971,769.4 971,769.4 973.3,771.4 973.3,771.4 973.3,767.4 973.3,767.4 975.6,769.4 975.6,769.4 975.6,769.4 975.6,763.4 977.9,771.4 977.9,771.4 977.9,763.4 977.9,771.4 980.1,769.4 980.1,769.4 980.1,765.4 980.1,765.4 982.4,763.4 982.4,771.4 982.4,765.4 982.4,771.4 984.7,763.4 984.7,765.4 984.7,763.4 984.7,769.4 987,771.4 987,771.4 987,771.4 989.3,765.4"/>
<path class="d" stroke="#00ff00" d="M99.3 761.3h0M99.3 765.4h0M99.3 757.3h0M101.6 759.3h0M101.6 763.4h0M101.6 765.4h0M103.8 769.4h0M103.8 759.3h0M103.8 769.4h0M103.8 761.3h0M106.1 767.4h0M106.1 761.3h0M106.1 767.4h0M106.1 769.4h0M108.4 765.4h0M108.4 765.4h0M108.4 767.4h0M108.4 771.4h0M110.7 769.4h0M110.7 769.4h0M110.7 769.4h0M110.7 765.4h0M113 761.3h0M113 767.4h0M113 767.4h0M113 771.4h0M115.3 769.4h0M115.3 763.4h0M115.3 763.4h0M115.3 769.4h0M117.5 765.4h0M117.5 763.4h0M117.5 763.4h0M119.8 767.4h0M119.8 769.4h0M119.8 771.4h0M119.8 769.4h0M122.1 771.4h0M122.1 767.4h0M122.1 769.4h0M122.1 763.4h0M124.4 769.4h0M124.4 771.4h0M124.4 763.4h0M124.4 767.4h0M126.7 767.4h0M126.7 765.4h0M126.7 771.4h0M126.7 771.4h0M128.9 769.4h0M128.9 767.4h0M128.9 767.4h0M128.9 765.4h0M131.2 767.4h0M131.2 767.4h0M131.2 765.4h0M131.2 767.4h0M133.5 771.4h0M133.5 767.4h0M133.5 769.4h0M133.5 769.4h0M135.8 769.4h0M135.8 765.4h0M135.8 769.4h0M138.1 771.4h0M138.1 765.4h0M138.1 765.4h0M138.1 763.4h0M140.4 769.4h0M140.4 771.4h0M140.4 767.4h0M140.4 761.3h0M142.6 769.4h0M142.6 769.4h0M142.6 763.4h0M142.6 765.4h0M144.9 767.4h0M144.9 765.4h0M144.9 769.4h0M144.9 767.4h0M147.2 769.4h0M147.2 767.4h0M147.2 765.4h0M147.2 767.4h0M149.5 765.4h0M149.5 771.4h0M149.5 767.4h0M149.5 771.4h0M151.8 769.4h0M151.8 771.4h0M151.8 769.4h0M154.1 763.4h0M154.1 763.4h0M154.1 769.4h0M154.1 767.4h0M156.3 769.4h0M156.3 769.4h0M156.3 767.4h0M156.3 763.4h0M158.6 763.4h0M158.6 763.4h0M158.6 763.4h0M158.6 763.4h0M160.9 771.4h0M160.9 771.4h0M160.9 769.4h0M160.9 771.4h0M163.2 769.4h0M163.2 769.4h0M163.2 767.4h0M163.2 763.4h0M165.5 765.4h0M165.5 765.4h0M165.5 767.4h0M165.5 763.4h0M167.7 765.4h0M167.7 761.3h0M167.7 771.4h0M170 769.4h0M170 765.4h0M170 769.4h0M170 769.4h0M172.3 769.4h0M172.3 763.4h0M172.3 769.4h0M172.3 765.4h0M174.6 769.4h0M174.6 767.4h0M174.6 767.4h0M174.6 769.4h0M176.9 767.4h0M176.9 771.4h0M176.9 767.4h0M176.9 765.4h0M179.2 769.4h0M179.2 769.4h0M179.2 769.4h0M179.2 771.4h0M181.4 767.4h0M181.4 767.4h0M181.4 763.4h0M181.4 771.4h0M183.7 769.4h0M183.7 761.3h0M183.7 767.4h0M183.7 767.4h0M186 767.4h0M186 767.4h0M186 765.4h0M188.3 771.4h0M188.3 767.4h0M188.3 771.4h0M188.3 771.4h0M190.6 769.4h0M190.6 769.4h0M190.6 769.4h0M190.6 767.4h0M192.8 763.4h0M192.8 761.3h0M192.8 767.4h0M192.8 769.4h0M195.1 767.4h0M195.1 767.4h0M195.1 763.4h0M195.1 761.3h0M197.4 769.4h0M197.4 769.4h0M197.4 763.4h0M197.4 759.3h0M199.7 767.4h0M199.7 763.4h0M199.7 767.4h0M199.7 761.3h0M202 765.4h0M202 759.3h0M202 757.3h0M204.3 765.4h0M204.3 763.4h0M204.3 757.3h0M204.3 759.3h0M206.5 753.3h0M206.5 749.3h0M206.5 747.2h0M208.8 741.2h0M208.8 721.1h0M211.1 709h0M211.1 698.9h0M213.4 690.9h0M213.4 694.9h0M213.4 690.9h0M213.4 682.8h0M215.7 678.8h0M215.7 678.8h0M217.9 668.7h0M217.9 668.7h0M217.9 656.6h0M217.9 662.7h0M220.2 662.7h0M220.2 652.6h0M220.2 656.6h0M222.5 650.6h0M222.5 656.6h0M222.5 650.6h0M222.5 652.6h0M224.8 654.6h0M224.8 646.5h0M224.8 644.5h0M224.8 646.5h0M227.1 648.6h0M227.1 642.5h0M227.1 650.6h0M227.1 650.6h0M229.4 648.6h0M229.4 642.5h0M229.4 644.5h0M229.4 648.6h0M231.6 644.5h0M231.6 650.6h0M231.6 650.6h0M231.6 644.5h0M233.9 640.5h0M233.9 642.5h0M233.9 654.6h0M233.9 652.6h0M236.2 658.6h0M236.2 660.6h0M236.2 660.6h0M238.5 654.6h0M238.5 656.6h0M238.5 664.7h0M238.5 668.7h0M240.8 670.7h0M240.8 672.7h0M240.8 668.7h0M243 680.8h0M243 688.8h0M243 682.8h0M245.3 694.9h0M245.3 686.8h0M245.3 696.9h0M245.3 692.9h0M247.6 700.9h0M247.6 700.9h0M247.6 702.9h0M247.6 707h0M249.9 702.9h0M249.9 711h0M249.9 715h0M249.9 713h0M252.2 721.1h0M252.2 723.1h0M252.2 723.1h0M252.2 727.1h0M254.5 731.1h0M254.5 729.1h0M254.5 733.1h0M256.7 733.1h0M256.7 729.1h0M256.7 729.1h0M256.7 729.1h0M259 739.2h0M259 731.1h0M259 729.1h0M259 737.2h0M261.3 737.2h0M261.3 737.2h0M261.3 741.2h0M261.3 735.2h0M263.6 739.2h0M263.6 739.2h0M263.6 737.2h0M263.6 733.1h0M265.9 741.2h0M265.9 737.2h0M265.9 731.1h0M265.9 731.1h0M268.1 739.2h0M268.1 739.2h0M268.1 741.2h0M268.1 733.1h0M270.4 739.2h0M270.4 735.2h0M270.4 731.1h0M272.7 733.1h0M272.7 731.1h0M272.7 733.1h0M272.7 739.2h0M275 737.2h0M275 729.1h0M275 737.2h0M275 735.2h0M277.3 735.2h0M277.3 731.1h0M277.3 727.1h0M277.3 729.1h0M279.6 737.2h0M279.6 737.2h0M279.6 733.1h0M279.6 737.2h0M281.8 735.2h0M281.8 731.1h0M281.8 733.1h0M281.8 735.2h0M284.1 733.1h0M284.1 725.1h0M284.1 729.1h0M284.1 737.2h0M286.4 733.1h0M286.4 729.1h0M286.4 725.1h0M286.4 735.2h0M288.7 729.1h0M288.7 729.1h0M288.7 735.2h0M291 737.2h0M291 735.2h0M291 735.2h0M291 729.1h0M293.3 735.2h0M293.3 729.1h0M293.3 731.1h0M293.3 725.1h0M295.5 733.1h0M295.5 727.1h0M295.5 725.1h0M295.5 731.1h0M297.8 733.1h0M297.8 731.1h0M297.8 727.1h0M297.8 725.1h0M300.1 729.1h0M300.1 733.1h0M300.1 735.2h0M300.1 727.1h0M302.4 727.1h0M302.4 733.1h0M302.4 733.1h0M302.4 725.1h0M304.7 731.1h0M304.7 733.1h0M304.7 727.1h0M306.9 723.1h0M306.9 729.1h0M306.9 733.1h0M306.9 733.1h0M309.2 731.1h0M309.2 723.1h0M309.2 731.1h0M309.2 731.1h0M311.5 733.1h0M311.5 731.1h0M311.5 723.1h0M311.5 731.1h0M313.8 725.1h0M313.8 721.1h0M313.8 731.1h0M313.8 731.1h0M316.1 729.1h0M316.1 731.1h0M316.1 731.1h0M316.1 721.1h0M318.4 719h0M318.4 727.1h0M318.4 721.1h0M318.4 729.1h0M320.6 727.1h0M320.6 723.1h0M320.6 727.1h0M320.6 723.1h0M322.9 723.1h0M322.9 717h0M322.9 721.1h0M325.2 727.1h0M325.2 723.1h0M325.2 725.1h0M325.2 723.1h0M327.5 723.1h0M327.5 723.1h0M327.5 727.1h0M327.5 727.1h0M329.8 725.1h0M329.8 715h0M329.8 715h0M329.8 719h0M332 715h0M332 717h0M332 719h0M332 723.1h0M334.3 723.1h0M334.3 723.1h0M334.3 713h0M334.3 721.1h0M336.6 711h0M336.6 723.1h0M336.6 717h0M336.6 711h0M338.9 721.1h0M338.9 709h0M338.9 713h0M341.2 719h0M341.2 709h0M341.2 711h0M341.2 717h0M343.5 709h0M343.5 717h0M343.5 709h0M343.5 709h0M345.7 711h0M345.7 713h0M345.7 715h0M345.7 715h0M348 713h0M348 715h0M348 711h0M348 709h0M350.3 707h0M350.3 711h0M350.3 711h0M350.3 707h0M352.6 711h0M352.6 713h0M352.6 702.9h0M352.6 713h0M354.9 713h0M354.9 711h0M354.9 700.9h0M354.9 702.9h0M357.1 711h0M357.1 705h0M357.1 700.9h0M359.4 698.9h0M359.4 705h0M359.4 698.9h0M359.4 707h0M361.7 709h0M361.7 707h0M361.7 705h0M361.7 707h0M364 694.9h0M364 692.9h0M364 694.9h0M364 700.9h0M366.3 700.9h0M366.3 702.9h0M366.3 698.9h0M366.3 702.9h0M368.6 694.9h0M368.6 700.9h0M368.6 692.9h0M368.6 700.9h0M370.8 698.9h0M370.8 690.9h0M370.8 690.9h0M370.8 692.9h0M373.1 692.9h0M373.1 684.8h0M373.1 690.9h0M375.4 694.9h0M375.4 696.9h0M375.4 692.9h0M375.4 682.8h0M377.7 694.9h0M377.7 682.8h0M377.7 684.8h0M377.7 692.9h0M380 692.9h0M380 692.9h0M380 686.8h0M380 690.9h0M382.2 682.8h0M382.2 684.8h0M382.2 686.8h0M382.2 682.8h0M384.5 680.8h0M384.5 680.8h0M384.5 686.8h0M384.5 684.8h0M386.8 684.8h0M386.8 678.8h0M386.8 672.7h0M386.8 680.8h0M389.1 684.8h0M389.1 680.8h0M389.1 680.8h0M389.1 678.8h0M391.4 668.7h0M391.4 668.7h0M391.4 674.7h0M393.7 670.7h0M393.7 680.8h0M393.7 672.7h0M393.7 672.7h0M395.9 666.7h0M395.9 672.7h0M395.9 672.7h0M395.9 664.7h0M398.2 674.7h0M398.2 662.7h0M398.2 666.7h0M398.2 662.7h0M400.5 662.7h0M400.5 668.7h0M400.5 660.6h0M400.5 662.7h0M402.8 664.7h0M402.8 670.7h0M402.8 664.7h0M402.8 664.7h0M405.1 668.7h0M405.1 666.7h0M405.1 662.7h0M405.1 666.7h0M407.4 664.7h0M407.4 662.7h0M407.4 664.7h0M409.6 662.7h0M409.6 660.6h0M409.6 662.7h0M409.6 662.7h0M411.9 658.6h0M411.9 654.6h0M411.9 662.7h0M411.9 658.6h0M414.2 658.6h0M414.2 654.6h0M414.2 658.6h0M414.2 658.6h0M416.5 644.5h0M416.5 652.6h0M416.5 650.6h0M416.5 656.6h0M418.8 656.6h0M418.8 654.6h0M418.8 654.6h0M418.8 650.6h0M421 652.6h0M421 640.5h0M421 652.6h0M421 652.6h0M423.3 650.6h0M423.3 650.6h0M423.3 644.5h0M425.6 646.5h0M425.6 646.5h0M425.6 634.5h0M425.6 638.5h0M427.9 646.5h0M427.9 646.5h0M427.9 634.5h0M427.9 634.5h0M430.2 644.5h0M430.2 632.4h0M430.2 636.5h0M430.2 632.4h0M432.5 632.4h0M432.5 638.5h0M432.5 628.4h0M432.5 640.5h0M434.7 626.4h0M434.7 638.5h0M434.7 630.4h0M434.7 632.4h0M437 630.4h0M437 624.4h0M437 626.4h0M437 630.4h0M439.3 626.4h0M439.3 630.4h0M439.3 632.4h0M439.3 632.4h0M441.6 630.4h0M441.6 620.4h0M441.6 626.4h0M443.9 622.4h0M443.9 626.4h0M443.9 618.4h0M443.9 622.4h0M446.1 626.4h0M446.1 628.4h0M446.1 618.4h0M446.1 626.4h0M448.4 616.3h0M448.4 624.4h0M448.4 614.3h0M448.4 616.3h0M450.7 622.4h0M450.7 618.4h0M450.7 616.3h0M450.7 622.4h0M453 620.4h0M453 620.4h0M453 620.4h0M453 606.3h0M455.3 618.4h0M455.3 612.3h0M455.3 618.4h0M455.3 616.3h0M457.6 606.3h0M457.6 616.3h0M457.6 616.3h0M459.8 604.3h0M459.8 610.3h0M459.8 610.3h0M459.8 600.2h0M462.1 610.3h0M462.1 602.2h0M462.1 608.3h0M462.1 606.3h0M464.4 600.2h0M464.4 606.3h0M464.4 608.3h0M464.4 606.3h0M466.7 596.2h0M466.7 604.3h0M466.7 598.2h0M466.7 598.2h0M469 594.2h0M469 600.2h0M469 596.2h0M469 600.2h0M471.2 600.2h0M471.2 600.2h0M471.2 590.2h0M471.2 600.2h0M473.5 596.2h0M473.5 590.2h0M473.5 596.2h0M473.5 592.2h0M475.8 586.1h0M475.8 586.1h0M475.8 592.2h0M478.1 582.1h0M478.1 582.1h0M478.1 582.1h0M478.1 590.2h0M480.4 588.1h0M480.4 576.1h0M480.4 582.1h0M480.4 586.1h0M482.7 584.1h0M482.7 584.1h0M482.7 580.1h0M482.7 584.1h0M484.9 572h0M484.9 580.1h0M484.9 580.1h0M484.9 584.1h0M487.2 582.1h0M487.2 582.1h0M487.2 578.1h0M487.2 582.1h0M489.5 578.1h0M489.5 570h0M489.5 574h0M489.5 568h0M491.8 576.1h0M491.8 572h0M491.8 566h0M494.1 574h0M494.1 572h0M494.1 572h0M494.1 570h0M496.4 574h0M496.4 566h0M496.4 574h0M496.4 574h0M498.6 574h0M498.6 572h0M498.6 568h0M498.6 564h0M500.9 568h0M500.9 572h0M500.9 572h0M500.9 562h0M503.2 568h0M503.2 570h0M503.2 562h0M503.2 559.9h0M505.5 555.9h0M505.5 557.9h0M505.5 570h0M505.5 559.9h0M507.8 562h0M507.8 564h0M507.8 568h0M507.8 566h0M510 557.9h0M510 564h0M510 559.9h0M512.3 559.9h0M512.3 555.9h0M512.3 555.9h0M512.3 562h0M514.6 564h0M514.6 559.9h0M514.6 562h0M514.6 553.9h0M516.9 557.9h0M516.9 557.9h0M516.9 553.9h0M516.9 553.9h0M519.2 557.9h0M519.2 551.9h0M519.2 553.9h0M519.2 553.9h0M521.5 562h0M521.5 553.9h0M521.5 557.9h0M521.5 557.9h0M523.7 553.9h0M523.7 551.9h0M523.7 551.9h0M523.7 562h0M526 551.9h0M526 562h0M526 557.9h0M528.3 549.9h0M528.3 562h0M528.3 555.9h0M528.3 559.9h0M530.6 562h0M530.6 551.9h0M530.6 551.9h0M530.6 549.9h0M532.9 562h0M532.9 562h0M532.9 562h0M532.9 562h0M535.1 557.9h0M535.1 551.9h0M535.1 551.9h0M535.1 562h0M537.4 559.9h0M537.4 559.9h0M537.4 547.9h0M537.4 559.9h0M539.7 551.9h0M539.7 559.9h0M539.7 559.9h0M539.7 553.9h0M542 555.9h0M542 555.9h0M542 559.9h0M542 551.9h0M544.3 551.9h0M544.3 559.9h0M544.3 555.9h0M546.6 559.9h0M546.6 562h0M546.6 551.9h0M546.6 559.9h0M548.8 566h0M548.8 562h0M548.8 564h0M548.8 553.9h0M551.1 564h0M551.1 562h0M551.1 564h0M551.1 568h0M553.4 555.9h0M553.4 559.9h0M553.4 555.9h0M553.4 557.9h0M555.7 562h0M555.7 564h0M555.7 562h0M555.7 566h0M558 562h0M558 570h0M558 564h0M558 562h0M560.2 570h0M560.2 570h0M560.2 568h0M562.5 562h0M562.5 570h0M562.5 572h0M562.5 564h0M564.8 564h0M564.8 572h0M564.8 572h0M564.8 570h0M567.1 574h0M567.1 574h0M567.1 564h0M567.1 570h0M569.4 574h0M569.4 574h0M569.4 574h0M569.4 574h0M571.7 566h0M571.7 568h0M571.7 578.1h0M571.7 572h0M573.9 576.1h0M573.9 580.1h0M573.9 582.1h0M573.9 576.1h0M576.2 570h0M576.2 584.1h0M576.2 572h0M576.2 574h0M578.5 582.1h0M578.5 578.1h0M578.5 578.1h0M580.8 580.1h0M580.8 580.1h0M580.8 578.1h0M580.8 578.1h0M583.1 588.1h0M583.1 586.1h0M583.1 578.1h0M583.1 592.2h0M585.3 586.1h0M585.3 584.1h0M585.3 582.1h0M585.3 588.1h0M587.6 590.2h0M587.6 592.2h0M587.6 594.2h0M587.6 594.2h0M589.9 590.2h0M589.9 588.1h0M589.9 586.1h0M589.9 588.1h0M592.2 600.2h0M592.2 600.2h0M592.2 602.2h0M592.2 592.2h0M594.5 598.2h0M594.5 602.2h0M594.5 598.2h0M596.8 596.2h0M596.8 598.2h0M596.8 606.3h0M596.8 602.2h0M599 608.3h0M599 606.3h0M599 604.3h0M599 602.2h0M601.3 610.3h0M601.3 604.3h0M601.3 610.3h0M601.3 612.3h0M603.6 600.2h0M603.6 608.3h0M603.6 608.3h0M603.6 614.3h0M605.9 606.3h0M605.9 616.3h0M605.9 616.3h0M605.9 606.3h0M608.2 608.3h0M608.2 614.3h0M608.2 618.4h0M608.2 614.3h0M610.5 618.4h0M610.5 618.4h0M610.5 620.4h0M610.5 610.3h0M612.7 612.3h0M612.7 610.3h0M612.7 622.4h0M615 620.4h0M615 618.4h0M615 614.3h0M615 626.4h0M617.3 626.4h0M617.3 628.4h0M617.3 628.4h0M617.3 628.4h0M619.6 628.4h0M619.6 626.4h0M619.6 622.4h0M619.6 622.4h0M621.9 620.4h0M621.9 624.4h0M621.9 632.4h0M621.9 620.4h0M624.1 632.4h0M624.1 636.5h0M624.1 626.4h0M624.1 626.4h0M626.4 634.5h0M626.4 638.5h0M626.4 638.5h0M626.4 628.4h0M628.7 642.5h0M628.7 634.5h0M628.7 644.5h0M631 638.5h0M631 636.5h0M631 640.5h0M631 648.6h0M633.3 648.6h0M633.3 644.5h0M633.3 640.5h0M633.3 650.6h0M635.6 648.6h0M635.6 638.5h0M635.6 652.6h0M635.6 640.5h0M637.8 652.6h0M637.8 654.6h0M637.8 644.5h0M637.8 642.5h0M640.1 648.6h0M640.1 658.6h0M640.1 658.6h0M640.1 646.5h0M642.4 654.6h0M642.4 650.6h0M642.4 650.6h0M642.4 656.6h0M644.7 660.6h0M644.7 660.6h0M644.7 652.6h0M644.7 650.6h0M647 664.7h0M647 658.6h0M647 656.6h0M649.2 666.7h0M649.2 662.7h0M649.2 660.6h0M649.2 666.7h0M651.5 666.7h0M651.5 668.7h0M651.5 662.7h0M651.5 660.6h0M653.8 666.7h0M653.8 672.7h0M653.8 664.7h0M653.8 670.7h0M656.1 662.7h0M656.1 670.7h0M656.1 668.7h0M656.1 670.7h0M658.4 664.7h0M658.4 668.7h0M658.4 672.7h0M658.4 672.7h0M660.7 672.7h0M660.7 670.7h0M660.7 668.7h0M660.7 676.8h0M662.9 676.8h0M662.9 672.7h0M662.9 670.7h0M665.2 672.7h0M665.2 674.7h0M665.2 678.8h0M665.2 684.8h0M667.5 686.8h0M667.5 686.8h0M667.5 678.8h0M667.5 688.8h0M669.8 686.8h0M669.8 682.8h0M669.8 686.8h0M669.8 690.9h0M672.1 678.8h0M672.1 680.8h0M672.1 692.9h0M672.1 686.8h0M674.3 680.8h0M674.3 692.9h0M674.3 690.9h0M674.3 692.9h0M676.6 682.8h0M676.6 696.9h0M676.6 696.9h0M676.6 692.9h0M678.9 692.9h0M678.9 694.9h0M678.9 692.9h0M678.9 696.9h0M681.2 690.9h0M681.2 696.9h0M681.2 688.8h0M683.5 700.9h0M683.5 694.9h0M683.5 700.9h0M683.5 696.9h0M685.8 698.9h0M685.8 702.9h0M685.8 702.9h0M685.8 700.9h0M688 698.9h0M688 694.9h0M688 700.9h0M688 696.9h0M690.3 702.9h0M690.3 702.9h0M690.3 709h0M690.3 702.9h0M692.6 696.9h0M692.6 709h0M692.6 700.9h0M692.6 705h0M694.9 711h0M694.9 711h0M694.9 709h0M694.9 713h0M697.2 713h0M697.2 711h0M697.2 702.9h0M699.4 713h0M699.4 702.9h0M699.4 715h0M699.4 713h0M701.7 705h0M701.7 713h0M701.7 707h0M701.7 711h0M704 711h0M704 709h0M704 709h0M704 717h0M706.3 713h0M706.3 709h0M706.3 717h0M706.3 719h0M708.6 709h0M708.6 715h0M708.6 713h0M708.6 715h0M710.9 721.1h0M710.9 711h0M710.9 721.1h0M710.9 713h0M713.1 719h0M713.1 721.1h0M713.1 723.1h0M715.4 713h0M715.4 715h0M715.4 723.1h0M715.4 713h0M717.7 723.1h0M717.7 713h0M717.7 719h0M717.7 721.1h0M720 719h0M720 717h0M720 723.1h0M720 717h0M722.3 717h0M722.3 725.1h0M722.3 721.1h0M722.3 723.1h0M724.5 723.1h0M724.5 723.1h0M724.5 729.1h0M724.5 721.1h0M726.8 723.1h0M726.8 731.1h0M726.8 727.1h0M726.8 731.1h0M729.1 729.1h0M729.1 725.1h0M729.1 733.1h0M729.1 725.1h0M731.4 731.1h0M731.4 733.1h0M731.4 733.1h0M733.7 723.1h0M733.7 731.1h0M733.7 733.1h0M733.7 727.1h0M736 735.2h0M736 725.1h0M736 733.1h0M736 737.2h0M738.2 733.1h0M738.2 729.1h0M738.2 733.1h0M738.2 739.2h0M740.5 737.2h0M740.5 739.2h0M740.5 739.2h0M740.5 733.1h0M742.8 733.1h0M742.8 739.2h0M742.8 737.2h0M742.8 735.2h0M745.1 741.2h0M745.1 737.2h0M745.1 741.2h0M745.1 741.2h0M747.4 735.2h0M747.4 741.2h0M747.4 737.2h0M749.7 737.2h0M749.7 735.2h0M749.7 743.2h0M749.7 741.2h0M751.9 743.2h0M751.9 737.2h0M751.9 741.2h0M751.9 739.2h0M754.2 735.2h0M754.2 739.2h0M754.2 745.2h0M754.2 743.2h0M756.5 737.2h0M756.5 743.2h0M756.5 741.2h0M756.5 743.2h0M758.8 741.2h0M758.8 739.2h0M758.8 741.2h0M758.8 739.2h0M761.1 745.2h0M761.1 739.2h0M761.1 747.2h0M761.1 743.2h0M763.3 739.2h0M763.3 741.2h0M763.3 747.2h0M763.3 739.2h0M765.6 745.2h0M765.6 747.2h0M765.6 737.2h0M767.9 745.2h0M767.9 747.2h0M767.9 741.2h0M767.9 743.2h0M770.2 749.3h0M770.2 749.3h0M770.2 739.2h0M770.2 739.2h0M772.5 741.2h0M772.5 741.2h0M772.5 749.3h0M772.5 741.2h0M774.8 749.3h0M774.8 747.2h0M774.8 749.3h0M774.8 749.3h0M777 751.3h0M777 741.2h0M777 751.3h0M777 741.2h0M779.3 751.3h0M779.3 751.3h0M779.3 751.3h0M779.3 743.2h0M781.6 751.3h0M781.6 747.2h0M781.6 747.2h0M783.9 747.2h0M783.9 753.3h0M783.9 745.2h0M783.9 753.3h0M786.2 745.2h0M786.2 755.3h0M786.2 755.3h0M786.2 755.3h0M788.4 753.3h0M788.4 747.2h0M788.4 753.3h0M788.4 755.3h0M790.7 751.3h0M790.7 753.3h0M790.7 755.3h0M790.7 751.3h0M793 753.3h0M793 757.3h0M793 755.3h0M793 755.3h0M795.3 757.3h0M795.3 757.3h0M795.3 755.3h0M795.3 749.3h0M797.6 757.3h0M797.6 751.3h0M797.6 759.3h0M797.6 755.3h0M799.9 759.3h0M799.9 755.3h0M799.9 759.3h0M802.1 755.3h0M802.1 753.3h0M802.1 759.3h0M802.1 753.3h0M804.4 759.3h0M804.4 757.3h0M804.4 761.3h0M804.4 759.3h0M806.7 753.3h0M806.7 761.3h0M806.7 759.3h0M806.7 761.3h0M809 757.3h0M809 761.3h0M809 757.3h0M809 757.3h0M811.3 753.3h0M811.3 763.4h0M811.3 757.3h0M811.3 759.3h0M813.5 763.4h0M813.5 759.3h0M813.5 755.3h0M813.5 757.3h0M815.8 761.3h0M815.8 759.3h0M815.8 763.4h0M818.1 757.3h0M818.1 759.3h0M818.1 763.4h0M818.1 759.3h0M820.4 755.3h0M820.4 761.3h0M820.4 757.3h0M820.4 763.4h0M822.7 765.4h0M822.7 759.3h0M822.7 759.3h0M822.7 761.3h0M825 757.3h0M825 765.4h0M825 763.4h0M825 765.4h0M827.2 759.3h0M827.2 765.4h0M827.2 765.4h0M827.2 759.3h0M829.5 763.4h0M829.5 761.3h0M829.5 759.3h0M829.5 761.3h0M831.8 757.3h0M831.8 759.3h0M831.8 759.3h0M831.8 767.4h0M834.1 767.4h0M834.1 759.3h0M834.1 765.4h0M836.4 761.3h0M836.4 759.3h0M836.4 761.3h0M836.4 765.4h0M838.6 763.4h0M838.6 763.4h0M838.6 763.4h0M838.6 767.4h0M840.9 767.4h0M840.9 765.4h0M840.9 763.4h0M840.9 767.4h0M843.2 767.4h0M843.2 769.4h0M843.2 761.3h0M843.2 761.3h0M845.5 767.4h0M845.5 767.4h0M845.5 769.4h0M845.5 763.4h0M847.8 765.4h0M847.8 767.4h0M847.8 763.4h0M847.8 763.4h0M850.1 769.4h0M850.1 769.4h0M850.1 765.4h0M852.3 767.4h0M852.3 761.3h0M852.3 769.4h0M852.3 767.4h0M854.6 769.4h0M854.6 763.4h0M854.6 761.3h0M854.6 765.4h0M856.9 761.3h0M856.9 765.4h0M856.9 769.4h0M856.9 767.4h0M859.2 763.4h0M859.2 769.4h0M859.2 769.4h0M859.2 765.4h0M861.5 763.4h0M861.5 761.3h0M861.5 765.4h0M861.5 769.4h0M863.8 769.4h0M863.8 763.4h0M863.8 769.4h0M863.8 765.4h0M866 769.4h0M866 767.4h0M866 765.4h0M866 765.4h0M868.3 763.4h0M868.3 765.4h0M868.3 765.4h0M870.6 761.3h0M870.6 765.4h0M870.6 769.4h0M870.6 765.4h0M872.9 767.4h0M872.9 769.4h0M872.9 765.4h0M872.9 765.4h0M875.2 771.4h0M875.2 763.4h0M875.2 771.4h0M875.2 765.4h0M877.4 769.4h0M877.4 767.4h0M877.4 767.4h0M877.4 769.4h0M879.7 765.4h0M879.7 763.4h0M879.7 767.4h0M879.7 771.4h0M882 767.4h0M882 763.4h0M882 769.4h0M882 771.4h0M884.3 769.4h0M884.3 769.4h0M884.3 767.4h0M886.6 771.4h0M886.6 763.4h0M886.6 763.4h0M886.6 771.4h0M888.9 763.4h0M888.9 771.4h0M888.9 771.4h0M888.9 765.4h0M891.1 771.4h0M891.1 765.4h0M891.1 769.4h0M891.1 769.4h0M893.4 769.4h0M893.4 771.4h0M893.4 771.4h0M893.4 769.4h0M895.7 769.4h0M895.7 771.4h0M895.7 771.4h0M895.7 771.4h0M898 765.4h0M898 763.4h0M898 763.4h0M898 771.4h0M900.3 769.4h0M900.3 763.4h0M900.3 771.4h0M900.3 763.4h0M902.5 771.4h0M902.5 769.4h0M902.5 769.4h0M904.8 765.4h0M904.8 763.4h0M904.8 767.4h0M904.8 763.4h0M907.1 763.4h0M907.1 765.4h0M907.1 769.4h0M907.1 771.4h0M909.4 765.4h0M909.4 771.4h0M909.4 769.4h0M909.4 767.4h0M911.7 771.4h0M911.7 767.4h0M911.7 763.4h0M911.7 767.4h0M914 763.4h0M914 765.4h0M914 769.4h0M914 769.4h0M916.2 767.4h0M916.2 769.4h0M916.2 763.4h0M916.2 763.4h0M918.5 771.4h0M918.5 771.4h0M918.5 767.4h0M920.8 767.4h0M920.8 765.4h0M920.8 769.4h0M920.8 763.4h0M923.1 769.4h0M923.1 765.4h0M923.1 765.4h0M923.1 765.4h0M925.4 767.4h0M925.4 767.4h0M925.4 765.4h0M925.4 769.4h0M927.6 769.4h0M927.6 771.4h0M927.6 771.4h0M927.6 765.4h0M929.9 767.4h0M929.9 771.4h0M929.9 769.4h0M929.9 767.4h0M932.2 769.4h0M932.2 769.4h0M932.2 769.4h0M932.2 769.4h0M934.5 771.4h0M934.5 769.4h0M934.5 765.4h0M934.5 765.4h0M936.8 763.4h0M936.8 765.4h0M936.8 763.4h0M939.1 763.4h0M939.1 763.4h0M939.1 769.4h0M939.1 765.4h0M941.3 767.4h0M941.3 769.4h0M941.3 769.4h0M941.3 769.4h0M943.6 767.4h0M943.6 765.4h0M943.6 769.4h0M943.6 771.4h0M945.9 769.4h0M945.9 769.4h0M945.9 769.4h0M945.9 763.4h0M948.2 763.4h0M948.2 771.4h0M948.2 769.4h0M948.2 771.4h0M950.5 763.4h0M950.5 763.4h0M950.5 767.4h0M950.5 771.4h0M952.8 771.4h0M952.8 769.4h0M952.8 767.4h0M955 771.4h0M955 767.4h0M955 771.4h0M955 765.4h0M957.3 771.4h0M957.3 765.4h0M957.3 765.4h0M957.3 771.4h0M959.6 771.4h0M959.6 769.4h0M959.6 771.4h0M959.6 769.4h0M961.9 765.4h0M961.9 763.4h0M961.9 769.4h0M961.9 771.4h0M964.2 771.4h0M964.2 771.4h0M964.2 771.4h0M964.2 763.4h0M966.4 763.4h0M966.4 769.4h0M966.4 763.4h0M966.4 763.4h0M968.7 771.4h0M968.7 771.4h0M968.7 765.4h0M971 771.4h0M971 769.4h0M971 769.4h0M971 769.4h0M973.3 771.4h0M973.3 771.4h0M973.3 767.4h0M973.3 767.4h0M975.6 769.4h0M975.6 769.4h0M975.6 769.4h0M975.6 763.4h0M977.9 771.4h0M977.9 771.4h0M977.9 763.4h0M977.9 771.4h0M980.1 769.4h0M980.1 769.4h0M980.1 765.4h0M980.1 765.4h0M982.4 763.4h0M982.4 771.4h0M982.4 765.4h0M982.4 771.4h0M984.7 763.4h0M984.7 765.4h0M984.7 763.4h0M984.7 769.4h0M987 771.4h0M987 771.4h0M987 771.4h0M989.3 765.4h0"/>
<rect x="809.9" y="75.30000000000001" width="176.0" height="241.90000000000003" fill="#fff" stroke="#555" stroke-width="1.15"/>
<line x1="826.3" x2="909.5" y1="97.9" y2="97.9" stroke="#aaaaff" stroke-width="1"/>
<circle cx="869.6" cy="99.6" r="6.5" fill="#0000ff"/>
<text x="920.8" y="106.7" font-size="26.8">1V</text>
<line x1="826.3" x2="909.5" y1="136.8" y2="136.8" stroke="#ff6060" stroke-width="1"/>
<circle cx="869.6" cy="138.5" r="6.5" fill="#ff0000"/>
<text x="920.8" y="145.6" font-size="26.8">1.2V</text>
<line x1="826.3" x2="909.5" y1="175.8" y2="175.8" stroke="#ffff30" stroke-width="1"/>
<circle cx="869.6" cy="177.5" r="6.5" fill="#ffff00"/>
<text x="920.8" y="184.6" font-size="26.8">1.3V</text>
<line x1="826.3" x2="909.5" y1="214.7" y2="214.7" stroke="#ffaaff" stroke-width="1"/>
<circle cx="869.6" cy="216.4" r="6.5" fill="#ff00ff"/>
<text x="920.8" y="223.5" font-size="26.8">1.4V</text>
<line x1="826.3" x2="909.5" y1="253.6" y2="253.6" stroke="#aaffff" stroke-width="1"/>
<circle cx="869.6" cy="255.3" r="6.5" fill="#00ffff"/>
<text x="920.8" y="262.4" font-size="26.8">1.5V</text>
<line x1="826.3" x2="909.5" y1="292.6" y2="292.6" stroke="#aaffaa" stroke-width="1"/>
<circle cx="869.6" cy="294.2" r="6.5" fill="#00ff00"/>
<text x="920.8" y="301.4" font-size="26.8">1.7V</text>
<g font-size="28.5" fill="#000">
<text transform="translate(88.9,776.9) scale(0.96,1)" text-anchor="end">0</text>
<text transform="translate(88.9,634.0) scale(0.96,1)" text-anchor="end">0.5</text>
<text transform="translate(88.9,493.0) scale(0.96,1)" text-anchor="end">1</text>
<text transform="translate(88.9,350.0) scale(0.96,1)" text-anchor="end">1.5</text>
<text transform="translate(88.9,209.0) scale(0.96,1)" text-anchor="end">2</text>
<text transform="translate(88.9,68.0) scale(0.96,1)" text-anchor="end">2.5</text>
<text transform="translate(97.8,800.0) scale(0.96,1)" text-anchor="middle">0</text>
<text transform="translate(209.6,800.0) scale(0.96,1)" text-anchor="middle">100</text>
<text transform="translate(321.4,800.0) scale(0.96,1)" text-anchor="middle">200</text>
<text transform="translate(433.2,800.0) scale(0.96,1)" text-anchor="middle">300</text>
<text transform="translate(547.3,800.0) scale(0.96,1)" text-anchor="middle">400</text>
<text transform="translate(659.4,800.0) scale(0.96,1)" text-anchor="middle">500</text>
<text transform="translate(771.5,800.0) scale(0.96,1)" text-anchor="middle">600</text>
<text transform="translate(883.1,800.0) scale(0.96,1)" text-anchor="middle">700</text>
<text transform="translate(997.2,800.0) scale(0.96,1)" text-anchor="middle">800</text>
</g>
<g font-size="27.2" fill="#000">
<text x="544.8" y="835.0" text-anchor="middle">time(s)</text>
<text transform="translate(29.4,417.3) rotate(-90)" text-anchor="middle">UV signal</text>
</g>
<text transform="translate(16.6,37.5) scale(1.07,1)" font-size="37.5">a)</text>
<g fill="none" stroke-width="1.3">
<path d="M96.5 888.4H996.9" stroke="#909090"/>
<path d="M996.4 888.4V1574.9" stroke="#7a7a7a"/>
<path d="M96.5 1574.9H996.9" stroke="#777"/>
<path d="M97.0 888.4V1574.9" stroke="#808080"/>
<path d="M208.75 1574.9v-8.6M208.75 888.4v8.6M320.6 1574.9v-8.6M320.6 888.4v8.6M432.4 1574.9v-8.6M432.4 888.4v8.6M546.5 1574.9v-8.6M546.5 888.4v8.6M658.6 1574.9v-8.6M658.6 888.4v8.6M770.7 1574.9v-8.6M770.7 888.4v8.6M882.3 1574.9v-8.6M882.3 888.4v8.6M97.0 1436.3h8.6M996.4 1436.3h-8.6M97.0 1299.5h8.6M996.4 1299.5h-8.6M97.0 1162.5h8.6M996.4 1162.5h-8.6M97.0 1025.4h8.6M996.4 1025.4h-8.6" stroke="#999" stroke-width="1"/>
</g>
<path class="d" stroke="#0000ff" d="M99.3 1576.9h91.3M190.6 1574.9h2.2M192.8 1564.8v8.1M195.1 1520.5v44.3M197.4 1407.7v110.8M199.7 1250.6v155.1M202 1083.5v167.1M204.3 1023.1v60.4M206.5 956.6v64.5M208.8 948.5v8.1M208.8 958.6v8.1M211.1 966.7v34.2M213.4 1000.9v54.4M215.7 1055.3v36.2M217.9 1091.5v50.4M220.2 1141.9v32.2M222.5 1174.1v22.2M224.8 1198.3v24.1M227.1 1222.4v14.1M229.4 1236.5v10.1M231.6 1246.6v8.1M233.9 1254.7v6M236.2 1260.7v6.1M238.5 1266.8v4M240.8 1270.8v6M243 1276.8v2M245.3 1278.8v4.1M247.6 1282.9v2M249.9 1284.9v2M252.2 1286.9v2M254.5 1288.9h2.2M256.7 1290.9h4.6M261.3 1292.9h2.3M263.6 1295h2.3M265.9 1297h2.3M268.2 1299h2.2M270.4 1301h2.3M272.7 1303h4.6M277.3 1305h2.3M279.6 1307h4.5M284.1 1309.1h6.9M291 1311.1h4.5M295.5 1313.1h4.6M300.1 1315.1h2.3M302.4 1317.1h2.3M304.7 1319.1h2.2M306.9 1321.1h2.3M309.2 1323.2h2.3M311.5 1325.2h2.3M313.8 1327.2h2.3M316.1 1329.2h2.3M318.4 1331.2v2M320.6 1333.2v2M322.9 1335.2v2M325.2 1337.2v4.1M327.5 1341.3v2M329.8 1343.3v4M332 1347.3v2M334.3 1349.3v4.1M336.6 1353.4v4M338.9 1357.4v4M341.2 1361.4v2M343.5 1363.4v4.1M345.7 1367.5v4M348 1371.5v2M350.3 1373.5v4M352.6 1377.5v4.1M354.9 1381.6v2M357.1 1383.6v4M359.4 1387.6v4M361.7 1391.6v2M364 1393.6v4.1M366.3 1397.7v4M368.6 1401.7v2M370.8 1403.7v4M373.1 1407.7v4.1M375.4 1411.8v2M377.7 1413.8v4M380 1417.8v4M382.2 1421.8v2.1M384.5 1423.9v4M386.8 1427.9v4M389.1 1431.9v4M391.4 1435.9v2M393.7 1437.9v4.1M395.9 1442v4M398.2 1446v2M400.5 1448v4M402.8 1452v4.1M405.1 1456.1v2M407.4 1458.1v4M409.6 1462.1v2M411.9 1464.1v4.1M414.2 1468.2v2M416.5 1470.2v4M418.8 1474.2v2M421 1478.2v2M423.3 1480.2v2.1M425.6 1482.3v4M427.9 1486.3v2M430.2 1488.3v4M432.5 1492.3v2M434.7 1494.3v2.1M437 1496.4v4M439.3 1500.4v2M441.6 1502.4v2M443.9 1504.4v4M446.1 1508.4v2.1M448.4 1510.5v2M450.7 1512.5v4M453 1516.5v2M455.3 1518.5v2M457.6 1520.5v2M459.8 1522.5v4.1M462.1 1526.6v2M464.4 1528.6v2M466.7 1530.6v2M469 1532.6v2M471.2 1534.6v2M473.5 1536.6v2M475.8 1538.6v2.1M478.1 1540.7h2.3M480.4 1542.7h2.3M482.7 1544.7h2.2M484.9 1546.7h4.6M489.5 1548.7h4.6M494.1 1550.7h4.5M498.6 1552.7h4.6M503.2 1554.8h4.6M507.8 1556.8h4.5M512.3 1558.8h6.9M519.2 1560.8h6.8M526 1562.8h6.9M532.9 1564.8h6.8M539.7 1566.8h9.1M548.8 1568.9h9.2M558 1570.9h11.4M569.4 1572.9h13.7M583.1 1574.9h20.5M603.6 1576.9h107.3M710.9 1574.9h232.7"/>
<path class="d" stroke="#ff0000" d="M99.3 1576.9h93.5M192.8 1572.9v2M195.1 1566.8v6.1M197.4 1538.6v28.2M199.7 1442v94.6M202 1282.9v157.1M204.3 1258.7v22.2M206.5 1252.7v6M208.8 1252.7v10M211.1 1262.7v18.2M213.4 1280.9v22.1M215.7 1303v22.2M217.9 1325.2v20.1M220.2 1345.3v14.1M222.5 1359.4v10.1M224.8 1369.5v8M227.1 1377.5v2M229.4 1379.5v4.1M231.6 1383.6h9.2M240.8 1381.6h4.5M245.3 1379.5h4.6M249.9 1377.5h2.3M252.2 1375.5h4.5M256.7 1373.5h4.6M261.3 1371.5h4.6M265.9 1369.5h2.3M268.2 1367.5h4.5M272.7 1365.4h4.6M277.3 1363.4h2.3M279.6 1361.4h2.2M281.8 1359.4h2.3M284.1 1357.4h2.3M286.4 1355.4h2.3M288.7 1353.4h2.3M291 1351.3h2.3M293.3 1349.3h2.2M295.5 1347.3h2.3M297.8 1345.3h2.3M300.1 1343.3h2.3M302.4 1341.3h2.3M304.7 1339.3h2.2M306.9 1337.2h6.9M313.8 1335.2h20.5M334.3 1337.2h9.2M343.5 1339.3h4.5M348 1341.3h4.6M352.6 1343.3h4.5M357.1 1345.3h2.3M359.4 1347.3h4.6M364 1349.3h2.3M366.3 1351.3h2.3M368.6 1353.4h2.2M370.8 1355.4h2.3M373.1 1357.4v2M375.4 1359.4v2M377.7 1361.4v2M380 1363.4v2M382.2 1365.4v4.1M384.5 1369.5v2M386.8 1371.5v2M389.1 1373.5v2M391.4 1375.5v2M393.7 1379.5v2.1M395.9 1381.6v2M398.2 1383.6v4M400.5 1387.6v2M402.8 1389.6v2M405.1 1391.6v4.1M407.4 1395.7v2M409.6 1397.7v2M411.9 1401.7v2M414.2 1403.7v2M416.5 1405.7v4.1M418.8 1409.8v2M421 1411.8v2M423.3 1413.8v4M425.6 1417.8v2M427.9 1419.8v4.1M430.2 1423.9v2M432.5 1425.9v2M434.7 1427.9v4M437 1431.9v2M439.3 1433.9v4M441.6 1437.9v2.1M443.9 1440v2M446.1 1442v4M448.4 1446v2M450.7 1448v4M453 1452v2.1M455.3 1454.1v4M457.6 1458.1v2M459.8 1460.1v2M462.1 1462.1v4M464.4 1466.1v2.1M466.7 1468.2v2M469 1472.2v2M471.2 1474.2v2M473.5 1476.2v4M475.8 1480.2v2.1M478.1 1482.3v2M480.4 1484.3v4M482.7 1488.3v2M484.9 1490.3v2M487.2 1492.3v2M489.5 1496.4v2M491.8 1498.4v2M494.1 1500.4v2M496.4 1502.4v2M498.6 1504.4v4M500.9 1508.4v2.1M503.2 1510.5v2M505.5 1512.5v2M507.8 1514.5v2M510 1516.5v2M512.3 1518.5v2M514.6 1520.5v2M516.9 1522.5v2.1M519.2 1524.6v2M521.5 1526.6h2.2M523.7 1528.6h2.3M526 1530.6h2.3M528.3 1532.6h2.3M530.6 1534.6h2.3M532.9 1536.6h2.2M535.1 1538.6h2.3M537.4 1540.7h2.3M539.7 1542.7h2.3M542 1544.7h4.6M546.6 1546.7h2.2M548.8 1548.7h2.3M551.1 1550.7h2.3M553.4 1552.7h2.3M555.7 1554.8h2.3M558 1556.8h4.5M562.5 1558.8h4.6M567.1 1560.8h4.6M571.7 1562.8h4.5M576.2 1564.8h4.6M580.8 1566.8h6.8M587.6 1568.9h6.9M594.5 1570.9h6.8M601.3 1572.9h11.4M612.7 1574.9h11.4M624.1 1576.9h86.8M710.9 1574.9h232.7"/>
<path class="d" stroke="#ffff00" d="M99.3 1576.9h93.5M192.8 1574.9h2.3M195.1 1568.9v4M197.4 1546.7v22.2M199.7 1474.2v72.5M202 1377.5v94.7M204.3 1353.4v24.1M206.5 1349.3v4.1M208.8 1351.3v10.1M211.1 1361.4v16.1M213.4 1377.5v20.2M215.7 1397.7v16.1M217.9 1413.8v8M220.2 1421.8v6.1M222.5 1427.9v2M224.8 1429.9v4M227.1 1433.9v2M229.4 1435.9h6.8M236.2 1433.9h4.6M240.8 1431.9h2.2M243 1429.9h4.6M247.6 1427.9h2.3M249.9 1425.9h2.3M252.2 1423.9h2.3M254.5 1421.8h2.2M256.7 1419.8h2.3M259 1417.8h2.3M261.3 1415.8h2.3M263.6 1413.8h2.3M265.9 1411.8h2.3M268.2 1409.8h2.2M270.4 1405.7v2M272.7 1403.7v2M275 1401.7v2M277.3 1399.7v2M279.6 1397.7v2M281.8 1395.7v2M284.1 1393.6v2.1M286.4 1391.6v2M288.7 1391.6h2.3M291 1389.6h2.3M293.3 1387.6h2.2M295.5 1385.6h2.3M297.8 1383.6h2.3M300.1 1381.6h2.3M302.4 1377.5v2M304.7 1375.5v2M306.9 1373.5v2M309.2 1371.5v2M311.5 1369.5v2M313.8 1367.5v2M316.1 1365.4v2.1M318.4 1365.4h2.2M320.6 1363.4h2.3M322.9 1361.4h2.3M325.2 1359.4h4.6M329.8 1357.4h4.5M334.3 1355.4h6.9M341.2 1353.4h9.1M350.3 1351.3h20.5M370.8 1349.3h4.6M375.4 1351.3h9.1M384.5 1353.4h4.6M389.1 1355.4h4.6M393.7 1357.4h4.5M398.2 1359.4h2.3M400.5 1361.4h4.6M405.1 1363.4h2.3M407.4 1365.4h2.2M411.9 1367.5h2.3M414.2 1369.5h2.3M416.5 1371.5h2.3M418.8 1373.5v2M421 1375.5v2M423.3 1377.5v2M425.6 1379.5v2.1M427.9 1381.6v2M430.2 1383.6v4M432.5 1387.6v2M434.7 1389.6v2M437 1391.6v2M439.3 1393.6v4.1M441.6 1397.7v2M443.9 1399.7v2M446.1 1401.7v4M448.4 1405.7v2M450.7 1407.7v4.1M453 1411.8v2M455.3 1413.8v4M457.6 1417.8v2M459.8 1419.8v4.1M462.1 1423.9v2M464.4 1425.9v2M466.7 1427.9v4M469 1431.9v2M471.2 1433.9v4M473.5 1437.9v2.1M475.8 1440v4M478.1 1444v2M480.4 1446v2M482.7 1448v4M484.9 1452v2.1M487.2 1454.1v4M489.5 1458.1v2M491.8 1460.1v2M494.1 1462.1v4M496.4 1466.1v2.1M498.6 1468.2v4M500.9 1472.2v2M503.2 1474.2v2M505.5 1476.2v2M507.8 1478.2v4.1M510 1482.3v2M512.3 1484.3v2M514.6 1486.3v2M516.9 1490.3v2M519.2 1492.3v2M521.5 1494.3v2.1M523.7 1496.4v2M526 1498.4v4M528.3 1502.4v2M530.6 1504.4v2M532.9 1506.4v2M535.1 1508.4v4.1M537.4 1512.5v2M539.7 1514.5v2M542 1516.5v2M544.3 1518.5v2M546.6 1520.5v4.1M548.8 1524.6v2M551.1 1526.6v2M553.4 1528.6v2M555.7 1530.6v2M558 1532.6h2.2M560.2 1534.6h2.3M562.5 1536.6h2.3M564.8 1538.6h2.3M567.1 1540.7h2.3M569.4 1542.7h4.5M573.9 1544.7h2.3M576.2 1546.7h4.6M580.8 1548.7h4.5M585.3 1550.7h4.6M589.9 1552.7h4.6M594.5 1554.8h4.5M599 1556.8h4.6M603.6 1558.8h2.3M605.9 1560.8h4.5M610.4 1562.8h4.6M615 1564.8h2.3M617.3 1566.8h4.6M621.9 1568.9h4.5M626.4 1570.9h9.2M635.6 1572.9h11.4M647 1574.9h34.2M681.2 1576.9h29.7M710.9 1574.9h232.7"/>
<path class="d" stroke="#ff00ff" d="M99.3 1576.9h93.5M192.8 1572.9v2M195.1 1558.8v14.1M197.4 1516.5v42.3M199.7 1482.3v34.2M202 1454.1v28.2M204.3 1440v14.1M206.5 1437.9v4.1M208.8 1442v6M211.1 1448v6.1M213.4 1454.1v8M215.7 1462.1v6.1M217.9 1468.2v4M220.2 1472.2v4M222.5 1476.2v4M224.8 1480.2v2.1M227.1 1482.3h2.3M229.4 1480.2h4.5M233.9 1478.2h4.6M238.5 1476.2h2.3M240.8 1474.2h2.2M243 1472.2h2.3M245.3 1470.2h2.3M247.6 1468.2h2.3M249.9 1466.1h2.3M252.2 1464.1h2.3M254.5 1462.1h2.2M256.7 1460.1h2.3M259 1458.1h2.3M261.3 1456.1h2.3M263.6 1454.1h2.3M265.9 1452h2.3M268.2 1450h2.2M270.4 1448h2.3M272.7 1446h2.3M275 1444h2.3M277.3 1442h2.3M279.6 1440h2.2M281.8 1437.9h2.3M284.1 1435.9h4.6M288.7 1433.9h2.3M291 1431.9h2.3M293.3 1429.9h2.2M295.5 1427.9h2.3M297.8 1425.9h2.3M300.1 1423.9h2.3M302.4 1419.8v2M304.7 1417.8v2M306.9 1415.8v2M309.2 1413.8v2M311.5 1411.8v2M313.8 1409.8v2M316.1 1407.7v2.1M318.4 1405.7v2M320.6 1403.7v2M322.9 1401.7v2M325.2 1399.7v2M327.5 1397.7v2M329.8 1395.7v2M332 1391.6v4.1M334.3 1389.6v2M336.6 1387.6v2M338.9 1385.6v2M341.2 1383.6v2M343.5 1381.6v2M345.7 1379.5v2.1M348 1377.5v2M350.3 1375.5v2M352.6 1373.5v2M354.9 1371.5v2M357.1 1371.5h2.3M359.4 1369.5h2.3M361.7 1367.5h4.6M366.3 1365.4h2.3M368.6 1363.4h6.8M375.4 1361.4h4.6M380 1359.4h9.1M389.1 1357.4h34.2M423.3 1359.4h4.6M427.9 1361.4h2.3M430.2 1363.4h2.3M432.5 1365.4h4.5M437 1367.5h2.3M439.3 1369.5h2.3M441.6 1371.5h2.3M443.9 1373.5h4.5M448.4 1375.5h2.3M450.7 1377.5h2.3M453 1379.5h2.3M455.3 1381.6h2.3M457.6 1383.6h2.2M459.8 1385.6h2.3M462.1 1387.6h2.3M464.4 1389.6h2.3M466.7 1391.6h2.3M469 1393.6h2.2M471.2 1395.7h2.3M473.5 1397.7h0M475.8 1399.7v2M478.1 1401.7v2M480.4 1403.7v2M482.7 1405.7v2M484.9 1407.7v2.1M487.2 1409.8v2M489.5 1411.8v2M491.8 1413.8v2M494.1 1415.8v4M496.4 1419.8v2M498.6 1421.8v2.1M500.9 1423.9v2M503.2 1425.9v2M505.5 1427.9v4M507.8 1431.9v2M510 1433.9v2M512.3 1435.9v2M514.6 1437.9v4.1M516.9 1442v2M519.2 1444v2M521.5 1446v4M523.7 1450v2M526 1452v2.1M528.3 1454.1v4M530.6 1458.1v2M532.9 1460.1v2M535.1 1462.1v4M537.4 1466.1v2.1M539.7 1468.2v2M542 1470.2v4M544.3 1474.2v2M546.6 1476.2v2M548.8 1478.2v2M551.1 1480.2v4.1M553.4 1484.3v2M555.7 1486.3v2M558 1488.3v2M560.2 1492.3v2M562.5 1494.3v2.1M564.8 1496.4v2M567.1 1498.4v2M569.4 1500.4v4M571.7 1504.4v2M573.9 1506.4v2M576.2 1508.4v2.1M578.5 1510.5v4M580.8 1514.5v2M583.1 1516.5v2M585.3 1518.5v2M587.6 1520.5v2M589.9 1524.6v2M592.2 1526.6v2M594.5 1528.6v2M596.8 1530.6v2M599 1532.6h2.3M601.3 1534.6h2.3M603.6 1536.6h2.3M605.9 1538.6h2.3M608.2 1540.7h2.2M610.4 1542.7h4.6M615 1544.7h2.3M617.3 1546.7h4.6M621.9 1548.7h2.2M624.1 1550.7h4.6M628.7 1552.7h4.6M633.3 1554.8h2.3M635.6 1556.8h4.5M640.1 1558.8h4.6M644.7 1560.8h6.8M651.5 1562.8h4.6M656.1 1564.8h6.8M662.9 1566.8h4.6M667.5 1568.9h6.8M674.3 1570.9h6.9M681.2 1572.9h11.4M692.6 1574.9h251"/>
<path class="d" stroke="#00ffff" d="M99.3 1576.9h93.5M192.8 1570.9v4M195.1 1560.8v10.1M197.4 1546.7v14.1M199.7 1530.6v16.1M202 1514.5v16.1M204.3 1498.4v14.1M206.5 1498.4v2M208.8 1500.4v2M211.1 1502.4v2M213.4 1504.4v4M215.7 1508.4v2.1M217.9 1510.5h2.3M220.2 1512.5h13.7M233.9 1510.5h4.6M238.5 1508.4h2.3M240.8 1506.4h4.5M245.3 1504.4h4.6M249.9 1502.4h2.3M252.2 1500.4h4.5M256.7 1498.4h2.3M259 1496.4h2.3M261.3 1494.3h2.3M263.6 1492.3h4.6M268.2 1490.3h2.2M270.4 1488.3h2.3M272.7 1486.3h2.3M275 1484.3h2.3M277.3 1482.3h2.3M279.6 1480.2h2.2M281.8 1478.2h4.6M286.4 1476.2h2.3M288.7 1474.2h4.6M293.3 1472.2h2.2M295.5 1470.2h2.3M297.8 1468.2h2.3M300.1 1466.1h2.3M302.4 1464.1h2.3M304.7 1462.1h2.2M306.9 1460.1h2.3M309.2 1456.1v2M311.5 1454.1v2M313.8 1452v2.1M316.1 1450v2M318.4 1448v2M320.6 1446v2M322.9 1444v2M325.2 1442v2M327.5 1440v2M329.8 1437.9v2.1M332 1435.9v2M334.3 1431.9v2M336.6 1429.9v2M338.9 1427.9v2M341.2 1425.9v2M343.5 1423.9v2M345.7 1421.8v2.1M348 1419.8v2M350.3 1417.8v2M352.6 1415.8v2M354.9 1413.8v2M357.1 1411.8v2M359.4 1409.8v2M361.7 1407.7v2.1M364 1405.7v2M366.3 1403.7v2M368.6 1401.7v2M370.8 1399.7v2M373.1 1397.7v2M375.4 1395.7v2M377.7 1393.6v2.1M380 1391.6v2M382.2 1389.6v2M384.5 1389.6h2.3M386.8 1387.6h2.3M389.1 1385.6h2.3M391.4 1383.6h4.5M395.9 1381.6h2.3M398.2 1379.5h4.6M402.8 1377.5h2.3M405.1 1375.5h4.5M409.6 1373.5h2.3M411.9 1371.5h4.6M416.5 1369.5h2.3M418.8 1367.5h4.5M423.3 1365.4h4.6M427.9 1363.4h6.8M434.7 1361.4h6.9M441.6 1359.4h13.7M455.3 1361.4h6.8M462.1 1363.4h4.6M466.7 1365.4h2.3M469 1367.5h2.2M473.5 1369.5h2.3M475.8 1371.5h4.6M480.4 1373.5h2.3M482.7 1375.5h2.2M484.9 1377.5h4.6M489.5 1379.5h2.3M491.8 1381.6h2.3M494.1 1383.6h2.3M496.4 1385.6h4.5M500.9 1387.6h2.3M503.2 1389.6h2.3M505.5 1391.6h2.3M507.8 1393.6h2.2M510 1395.7h2.3M512.3 1397.7h2.3M514.6 1399.7h2.3M516.9 1401.7h2.3M519.2 1403.7h0M521.5 1405.7v2M523.7 1407.7v2.1M526 1409.8v2M528.3 1411.8v2M530.6 1413.8v2M532.9 1415.8v4M535.1 1419.8v2M537.4 1421.8v2.1M539.7 1423.9v2M542 1427.9v2M544.3 1429.9v2M546.6 1431.9v4M548.8 1435.9v2M551.1 1437.9v2.1M553.4 1440v4M555.7 1444v2M558 1446v4M560.2 1450v2M562.5 1452v2.1M564.8 1454.1v4M567.1 1458.1v2M569.4 1460.1v2M571.7 1462.1v4M573.9 1466.1v2.1M576.2 1468.2v4M578.5 1472.2v2M580.8 1474.2v2M583.1 1476.2v4M585.3 1480.2v2.1M587.6 1482.3v2M589.9 1484.3v4M592.2 1488.3v2M594.5 1490.3v2M596.8 1492.3v4.1M599 1496.4v2M601.3 1498.4v2M603.6 1500.4v2M605.9 1502.4v2M608.2 1504.4v4M610.4 1508.4v2.1M612.7 1510.5v2M615 1512.5v2M617.3 1514.5v2M619.6 1516.5v2M621.9 1518.5v4M624.1 1522.5v2.1M626.4 1524.6v2M628.7 1526.6v2M631 1528.6v2M633.3 1530.6h2.3M635.6 1532.6h2.2M637.8 1534.6h2.3M640.1 1536.6h2.3M642.4 1538.6h2.3M644.7 1540.7h4.5M649.2 1542.7h2.3M651.5 1544.7h2.3M653.8 1546.7h4.6M658.4 1548.7h2.3M660.7 1550.7h4.5M665.2 1552.7h4.6M669.8 1554.8h4.5M674.3 1556.8h4.6M678.9 1558.8h4.6M683.5 1560.8h6.8M690.3 1562.8h9.1M699.4 1564.8h9.2M708.6 1566.8h13.7M722.3 1568.9h11.4M733.7 1570.9h13.7M747.4 1572.9h18.2M765.6 1574.9h178"/>
<path class="d" stroke="#00ff00" d="M99.3 1576.9h93.5M192.8 1572.9v2M195.1 1566.8v6.1M197.4 1560.8v6M199.7 1556.8v4M202 1554.8v2M204.3 1554.8h31.9M236.2 1552.7h6.8M243 1550.7h6.9M249.9 1548.7h6.8M256.7 1546.7h4.6M261.3 1544.7h4.6M265.9 1542.7h4.5M270.4 1540.7h4.6M275 1538.6h4.6M279.6 1536.6h2.2M281.8 1534.6h4.6M286.4 1532.6h4.6M291 1530.6h2.3M295.5 1528.6h2.3M297.8 1526.6h4.6M302.4 1524.6h2.3M304.7 1522.5h4.5M309.2 1520.5h2.3M311.5 1518.5h4.6M316.1 1516.5h2.3M318.4 1514.5h2.2M320.6 1512.5h2.3M322.9 1510.5h2.3M325.2 1508.4h2.3M327.5 1506.4h2.3M329.8 1504.4h2.2M332 1502.4h2.3M334.3 1500.4h2.3M336.6 1498.4h2.3M338.9 1496.4h2.3M341.2 1494.3h2.3M343.5 1492.3h2.2M345.7 1490.3h2.3M348 1488.3h2.3M350.3 1486.3h2.3M352.6 1484.3h2.3M354.9 1482.3h2.2M357.1 1480.2h2.3M359.4 1478.2h2.3M361.7 1476.2h2.3M364 1474.2h2.3M366.3 1472.2h2.3M368.6 1470.2h2.2M370.8 1468.2h2.3M373.1 1466.1h2.3M375.4 1464.1h2.3M377.7 1462.1h2.3M380 1460.1h2.2M382.2 1458.1h2.3M384.5 1456.1h2.3M386.8 1454.1h2.3M389.1 1452h2.3M391.4 1450h2.3M393.7 1448h2.2M395.9 1446h2.3M398.2 1444h2.3M400.5 1442h2.3M402.8 1440h2.3M405.1 1437.9h2.3M407.4 1435.9h2.2M409.6 1433.9h2.3M411.9 1431.9h2.3M414.2 1429.9h2.3M416.5 1427.9h2.3M418.8 1425.9h2.2M421 1423.9h2.3M423.3 1421.8h2.3M425.6 1419.8h2.3M427.9 1417.8h2.3M430.2 1415.8h2.3M432.5 1413.8h2.2M434.7 1411.8h2.3M437 1409.8h2.3M439.3 1407.7h2.3M441.6 1405.7h2.3M443.9 1403.7h2.2M446.1 1401.7h2.3M448.4 1399.7h2.3M450.7 1397.7h2.3M453 1393.6v2.1M455.3 1391.6v2M457.6 1389.6v2M459.8 1387.6v2M462.1 1385.6v2M464.4 1383.6v2M466.7 1381.6v2M469 1381.6h2.2M471.2 1379.5h2.3M473.5 1377.5h4.6M478.1 1375.5h4.6M482.7 1373.5h4.5M487.2 1371.5h4.6M491.8 1369.5h9.1M500.9 1367.5h20.6M521.5 1365.4h13.6M535.1 1367.5h6.9M542 1369.5h6.8M548.8 1371.5h4.6M553.4 1373.5h2.3M555.7 1375.5h4.5M560.2 1377.5h4.6M564.8 1379.5h2.3M567.1 1381.6h2.3M569.4 1383.6h4.5M573.9 1385.6h2.3M576.2 1387.6h2.3M578.5 1389.6h2.3M580.8 1391.6v2M583.1 1393.6v2.1M585.3 1395.7v2M587.6 1397.7v2M589.9 1399.7v2M592.2 1401.7v2M594.5 1403.7v2M596.8 1405.7v4.1M599 1409.8v2M601.3 1411.8v2M603.6 1413.8v2M605.9 1415.8v2M608.2 1417.8v2M610.4 1419.8v2M612.7 1421.8v2.1M615 1423.9v2M617.3 1425.9v2M619.6 1427.9v4M621.9 1431.9v2M624.1 1433.9v2M626.4 1435.9v2M628.7 1437.9v2.1M631 1440v4M633.3 1444v2M635.6 1446v2M637.8 1448v2M640.1 1450v4.1M642.4 1454.1v2M644.7 1456.1v4M647 1460.1v2M649.2 1462.1v2M651.5 1464.1v4.1M653.8 1468.2v2M656.1 1470.2v4M658.4 1474.2v2M660.7 1476.2v2M662.9 1478.2v4.1M665.2 1482.3v2M667.5 1484.3v2M669.8 1486.3v4M672.1 1490.3v2M674.3 1492.3v4.1M676.6 1496.4v2M678.9 1498.4v4M681.2 1502.4v2M683.5 1504.4v2M685.8 1506.4v4.1M688 1510.5v2M690.3 1512.5v2M692.6 1514.5v2M694.9 1516.5v2M697.2 1518.5v4M699.4 1522.5v2.1M701.7 1524.6v2M704 1526.6v2M706.3 1528.6v2M708.6 1530.6v2M710.9 1532.6h2.2M713.1 1534.6h2.3M715.4 1536.6h2.3M717.7 1538.6h2.3M720 1540.7h2.3M722.3 1542.7h4.5M726.8 1544.7h2.3M729.1 1546.7h4.6M733.7 1548.7h2.3M736 1550.7h4.5M740.5 1552.7h2.3M742.8 1554.8h4.6M747.4 1556.8h4.5M751.9 1558.8h4.6M756.5 1560.8h6.8M763.3 1562.8h4.6M767.9 1564.8h6.9M774.8 1566.8h9.1M783.9 1568.9h9.1M793 1570.9h11.4M804.4 1572.9h22.8M827.2 1574.9h116.4"/>
<rect x="809.9" y="903.0" width="176.0" height="241.9000000000001" fill="#fff" stroke="#555" stroke-width="1.15"/>
<line x1="826.3" x2="909.5" y1="925.6" y2="925.6" stroke="#aaaaff" stroke-width="1"/>
<circle cx="869.6" cy="927.3" r="6.5" fill="#0000ff"/>
<text x="920.8" y="934.4" font-size="26.8">1V</text>
<line x1="826.3" x2="909.5" y1="964.5" y2="964.5" stroke="#ff6060" stroke-width="1"/>
<circle cx="869.6" cy="966.2" r="6.5" fill="#ff0000"/>
<text x="920.8" y="973.3" font-size="26.8">1.2V</text>
<line x1="826.3" x2="909.5" y1="1003.5" y2="1003.5" stroke="#ffff30" stroke-width="1"/>
<circle cx="869.6" cy="1005.2" r="6.5" fill="#ffff00"/>
<text x="920.8" y="1012.3" font-size="26.8">1.3V</text>
<line x1="826.3" x2="909.5" y1="1042.4" y2="1042.4" stroke="#ffaaff" stroke-width="1"/>
<circle cx="869.6" cy="1044.1" r="6.5" fill="#ff00ff"/>
<text x="920.8" y="1051.2" font-size="26.8">1.4V</text>
<line x1="826.3" x2="909.5" y1="1081.3" y2="1081.3" stroke="#aaffff" stroke-width="1"/>
<circle cx="869.6" cy="1083.0" r="6.5" fill="#00ffff"/>
<text x="920.8" y="1090.1" font-size="26.8">1.5V</text>
<line x1="826.3" x2="909.5" y1="1120.2" y2="1120.2" stroke="#aaffaa" stroke-width="1"/>
<circle cx="869.6" cy="1122.0" r="6.5" fill="#00ff00"/>
<text x="920.8" y="1129.0" font-size="26.8">1.7V</text>
<rect x="986.6" y="880" width="37.4" height="434" fill="#fff"/>
<path d="M985 888.3H996V1314M985 1029.3H996M985 1170.8H996M985 1312.9H996" fill="none" stroke="#555" stroke-width="1.35"/>
<g font-size="28.5" fill="#000">
<text transform="translate(88.9,1582.4) scale(0.96,1)" text-anchor="end">0</text>
<text transform="translate(88.9,1443.8) scale(0.96,1)" text-anchor="end">0.5</text>
<text transform="translate(88.9,1307.0) scale(0.96,1)" text-anchor="end">1</text>
<text transform="translate(88.9,1170.0) scale(0.96,1)" text-anchor="end">1.5</text>
<text transform="translate(88.9,1032.9) scale(0.96,1)" text-anchor="end">2</text>
<text transform="translate(88.9,895.9) scale(0.96,1)" text-anchor="end">2.5</text>
<text transform="translate(97.8,1605.5) scale(0.96,1)" text-anchor="middle">0</text>
<text transform="translate(209.6,1605.5) scale(0.96,1)" text-anchor="middle">100</text>
<text transform="translate(321.4,1605.5) scale(0.96,1)" text-anchor="middle">200</text>
<text transform="translate(433.2,1605.5) scale(0.96,1)" text-anchor="middle">300</text>
<text transform="translate(547.3,1605.5) scale(0.96,1)" text-anchor="middle">400</text>
<text transform="translate(659.4,1605.5) scale(0.96,1)" text-anchor="middle">500</text>
<text transform="translate(771.5,1605.5) scale(0.96,1)" text-anchor="middle">600</text>
<text transform="translate(883.1,1605.5) scale(0.96,1)" text-anchor="middle">700</text>
<g clip-path="url(#c800)"><text transform="translate(997.2,1605.5) scale(0.96,1)" text-anchor="middle">800</text></g>
</g>
<g font-size="27.2" fill="#000">
<text x="544.8" y="1640.5" text-anchor="middle">time(s)</text>
<text transform="translate(29.4,1234.1) rotate(-90)" text-anchor="middle">UV signal</text>
</g>
<text transform="translate(16.3,862.3) scale(1.07,1)" font-size="37.5">b)</text>
</svg></body></html>
